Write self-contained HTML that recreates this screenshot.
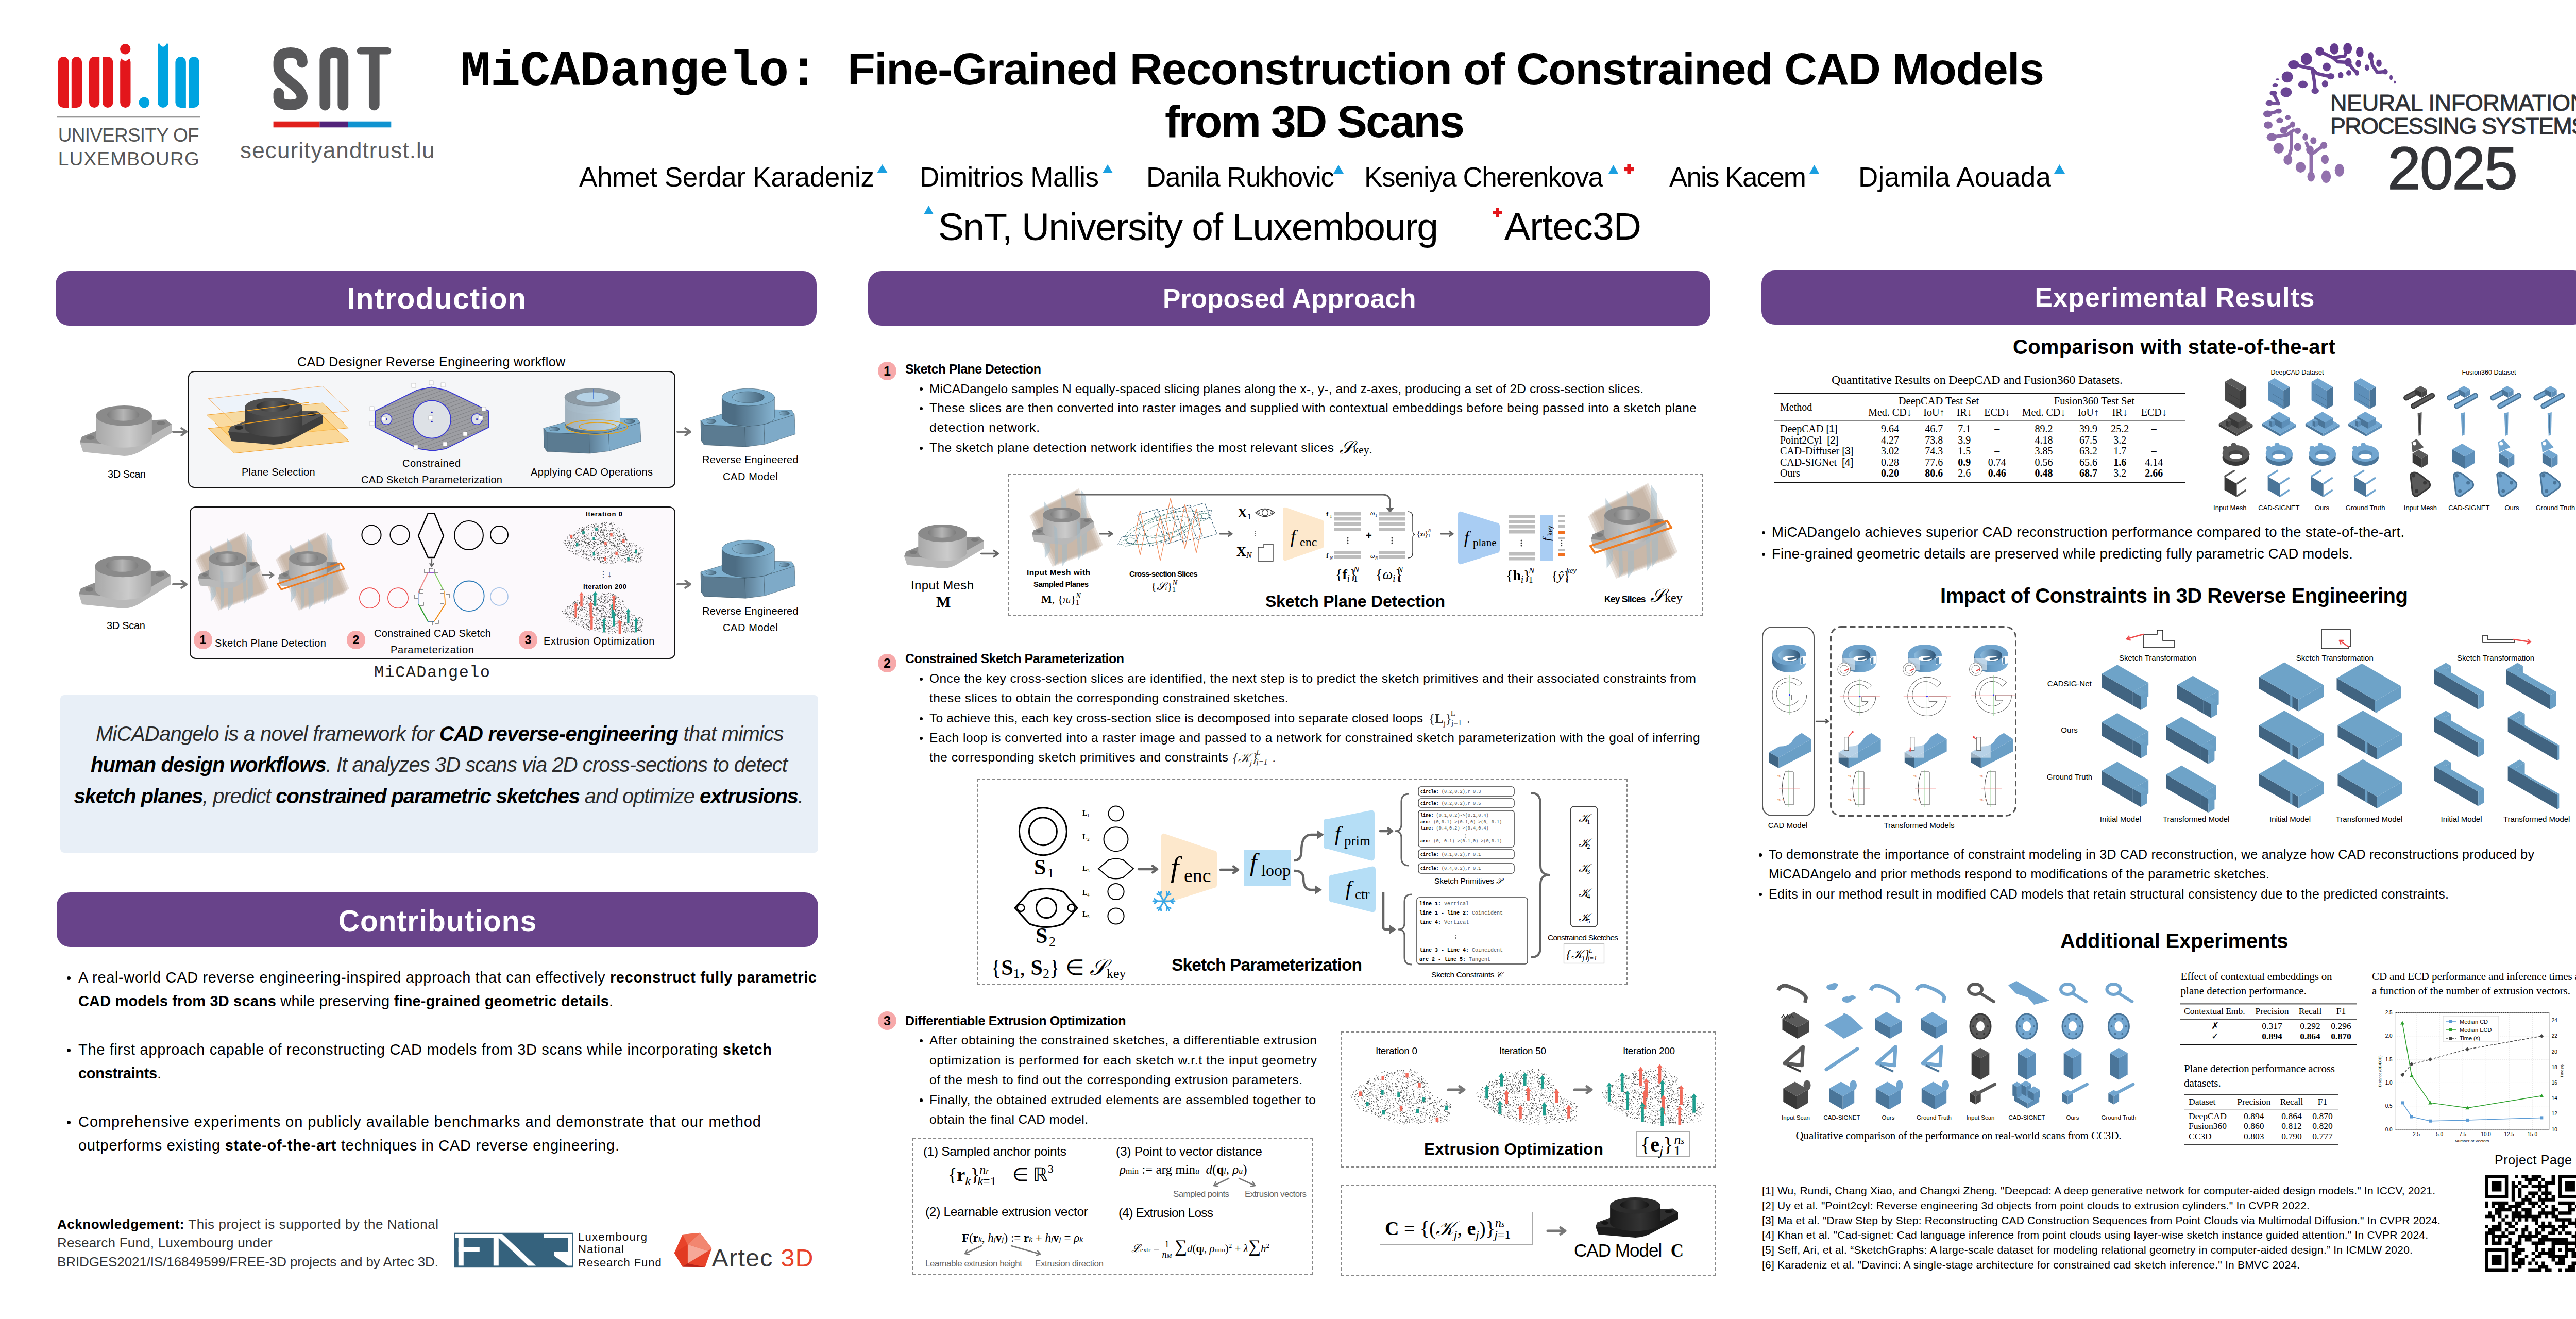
<!DOCTYPE html>
<html><head><meta charset="utf-8"><title>MiCADangelo poster</title><style>
*{margin:0;padding:0;box-sizing:border-box}
html,body{width:5120px;height:2560px;background:#fff;overflow:hidden}
body{position:relative;font-family:"Liberation Sans",Arial,sans-serif;color:#000}
.a{position:absolute}
.t{position:absolute;white-space:nowrap;line-height:1}

</style></head><body>
<svg class="a" style="left:0px;top:0px;" width="420" height="240" viewBox="0 0 420 240"><rect x="112.8" y="110" width="20.7" height="99" rx="10.2" fill="#e3161b"/><rect x="138.8" y="110" width="20.2" height="99" rx="10.2" fill="#e3161b"/><rect x="173" y="110" width="20.2" height="99" rx="10.2" fill="#e3161b"/><rect x="199" y="110" width="20.3" height="99" rx="10.2" fill="#e3161b"/><rect x="233.2" y="110" width="20.3" height="99" rx="10.2" fill="#e3161b"/><rect x="340.4" y="110" width="20.5" height="99" rx="10.2" fill="#00a3e0"/><rect x="366.2" y="110" width="20.5" height="99" rx="10.2" fill="#00a3e0"/><rect x="306.2" y="84.7" width="20.5" height="124.3" rx="10.2" fill="#00a3e0"/><rect x="306.2" y="84.7" width="20.5" height="12" fill="#00a3e0"/><rect x="123" y="199" width="10.5" height="10" fill="#e3161b"/><rect x="138.8" y="199" width="10" height="10" fill="#e3161b"/><rect x="183" y="110" width="10.2" height="10" fill="#e3161b"/><rect x="199" y="110" width="10" height="10" fill="#e3161b"/><rect x="350" y="199" width="10.9" height="10" fill="#00a3e0"/><rect x="366.2" y="199" width="10" height="10" fill="#00a3e0"/><circle cx="243.3" cy="110" r="8" fill="#fff"/><rect x="233.2" y="102" width="20.3" height="8" fill="#fff"/><circle cx="316.5" cy="84.7" r="6" fill="#fff"/><circle cx="243.2" cy="95.2" r="10.2" fill="#e3161b"/><circle cx="279.9" cy="198.9" r="10.3" fill="#00a3e0"/><rect x="110.6" y="226.4" width="278.2" height="1.8" fill="#555"/></svg>
<div class="t" id="f0" style="top:243.5px;font-size:37px;color:#555;letter-spacing:-0.778px;left:112.8px;">UNIVERSITY OF</div>
<div class="t" id="f1" style="top:289.7px;font-size:37px;color:#555;letter-spacing:1.194px;left:112.8px;">LUXEMBOURG</div>
<svg class="a" style="left:0px;top:0px;" width="800" height="260" viewBox="0 0 800 260"><g fill="none" stroke="#58585a" stroke-linecap="round" stroke-linejoin="round"><path d="M586.5,121 L586.5,120 Q586.5,102.3 564,102.3 Q541,102.3 541,120 L541,128 Q541,141 553,151 L575,169 Q586.5,179 586.5,192 L586.5,186 Q586.5,203.7 564,203.7 Q541,203.7 541,190 L541,181" stroke-width="20.8"/><path d="M630.8,204 L630.8,116 Q630.8,102.3 648,102.3 Q665.8,102.3 665.8,116 L665.8,204" stroke-width="20.8"/><path d="M699.5,98.8 L752.5,98.8" stroke-width="13.6"/><path d="M726.3,102 L726.3,204" stroke-width="20.7"/></g><rect x="530.6" y="235.7" width="90" height="11.6" fill="#e1201c"/><rect x="620.5" y="235.7" width="55.5" height="11.6" fill="#52237a"/><rect x="675.8" y="235.7" width="83.5" height="11.6" fill="#1093d0"/></svg>
<div class="t" id="f2" style="top:269.5px;font-size:44px;color:#5d5d5f;letter-spacing:1.135px;left:466px;">securityandtrust.lu</div>
<svg class="a" style="left:4380px;top:75px;" width="290" height="300" viewBox="0 0 290 300"><g transform="translate(-4380,-75)"><defs><linearGradient id="ng" gradientUnits="userSpaceOnUse" x1="0" y1="85" x2="0" y2="355"><stop offset="0" stop-color="#63398d"/><stop offset="0.38" stop-color="#6c4896"/><stop offset="0.55" stop-color="#8968a6"/><stop offset="1" stop-color="#9473ae"/></linearGradient></defs><g fill="url(#ng)" stroke="url(#ng)"><ellipse cx="4502.7" cy="99.8" rx="8.5" ry="8.5" stroke="none"/><ellipse cx="4530.8" cy="94.8" rx="8.5" ry="10.9" stroke="none"/><ellipse cx="4556.7" cy="94.1" rx="8.5" ry="10.9" stroke="none"/><ellipse cx="4580.3" cy="100.9" rx="7.3" ry="10.2" stroke="none"/><ellipse cx="4601.7" cy="108.8" rx="5.3" ry="7.8" stroke="none"/><ellipse cx="4617.5" cy="122.7" rx="5.3" ry="7.3" stroke="none"/><ellipse cx="4629.8" cy="139.1" rx="4.9" ry="5.3" stroke="none"/><ellipse cx="4641.1" cy="150.4" rx="2.9" ry="4.9" stroke="none"/><ellipse cx="4648.3" cy="159.4" rx="1.9" ry="2.9" stroke="none"/><ellipse cx="4557.8" cy="121.1" rx="6.8" ry="8.5" stroke="none"/><ellipse cx="4577.6" cy="123.4" rx="5.3" ry="7.3" stroke="none"/><ellipse cx="4594.3" cy="131.3" rx="4.4" ry="6.1" stroke="none"/><ellipse cx="4574.7" cy="141.4" rx="4.1" ry="5.3" stroke="none"/><ellipse cx="4558.9" cy="141.4" rx="4.9" ry="5.3" stroke="none"/><ellipse cx="4543.2" cy="145.9" rx="5.3" ry="6.1" stroke="none"/><ellipse cx="4516.2" cy="130.1" rx="7.8" ry="8.5" stroke="none"/><ellipse cx="4476.8" cy="114.4" rx="10.9" ry="11.7" stroke="none"/><ellipse cx="4452.0" cy="125.6" rx="10.9" ry="8.5" stroke="none"/><ellipse cx="4439.6" cy="149.3" rx="10.9" ry="10.9" stroke="none"/><ellipse cx="4470.0" cy="163.9" rx="9.2" ry="7.3" stroke="none"/><ellipse cx="4512.8" cy="162.8" rx="6.1" ry="6.8" stroke="none"/><ellipse cx="4493.7" cy="176.3" rx="7.3" ry="6.1" stroke="none"/><ellipse cx="4437.4" cy="179.0" rx="10.9" ry="9.7" stroke="none"/><ellipse cx="4524.0" cy="148.1" rx="7.3" ry="6.1" stroke="none"/><ellipse cx="4420.5" cy="154.2" rx="3.6" ry="1.9" stroke="none"/><ellipse cx="4416.0" cy="165.5" rx="5.3" ry="3.4" stroke="none"/><ellipse cx="4412.6" cy="180.8" rx="7.3" ry="4.9" stroke="none"/><ellipse cx="4404.8" cy="199.9" rx="7.3" ry="5.3" stroke="none"/><ellipse cx="4422.8" cy="215.7" rx="6.1" ry="4.9" stroke="none"/><ellipse cx="4401.4" cy="221.3" rx="8.5" ry="6.8" stroke="none"/><ellipse cx="4440.8" cy="228.0" rx="5.3" ry="4.4" stroke="none"/><ellipse cx="4425.0" cy="233.7" rx="6.8" ry="5.3" stroke="none"/><ellipse cx="4402.5" cy="242.7" rx="8.5" ry="7.3" stroke="none"/><ellipse cx="4449.8" cy="241.6" rx="4.9" ry="6.1" stroke="none"/><ellipse cx="4432.9" cy="252.8" rx="7.3" ry="6.8" stroke="none"/><ellipse cx="4459.9" cy="253.9" rx="6.1" ry="6.1" stroke="none"/><ellipse cx="4409.3" cy="266.3" rx="9.7" ry="7.8" stroke="none"/><ellipse cx="4474.5" cy="265.9" rx="5.3" ry="6.8" stroke="none"/><ellipse cx="4490.3" cy="273.1" rx="6.1" ry="6.8" stroke="none"/><ellipse cx="4422.8" cy="287.7" rx="10.2" ry="10.2" stroke="none"/><ellipse cx="4459.9" cy="285.4" rx="7.3" ry="7.8" stroke="none"/><ellipse cx="4510.5" cy="282.1" rx="6.8" ry="6.8" stroke="none"/><ellipse cx="4440.8" cy="310.2" rx="8.5" ry="9.7" stroke="none"/><ellipse cx="4512.8" cy="309.1" rx="7.3" ry="9.2" stroke="none"/><ellipse cx="4465.5" cy="324.8" rx="9.7" ry="10.2" stroke="none"/><ellipse cx="4485.8" cy="342.8" rx="7.3" ry="9.7" stroke="none"/><ellipse cx="4515.0" cy="342.8" rx="9.2" ry="12.2" stroke="none"/><ellipse cx="4540.9" cy="330.5" rx="9.2" ry="12.2" stroke="none"/><ellipse cx="4483.5" cy="291.1" rx="7.3" ry="8.5" stroke="none"/><path d="M4502.7,99.8 L4528.5,112.1 L4551.1,108.8 L4556.7,94.1" fill="none" stroke-width="6.5" stroke-linecap="round" stroke-linejoin="round"/><path d="M4528.5,112.1 L4537.6,120.0 L4557.8,121.1" fill="none" stroke-width="6.5" stroke-linecap="round" stroke-linejoin="round"/><path d="M4452.0,125.6 L4488.0,133.5 L4497.0,142.5 L4515.0,147.0 L4524.0,148.1" fill="none" stroke-width="6.5" stroke-linecap="round" stroke-linejoin="round"/><path d="M4488.0,133.5 L4492.5,160.5 L4493.7,176.3" fill="none" stroke-width="6.5" stroke-linecap="round" stroke-linejoin="round"/><path d="M4601.7,108.8 L4605.1,126.8 L4614.1,140.3 L4629.8,139.1" fill="none" stroke-width="6.5" stroke-linecap="round" stroke-linejoin="round"/><path d="M4557.8,121.1 L4566.8,133.5 L4574.7,141.4" fill="none" stroke-width="6.5" stroke-linecap="round" stroke-linejoin="round"/><path d="M4409.3,266.3 L4438.5,261.8 L4452.0,252.8" fill="none" stroke-width="6.5" stroke-linecap="round" stroke-linejoin="round"/><path d="M4447.5,261.8 L4447.5,288.8 L4440.8,310.2" fill="none" stroke-width="6.5" stroke-linecap="round" stroke-linejoin="round"/><path d="M4476.8,277.6 L4485.8,300.1 L4485.8,342.8" fill="none" stroke-width="6.5" stroke-linecap="round" stroke-linejoin="round"/><path d="M4485.8,300.1 L4510.5,282.1" fill="none" stroke-width="6.5" stroke-linecap="round" stroke-linejoin="round"/><path d="M4404.8,199.9 L4422.8,201.0 L4412.6,180.8" fill="none" stroke-width="6.5" stroke-linecap="round" stroke-linejoin="round"/><path d="M4401.4,221.3 L4422.8,215.7" fill="none" stroke-width="6.5" stroke-linecap="round" stroke-linejoin="round"/><path d="M4432.9,252.8 L4449.8,241.6" fill="none" stroke-width="6.5" stroke-linecap="round" stroke-linejoin="round"/></g></g></svg>
<div class="t" id="f3" style="top:176.9px;font-size:45px;color:#2f3136;letter-spacing:-0.414px;left:4523px;-webkit-text-stroke:0.9px #2f3136;">NEURAL INFORMATION</div>
<div class="t" id="f4" style="top:221.9px;font-size:45px;color:#2f3136;letter-spacing:-1.742px;left:4523px;-webkit-text-stroke:0.9px #2f3136;">PROCESSING SYSTEMS</div>
<div class="t" id="f5" style="top:267.9px;font-size:117px;color:#333438;letter-spacing:-2.427px;left:4634px;-webkit-text-stroke:1.5px #333438;">2025</div>
<div class="t" id="f6" style="top:90.7px;font-size:97px;font-family:'Liberation Mono', 'Courier New', monospace;font-weight:700;letter-spacing:-0.320px;left:894px;">MiCADangelo:</div>
<div class="t" id="f7" style="top:89.5px;font-size:88px;font-weight:700;letter-spacing:-1.493px;left:1645px;">Fine-Grained Reconstruction of Constrained CAD Models</div>
<div class="t" id="f8" style="top:191.5px;font-size:88px;font-weight:700;letter-spacing:-2.852px;left:2261px;">from 3D Scans</div>
<div class="t" id="f9" style="top:317.1px;font-size:53px;letter-spacing:-0.351px;left:1124px;">Ahmet Serdar Karadeniz</div>
<div class="t" id="f10" style="top:317.1px;font-size:53px;letter-spacing:-0.552px;left:1785px;">Dimitrios Mallis</div>
<div class="t" id="f11" style="top:317.1px;font-size:53px;letter-spacing:-1.283px;left:2225px;">Danila Rukhovic</div>
<div class="t" id="f12" style="top:317.1px;font-size:53px;letter-spacing:-1.474px;left:2648px;">Kseniya Cherenkova</div>
<div class="t" id="f13" style="top:317.1px;font-size:53px;letter-spacing:-1.865px;left:3240px;">Anis Kacem</div>
<div class="t" id="f14" style="top:317.1px;font-size:53px;letter-spacing:0.213px;left:3607px;">Djamila Aouada</div>
<svg class="a" style="left:1702px;top:319px;" width="21" height="17" viewBox="0 0 21 17"><polygon points="10.5,0 21,17 0,17" fill="#1a9fe0"/></svg>
<svg class="a" style="left:2140px;top:319px;" width="20" height="17" viewBox="0 0 20 17"><polygon points="10.0,0 20,17 0,17" fill="#1a9fe0"/></svg>
<svg class="a" style="left:2588px;top:320px;" width="20" height="17" viewBox="0 0 20 17"><polygon points="10.0,0 20,17 0,17" fill="#1a9fe0"/></svg>
<svg class="a" style="left:3122px;top:320px;" width="19" height="17" viewBox="0 0 19 17"><polygon points="9.5,0 19,17 0,17" fill="#1a9fe0"/></svg>
<svg class="a" style="left:3152px;top:319px;" width="20" height="19" viewBox="0 0 20 19"><rect x="6.4" y="0" width="7.199999999999999" height="19" fill="#e3161b"/><rect x="0" y="5.9" width="20" height="7.199999999999999" fill="#e3161b"/></svg>
<svg class="a" style="left:3512px;top:320px;" width="19" height="17" viewBox="0 0 19 17"><polygon points="9.5,0 19,17 0,17" fill="#1a9fe0"/></svg>
<svg class="a" style="left:3987px;top:319px;" width="21" height="18" viewBox="0 0 21 18"><polygon points="10.5,0 21,18 0,18" fill="#1a9fe0"/></svg>
<div class="t" id="f15" style="top:402.5px;font-size:75px;letter-spacing:-1.796px;left:1821px;">SnT, University of Luxembourg</div>
<svg class="a" style="left:1793px;top:399px;" width="19" height="17" viewBox="0 0 19 17"><polygon points="9.5,0 19,17 0,17" fill="#1a9fe0"/></svg>
<div class="t" id="f16" style="top:401.5px;font-size:75px;letter-spacing:-0.823px;left:2920px;">Artec3D</div>
<svg class="a" style="left:2897px;top:403px;" width="19" height="19" viewBox="0 0 19 19"><rect x="6.08" y="0" width="6.84" height="19" fill="#e3161b"/><rect x="0" y="6.08" width="19" height="6.84" fill="#e3161b"/></svg>
<div class="a" style="left:108px;top:526px;width:1477px;height:106px;background:#68438a;border-radius:26px;"></div>
<div class="t" id="f17" style="top:551.2px;font-size:57px;font-weight:700;color:#fff;letter-spacing:1.369px;left:847.75px;transform:translateX(-50%);">Introduction</div>
<div class="a" style="left:1685px;top:526px;width:1635px;height:106px;background:#68438a;border-radius:26px;"></div>
<div class="t" id="f18" style="top:554.2px;font-size:51.5px;font-weight:700;color:#fff;letter-spacing:0.083px;left:2502.8px;transform:translateX(-50%);">Proposed Approach</div>
<div class="a" style="left:3419px;top:525px;width:1602px;height:105px;background:#68438a;border-radius:26px;"></div>
<div class="t" id="f19" style="top:552.4px;font-size:51.5px;font-weight:700;color:#fff;letter-spacing:1.012px;left:4221.5px;transform:translateX(-50%);">Experimental Results</div>
<div class="a" style="left:110px;top:1732px;width:1478px;height:106px;background:#68438a;border-radius:26px;"></div>
<div class="t" id="f20" style="top:1759.0px;font-size:57px;font-weight:700;color:#fff;letter-spacing:0.892px;left:849.4499999999999px;transform:translateX(-50%);">Contributions</div>
<div class="t" id="f21" style="top:689.6px;font-size:25px;letter-spacing:0.390px;left:577px;">CAD Designer Reverse Engineering workflow</div>
<div class="a" style="left:365px;top:720px;width:946px;height:227px;background:#f5f6f8;border:2.5px solid #111;border-radius:12px;"></div>
<div class="a" style="left:368px;top:983px;width:943px;height:296px;background:#fcf9fc;border:2.5px solid #111;border-radius:12px;"></div>
<svg class="a" style="left:155px;top:787px;overflow:visible;" width="178" height="98" viewBox="15.5 46.5 177 100.2" preserveAspectRatio="none"><defs><linearGradient id="scsgray1" x1="0" x2="1"><stop offset="0" stop-color="#a8a8a8"/><stop offset="0.6" stop-color="#cbcbcb"/><stop offset="1" stop-color="#a8a8a8"/></linearGradient><linearGradient id="shsgray1" x1="0" x2="1"><stop offset="0" stop-color="#7c7c7c"/><stop offset="0.5" stop-color="#b5b5b5"/><stop offset="1" stop-color="#7c7c7c"/></linearGradient></defs><path d="M15.5,119.5 L19.4,108.7 L51.2,95.5 L155.2,75.3 L181.6,74.5 L192.5,83.8 L192.5,100.9 L140,133 Q120,146.7 100.9,146.7 L21.7,138.9 Z" fill="#b9b9b9"/><path d="M15.5,119.5 L19.4,108.7 L51.2,95.5 L155.2,75.3 L181.6,74.5 L192.5,83.8 L142,113 L84,124 Z" fill="#8e8e8e"/><ellipse cx="35.7" cy="110.2" rx="8" ry="4.5" fill="#7a7a7a"/><ellipse cx="172.3" cy="81.5" rx="8.5" ry="4" fill="#7a7a7a"/><path d="M46.6,66.7 L46.6,110 A54,20.2 0 0 0 154.6,110 L154.6,66.7 Z" fill="url(#scsgray1)"/><ellipse cx="100.6" cy="66.7" rx="54" ry="20.2" fill="#8a8a8a"/><ellipse cx="99.3" cy="64.8" rx="31" ry="12" fill="url(#shsgray1)"/></svg>
<svg class="a" style="left:153px;top:1079px;overflow:visible;" width="178" height="102" viewBox="15.5 46.5 177 100.2" preserveAspectRatio="none"><defs><linearGradient id="scsgray2" x1="0" x2="1"><stop offset="0" stop-color="#a8a8a8"/><stop offset="0.6" stop-color="#cbcbcb"/><stop offset="1" stop-color="#a8a8a8"/></linearGradient><linearGradient id="shsgray2" x1="0" x2="1"><stop offset="0" stop-color="#7c7c7c"/><stop offset="0.5" stop-color="#b5b5b5"/><stop offset="1" stop-color="#7c7c7c"/></linearGradient></defs><path d="M15.5,119.5 L19.4,108.7 L51.2,95.5 L155.2,75.3 L181.6,74.5 L192.5,83.8 L192.5,100.9 L140,133 Q120,146.7 100.9,146.7 L21.7,138.9 Z" fill="#b9b9b9"/><path d="M15.5,119.5 L19.4,108.7 L51.2,95.5 L155.2,75.3 L181.6,74.5 L192.5,83.8 L142,113 L84,124 Z" fill="#8e8e8e"/><ellipse cx="35.7" cy="110.2" rx="8" ry="4.5" fill="#7a7a7a"/><ellipse cx="172.3" cy="81.5" rx="8.5" ry="4" fill="#7a7a7a"/><path d="M46.6,66.7 L46.6,110 A54,20.2 0 0 0 154.6,110 L154.6,66.7 Z" fill="url(#scsgray2)"/><ellipse cx="100.6" cy="66.7" rx="54" ry="20.2" fill="#8a8a8a"/><ellipse cx="99.3" cy="64.8" rx="31" ry="12" fill="url(#shsgray2)"/></svg>
<svg class="a" style="left:1359.8px;top:754px;overflow:visible;" width="183.7" height="113.2" viewBox="9.8 14 183.7 113.2" preserveAspectRatio="none"><defs><linearGradient id="fmblue3" x1="0" x2="1"><stop offset="0" stop-color="#5e7f96"/><stop offset="1" stop-color="#80abc8"/></linearGradient><linearGradient id="fcblue3" x1="0" x2="1"><stop offset="0" stop-color="#4d6d84"/><stop offset="0.25" stop-color="#4d6d84"/><stop offset="1" stop-color="#85b3d0"/></linearGradient><linearGradient id="fhblue3" x1="0" x2="1"><stop offset="0" stop-color="#8ab8d4"/><stop offset="1" stop-color="#46657b"/></linearGradient></defs><polygon points="9.8,76.1 16.3,84.8 16.3,123.4 10.9,115.2" fill="#5b7b91" stroke="#2f4656" stroke-width="0.5" stroke-linejoin="round"/><polygon points="16.3,84.8 95.7,88 96.7,127.2 16.3,123.4" fill="#5b7b91" stroke="#2f4656" stroke-width="0.5" stroke-linejoin="round"/><polygon points="95.7,88 132.6,83.7 134.2,122.3 96.7,127.2" fill="url(#fmblue3)" stroke="#2f4656" stroke-width="0.5" stroke-linejoin="round"/><polygon points="132.6,83.7 191.8,64.7 193.5,102.7 134.2,122.3" fill="#7eaac8" stroke="#2f4656" stroke-width="0.5" stroke-linejoin="round"/><polygon points="9.8,76.1 51,63.6 141,55 186.4,56 191.8,64.7 132.6,83.7 95.7,88 16.3,84.8" fill="#7fb0cf" stroke="#2f4656" stroke-width="0.5" stroke-linejoin="round"/><ellipse cx="29.9" cy="77.7" rx="10" ry="4" fill="url(#fhblue3)" stroke="#2f4656" stroke-width="0.5" stroke-linejoin="round"/><ellipse cx="172.3" cy="62" rx="10" ry="4" fill="url(#fhblue3)" stroke="#2f4656" stroke-width="0.5" stroke-linejoin="round"/><path d="M51.2,31 L51.2,70 A51,16.8 0 0 0 153.2,70 L153.2,31 Z" fill="url(#fcblue3)" stroke="#2f4656" stroke-width="0.5" stroke-linejoin="round"/><ellipse cx="102.2" cy="31" rx="51" ry="16.8" fill="#7fb0cf" stroke="#2f4656" stroke-width="0.5" stroke-linejoin="round"/><ellipse cx="102.2" cy="31" rx="31" ry="10.9" fill="url(#fhblue3)" stroke="#2f4656" stroke-width="0.5" stroke-linejoin="round"/></svg>
<svg class="a" style="left:1359.8px;top:1048px;overflow:visible;" width="183.7" height="113.2" viewBox="9.8 14 183.7 113.2" preserveAspectRatio="none"><defs><linearGradient id="fmblue4" x1="0" x2="1"><stop offset="0" stop-color="#5e7f96"/><stop offset="1" stop-color="#80abc8"/></linearGradient><linearGradient id="fcblue4" x1="0" x2="1"><stop offset="0" stop-color="#4d6d84"/><stop offset="0.25" stop-color="#4d6d84"/><stop offset="1" stop-color="#85b3d0"/></linearGradient><linearGradient id="fhblue4" x1="0" x2="1"><stop offset="0" stop-color="#8ab8d4"/><stop offset="1" stop-color="#46657b"/></linearGradient></defs><polygon points="9.8,76.1 16.3,84.8 16.3,123.4 10.9,115.2" fill="#5b7b91" stroke="#2f4656" stroke-width="0.5" stroke-linejoin="round"/><polygon points="16.3,84.8 95.7,88 96.7,127.2 16.3,123.4" fill="#5b7b91" stroke="#2f4656" stroke-width="0.5" stroke-linejoin="round"/><polygon points="95.7,88 132.6,83.7 134.2,122.3 96.7,127.2" fill="url(#fmblue4)" stroke="#2f4656" stroke-width="0.5" stroke-linejoin="round"/><polygon points="132.6,83.7 191.8,64.7 193.5,102.7 134.2,122.3" fill="#7eaac8" stroke="#2f4656" stroke-width="0.5" stroke-linejoin="round"/><polygon points="9.8,76.1 51,63.6 141,55 186.4,56 191.8,64.7 132.6,83.7 95.7,88 16.3,84.8" fill="#7fb0cf" stroke="#2f4656" stroke-width="0.5" stroke-linejoin="round"/><ellipse cx="29.9" cy="77.7" rx="10" ry="4" fill="url(#fhblue4)" stroke="#2f4656" stroke-width="0.5" stroke-linejoin="round"/><ellipse cx="172.3" cy="62" rx="10" ry="4" fill="url(#fhblue4)" stroke="#2f4656" stroke-width="0.5" stroke-linejoin="round"/><path d="M51.2,31 L51.2,70 A51,16.8 0 0 0 153.2,70 L153.2,31 Z" fill="url(#fcblue4)" stroke="#2f4656" stroke-width="0.5" stroke-linejoin="round"/><ellipse cx="102.2" cy="31" rx="51" ry="16.8" fill="#7fb0cf" stroke="#2f4656" stroke-width="0.5" stroke-linejoin="round"/><ellipse cx="102.2" cy="31" rx="31" ry="10.9" fill="url(#fhblue4)" stroke="#2f4656" stroke-width="0.5" stroke-linejoin="round"/></svg>
<svg class="a" style="left:322px;top:824px;" width="54" height="28" viewBox="0 0 54 28"><g stroke="#777" stroke-width="4" stroke-linecap="round" stroke-linejoin="round" fill="none"><path d="M14.0,14.0 L37.6,14.0"/><path d="M30.2,20.9 L40.0,14.0 L30.2,7.1"/></g></svg>
<svg class="a" style="left:1301px;top:824px;" width="53" height="28" viewBox="0 0 53 28"><g stroke="#777" stroke-width="4" stroke-linecap="round" stroke-linejoin="round" fill="none"><path d="M14.0,14.0 L36.6,14.0"/><path d="M29.2,20.9 L39.0,14.0 L29.2,7.1"/></g></svg>
<svg class="a" style="left:322px;top:1120px;" width="54" height="28" viewBox="0 0 54 28"><g stroke="#777" stroke-width="4" stroke-linecap="round" stroke-linejoin="round" fill="none"><path d="M14.0,14.0 L37.6,14.0"/><path d="M30.2,20.9 L40.0,14.0 L30.2,7.1"/></g></svg>
<svg class="a" style="left:1301px;top:1120px;" width="53" height="28" viewBox="0 0 53 28"><g stroke="#777" stroke-width="4" stroke-linecap="round" stroke-linejoin="round" fill="none"><path d="M14.0,14.0 L36.6,14.0"/><path d="M29.2,20.9 L39.0,14.0 L29.2,7.1"/></g></svg>
<div class="t" id="f22" style="top:910.1px;font-size:20px;letter-spacing:-0.453px;left:209px;">3D Scan</div>
<div class="t" id="f23" style="top:1204.1px;font-size:20px;letter-spacing:-0.286px;left:207px;">3D Scan</div>
<div class="t" id="f24" style="top:905.7px;font-size:20px;letter-spacing:0.258px;left:469px;">Plane Selection</div>
<div class="t" id="f25" style="top:888.8px;font-size:20px;letter-spacing:0.516px;left:781px;">Constrained</div>
<div class="t" id="f26" style="top:921.1px;font-size:20px;letter-spacing:0.320px;left:701px;">CAD Sketch Parameterization</div>
<div class="t" id="f27" style="top:905.7px;font-size:20px;letter-spacing:0.414px;left:1030px;">Applying CAD Operations</div>
<div class="t" id="f28" style="top:882.1px;font-size:20px;letter-spacing:0.250px;left:1363px;">Reverse Engineered</div>
<div class="t" id="f29" style="top:915.1px;font-size:20px;letter-spacing:0.592px;left:1403px;">CAD Model</div>
<div class="t" id="f30" style="top:1175.8px;font-size:20px;letter-spacing:0.250px;left:1363px;">Reverse Engineered</div>
<div class="t" id="f31" style="top:1208.1px;font-size:20px;letter-spacing:0.592px;left:1403px;">CAD Model</div>
<svg class="a" style="left:395px;top:740px;" width="295" height="150" viewBox="0 0 295 150"><polygon points="9.2,33.8 231.8,9.4 282.7,57.5 59.0,80.0" fill="rgba(235,242,250,0.8)" stroke="#f6b26b" stroke-width="1"/><polygon points="6.8,65.3 231.8,42.0 281.5,90.6 56.6,113.0" fill="rgba(253,196,90,0.55)" stroke="#f0a030" stroke-width="1"/><polygon points="9.0,91.8 231.8,68.0 282.7,116.7 59.0,139.7" fill="rgba(253,196,90,0.6)" stroke="#f0a030" stroke-width="1"/><svg x="48" y="32" width="183" height="91" viewBox="15.5 46.5 177 100.2" preserveAspectRatio="none" overflow="visible"><defs><linearGradient id="scsdark5" x1="0" x2="1"><stop offset="0" stop-color="#3c3c3c"/><stop offset="0.6" stop-color="#5a5a5a"/><stop offset="1" stop-color="#3c3c3c"/></linearGradient><linearGradient id="shsdark5" x1="0" x2="1"><stop offset="0" stop-color="#2e2e2e"/><stop offset="0.5" stop-color="#5c5c5c"/><stop offset="1" stop-color="#2e2e2e"/></linearGradient></defs><path d="M15.5,119.5 L19.4,108.7 L51.2,95.5 L155.2,75.3 L181.6,74.5 L192.5,83.8 L192.5,100.9 L140,133 Q120,146.7 100.9,146.7 L21.7,138.9 Z" fill="#3e3e3e"/><path d="M15.5,119.5 L19.4,108.7 L51.2,95.5 L155.2,75.3 L181.6,74.5 L192.5,83.8 L142,113 L84,124 Z" fill="#555"/><ellipse cx="35.7" cy="110.2" rx="8" ry="4.5" fill="#2a2a2a"/><ellipse cx="172.3" cy="81.5" rx="8.5" ry="4" fill="#2a2a2a"/><path d="M46.6,66.7 L46.6,110 A54,20.2 0 0 0 154.6,110 L154.6,66.7 Z" fill="url(#scsdark5)"/><ellipse cx="100.6" cy="66.7" rx="54" ry="20.2" fill="#505050"/><ellipse cx="99.3" cy="64.8" rx="31" ry="12" fill="url(#shsdark5)"/></svg><line x1="85" y1="57" x2="205" y2="41" stroke="#f0a020" stroke-width="1.5"/><line x1="75" y1="83" x2="225" y2="62" stroke="#f0a020" stroke-width="1.5"/></svg>
<svg class="a" style="left:715px;top:735px;" width="245" height="160" viewBox="0 0 245 160"><defs><pattern id="hatch" width="7" height="7" patternUnits="userSpaceOnUse" patternTransform="rotate(70)"><rect width="7" height="7" fill="#9d9ea3"/><line x1="0" y1="0" x2="0" y2="7" stroke="#6d6e73" stroke-width="1.2"/></pattern></defs><polygon points="13.6,62.5 95.0,22.0 122.5,16.3 150.0,22.0 233.4,62.5 233.4,94.5 150.0,136.0 125.0,140.0 97.0,136.0 13.6,94.5" fill="url(#hatch)" stroke="#3636d6" stroke-width="1.8"/><circle cx="123.29999999999995" cy="79" r="36.7" fill="#dde1e6" stroke="#3636d6" stroke-width="1.8"/><circle cx="35" cy="78.60000000000002" r="10.7" fill="#dde1e6" stroke="#3636d6" stroke-width="1.5"/><circle cx="210.60000000000002" cy="78.60000000000002" r="10.7" fill="#dde1e6" stroke="#3636d6" stroke-width="1.5"/><circle cx="35" cy="78.60000000000002" r="1.6" fill="#1818c0"/><circle cx="210.60000000000002" cy="78.60000000000002" r="1.6" fill="#1818c0"/><circle cx="123.29999999999995" cy="65" r="1.6" fill="#1818c0"/><circle cx="123.29999999999995" cy="83" r="1.6" fill="#1818c0"/><rect x="84" y="9" width="8" height="8" fill="#fff" stroke="#999" stroke-width="0.5"/><rect x="118" y="4" width="8" height="8" fill="#fff" stroke="#999" stroke-width="0.5"/><rect x="141" y="8" width="8" height="8" fill="#fff" stroke="#999" stroke-width="0.5"/><rect x="3" y="54" width="8" height="8" fill="#fff" stroke="#999" stroke-width="0.5"/><rect x="3" y="83" width="8" height="8" fill="#fff" stroke="#999" stroke-width="0.5"/><rect x="220" y="55" width="8" height="8" fill="#fff" stroke="#999" stroke-width="0.5"/><rect x="88" y="129" width="8" height="8" fill="#fff" stroke="#999" stroke-width="0.5"/><rect x="145" y="123" width="8" height="8" fill="#fff" stroke="#999" stroke-width="0.5"/><rect x="184" y="103" width="8" height="8" fill="#fff" stroke="#999" stroke-width="0.5"/><rect x="117" y="72" width="8" height="8" fill="#fff" stroke="#999" stroke-width="0.5"/><rect x="26" y="74" width="8" height="8" fill="#fff" stroke="#999" stroke-width="0.5"/><rect x="214" y="72" width="8" height="8" fill="#fff" stroke="#999" stroke-width="0.5"/></svg>
<svg class="a" style="left:1050px;top:740px;" width="200" height="145" viewBox="0 0 200 145"><svg x="5" y="32" width="189" height="108" viewBox="9.8 14 183.7 113.2" preserveAspectRatio="none" overflow="visible"><defs><linearGradient id="fmblue6" x1="0" x2="1"><stop offset="0" stop-color="#5e7f96"/><stop offset="1" stop-color="#80abc8"/></linearGradient><linearGradient id="fcblue6" x1="0" x2="1"><stop offset="0" stop-color="#4d6d84"/><stop offset="0.25" stop-color="#4d6d84"/><stop offset="1" stop-color="#85b3d0"/></linearGradient><linearGradient id="fhblue6" x1="0" x2="1"><stop offset="0" stop-color="#8ab8d4"/><stop offset="1" stop-color="#46657b"/></linearGradient></defs><polygon points="9.8,76.1 16.3,84.8 16.3,123.4 10.9,115.2" fill="#5b7b91" stroke="#2f4656" stroke-width="0.5" stroke-linejoin="round"/><polygon points="16.3,84.8 95.7,88 96.7,127.2 16.3,123.4" fill="#5b7b91" stroke="#2f4656" stroke-width="0.5" stroke-linejoin="round"/><polygon points="95.7,88 132.6,83.7 134.2,122.3 96.7,127.2" fill="url(#fmblue6)" stroke="#2f4656" stroke-width="0.5" stroke-linejoin="round"/><polygon points="132.6,83.7 191.8,64.7 193.5,102.7 134.2,122.3" fill="#7eaac8" stroke="#2f4656" stroke-width="0.5" stroke-linejoin="round"/><polygon points="9.8,76.1 51,63.6 141,55 186.4,56 191.8,64.7 132.6,83.7 95.7,88 16.3,84.8" fill="#7fb0cf" stroke="#2f4656" stroke-width="0.5" stroke-linejoin="round"/><ellipse cx="29.9" cy="77.7" rx="10" ry="4" fill="url(#fhblue6)" stroke="#2f4656" stroke-width="0.5" stroke-linejoin="round"/><ellipse cx="172.3" cy="62" rx="10" ry="4" fill="url(#fhblue6)" stroke="#2f4656" stroke-width="0.5" stroke-linejoin="round"/><path d="M51.2,31 L51.2,70 A51,16.8 0 0 0 153.2,70 L153.2,31 Z" fill="url(#fcblue6)" stroke="#2f4656" stroke-width="0.5" stroke-linejoin="round"/><ellipse cx="102.2" cy="31" rx="51" ry="16.8" fill="#7fb0cf" stroke="#2f4656" stroke-width="0.5" stroke-linejoin="round"/><ellipse cx="102.2" cy="31" rx="31" ry="10.9" fill="url(#fhblue6)" stroke="#2f4656" stroke-width="0.5" stroke-linejoin="round"/></svg><defs><linearGradient id="opc" x1="0" x2="1"><stop offset="0" stop-color="#a3b3bf"/><stop offset="0.6" stop-color="#b4c8d6"/><stop offset="1" stop-color="#c5dbea"/></linearGradient></defs><path d="M46,31 L46,79 A54,17 0 0 0 154,79 L154,31 Z" fill="url(#opc)" opacity="0.95"/><ellipse cx="100" cy="31" rx="54" ry="17" fill="#8d9aa4" stroke="#6f7d88" stroke-width="0.6"/><ellipse cx="100" cy="31" rx="32" ry="10" fill="#b5d2e6" stroke="#6f7d88" stroke-width="0.5"/><ellipse cx="108" cy="89" rx="60" ry="14" fill="none" stroke="#e3a21a" stroke-width="1.6"/><ellipse cx="110" cy="88" rx="36" ry="8" fill="none" stroke="#e3a21a" stroke-width="1.6"/><line x1="102" y1="15" x2="102" y2="35" stroke="#3f6fd0" stroke-width="1.5"/></svg>
<svg class="a" style="left:379px;top:1035px;overflow:visible;" width="150.0" height="155.0" viewBox="0 0 150 155"><polygon points="0,51 87,7 134,117 45,150" fill="rgba(188,168,150,0.33)"/><polygon points="3,48 90,4 137,114 48,147" fill="rgba(188,168,150,0.33)"/><polygon points="6,45 93,1 140,111 51,144" fill="rgba(188,168,150,0.33)"/><polygon points="9,42 96,-2 143,108 54,141" fill="rgba(188,168,150,0.33)"/><polygon points="28,22 38,36 40,120 30,134" fill="rgba(160,185,200,0.55)"/><polygon points="62,10 72,24 74,135 64,149" fill="rgba(160,185,200,0.55)"/><polygon points="100,0 110,14 112,118 102,132" fill="rgba(160,185,200,0.55)"/><svg x="5" y="35" width="120" height="72" viewBox="15.5 46.5 177 100.2" preserveAspectRatio="none" overflow="visible"><defs><linearGradient id="scsgray7" x1="0" x2="1"><stop offset="0" stop-color="#a8a8a8"/><stop offset="0.6" stop-color="#cbcbcb"/><stop offset="1" stop-color="#a8a8a8"/></linearGradient><linearGradient id="shsgray7" x1="0" x2="1"><stop offset="0" stop-color="#7c7c7c"/><stop offset="0.5" stop-color="#b5b5b5"/><stop offset="1" stop-color="#7c7c7c"/></linearGradient></defs><path d="M15.5,119.5 L19.4,108.7 L51.2,95.5 L155.2,75.3 L181.6,74.5 L192.5,83.8 L192.5,100.9 L140,133 Q120,146.7 100.9,146.7 L21.7,138.9 Z" fill="#b9b9b9"/><path d="M15.5,119.5 L19.4,108.7 L51.2,95.5 L155.2,75.3 L181.6,74.5 L192.5,83.8 L142,113 L84,124 Z" fill="#8e8e8e"/><ellipse cx="35.7" cy="110.2" rx="8" ry="4.5" fill="#7a7a7a"/><ellipse cx="172.3" cy="81.5" rx="8.5" ry="4" fill="#7a7a7a"/><path d="M46.6,66.7 L46.6,110 A54,20.2 0 0 0 154.6,110 L154.6,66.7 Z" fill="url(#scsgray7)"/><ellipse cx="100.6" cy="66.7" rx="54" ry="20.2" fill="#8a8a8a"/><ellipse cx="99.3" cy="64.8" rx="31" ry="12" fill="url(#shsgray7)"/></svg><polygon points="48,70 54,76 56,140 50,148" fill="rgba(160,185,200,0.5)"/><polygon points="92,60 98,66 100,130 94,138" fill="rgba(160,185,200,0.5)"/></svg>
<svg class="a" style="left:535px;top:1035px;overflow:visible;" width="150.0" height="155.0" viewBox="0 0 150 155"><polygon points="0,51 87,7 134,117 45,150" fill="rgba(188,168,150,0.33)"/><polygon points="3,48 90,4 137,114 48,147" fill="rgba(188,168,150,0.33)"/><polygon points="6,45 93,1 140,111 51,144" fill="rgba(188,168,150,0.33)"/><polygon points="9,42 96,-2 143,108 54,141" fill="rgba(188,168,150,0.33)"/><polygon points="28,22 38,36 40,120 30,134" fill="rgba(160,185,200,0.55)"/><polygon points="62,10 72,24 74,135 64,149" fill="rgba(160,185,200,0.55)"/><polygon points="100,0 110,14 112,118 102,132" fill="rgba(160,185,200,0.55)"/><svg x="5" y="35" width="120" height="72" viewBox="15.5 46.5 177 100.2" preserveAspectRatio="none" overflow="visible"><defs><linearGradient id="scsgray8" x1="0" x2="1"><stop offset="0" stop-color="#a8a8a8"/><stop offset="0.6" stop-color="#cbcbcb"/><stop offset="1" stop-color="#a8a8a8"/></linearGradient><linearGradient id="shsgray8" x1="0" x2="1"><stop offset="0" stop-color="#7c7c7c"/><stop offset="0.5" stop-color="#b5b5b5"/><stop offset="1" stop-color="#7c7c7c"/></linearGradient></defs><path d="M15.5,119.5 L19.4,108.7 L51.2,95.5 L155.2,75.3 L181.6,74.5 L192.5,83.8 L192.5,100.9 L140,133 Q120,146.7 100.9,146.7 L21.7,138.9 Z" fill="#b9b9b9"/><path d="M15.5,119.5 L19.4,108.7 L51.2,95.5 L155.2,75.3 L181.6,74.5 L192.5,83.8 L142,113 L84,124 Z" fill="#8e8e8e"/><ellipse cx="35.7" cy="110.2" rx="8" ry="4.5" fill="#7a7a7a"/><ellipse cx="172.3" cy="81.5" rx="8.5" ry="4" fill="#7a7a7a"/><path d="M46.6,66.7 L46.6,110 A54,20.2 0 0 0 154.6,110 L154.6,66.7 Z" fill="url(#scsgray8)"/><ellipse cx="100.6" cy="66.7" rx="54" ry="20.2" fill="#8a8a8a"/><ellipse cx="99.3" cy="64.8" rx="31" ry="12" fill="url(#shsgray8)"/></svg><polygon points="48,70 54,76 56,140 50,148" fill="rgba(160,185,200,0.5)"/><polygon points="92,60 98,66 100,130 94,138" fill="rgba(160,185,200,0.5)"/><polygon points="4,98 126,58 133,69 11,109" fill="none" stroke="#f07a1e" stroke-width="3.2" stroke-linejoin="round"/></svg>
<svg class="a" style="left:499px;top:1105px;" width="43" height="22" viewBox="0 0 43 22"><g stroke="#777" stroke-width="3" stroke-linecap="round" stroke-linejoin="round" fill="none"><path d="M11.0,11.0 L30.2,11.0"/><path d="M24.6,16.2 L32.0,11.0 L24.6,5.8"/></g></svg>
<svg class="a" style="left:690px;top:990px;" width="300" height="230" viewBox="0 0 300 230"><g fill="none" stroke="#000" stroke-width="2"><circle cx="31" cy="48" r="18.6"/><circle cx="86" cy="48" r="18.6"/><circle cx="220" cy="49" r="27.9"/><circle cx="279" cy="48" r="17"/><polygon points="140.70000000000005,6.399999999999977 153.20000000000005,6.399999999999977 171,50 153.20000000000005,92 140.70000000000005,92 122,50" stroke-width="2.4" stroke-linejoin="round"/></g><g stroke="#666" stroke-width="2.5" stroke-linecap="round" stroke-linejoin="round" fill="none"><path d="M147.9,95.0 L147.9,109.0"/><path d="M144.5,104.1 L147.9,109.0 L151.3,104.1"/></g><circle cx="27.5" cy="170.70000000000005" r="19.6" fill="none" stroke="#ee4b4b" stroke-width="1.6"/><circle cx="82.5" cy="170.70000000000005" r="19.6" fill="none" stroke="#ee4b4b" stroke-width="1.6"/><circle cx="220.39999999999998" cy="166.79999999999995" r="29.3" fill="none" stroke="#2a7ab8" stroke-width="1.8"/><circle cx="279" cy="167.9000000000001" r="17" fill="none" stroke="#a8c4e8" stroke-width="1.6"/><line x1="140.70000000000005" y1="121.40000000000009" x2="153.29999999999995" y2="121.40000000000009" stroke="#9b59d0" stroke-width="2"/><line x1="153.29999999999995" y1="121.40000000000009" x2="172" y2="158" stroke="#88d068" stroke-width="2"/><line x1="172" y1="158" x2="174.60000000000002" y2="182" stroke="#f3a84a" stroke-width="2"/><line x1="174.60000000000002" y1="182" x2="153" y2="216" stroke="#f08a10" stroke-width="2"/><line x1="153" y1="216" x2="140.70000000000005" y2="216" stroke="#2a7ab8" stroke-width="2"/><line x1="140.70000000000005" y1="216" x2="122" y2="182" stroke="#2e9e2e" stroke-width="2"/><line x1="122" y1="182" x2="122" y2="160" stroke="#a6bde6" stroke-width="2"/><line x1="122" y1="160" x2="140.70000000000005" y2="121.40000000000009" stroke="#f08a8a" stroke-width="2"/><rect x="133.5" y="114.5" width="7" height="7" fill="#fff" stroke="#666" stroke-width="0.7"/><rect x="143.5" y="113.5" width="7" height="7" fill="#fff" stroke="#666" stroke-width="0.7"/><rect x="153.5" y="114.5" width="7" height="7" fill="#fff" stroke="#666" stroke-width="0.7"/><rect x="114.5" y="164.5" width="7" height="7" fill="#fff" stroke="#666" stroke-width="0.7"/><rect x="124.5" y="154.5" width="7" height="7" fill="#fff" stroke="#666" stroke-width="0.7"/><rect x="125.5" y="178.5" width="7" height="7" fill="#fff" stroke="#666" stroke-width="0.7"/><rect x="164.5" y="154.5" width="7" height="7" fill="#fff" stroke="#666" stroke-width="0.7"/><rect x="175.5" y="163.5" width="7" height="7" fill="#fff" stroke="#666" stroke-width="0.7"/><rect x="164.5" y="174.5" width="7" height="7" fill="#fff" stroke="#666" stroke-width="0.7"/><rect x="142.5" y="216.5" width="7" height="7" fill="#fff" stroke="#666" stroke-width="0.7"/><rect x="154.5" y="213.5" width="7" height="7" fill="#fff" stroke="#666" stroke-width="0.7"/></svg>
<svg class="a" style="left:1090px;top:1012px;overflow:visible;" width="158" height="82" viewBox="0 0 158 82"><path d="M47 41h1.4v1.4h-1.4zM74 47h1.4v1.4h-1.4zM152 53h1.4v1.4h-1.4zM70 7h1.4v1.4h-1.4zM16 52h1.4v1.4h-1.4zM37 18h1.4v1.4h-1.4zM77 11h1.4v1.4h-1.4zM83 2h1.4v1.4h-1.4zM28 57h1.4v1.4h-1.4zM50 63h1.4v1.4h-1.4zM111 69h1.4v1.4h-1.4zM108 74h1.4v1.4h-1.4zM24 27h1.4v1.4h-1.4zM30 39h1.4v1.4h-1.4zM118 43h1.4v1.4h-1.4zM130 74h1.4v1.4h-1.4zM75 11h1.4v1.4h-1.4zM79 77h1.4v1.4h-1.4zM40 15h1.4v1.4h-1.4zM32 39h1.4v1.4h-1.4zM95 74h1.4v1.4h-1.4zM90 37h1.4v1.4h-1.4zM64 23h1.4v1.4h-1.4zM100 20h1.4v1.4h-1.4zM63 7h1.4v1.4h-1.4zM48 58h1.4v1.4h-1.4zM63 72h1.4v1.4h-1.4zM89 78h1.4v1.4h-1.4zM80 20h1.4v1.4h-1.4zM47 72h1.4v1.4h-1.4zM51 34h1.4v1.4h-1.4zM113 65h1.4v1.4h-1.4zM125 39h1.4v1.4h-1.4zM38 16h1.4v1.4h-1.4zM116 55h1.4v1.4h-1.4zM86 35h1.4v1.4h-1.4zM6 43h1.4v1.4h-1.4zM43 53h1.4v1.4h-1.4zM117 15h1.4v1.4h-1.4zM39 57h1.4v1.4h-1.4zM68 57h1.4v1.4h-1.4zM137 64h1.4v1.4h-1.4zM58 27h1.4v1.4h-1.4zM119 62h1.4v1.4h-1.4zM70 33h1.4v1.4h-1.4zM29 63h1.4v1.4h-1.4zM126 59h1.4v1.4h-1.4zM42 63h1.4v1.4h-1.4zM81 70h1.4v1.4h-1.4zM72 12h1.4v1.4h-1.4zM53 57h1.4v1.4h-1.4zM39 36h1.4v1.4h-1.4zM102 61h1.4v1.4h-1.4zM105 62h1.4v1.4h-1.4zM47 31h1.4v1.4h-1.4zM104 31h1.4v1.4h-1.4zM107 19h1.4v1.4h-1.4zM86 29h1.4v1.4h-1.4zM70 39h1.4v1.4h-1.4zM84 61h1.4v1.4h-1.4zM100 46h1.4v1.4h-1.4zM11 42h1.4v1.4h-1.4zM110 29h1.4v1.4h-1.4zM83 14h1.4v1.4h-1.4zM116 38h1.4v1.4h-1.4zM95 60h1.4v1.4h-1.4zM79 24h1.4v1.4h-1.4zM123 50h1.4v1.4h-1.4zM51 43h1.4v1.4h-1.4zM151 71h1.4v1.4h-1.4zM104 47h1.4v1.4h-1.4zM53 57h1.4v1.4h-1.4zM82 48h1.4v1.4h-1.4zM49 56h1.4v1.4h-1.4zM103 33h1.4v1.4h-1.4zM70 11h1.4v1.4h-1.4zM41 18h1.4v1.4h-1.4zM47 9h1.4v1.4h-1.4zM83 33h1.4v1.4h-1.4zM149 69h1.4v1.4h-1.4zM68 44h1.4v1.4h-1.4zM90 36h1.4v1.4h-1.4zM64 17h1.4v1.4h-1.4zM70 39h1.4v1.4h-1.4zM136 46h1.4v1.4h-1.4zM111 28h1.4v1.4h-1.4zM128 58h1.4v1.4h-1.4zM70 60h1.4v1.4h-1.4zM107 65h1.4v1.4h-1.4zM98 67h1.4v1.4h-1.4zM52 44h1.4v1.4h-1.4zM77 17h1.4v1.4h-1.4zM78 27h1.4v1.4h-1.4zM85 79h1.4v1.4h-1.4zM84 56h1.4v1.4h-1.4zM74 69h1.4v1.4h-1.4zM31 16h1.4v1.4h-1.4zM85 68h1.4v1.4h-1.4zM27 57h1.4v1.4h-1.4zM88 72h1.4v1.4h-1.4zM107 71h1.4v1.4h-1.4zM62 10h1.4v1.4h-1.4zM98 66h1.4v1.4h-1.4zM32 43h1.4v1.4h-1.4zM83 5h1.4v1.4h-1.4zM58 20h1.4v1.4h-1.4zM80 25h1.4v1.4h-1.4zM133 47h1.4v1.4h-1.4zM116 42h1.4v1.4h-1.4zM46 63h1.4v1.4h-1.4zM101 60h1.4v1.4h-1.4zM143 53h1.4v1.4h-1.4zM52 15h1.4v1.4h-1.4zM88 78h1.4v1.4h-1.4zM147 68h1.4v1.4h-1.4zM156 56h1.4v1.4h-1.4zM79 21h1.4v1.4h-1.4zM87 29h1.4v1.4h-1.4zM112 19h1.4v1.4h-1.4zM152 72h1.4v1.4h-1.4zM40 23h1.4v1.4h-1.4zM120 58h1.4v1.4h-1.4zM105 47h1.4v1.4h-1.4zM46 35h1.4v1.4h-1.4zM140 46h1.4v1.4h-1.4zM37 49h1.4v1.4h-1.4zM69 62h1.4v1.4h-1.4zM101 21h1.4v1.4h-1.4zM87 28h1.4v1.4h-1.4zM79 6h1.4v1.4h-1.4zM82 65h1.4v1.4h-1.4zM95 43h1.4v1.4h-1.4zM93 35h1.4v1.4h-1.4zM23 46h1.4v1.4h-1.4zM54 74h1.4v1.4h-1.4zM82 57h1.4v1.4h-1.4zM110 48h1.4v1.4h-1.4zM66 61h1.4v1.4h-1.4zM22 25h1.4v1.4h-1.4zM69 52h1.4v1.4h-1.4zM116 74h1.4v1.4h-1.4zM131 67h1.4v1.4h-1.4zM72 33h1.4v1.4h-1.4zM93 74h1.4v1.4h-1.4zM43 33h1.4v1.4h-1.4zM14 51h1.4v1.4h-1.4zM111 70h1.4v1.4h-1.4zM136 75h1.4v1.4h-1.4zM87 44h1.4v1.4h-1.4zM56 49h1.4v1.4h-1.4zM108 44h1.4v1.4h-1.4zM88 71h1.4v1.4h-1.4zM41 38h1.4v1.4h-1.4zM92 40h1.4v1.4h-1.4zM113 47h1.4v1.4h-1.4zM66 4h1.4v1.4h-1.4zM15 42h1.4v1.4h-1.4zM102 48h1.4v1.4h-1.4zM97 80h1.4v1.4h-1.4zM71 73h1.4v1.4h-1.4zM115 39h1.4v1.4h-1.4zM20 32h1.4v1.4h-1.4zM92 28h1.4v1.4h-1.4zM41 29h1.4v1.4h-1.4zM55 67h1.4v1.4h-1.4zM25 30h1.4v1.4h-1.4zM126 64h1.4v1.4h-1.4zM81 41h1.4v1.4h-1.4zM52 40h1.4v1.4h-1.4zM141 71h1.4v1.4h-1.4zM32 28h1.4v1.4h-1.4zM42 61h1.4v1.4h-1.4zM72 36h1.4v1.4h-1.4zM30 23h1.4v1.4h-1.4zM118 39h1.4v1.4h-1.4zM43 37h1.4v1.4h-1.4zM80 15h1.4v1.4h-1.4zM60 10h1.4v1.4h-1.4zM94 23h1.4v1.4h-1.4zM85 59h1.4v1.4h-1.4zM27 46h1.4v1.4h-1.4zM107 57h1.4v1.4h-1.4zM52 11h1.4v1.4h-1.4zM97 80h1.4v1.4h-1.4zM120 30h1.4v1.4h-1.4zM124 76h1.4v1.4h-1.4zM72 75h1.4v1.4h-1.4zM32 45h1.4v1.4h-1.4zM124 57h1.4v1.4h-1.4zM42 58h1.4v1.4h-1.4zM30 45h1.4v1.4h-1.4zM38 19h1.4v1.4h-1.4zM109 37h1.4v1.4h-1.4zM142 65h1.4v1.4h-1.4zM64 11h1.4v1.4h-1.4zM78 2h1.4v1.4h-1.4zM23 32h1.4v1.4h-1.4zM88 23h1.4v1.4h-1.4zM87 51h1.4v1.4h-1.4zM48 39h1.4v1.4h-1.4zM24 44h1.4v1.4h-1.4zM23 26h1.4v1.4h-1.4zM147 71h1.4v1.4h-1.4zM48 64h1.4v1.4h-1.4zM75 16h1.4v1.4h-1.4zM97 77h1.4v1.4h-1.4zM109 20h1.4v1.4h-1.4zM118 66h1.4v1.4h-1.4zM21 52h1.4v1.4h-1.4zM28 20h1.4v1.4h-1.4zM59 51h1.4v1.4h-1.4zM135 55h1.4v1.4h-1.4zM156 60h1.4v1.4h-1.4zM28 56h1.4v1.4h-1.4zM108 26h1.4v1.4h-1.4zM120 46h1.4v1.4h-1.4zM31 38h1.4v1.4h-1.4zM45 62h1.4v1.4h-1.4zM122 65h1.4v1.4h-1.4zM43 10h1.4v1.4h-1.4zM112 29h1.4v1.4h-1.4zM124 35h1.4v1.4h-1.4zM33 14h1.4v1.4h-1.4zM36 32h1.4v1.4h-1.4zM88 54h1.4v1.4h-1.4zM80 69h1.4v1.4h-1.4zM15 40h1.4v1.4h-1.4zM41 46h1.4v1.4h-1.4zM99 12h1.4v1.4h-1.4zM101 49h1.4v1.4h-1.4zM85 33h1.4v1.4h-1.4zM108 42h1.4v1.4h-1.4zM154 60h1.4v1.4h-1.4zM92 33h1.4v1.4h-1.4zM103 67h1.4v1.4h-1.4zM62 6h1.4v1.4h-1.4zM66 29h1.4v1.4h-1.4zM98 78h1.4v1.4h-1.4zM5 41h1.4v1.4h-1.4zM72 65h1.4v1.4h-1.4zM58 5h1.4v1.4h-1.4zM85 52h1.4v1.4h-1.4zM76 26h1.4v1.4h-1.4zM66 41h1.4v1.4h-1.4zM100 26h1.4v1.4h-1.4zM142 54h1.4v1.4h-1.4zM116 66h1.4v1.4h-1.4zM81 71h1.4v1.4h-1.4zM41 14h1.4v1.4h-1.4zM101 72h1.4v1.4h-1.4zM44 21h1.4v1.4h-1.4zM48 58h1.4v1.4h-1.4zM102 46h1.4v1.4h-1.4zM77 70h1.4v1.4h-1.4zM51 72h1.4v1.4h-1.4zM103 33h1.4v1.4h-1.4zM52 7h1.4v1.4h-1.4zM65 15h1.4v1.4h-1.4zM127 76h1.4v1.4h-1.4zM109 63h1.4v1.4h-1.4zM79 40h1.4v1.4h-1.4zM41 47h1.4v1.4h-1.4zM108 35h1.4v1.4h-1.4zM38 44h1.4v1.4h-1.4zM74 77h1.4v1.4h-1.4zM52 71h1.4v1.4h-1.4zM88 40h1.4v1.4h-1.4zM23 47h1.4v1.4h-1.4zM82 54h1.4v1.4h-1.4zM84 14h1.4v1.4h-1.4zM112 42h1.4v1.4h-1.4zM74 61h1.4v1.4h-1.4zM73 27h1.4v1.4h-1.4zM134 54h1.4v1.4h-1.4zM55 66h1.4v1.4h-1.4zM101 24h1.4v1.4h-1.4zM126 41h1.4v1.4h-1.4zM56 59h1.4v1.4h-1.4zM104 30h1.4v1.4h-1.4zM76 42h1.4v1.4h-1.4zM48 39h1.4v1.4h-1.4zM138 75h1.4v1.4h-1.4zM121 79h1.4v1.4h-1.4zM60 39h1.4v1.4h-1.4zM76 77h1.4v1.4h-1.4zM103 27h1.4v1.4h-1.4zM32 20h1.4v1.4h-1.4zM88 47h1.4v1.4h-1.4zM62 75h1.4v1.4h-1.4zM31 16h1.4v1.4h-1.4zM77 53h1.4v1.4h-1.4zM16 32h1.4v1.4h-1.4zM43 15h1.4v1.4h-1.4zM99 23h1.4v1.4h-1.4zM92 38h1.4v1.4h-1.4zM99 74h1.4v1.4h-1.4zM64 4h1.4v1.4h-1.4zM85 47h1.4v1.4h-1.4zM107 46h1.4v1.4h-1.4zM80 38h1.4v1.4h-1.4zM127 64h1.4v1.4h-1.4zM29 62h1.4v1.4h-1.4zM152 59h1.4v1.4h-1.4zM50 49h1.4v1.4h-1.4zM77 31h1.4v1.4h-1.4zM141 60h1.4v1.4h-1.4zM59 66h1.4v1.4h-1.4zM107 13h1.4v1.4h-1.4zM152 50h1.4v1.4h-1.4zM122 71h1.4v1.4h-1.4zM40 31h1.4v1.4h-1.4zM83 45h1.4v1.4h-1.4zM63 38h1.4v1.4h-1.4zM105 63h1.4v1.4h-1.4zM126 54h1.4v1.4h-1.4zM44 40h1.4v1.4h-1.4zM97 80h1.4v1.4h-1.4zM77 62h1.4v1.4h-1.4zM50 42h1.4v1.4h-1.4zM34 20h1.4v1.4h-1.4zM63 44h1.4v1.4h-1.4zM75 55h1.4v1.4h-1.4zM122 55h1.4v1.4h-1.4zM15 56h1.4v1.4h-1.4zM11 32h1.4v1.4h-1.4zM47 45h1.4v1.4h-1.4zM54 34h1.4v1.4h-1.4zM61 5h1.4v1.4h-1.4zM98 76h1.4v1.4h-1.4zM94 4h1.4v1.4h-1.4zM126 48h1.4v1.4h-1.4zM47 71h1.4v1.4h-1.4zM14 44h1.4v1.4h-1.4zM152 77h1.4v1.4h-1.4zM82 61h1.4v1.4h-1.4zM148 66h1.4v1.4h-1.4zM132 41h1.4v1.4h-1.4zM23 62h1.4v1.4h-1.4zM114 55h1.4v1.4h-1.4zM56 63h1.4v1.4h-1.4zM108 41h1.4v1.4h-1.4zM29 55h1.4v1.4h-1.4zM42 59h1.4v1.4h-1.4zM85 11h1.4v1.4h-1.4zM29 32h1.4v1.4h-1.4zM63 42h1.4v1.4h-1.4zM127 49h1.4v1.4h-1.4zM86 76h1.4v1.4h-1.4zM62 7h1.4v1.4h-1.4zM64 27h1.4v1.4h-1.4zM83 28h1.4v1.4h-1.4zM141 69h1.4v1.4h-1.4zM38 67h1.4v1.4h-1.4zM110 68h1.4v1.4h-1.4zM77 20h1.4v1.4h-1.4zM101 62h1.4v1.4h-1.4zM47 8h1.4v1.4h-1.4zM93 22h1.4v1.4h-1.4zM103 51h1.4v1.4h-1.4zM41 47h1.4v1.4h-1.4zM99 36h1.4v1.4h-1.4zM92 31h1.4v1.4h-1.4zM67 17h1.4v1.4h-1.4zM81 16h1.4v1.4h-1.4zM143 67h1.4v1.4h-1.4zM23 27h1.4v1.4h-1.4zM81 25h1.4v1.4h-1.4zM43 62h1.4v1.4h-1.4zM111 12h1.4v1.4h-1.4zM44 27h1.4v1.4h-1.4zM129 45h1.4v1.4h-1.4zM47 33h1.4v1.4h-1.4zM121 62h1.4v1.4h-1.4zM19 39h1.4v1.4h-1.4zM87 46h1.4v1.4h-1.4zM96 53h1.4v1.4h-1.4zM30 31h1.4v1.4h-1.4zM139 75h1.4v1.4h-1.4zM124 63h1.4v1.4h-1.4zM75 38h1.4v1.4h-1.4zM145 54h1.4v1.4h-1.4zM121 61h1.4v1.4h-1.4zM73 72h1.4v1.4h-1.4zM81 77h1.4v1.4h-1.4zM17 26h1.4v1.4h-1.4zM108 56h1.4v1.4h-1.4zM122 45h1.4v1.4h-1.4zM94 38h1.4v1.4h-1.4zM68 45h1.4v1.4h-1.4zM118 30h1.4v1.4h-1.4zM99 28h1.4v1.4h-1.4zM122 65h1.4v1.4h-1.4zM32 35h1.4v1.4h-1.4zM103 78h1.4v1.4h-1.4zM71 60h1.4v1.4h-1.4zM60 11h1.4v1.4h-1.4zM31 41h1.4v1.4h-1.4zM100 46h1.4v1.4h-1.4zM82 6h1.4v1.4h-1.4zM31 27h1.4v1.4h-1.4zM134 63h1.4v1.4h-1.4zM136 45h1.4v1.4h-1.4zM11 30h1.4v1.4h-1.4zM54 55h1.4v1.4h-1.4zM93 5h1.4v1.4h-1.4zM99 1h1.4v1.4h-1.4zM37 37h1.4v1.4h-1.4zM114 59h1.4v1.4h-1.4zM107 61h1.4v1.4h-1.4zM71 14h1.4v1.4h-1.4zM116 74h1.4v1.4h-1.4zM128 69h1.4v1.4h-1.4zM144 63h1.4v1.4h-1.4zM95 61h1.4v1.4h-1.4zM68 70h1.4v1.4h-1.4zM153 55h1.4v1.4h-1.4zM32 35h1.4v1.4h-1.4zM103 36h1.4v1.4h-1.4zM40 11h1.4v1.4h-1.4zM87 17h1.4v1.4h-1.4zM90 8h1.4v1.4h-1.4zM103 27h1.4v1.4h-1.4zM12 37h1.4v1.4h-1.4zM26 49h1.4v1.4h-1.4zM13 39h1.4v1.4h-1.4zM84 16h1.4v1.4h-1.4zM60 59h1.4v1.4h-1.4zM115 51h1.4v1.4h-1.4zM34 44h1.4v1.4h-1.4zM122 29h1.4v1.4h-1.4zM125 52h1.4v1.4h-1.4zM96 12h1.4v1.4h-1.4zM84 75h1.4v1.4h-1.4zM84 6h1.4v1.4h-1.4zM48 65h1.4v1.4h-1.4zM66 55h1.4v1.4h-1.4zM108 47h1.4v1.4h-1.4zM77 4h1.4v1.4h-1.4zM18 57h1.4v1.4h-1.4zM97 46h1.4v1.4h-1.4zM52 32h1.4v1.4h-1.4zM104 14h1.4v1.4h-1.4zM77 15h1.4v1.4h-1.4zM61 42h1.4v1.4h-1.4zM75 19h1.4v1.4h-1.4zM149 62h1.4v1.4h-1.4zM43 22h1.4v1.4h-1.4zM115 76h1.4v1.4h-1.4zM34 45h1.4v1.4h-1.4zM78 47h1.4v1.4h-1.4zM86 81h1.4v1.4h-1.4zM29 35h1.4v1.4h-1.4zM38 36h1.4v1.4h-1.4zM149 64h1.4v1.4h-1.4zM78 75h1.4v1.4h-1.4zM88 29h1.4v1.4h-1.4zM15 26h1.4v1.4h-1.4zM80 41h1.4v1.4h-1.4zM10 41h1.4v1.4h-1.4zM76 61h1.4v1.4h-1.4zM42 56h1.4v1.4h-1.4zM99 81h1.4v1.4h-1.4zM124 73h1.4v1.4h-1.4zM149 78h1.4v1.4h-1.4zM113 72h1.4v1.4h-1.4zM114 24h1.4v1.4h-1.4zM111 44h1.4v1.4h-1.4zM60 52h1.4v1.4h-1.4zM110 57h1.4v1.4h-1.4zM118 72h1.4v1.4h-1.4zM150 64h1.4v1.4h-1.4zM102 5h1.4v1.4h-1.4zM119 53h1.4v1.4h-1.4zM20 49h1.4v1.4h-1.4zM135 66h1.4v1.4h-1.4zM135 41h1.4v1.4h-1.4zM120 25h1.4v1.4h-1.4zM89 23h1.4v1.4h-1.4zM99 59h1.4v1.4h-1.4zM135 72h1.4v1.4h-1.4zM46 28h1.4v1.4h-1.4zM76 44h1.4v1.4h-1.4zM106 23h1.4v1.4h-1.4zM38 55h1.4v1.4h-1.4zM32 16h1.4v1.4h-1.4zM133 62h1.4v1.4h-1.4zM54 40h1.4v1.4h-1.4zM45 63h1.4v1.4h-1.4zM150 49h1.4v1.4h-1.4zM75 79h1.4v1.4h-1.4zM84 33h1.4v1.4h-1.4zM102 5h1.4v1.4h-1.4zM68 45h1.4v1.4h-1.4zM37 29h1.4v1.4h-1.4zM109 43h1.4v1.4h-1.4zM71 16h1.4v1.4h-1.4zM13 55h1.4v1.4h-1.4zM39 35h1.4v1.4h-1.4zM149 64h1.4v1.4h-1.4zM143 47h1.4v1.4h-1.4zM120 66h1.4v1.4h-1.4zM96 46h1.4v1.4h-1.4zM61 63h1.4v1.4h-1.4zM145 65h1.4v1.4h-1.4zM38 53h1.4v1.4h-1.4zM95 77h1.4v1.4h-1.4zM134 74h1.4v1.4h-1.4zM41 25h1.4v1.4h-1.4zM78 75h1.4v1.4h-1.4zM94 80h1.4v1.4h-1.4zM137 69h1.4v1.4h-1.4zM107 14h1.4v1.4h-1.4zM86 2h1.4v1.4h-1.4zM68 17h1.4v1.4h-1.4zM55 8h1.4v1.4h-1.4zM48 14h1.4v1.4h-1.4zM40 38h1.4v1.4h-1.4zM74 29h1.4v1.4h-1.4zM33 26h1.4v1.4h-1.4zM128 77h1.4v1.4h-1.4zM136 66h1.4v1.4h-1.4zM56 55h1.4v1.4h-1.4zM102 32h1.4v1.4h-1.4zM52 42h1.4v1.4h-1.4zM124 55h1.4v1.4h-1.4zM94 39h1.4v1.4h-1.4zM61 73h1.4v1.4h-1.4zM80 27h1.4v1.4h-1.4zM96 67h1.4v1.4h-1.4zM145 77h1.4v1.4h-1.4zM110 67h1.4v1.4h-1.4zM104 79h1.4v1.4h-1.4zM74 65h1.4v1.4h-1.4zM57 49h1.4v1.4h-1.4zM85 48h1.4v1.4h-1.4zM39 25h1.4v1.4h-1.4zM124 63h1.4v1.4h-1.4zM24 18h1.4v1.4h-1.4zM86 29h1.4v1.4h-1.4zM126 35h1.4v1.4h-1.4zM109 66h1.4v1.4h-1.4zM13 46h1.4v1.4h-1.4zM101 74h1.4v1.4h-1.4zM152 62h1.4v1.4h-1.4zM11 50h1.4v1.4h-1.4zM38 14h1.4v1.4h-1.4zM90 68h1.4v1.4h-1.4zM69 23h1.4v1.4h-1.4zM42 17h1.4v1.4h-1.4zM41 70h1.4v1.4h-1.4zM117 53h1.4v1.4h-1.4zM34 13h1.4v1.4h-1.4zM119 76h1.4v1.4h-1.4zM80 80h1.4v1.4h-1.4zM157 55h1.4v1.4h-1.4zM99 20h1.4v1.4h-1.4zM79 69h1.4v1.4h-1.4zM71 61h1.4v1.4h-1.4zM16 57h1.4v1.4h-1.4zM123 31h1.4v1.4h-1.4zM76 36h1.4v1.4h-1.4zM150 49h1.4v1.4h-1.4zM45 49h1.4v1.4h-1.4zM143 76h1.4v1.4h-1.4zM144 53h1.4v1.4h-1.4zM145 74h1.4v1.4h-1.4zM131 52h1.4v1.4h-1.4zM101 47h1.4v1.4h-1.4zM70 34h1.4v1.4h-1.4zM120 32h1.4v1.4h-1.4zM93 65h1.4v1.4h-1.4zM63 58h1.4v1.4h-1.4zM111 48h1.4v1.4h-1.4zM104 37h1.4v1.4h-1.4zM75 42h1.4v1.4h-1.4zM91 16h1.4v1.4h-1.4zM129 48h1.4v1.4h-1.4zM136 47h1.4v1.4h-1.4zM40 47h1.4v1.4h-1.4zM92 29h1.4v1.4h-1.4zM119 53h1.4v1.4h-1.4zM35 23h1.4v1.4h-1.4zM24 36h1.4v1.4h-1.4zM132 72h1.4v1.4h-1.4zM65 35h1.4v1.4h-1.4zM46 50h1.4v1.4h-1.4zM78 37h1.4v1.4h-1.4zM54 48h1.4v1.4h-1.4zM102 45h1.4v1.4h-1.4zM43 58h1.4v1.4h-1.4zM111 26h1.4v1.4h-1.4zM84 60h1.4v1.4h-1.4zM27 33h1.4v1.4h-1.4zM66 8h1.4v1.4h-1.4zM86 71h1.4v1.4h-1.4zM55 49h1.4v1.4h-1.4zM68 14h1.4v1.4h-1.4zM16 41h1.4v1.4h-1.4zM71 25h1.4v1.4h-1.4zM96 1h1.4v1.4h-1.4zM79 38h1.4v1.4h-1.4zM67 39h1.4v1.4h-1.4zM122 48h1.4v1.4h-1.4zM112 34h1.4v1.4h-1.4zM48 11h1.4v1.4h-1.4zM83 36h1.4v1.4h-1.4zM95 71h1.4v1.4h-1.4zM64 48h1.4v1.4h-1.4zM63 48h1.4v1.4h-1.4zM51 24h1.4v1.4h-1.4zM131 66h1.4v1.4h-1.4zM51 34h1.4v1.4h-1.4zM51 30h1.4v1.4h-1.4zM127 59h1.4v1.4h-1.4zM27 40h1.4v1.4h-1.4zM69 9h1.4v1.4h-1.4zM27 34h1.4v1.4h-1.4zM66 59h1.4v1.4h-1.4zM151 51h1.4v1.4h-1.4zM81 20h1.4v1.4h-1.4zM135 59h1.4v1.4h-1.4zM51 45h1.4v1.4h-1.4zM138 42h1.4v1.4h-1.4zM89 60h1.4v1.4h-1.4zM31 21h1.4v1.4h-1.4zM99 53h1.4v1.4h-1.4zM121 37h1.4v1.4h-1.4zM148 60h1.4v1.4h-1.4zM64 23h1.4v1.4h-1.4zM82 80h1.4v1.4h-1.4zM128 60h1.4v1.4h-1.4zM103 61h1.4v1.4h-1.4zM108 27h1.4v1.4h-1.4zM93 51h1.4v1.4h-1.4zM133 55h1.4v1.4h-1.4zM73 36h1.4v1.4h-1.4zM7 42h1.4v1.4h-1.4zM20 37h1.4v1.4h-1.4zM79 8h1.4v1.4h-1.4zM31 65h1.4v1.4h-1.4zM93 18h1.4v1.4h-1.4zM117 74h1.4v1.4h-1.4zM86 49h1.4v1.4h-1.4zM81 71h1.4v1.4h-1.4zM85 3h1.4v1.4h-1.4zM145 76h1.4v1.4h-1.4zM152 70h1.4v1.4h-1.4zM118 61h1.4v1.4h-1.4zM94 80h1.4v1.4h-1.4zM53 32h1.4v1.4h-1.4zM112 35h1.4v1.4h-1.4zM112 51h1.4v1.4h-1.4zM90 53h1.4v1.4h-1.4zM69 66h1.4v1.4h-1.4zM112 20h1.4v1.4h-1.4zM107 69h1.4v1.4h-1.4zM87 2h1.4v1.4h-1.4zM75 77h1.4v1.4h-1.4zM145 78h1.4v1.4h-1.4zM113 27h1.4v1.4h-1.4zM85 7h1.4v1.4h-1.4zM151 62h1.4v1.4h-1.4zM19 27h1.4v1.4h-1.4zM128 62h1.4v1.4h-1.4zM46 42h1.4v1.4h-1.4zM32 55h1.4v1.4h-1.4zM82 27h1.4v1.4h-1.4zM42 57h1.4v1.4h-1.4zM152 74h1.4v1.4h-1.4zM51 23h1.4v1.4h-1.4zM48 46h1.4v1.4h-1.4zM87 25h1.4v1.4h-1.4zM134 49h1.4v1.4h-1.4zM10 36h1.4v1.4h-1.4zM131 72h1.4v1.4h-1.4zM111 19h1.4v1.4h-1.4zM49 16h1.4v1.4h-1.4zM95 81h1.4v1.4h-1.4zM135 60h1.4v1.4h-1.4zM92 31h1.4v1.4h-1.4zM120 58h1.4v1.4h-1.4zM113 64h1.4v1.4h-1.4zM25 49h1.4v1.4h-1.4zM16 49h1.4v1.4h-1.4zM80 35h1.4v1.4h-1.4zM83 17h1.4v1.4h-1.4zM97 52h1.4v1.4h-1.4zM65 40h1.4v1.4h-1.4zM73 71h1.4v1.4h-1.4zM71 18h1.4v1.4h-1.4zM92 18h1.4v1.4h-1.4zM43 38h1.4v1.4h-1.4zM124 33h1.4v1.4h-1.4zM102 61h1.4v1.4h-1.4zM107 53h1.4v1.4h-1.4zM135 69h1.4v1.4h-1.4zM28 57h1.4v1.4h-1.4zM146 64h1.4v1.4h-1.4zM154 54h1.4v1.4h-1.4zM98 61h1.4v1.4h-1.4zM47 61h1.4v1.4h-1.4zM126 63h1.4v1.4h-1.4zM152 68h1.4v1.4h-1.4zM100 42h1.4v1.4h-1.4zM49 63h1.4v1.4h-1.4zM133 55h1.4v1.4h-1.4zM27 45h1.4v1.4h-1.4zM71 34h1.4v1.4h-1.4zM95 17h1.4v1.4h-1.4zM106 50h1.4v1.4h-1.4zM64 21h1.4v1.4h-1.4zM136 78h1.4v1.4h-1.4zM71 8h1.4v1.4h-1.4zM138 59h1.4v1.4h-1.4zM66 15h1.4v1.4h-1.4zM98 13h1.4v1.4h-1.4zM121 39h1.4v1.4h-1.4zM92 41h1.4v1.4h-1.4zM66 26h1.4v1.4h-1.4zM131 57h1.4v1.4h-1.4zM51 66h1.4v1.4h-1.4zM97 24h1.4v1.4h-1.4zM98 17h1.4v1.4h-1.4zM25 25h1.4v1.4h-1.4zM131 44h1.4v1.4h-1.4zM123 28h1.4v1.4h-1.4zM42 15h1.4v1.4h-1.4zM82 30h1.4v1.4h-1.4zM77 40h1.4v1.4h-1.4zM124 60h1.4v1.4h-1.4zM154 75h1.4v1.4h-1.4zM62 13h1.4v1.4h-1.4zM27 62h1.4v1.4h-1.4zM146 68h1.4v1.4h-1.4zM80 42h1.4v1.4h-1.4zM65 55h1.4v1.4h-1.4zM27 63h1.4v1.4h-1.4zM114 56h1.4v1.4h-1.4zM112 52h1.4v1.4h-1.4zM102 71h1.4v1.4h-1.4zM19 40h1.4v1.4h-1.4zM82 7h1.4v1.4h-1.4zM69 34h1.4v1.4h-1.4zM73 70h1.4v1.4h-1.4zM143 76h1.4v1.4h-1.4zM92 69h1.4v1.4h-1.4zM76 62h1.4v1.4h-1.4zM5 36h1.4v1.4h-1.4zM71 44h1.4v1.4h-1.4zM134 41h1.4v1.4h-1.4zM106 49h1.4v1.4h-1.4zM78 16h1.4v1.4h-1.4zM54 44h1.4v1.4h-1.4zM93 22h1.4v1.4h-1.4zM99 26h1.4v1.4h-1.4zM133 76h1.4v1.4h-1.4zM122 46h1.4v1.4h-1.4zM48 70h1.4v1.4h-1.4zM65 22h1.4v1.4h-1.4zM122 24h1.4v1.4h-1.4zM63 70h1.4v1.4h-1.4zM34 38h1.4v1.4h-1.4zM108 43h1.4v1.4h-1.4zM94 17h1.4v1.4h-1.4zM10 29h1.4v1.4h-1.4zM79 57h1.4v1.4h-1.4zM81 40h1.4v1.4h-1.4zM2 39h1.4v1.4h-1.4zM128 64h1.4v1.4h-1.4zM133 46h1.4v1.4h-1.4zM69 21h1.4v1.4h-1.4zM41 47h1.4v1.4h-1.4zM130 77h1.4v1.4h-1.4zM41 64h1.4v1.4h-1.4zM52 40h1.4v1.4h-1.4zM59 46h1.4v1.4h-1.4zM36 58h1.4v1.4h-1.4zM74 30h1.4v1.4h-1.4zM154 68h1.4v1.4h-1.4zM116 27h1.4v1.4h-1.4zM118 66h1.4v1.4h-1.4zM111 16h1.4v1.4h-1.4zM81 16h1.4v1.4h-1.4zM22 41h1.4v1.4h-1.4zM75 21h1.4v1.4h-1.4zM88 27h1.4v1.4h-1.4zM41 13h1.4v1.4h-1.4zM96 63h1.4v1.4h-1.4zM110 53h1.4v1.4h-1.4zM50 26h1.4v1.4h-1.4zM131 55h1.4v1.4h-1.4zM105 23h1.4v1.4h-1.4zM69 8h1.4v1.4h-1.4zM124 78h1.4v1.4h-1.4zM74 44h1.4v1.4h-1.4zM14 25h1.4v1.4h-1.4zM112 32h1.4v1.4h-1.4zM71 63h1.4v1.4h-1.4zM86 18h1.4v1.4h-1.4zM79 4h1.4v1.4h-1.4zM127 70h1.4v1.4h-1.4zM133 73h1.4v1.4h-1.4zM76 47h1.4v1.4h-1.4zM113 34h1.4v1.4h-1.4zM103 68h1.4v1.4h-1.4zM142 45h1.4v1.4h-1.4zM93 41h1.4v1.4h-1.4zM106 61h1.4v1.4h-1.4zM109 36h1.4v1.4h-1.4zM21 58h1.4v1.4h-1.4zM120 23h1.4v1.4h-1.4zM40 20h1.4v1.4h-1.4zM58 23h1.4v1.4h-1.4zM88 58h1.4v1.4h-1.4zM153 70h1.4v1.4h-1.4zM66 13h1.4v1.4h-1.4zM113 38h1.4v1.4h-1.4zM40 64h1.4v1.4h-1.4zM66 34h1.4v1.4h-1.4zM65 27h1.4v1.4h-1.4zM87 34h1.4v1.4h-1.4zM79 4h1.4v1.4h-1.4zM72 30h1.4v1.4h-1.4zM28 38h1.4v1.4h-1.4zM19 33h1.4v1.4h-1.4zM61 51h1.4v1.4h-1.4zM96 74h1.4v1.4h-1.4zM33 51h1.4v1.4h-1.4zM123 65h1.4v1.4h-1.4zM123 35h1.4v1.4h-1.4zM113 29h1.4v1.4h-1.4zM101 74h1.4v1.4h-1.4zM7 36h1.4v1.4h-1.4zM80 31h1.4v1.4h-1.4zM29 31h1.4v1.4h-1.4zM56 64h1.4v1.4h-1.4zM61 5h1.4v1.4h-1.4zM76 15h1.4v1.4h-1.4zM22 33h1.4v1.4h-1.4zM121 23h1.4v1.4h-1.4zM122 47h1.4v1.4h-1.4zM82 29h1.4v1.4h-1.4zM98 6h1.4v1.4h-1.4zM17 45h1.4v1.4h-1.4zM100 13h1.4v1.4h-1.4zM97 40h1.4v1.4h-1.4zM145 46h1.4v1.4h-1.4zM143 65h1.4v1.4h-1.4zM83 26h1.4v1.4h-1.4zM49 8h1.4v1.4h-1.4zM81 22h1.4v1.4h-1.4zM44 29h1.4v1.4h-1.4zM95 57h1.4v1.4h-1.4zM95 75h1.4v1.4h-1.4zM115 36h1.4v1.4h-1.4zM70 66h1.4v1.4h-1.4zM47 28h1.4v1.4h-1.4zM68 66h1.4v1.4h-1.4zM129 70h1.4v1.4h-1.4zM57 35h1.4v1.4h-1.4zM50 45h1.4v1.4h-1.4zM98 8h1.4v1.4h-1.4zM52 74h1.4v1.4h-1.4zM95 68h1.4v1.4h-1.4zM58 24h1.4v1.4h-1.4zM65 72h1.4v1.4h-1.4zM94 70h1.4v1.4h-1.4zM47 25h1.4v1.4h-1.4zM86 12h1.4v1.4h-1.4zM111 26h1.4v1.4h-1.4zM121 61h1.4v1.4h-1.4zM61 49h1.4v1.4h-1.4zM109 10h1.4v1.4h-1.4zM14 41h1.4v1.4h-1.4zM45 71h1.4v1.4h-1.4zM91 37h1.4v1.4h-1.4zM96 69h1.4v1.4h-1.4zM26 36h1.4v1.4h-1.4zM37 42h1.4v1.4h-1.4zM28 47h1.4v1.4h-1.4zM54 43h1.4v1.4h-1.4zM144 49h1.4v1.4h-1.4zM137 72h1.4v1.4h-1.4zM63 63h1.4v1.4h-1.4zM80 21h1.4v1.4h-1.4zM43 30h1.4v1.4h-1.4zM82 27h1.4v1.4h-1.4zM78 61h1.4v1.4h-1.4zM121 37h1.4v1.4h-1.4zM39 15h1.4v1.4h-1.4zM65 63h1.4v1.4h-1.4zM63 9h1.4v1.4h-1.4zM81 57h1.4v1.4h-1.4zM119 28h1.4v1.4h-1.4zM81 80h1.4v1.4h-1.4zM76 78h1.4v1.4h-1.4zM99 29h1.4v1.4h-1.4zM97 14h1.4v1.4h-1.4zM49 73h1.4v1.4h-1.4zM131 42h1.4v1.4h-1.4zM44 38h1.4v1.4h-1.4zM91 58h1.4v1.4h-1.4zM34 37h1.4v1.4h-1.4zM110 63h1.4v1.4h-1.4zM58 67h1.4v1.4h-1.4zM44 12h1.4v1.4h-1.4zM108 51h1.4v1.4h-1.4zM14 37h1.4v1.4h-1.4zM74 21h1.4v1.4h-1.4zM26 22h1.4v1.4h-1.4zM80 18h1.4v1.4h-1.4zM56 38h1.4v1.4h-1.4zM26 56h1.4v1.4h-1.4zM64 10h1.4v1.4h-1.4zM66 5h1.4v1.4h-1.4zM19 45h1.4v1.4h-1.4zM33 14h1.4v1.4h-1.4zM51 23h1.4v1.4h-1.4zM113 36h1.4v1.4h-1.4zM111 47h1.4v1.4h-1.4zM93 52h1.4v1.4h-1.4zM7 37h1.4v1.4h-1.4zM102 43h1.4v1.4h-1.4zM22 28h1.4v1.4h-1.4zM88 67h1.4v1.4h-1.4zM67 54h1.4v1.4h-1.4zM50 33h1.4v1.4h-1.4zM9 46h1.4v1.4h-1.4zM33 60h1.4v1.4h-1.4zM25 37h1.4v1.4h-1.4zM29 16h1.4v1.4h-1.4zM93 3h1.4v1.4h-1.4zM97 42h1.4v1.4h-1.4zM112 53h1.4v1.4h-1.4zM42 55h1.4v1.4h-1.4zM93 25h1.4v1.4h-1.4zM104 57h1.4v1.4h-1.4zM40 17h1.4v1.4h-1.4zM89 34h1.4v1.4h-1.4zM78 6h1.4v1.4h-1.4zM148 76h1.4v1.4h-1.4zM58 44h1.4v1.4h-1.4zM82 70h1.4v1.4h-1.4zM62 26h1.4v1.4h-1.4zM57 58h1.4v1.4h-1.4zM126 36h1.4v1.4h-1.4zM65 24h1.4v1.4h-1.4zM26 55h1.4v1.4h-1.4zM92 75h1.4v1.4h-1.4zM145 46h1.4v1.4h-1.4zM46 50h1.4v1.4h-1.4zM57 69h1.4v1.4h-1.4zM41 35h1.4v1.4h-1.4zM35 43h1.4v1.4h-1.4zM113 41h1.4v1.4h-1.4zM60 16h1.4v1.4h-1.4zM145 54h1.4v1.4h-1.4zM78 19h1.4v1.4h-1.4zM107 24h1.4v1.4h-1.4zM99 39h1.4v1.4h-1.4zM65 15h1.4v1.4h-1.4zM75 37h1.4v1.4h-1.4zM46 40h1.4v1.4h-1.4zM106 17h1.4v1.4h-1.4zM52 51h1.4v1.4h-1.4zM73 50h1.4v1.4h-1.4zM74 24h1.4v1.4h-1.4zM29 35h1.4v1.4h-1.4zM81 38h1.4v1.4h-1.4zM53 66h1.4v1.4h-1.4zM67 29h1.4v1.4h-1.4zM43 62h1.4v1.4h-1.4zM127 56h1.4v1.4h-1.4zM32 59h1.4v1.4h-1.4zM74 18h1.4v1.4h-1.4zM104 45h1.4v1.4h-1.4zM96 4h1.4v1.4h-1.4zM56 36h1.4v1.4h-1.4zM63 26h1.4v1.4h-1.4zM112 59h1.4v1.4h-1.4zM92 72h1.4v1.4h-1.4zM57 9h1.4v1.4h-1.4zM158 51h1.4v1.4h-1.4zM6 45h1.4v1.4h-1.4zM152 73h1.4v1.4h-1.4zM96 40h1.4v1.4h-1.4zM17 47h1.4v1.4h-1.4zM69 44h1.4v1.4h-1.4zM61 21h1.4v1.4h-1.4zM69 70h1.4v1.4h-1.4zM100 33h1.4v1.4h-1.4zM39 11h1.4v1.4h-1.4zM126 35h1.4v1.4h-1.4zM130 57h1.4v1.4h-1.4zM114 24h1.4v1.4h-1.4zM61 47h1.4v1.4h-1.4zM99 40h1.4v1.4h-1.4zM24 24h1.4v1.4h-1.4zM26 40h1.4v1.4h-1.4zM24 25h1.4v1.4h-1.4z" fill="#606060"/><rect x="60.3" y="30.0" width="4.4" height="6.9" fill="#1f9e8e"/><rect x="104.4" y="58.8" width="4.4" height="6.9" fill="#f26b5b"/><rect x="28.0" y="41.5" width="4.4" height="6.9" fill="#1f9e8e"/><rect x="94.3" y="22.4" width="4.4" height="6.9" fill="#f26b5b"/><rect x="60.6" y="59.5" width="4.4" height="6.9" fill="#1f9e8e"/><rect x="83.2" y="39.2" width="4.4" height="6.9" fill="#f26b5b"/><rect x="127.4" y="70.2" width="4.4" height="6.9" fill="#1f9e8e"/><rect x="118.1" y="34.6" width="4.4" height="6.9" fill="#f26b5b"/><rect x="40.3" y="18.1" width="4.4" height="6.9" fill="#1f9e8e"/><rect x="82.6" y="69.2" width="4.4" height="6.9" fill="#f26b5b"/><rect x="65.4" y="11.9" width="4.4" height="6.9" fill="#1f9e8e"/><rect x="16.9" y="25.9" width="4.4" height="6.9" fill="#f26b5b"/><rect x="142.5" y="55.4" width="4.4" height="6.9" fill="#1f9e8e"/></svg>
<svg class="a" style="left:1090px;top:1149px;overflow:visible;" width="158" height="80" viewBox="0 0 158 80"><path d="M94 42h1.4v1.4h-1.4zM93 75h1.4v1.4h-1.4zM23 20h1.4v1.4h-1.4zM63 13h1.4v1.4h-1.4zM83 67h1.4v1.4h-1.4zM101 70h1.4v1.4h-1.4zM79 77h1.4v1.4h-1.4zM157 54h1.4v1.4h-1.4zM51 62h1.4v1.4h-1.4zM100 24h1.4v1.4h-1.4zM33 63h1.4v1.4h-1.4zM82 74h1.4v1.4h-1.4zM77 64h1.4v1.4h-1.4zM18 41h1.4v1.4h-1.4zM11 43h1.4v1.4h-1.4zM59 6h1.4v1.4h-1.4zM64 70h1.4v1.4h-1.4zM135 77h1.4v1.4h-1.4zM116 46h1.4v1.4h-1.4zM124 46h1.4v1.4h-1.4zM88 69h1.4v1.4h-1.4zM97 7h1.4v1.4h-1.4zM77 27h1.4v1.4h-1.4zM67 64h1.4v1.4h-1.4zM15 52h1.4v1.4h-1.4zM61 42h1.4v1.4h-1.4zM31 62h1.4v1.4h-1.4zM83 59h1.4v1.4h-1.4zM74 7h1.4v1.4h-1.4zM31 64h1.4v1.4h-1.4zM69 72h1.4v1.4h-1.4zM78 2h1.4v1.4h-1.4zM126 70h1.4v1.4h-1.4zM64 19h1.4v1.4h-1.4zM100 46h1.4v1.4h-1.4zM140 66h1.4v1.4h-1.4zM144 61h1.4v1.4h-1.4zM151 49h1.4v1.4h-1.4zM93 15h1.4v1.4h-1.4zM96 67h1.4v1.4h-1.4zM34 27h1.4v1.4h-1.4zM138 76h1.4v1.4h-1.4zM14 56h1.4v1.4h-1.4zM24 37h1.4v1.4h-1.4zM69 55h1.4v1.4h-1.4zM81 35h1.4v1.4h-1.4zM18 57h1.4v1.4h-1.4zM49 17h1.4v1.4h-1.4zM41 11h1.4v1.4h-1.4zM86 60h1.4v1.4h-1.4zM150 54h1.4v1.4h-1.4zM94 15h1.4v1.4h-1.4zM78 34h1.4v1.4h-1.4zM129 41h1.4v1.4h-1.4zM41 38h1.4v1.4h-1.4zM85 15h1.4v1.4h-1.4zM37 32h1.4v1.4h-1.4zM102 43h1.4v1.4h-1.4zM135 72h1.4v1.4h-1.4zM79 67h1.4v1.4h-1.4zM88 57h1.4v1.4h-1.4zM74 44h1.4v1.4h-1.4zM77 28h1.4v1.4h-1.4zM110 48h1.4v1.4h-1.4zM111 18h1.4v1.4h-1.4zM8 39h1.4v1.4h-1.4zM124 58h1.4v1.4h-1.4zM68 31h1.4v1.4h-1.4zM135 76h1.4v1.4h-1.4zM100 42h1.4v1.4h-1.4zM92 14h1.4v1.4h-1.4zM114 24h1.4v1.4h-1.4zM94 36h1.4v1.4h-1.4zM93 33h1.4v1.4h-1.4zM39 35h1.4v1.4h-1.4zM101 19h1.4v1.4h-1.4zM85 8h1.4v1.4h-1.4zM137 75h1.4v1.4h-1.4zM25 22h1.4v1.4h-1.4zM45 54h1.4v1.4h-1.4zM61 29h1.4v1.4h-1.4zM107 10h1.4v1.4h-1.4zM29 33h1.4v1.4h-1.4zM134 75h1.4v1.4h-1.4zM120 39h1.4v1.4h-1.4zM78 62h1.4v1.4h-1.4zM108 43h1.4v1.4h-1.4zM73 37h1.4v1.4h-1.4zM57 15h1.4v1.4h-1.4zM90 18h1.4v1.4h-1.4zM120 62h1.4v1.4h-1.4zM102 57h1.4v1.4h-1.4zM102 38h1.4v1.4h-1.4zM56 55h1.4v1.4h-1.4zM71 25h1.4v1.4h-1.4zM144 69h1.4v1.4h-1.4zM61 18h1.4v1.4h-1.4zM34 22h1.4v1.4h-1.4zM104 18h1.4v1.4h-1.4zM62 4h1.4v1.4h-1.4zM52 67h1.4v1.4h-1.4zM29 32h1.4v1.4h-1.4zM62 12h1.4v1.4h-1.4zM110 27h1.4v1.4h-1.4zM103 23h1.4v1.4h-1.4zM20 43h1.4v1.4h-1.4zM39 62h1.4v1.4h-1.4zM60 37h1.4v1.4h-1.4zM22 33h1.4v1.4h-1.4zM64 8h1.4v1.4h-1.4zM122 63h1.4v1.4h-1.4zM128 74h1.4v1.4h-1.4zM142 49h1.4v1.4h-1.4zM85 30h1.4v1.4h-1.4zM155 50h1.4v1.4h-1.4zM152 54h1.4v1.4h-1.4zM98 44h1.4v1.4h-1.4zM80 31h1.4v1.4h-1.4zM108 30h1.4v1.4h-1.4zM130 50h1.4v1.4h-1.4zM118 18h1.4v1.4h-1.4zM35 45h1.4v1.4h-1.4zM112 76h1.4v1.4h-1.4zM76 59h1.4v1.4h-1.4zM118 15h1.4v1.4h-1.4zM123 64h1.4v1.4h-1.4zM26 23h1.4v1.4h-1.4zM99 54h1.4v1.4h-1.4zM81 47h1.4v1.4h-1.4zM45 62h1.4v1.4h-1.4zM60 40h1.4v1.4h-1.4zM83 16h1.4v1.4h-1.4zM55 58h1.4v1.4h-1.4zM114 49h1.4v1.4h-1.4zM90 36h1.4v1.4h-1.4zM36 19h1.4v1.4h-1.4zM130 54h1.4v1.4h-1.4zM15 49h1.4v1.4h-1.4zM67 50h1.4v1.4h-1.4zM150 49h1.4v1.4h-1.4zM100 38h1.4v1.4h-1.4zM56 62h1.4v1.4h-1.4zM6 43h1.4v1.4h-1.4zM22 50h1.4v1.4h-1.4zM111 76h1.4v1.4h-1.4zM120 76h1.4v1.4h-1.4zM86 20h1.4v1.4h-1.4zM143 48h1.4v1.4h-1.4zM116 34h1.4v1.4h-1.4zM116 64h1.4v1.4h-1.4zM115 45h1.4v1.4h-1.4zM51 26h1.4v1.4h-1.4zM32 60h1.4v1.4h-1.4zM47 68h1.4v1.4h-1.4zM19 34h1.4v1.4h-1.4zM124 63h1.4v1.4h-1.4zM31 49h1.4v1.4h-1.4zM113 40h1.4v1.4h-1.4zM39 19h1.4v1.4h-1.4zM37 35h1.4v1.4h-1.4zM155 64h1.4v1.4h-1.4zM14 39h1.4v1.4h-1.4zM124 51h1.4v1.4h-1.4zM149 72h1.4v1.4h-1.4zM30 50h1.4v1.4h-1.4zM55 44h1.4v1.4h-1.4zM103 6h1.4v1.4h-1.4zM98 71h1.4v1.4h-1.4zM88 57h1.4v1.4h-1.4zM42 62h1.4v1.4h-1.4zM47 30h1.4v1.4h-1.4zM118 18h1.4v1.4h-1.4zM81 32h1.4v1.4h-1.4zM21 55h1.4v1.4h-1.4zM16 49h1.4v1.4h-1.4zM76 10h1.4v1.4h-1.4zM107 57h1.4v1.4h-1.4zM121 47h1.4v1.4h-1.4zM88 31h1.4v1.4h-1.4zM22 21h1.4v1.4h-1.4zM15 27h1.4v1.4h-1.4zM63 70h1.4v1.4h-1.4zM41 15h1.4v1.4h-1.4zM59 27h1.4v1.4h-1.4zM54 60h1.4v1.4h-1.4zM119 29h1.4v1.4h-1.4zM6 35h1.4v1.4h-1.4zM79 26h1.4v1.4h-1.4zM113 67h1.4v1.4h-1.4zM91 79h1.4v1.4h-1.4zM86 7h1.4v1.4h-1.4zM102 61h1.4v1.4h-1.4zM123 38h1.4v1.4h-1.4zM107 45h1.4v1.4h-1.4zM25 47h1.4v1.4h-1.4zM58 16h1.4v1.4h-1.4zM142 61h1.4v1.4h-1.4zM140 76h1.4v1.4h-1.4zM106 24h1.4v1.4h-1.4zM22 23h1.4v1.4h-1.4zM64 20h1.4v1.4h-1.4zM68 42h1.4v1.4h-1.4zM112 21h1.4v1.4h-1.4zM48 47h1.4v1.4h-1.4zM77 59h1.4v1.4h-1.4zM128 45h1.4v1.4h-1.4zM73 70h1.4v1.4h-1.4zM11 28h1.4v1.4h-1.4zM44 69h1.4v1.4h-1.4zM98 6h1.4v1.4h-1.4zM111 39h1.4v1.4h-1.4zM48 63h1.4v1.4h-1.4zM56 38h1.4v1.4h-1.4zM151 74h1.4v1.4h-1.4zM43 39h1.4v1.4h-1.4zM51 22h1.4v1.4h-1.4zM127 40h1.4v1.4h-1.4zM47 7h1.4v1.4h-1.4zM84 8h1.4v1.4h-1.4zM132 66h1.4v1.4h-1.4zM9 41h1.4v1.4h-1.4zM103 43h1.4v1.4h-1.4zM82 10h1.4v1.4h-1.4zM84 59h1.4v1.4h-1.4zM37 66h1.4v1.4h-1.4zM102 5h1.4v1.4h-1.4zM7 41h1.4v1.4h-1.4zM52 12h1.4v1.4h-1.4zM72 36h1.4v1.4h-1.4zM79 40h1.4v1.4h-1.4zM103 61h1.4v1.4h-1.4zM149 54h1.4v1.4h-1.4zM97 21h1.4v1.4h-1.4zM14 36h1.4v1.4h-1.4zM40 33h1.4v1.4h-1.4zM72 59h1.4v1.4h-1.4zM112 13h1.4v1.4h-1.4zM59 58h1.4v1.4h-1.4zM91 61h1.4v1.4h-1.4zM108 67h1.4v1.4h-1.4zM95 39h1.4v1.4h-1.4zM54 57h1.4v1.4h-1.4zM86 34h1.4v1.4h-1.4zM53 57h1.4v1.4h-1.4zM91 48h1.4v1.4h-1.4zM104 33h1.4v1.4h-1.4zM146 57h1.4v1.4h-1.4zM86 3h1.4v1.4h-1.4zM67 68h1.4v1.4h-1.4zM20 37h1.4v1.4h-1.4zM48 64h1.4v1.4h-1.4zM88 31h1.4v1.4h-1.4zM78 23h1.4v1.4h-1.4zM87 43h1.4v1.4h-1.4zM38 56h1.4v1.4h-1.4zM92 41h1.4v1.4h-1.4zM144 52h1.4v1.4h-1.4zM143 52h1.4v1.4h-1.4zM98 79h1.4v1.4h-1.4zM156 59h1.4v1.4h-1.4zM30 19h1.4v1.4h-1.4zM67 57h1.4v1.4h-1.4zM110 21h1.4v1.4h-1.4zM97 14h1.4v1.4h-1.4zM67 68h1.4v1.4h-1.4zM55 30h1.4v1.4h-1.4zM49 21h1.4v1.4h-1.4zM112 68h1.4v1.4h-1.4zM74 48h1.4v1.4h-1.4zM122 61h1.4v1.4h-1.4zM156 58h1.4v1.4h-1.4zM137 66h1.4v1.4h-1.4zM98 45h1.4v1.4h-1.4zM31 47h1.4v1.4h-1.4zM76 25h1.4v1.4h-1.4zM94 9h1.4v1.4h-1.4zM6 33h1.4v1.4h-1.4zM25 44h1.4v1.4h-1.4zM77 41h1.4v1.4h-1.4zM72 70h1.4v1.4h-1.4zM88 54h1.4v1.4h-1.4zM54 28h1.4v1.4h-1.4zM84 3h1.4v1.4h-1.4zM147 62h1.4v1.4h-1.4zM121 50h1.4v1.4h-1.4zM95 40h1.4v1.4h-1.4zM104 36h1.4v1.4h-1.4zM59 52h1.4v1.4h-1.4zM52 58h1.4v1.4h-1.4zM150 68h1.4v1.4h-1.4zM134 54h1.4v1.4h-1.4zM66 23h1.4v1.4h-1.4zM73 68h1.4v1.4h-1.4zM109 55h1.4v1.4h-1.4zM24 26h1.4v1.4h-1.4zM92 24h1.4v1.4h-1.4zM27 37h1.4v1.4h-1.4zM89 20h1.4v1.4h-1.4zM0 36h1.4v1.4h-1.4zM129 45h1.4v1.4h-1.4zM67 17h1.4v1.4h-1.4zM124 49h1.4v1.4h-1.4zM119 77h1.4v1.4h-1.4zM129 63h1.4v1.4h-1.4zM152 57h1.4v1.4h-1.4zM81 59h1.4v1.4h-1.4zM47 31h1.4v1.4h-1.4zM97 71h1.4v1.4h-1.4zM93 49h1.4v1.4h-1.4zM40 64h1.4v1.4h-1.4zM85 11h1.4v1.4h-1.4zM57 10h1.4v1.4h-1.4zM26 47h1.4v1.4h-1.4zM41 24h1.4v1.4h-1.4zM61 32h1.4v1.4h-1.4zM46 23h1.4v1.4h-1.4zM74 18h1.4v1.4h-1.4zM121 68h1.4v1.4h-1.4zM73 25h1.4v1.4h-1.4zM76 49h1.4v1.4h-1.4zM95 50h1.4v1.4h-1.4zM35 35h1.4v1.4h-1.4zM47 34h1.4v1.4h-1.4zM52 25h1.4v1.4h-1.4zM94 5h1.4v1.4h-1.4zM55 69h1.4v1.4h-1.4zM54 73h1.4v1.4h-1.4zM46 53h1.4v1.4h-1.4zM94 1h1.4v1.4h-1.4zM53 59h1.4v1.4h-1.4zM32 32h1.4v1.4h-1.4zM49 15h1.4v1.4h-1.4zM26 55h1.4v1.4h-1.4zM39 56h1.4v1.4h-1.4zM45 29h1.4v1.4h-1.4zM93 25h1.4v1.4h-1.4zM93 14h1.4v1.4h-1.4zM101 7h1.4v1.4h-1.4zM127 41h1.4v1.4h-1.4zM76 60h1.4v1.4h-1.4zM112 51h1.4v1.4h-1.4zM105 43h1.4v1.4h-1.4zM43 13h1.4v1.4h-1.4zM121 73h1.4v1.4h-1.4zM36 33h1.4v1.4h-1.4zM77 42h1.4v1.4h-1.4zM66 24h1.4v1.4h-1.4zM92 64h1.4v1.4h-1.4zM116 32h1.4v1.4h-1.4zM40 28h1.4v1.4h-1.4zM47 22h1.4v1.4h-1.4zM58 28h1.4v1.4h-1.4zM64 33h1.4v1.4h-1.4zM124 29h1.4v1.4h-1.4zM39 63h1.4v1.4h-1.4zM89 17h1.4v1.4h-1.4zM62 10h1.4v1.4h-1.4zM141 77h1.4v1.4h-1.4zM16 41h1.4v1.4h-1.4zM59 42h1.4v1.4h-1.4zM110 41h1.4v1.4h-1.4zM99 70h1.4v1.4h-1.4zM54 23h1.4v1.4h-1.4zM32 33h1.4v1.4h-1.4zM10 47h1.4v1.4h-1.4zM79 65h1.4v1.4h-1.4zM79 59h1.4v1.4h-1.4zM58 56h1.4v1.4h-1.4zM103 34h1.4v1.4h-1.4zM4 40h1.4v1.4h-1.4zM83 50h1.4v1.4h-1.4zM55 18h1.4v1.4h-1.4zM80 39h1.4v1.4h-1.4zM155 65h1.4v1.4h-1.4zM54 38h1.4v1.4h-1.4zM113 20h1.4v1.4h-1.4zM52 5h1.4v1.4h-1.4zM152 58h1.4v1.4h-1.4zM29 55h1.4v1.4h-1.4zM116 53h1.4v1.4h-1.4zM83 44h1.4v1.4h-1.4zM75 35h1.4v1.4h-1.4zM102 8h1.4v1.4h-1.4zM66 35h1.4v1.4h-1.4zM56 10h1.4v1.4h-1.4zM51 53h1.4v1.4h-1.4zM95 35h1.4v1.4h-1.4zM105 28h1.4v1.4h-1.4zM82 58h1.4v1.4h-1.4zM132 59h1.4v1.4h-1.4zM106 9h1.4v1.4h-1.4zM63 43h1.4v1.4h-1.4zM139 52h1.4v1.4h-1.4zM137 59h1.4v1.4h-1.4zM131 75h1.4v1.4h-1.4zM10 30h1.4v1.4h-1.4zM9 38h1.4v1.4h-1.4zM95 72h1.4v1.4h-1.4zM70 55h1.4v1.4h-1.4zM27 37h1.4v1.4h-1.4zM23 38h1.4v1.4h-1.4zM104 28h1.4v1.4h-1.4zM71 33h1.4v1.4h-1.4zM84 67h1.4v1.4h-1.4zM12 43h1.4v1.4h-1.4zM15 29h1.4v1.4h-1.4zM72 53h1.4v1.4h-1.4zM92 79h1.4v1.4h-1.4zM54 46h1.4v1.4h-1.4zM54 35h1.4v1.4h-1.4zM10 36h1.4v1.4h-1.4zM15 31h1.4v1.4h-1.4zM77 34h1.4v1.4h-1.4zM90 58h1.4v1.4h-1.4zM137 60h1.4v1.4h-1.4zM119 18h1.4v1.4h-1.4zM112 35h1.4v1.4h-1.4zM56 18h1.4v1.4h-1.4zM99 69h1.4v1.4h-1.4zM138 66h1.4v1.4h-1.4zM136 73h1.4v1.4h-1.4zM90 59h1.4v1.4h-1.4zM64 14h1.4v1.4h-1.4zM45 44h1.4v1.4h-1.4zM65 24h1.4v1.4h-1.4zM84 19h1.4v1.4h-1.4zM31 15h1.4v1.4h-1.4zM117 66h1.4v1.4h-1.4zM96 49h1.4v1.4h-1.4zM103 8h1.4v1.4h-1.4zM149 51h1.4v1.4h-1.4zM150 59h1.4v1.4h-1.4zM66 16h1.4v1.4h-1.4zM59 32h1.4v1.4h-1.4zM47 70h1.4v1.4h-1.4zM125 48h1.4v1.4h-1.4zM128 58h1.4v1.4h-1.4zM53 73h1.4v1.4h-1.4zM110 35h1.4v1.4h-1.4zM146 61h1.4v1.4h-1.4zM58 13h1.4v1.4h-1.4zM70 71h1.4v1.4h-1.4zM85 40h1.4v1.4h-1.4zM147 74h1.4v1.4h-1.4zM147 59h1.4v1.4h-1.4zM70 10h1.4v1.4h-1.4zM137 70h1.4v1.4h-1.4zM49 53h1.4v1.4h-1.4zM90 17h1.4v1.4h-1.4zM137 61h1.4v1.4h-1.4zM34 29h1.4v1.4h-1.4zM75 25h1.4v1.4h-1.4zM90 58h1.4v1.4h-1.4zM56 8h1.4v1.4h-1.4zM71 55h1.4v1.4h-1.4zM123 73h1.4v1.4h-1.4zM32 49h1.4v1.4h-1.4zM30 23h1.4v1.4h-1.4zM137 48h1.4v1.4h-1.4zM139 76h1.4v1.4h-1.4zM62 23h1.4v1.4h-1.4zM101 31h1.4v1.4h-1.4zM111 63h1.4v1.4h-1.4zM146 73h1.4v1.4h-1.4zM141 55h1.4v1.4h-1.4zM71 14h1.4v1.4h-1.4zM50 19h1.4v1.4h-1.4zM104 35h1.4v1.4h-1.4zM116 56h1.4v1.4h-1.4zM129 57h1.4v1.4h-1.4zM37 55h1.4v1.4h-1.4zM102 39h1.4v1.4h-1.4zM110 10h1.4v1.4h-1.4zM153 71h1.4v1.4h-1.4zM78 32h1.4v1.4h-1.4zM91 76h1.4v1.4h-1.4zM110 45h1.4v1.4h-1.4zM51 48h1.4v1.4h-1.4zM24 22h1.4v1.4h-1.4zM43 54h1.4v1.4h-1.4zM28 39h1.4v1.4h-1.4zM76 45h1.4v1.4h-1.4zM49 42h1.4v1.4h-1.4zM59 37h1.4v1.4h-1.4zM93 54h1.4v1.4h-1.4zM36 23h1.4v1.4h-1.4zM71 61h1.4v1.4h-1.4zM121 76h1.4v1.4h-1.4zM136 54h1.4v1.4h-1.4zM49 58h1.4v1.4h-1.4zM92 47h1.4v1.4h-1.4zM102 76h1.4v1.4h-1.4zM93 33h1.4v1.4h-1.4zM112 21h1.4v1.4h-1.4zM68 53h1.4v1.4h-1.4zM63 44h1.4v1.4h-1.4zM42 59h1.4v1.4h-1.4zM141 54h1.4v1.4h-1.4zM60 22h1.4v1.4h-1.4zM69 13h1.4v1.4h-1.4zM54 11h1.4v1.4h-1.4zM47 18h1.4v1.4h-1.4zM52 68h1.4v1.4h-1.4zM103 25h1.4v1.4h-1.4zM57 44h1.4v1.4h-1.4zM65 23h1.4v1.4h-1.4zM42 29h1.4v1.4h-1.4zM90 17h1.4v1.4h-1.4zM67 32h1.4v1.4h-1.4zM63 31h1.4v1.4h-1.4zM98 75h1.4v1.4h-1.4zM152 68h1.4v1.4h-1.4zM157 53h1.4v1.4h-1.4zM17 41h1.4v1.4h-1.4zM150 66h1.4v1.4h-1.4zM49 72h1.4v1.4h-1.4zM104 78h1.4v1.4h-1.4zM104 14h1.4v1.4h-1.4zM113 45h1.4v1.4h-1.4zM114 62h1.4v1.4h-1.4zM43 33h1.4v1.4h-1.4zM122 71h1.4v1.4h-1.4zM83 18h1.4v1.4h-1.4zM107 54h1.4v1.4h-1.4zM126 73h1.4v1.4h-1.4zM148 60h1.4v1.4h-1.4zM139 76h1.4v1.4h-1.4zM56 54h1.4v1.4h-1.4zM70 52h1.4v1.4h-1.4zM75 20h1.4v1.4h-1.4zM104 45h1.4v1.4h-1.4zM130 52h1.4v1.4h-1.4zM105 44h1.4v1.4h-1.4zM148 69h1.4v1.4h-1.4zM83 4h1.4v1.4h-1.4zM66 30h1.4v1.4h-1.4zM87 31h1.4v1.4h-1.4zM138 69h1.4v1.4h-1.4zM38 13h1.4v1.4h-1.4zM95 57h1.4v1.4h-1.4zM56 70h1.4v1.4h-1.4zM133 67h1.4v1.4h-1.4zM138 75h1.4v1.4h-1.4zM128 59h1.4v1.4h-1.4zM115 61h1.4v1.4h-1.4zM69 40h1.4v1.4h-1.4zM142 48h1.4v1.4h-1.4zM87 65h1.4v1.4h-1.4zM83 17h1.4v1.4h-1.4zM104 62h1.4v1.4h-1.4zM76 27h1.4v1.4h-1.4zM30 15h1.4v1.4h-1.4zM84 47h1.4v1.4h-1.4zM41 14h1.4v1.4h-1.4zM64 12h1.4v1.4h-1.4zM110 18h1.4v1.4h-1.4zM66 45h1.4v1.4h-1.4zM45 35h1.4v1.4h-1.4zM57 38h1.4v1.4h-1.4zM95 14h1.4v1.4h-1.4zM82 49h1.4v1.4h-1.4zM91 18h1.4v1.4h-1.4zM91 66h1.4v1.4h-1.4zM147 70h1.4v1.4h-1.4zM65 44h1.4v1.4h-1.4zM100 57h1.4v1.4h-1.4zM65 6h1.4v1.4h-1.4zM32 50h1.4v1.4h-1.4zM125 52h1.4v1.4h-1.4zM84 28h1.4v1.4h-1.4zM149 67h1.4v1.4h-1.4zM31 29h1.4v1.4h-1.4zM102 62h1.4v1.4h-1.4zM48 60h1.4v1.4h-1.4zM90 34h1.4v1.4h-1.4zM135 72h1.4v1.4h-1.4zM10 32h1.4v1.4h-1.4zM80 74h1.4v1.4h-1.4zM81 34h1.4v1.4h-1.4zM126 67h1.4v1.4h-1.4zM122 40h1.4v1.4h-1.4zM137 69h1.4v1.4h-1.4zM96 60h1.4v1.4h-1.4zM99 36h1.4v1.4h-1.4zM97 64h1.4v1.4h-1.4zM80 14h1.4v1.4h-1.4zM29 15h1.4v1.4h-1.4zM80 75h1.4v1.4h-1.4zM6 37h1.4v1.4h-1.4zM23 20h1.4v1.4h-1.4zM26 17h1.4v1.4h-1.4zM28 63h1.4v1.4h-1.4zM118 70h1.4v1.4h-1.4zM34 37h1.4v1.4h-1.4zM72 13h1.4v1.4h-1.4zM105 61h1.4v1.4h-1.4zM79 26h1.4v1.4h-1.4zM25 54h1.4v1.4h-1.4zM38 25h1.4v1.4h-1.4zM104 42h1.4v1.4h-1.4zM24 25h1.4v1.4h-1.4zM83 47h1.4v1.4h-1.4zM22 45h1.4v1.4h-1.4zM148 48h1.4v1.4h-1.4zM79 46h1.4v1.4h-1.4zM152 73h1.4v1.4h-1.4zM38 35h1.4v1.4h-1.4zM103 71h1.4v1.4h-1.4zM56 31h1.4v1.4h-1.4zM76 13h1.4v1.4h-1.4zM68 44h1.4v1.4h-1.4zM105 32h1.4v1.4h-1.4zM152 72h1.4v1.4h-1.4zM105 66h1.4v1.4h-1.4zM136 64h1.4v1.4h-1.4zM100 4h1.4v1.4h-1.4zM77 12h1.4v1.4h-1.4zM112 64h1.4v1.4h-1.4zM78 42h1.4v1.4h-1.4zM54 40h1.4v1.4h-1.4zM17 42h1.4v1.4h-1.4zM80 26h1.4v1.4h-1.4zM63 23h1.4v1.4h-1.4zM56 11h1.4v1.4h-1.4zM144 54h1.4v1.4h-1.4zM41 22h1.4v1.4h-1.4zM24 31h1.4v1.4h-1.4zM77 13h1.4v1.4h-1.4zM32 43h1.4v1.4h-1.4zM75 37h1.4v1.4h-1.4zM85 39h1.4v1.4h-1.4zM78 8h1.4v1.4h-1.4zM130 48h1.4v1.4h-1.4zM70 13h1.4v1.4h-1.4zM27 49h1.4v1.4h-1.4zM58 46h1.4v1.4h-1.4zM9 48h1.4v1.4h-1.4zM45 63h1.4v1.4h-1.4zM26 38h1.4v1.4h-1.4zM93 46h1.4v1.4h-1.4zM155 62h1.4v1.4h-1.4zM31 47h1.4v1.4h-1.4zM110 39h1.4v1.4h-1.4zM112 27h1.4v1.4h-1.4zM131 47h1.4v1.4h-1.4zM132 47h1.4v1.4h-1.4zM35 35h1.4v1.4h-1.4zM140 70h1.4v1.4h-1.4zM42 15h1.4v1.4h-1.4zM91 2h1.4v1.4h-1.4zM70 29h1.4v1.4h-1.4zM116 49h1.4v1.4h-1.4zM136 44h1.4v1.4h-1.4zM81 20h1.4v1.4h-1.4zM47 21h1.4v1.4h-1.4zM69 24h1.4v1.4h-1.4zM59 52h1.4v1.4h-1.4zM15 52h1.4v1.4h-1.4zM25 51h1.4v1.4h-1.4zM91 58h1.4v1.4h-1.4zM81 73h1.4v1.4h-1.4zM48 40h1.4v1.4h-1.4zM106 60h1.4v1.4h-1.4zM93 55h1.4v1.4h-1.4zM141 44h1.4v1.4h-1.4zM84 71h1.4v1.4h-1.4zM102 5h1.4v1.4h-1.4zM127 75h1.4v1.4h-1.4zM54 40h1.4v1.4h-1.4zM75 70h1.4v1.4h-1.4zM19 38h1.4v1.4h-1.4zM79 19h1.4v1.4h-1.4zM98 79h1.4v1.4h-1.4zM85 54h1.4v1.4h-1.4zM69 23h1.4v1.4h-1.4zM61 24h1.4v1.4h-1.4zM68 70h1.4v1.4h-1.4zM47 53h1.4v1.4h-1.4zM27 20h1.4v1.4h-1.4zM128 71h1.4v1.4h-1.4zM105 12h1.4v1.4h-1.4zM110 49h1.4v1.4h-1.4zM104 56h1.4v1.4h-1.4zM105 74h1.4v1.4h-1.4zM74 9h1.4v1.4h-1.4zM88 37h1.4v1.4h-1.4zM64 16h1.4v1.4h-1.4zM107 58h1.4v1.4h-1.4zM55 60h1.4v1.4h-1.4zM94 43h1.4v1.4h-1.4zM138 66h1.4v1.4h-1.4zM44 10h1.4v1.4h-1.4zM51 43h1.4v1.4h-1.4zM43 47h1.4v1.4h-1.4zM24 47h1.4v1.4h-1.4zM59 37h1.4v1.4h-1.4zM27 30h1.4v1.4h-1.4zM23 43h1.4v1.4h-1.4zM76 63h1.4v1.4h-1.4zM79 62h1.4v1.4h-1.4zM89 71h1.4v1.4h-1.4zM100 10h1.4v1.4h-1.4zM119 35h1.4v1.4h-1.4zM128 69h1.4v1.4h-1.4zM84 49h1.4v1.4h-1.4zM56 14h1.4v1.4h-1.4zM40 51h1.4v1.4h-1.4zM130 64h1.4v1.4h-1.4zM54 67h1.4v1.4h-1.4zM92 39h1.4v1.4h-1.4zM125 72h1.4v1.4h-1.4zM115 57h1.4v1.4h-1.4zM100 23h1.4v1.4h-1.4zM90 8h1.4v1.4h-1.4zM86 47h1.4v1.4h-1.4zM42 68h1.4v1.4h-1.4zM127 37h1.4v1.4h-1.4zM153 59h1.4v1.4h-1.4zM75 53h1.4v1.4h-1.4zM39 32h1.4v1.4h-1.4zM117 64h1.4v1.4h-1.4zM101 32h1.4v1.4h-1.4zM84 22h1.4v1.4h-1.4zM136 64h1.4v1.4h-1.4zM136 45h1.4v1.4h-1.4zM123 45h1.4v1.4h-1.4zM150 69h1.4v1.4h-1.4zM100 43h1.4v1.4h-1.4zM124 58h1.4v1.4h-1.4zM77 31h1.4v1.4h-1.4zM69 32h1.4v1.4h-1.4zM35 18h1.4v1.4h-1.4zM84 40h1.4v1.4h-1.4zM69 30h1.4v1.4h-1.4zM122 59h1.4v1.4h-1.4zM54 28h1.4v1.4h-1.4zM152 48h1.4v1.4h-1.4zM116 47h1.4v1.4h-1.4zM30 34h1.4v1.4h-1.4zM56 54h1.4v1.4h-1.4zM102 46h1.4v1.4h-1.4zM152 65h1.4v1.4h-1.4zM93 24h1.4v1.4h-1.4zM53 26h1.4v1.4h-1.4zM120 62h1.4v1.4h-1.4zM48 43h1.4v1.4h-1.4zM12 48h1.4v1.4h-1.4zM108 60h1.4v1.4h-1.4zM89 3h1.4v1.4h-1.4zM143 50h1.4v1.4h-1.4zM47 7h1.4v1.4h-1.4zM52 72h1.4v1.4h-1.4zM107 35h1.4v1.4h-1.4zM99 16h1.4v1.4h-1.4zM66 60h1.4v1.4h-1.4zM35 17h1.4v1.4h-1.4zM56 5h1.4v1.4h-1.4zM58 64h1.4v1.4h-1.4zM68 22h1.4v1.4h-1.4zM107 41h1.4v1.4h-1.4zM28 58h1.4v1.4h-1.4zM116 30h1.4v1.4h-1.4zM125 68h1.4v1.4h-1.4zM51 24h1.4v1.4h-1.4zM66 39h1.4v1.4h-1.4zM20 29h1.4v1.4h-1.4zM93 68h1.4v1.4h-1.4zM107 25h1.4v1.4h-1.4zM72 76h1.4v1.4h-1.4zM120 46h1.4v1.4h-1.4zM88 39h1.4v1.4h-1.4zM25 18h1.4v1.4h-1.4zM37 30h1.4v1.4h-1.4zM135 42h1.4v1.4h-1.4zM83 10h1.4v1.4h-1.4zM28 60h1.4v1.4h-1.4zM3 40h1.4v1.4h-1.4zM93 70h1.4v1.4h-1.4zM29 40h1.4v1.4h-1.4zM50 37h1.4v1.4h-1.4zM49 9h1.4v1.4h-1.4zM95 14h1.4v1.4h-1.4zM47 12h1.4v1.4h-1.4zM82 52h1.4v1.4h-1.4zM39 55h1.4v1.4h-1.4zM24 58h1.4v1.4h-1.4zM107 41h1.4v1.4h-1.4zM73 35h1.4v1.4h-1.4zM47 52h1.4v1.4h-1.4zM95 3h1.4v1.4h-1.4zM13 27h1.4v1.4h-1.4zM89 9h1.4v1.4h-1.4zM76 31h1.4v1.4h-1.4zM100 25h1.4v1.4h-1.4zM91 69h1.4v1.4h-1.4zM20 48h1.4v1.4h-1.4zM36 56h1.4v1.4h-1.4zM65 73h1.4v1.4h-1.4zM104 12h1.4v1.4h-1.4zM83 36h1.4v1.4h-1.4zM43 61h1.4v1.4h-1.4zM44 30h1.4v1.4h-1.4zM91 71h1.4v1.4h-1.4zM137 63h1.4v1.4h-1.4zM63 54h1.4v1.4h-1.4zM74 54h1.4v1.4h-1.4zM56 8h1.4v1.4h-1.4zM116 57h1.4v1.4h-1.4zM35 42h1.4v1.4h-1.4zM53 14h1.4v1.4h-1.4zM54 32h1.4v1.4h-1.4zM98 19h1.4v1.4h-1.4zM96 13h1.4v1.4h-1.4zM107 34h1.4v1.4h-1.4zM119 65h1.4v1.4h-1.4zM65 61h1.4v1.4h-1.4zM54 12h1.4v1.4h-1.4zM30 24h1.4v1.4h-1.4zM42 66h1.4v1.4h-1.4zM27 35h1.4v1.4h-1.4zM24 19h1.4v1.4h-1.4zM73 51h1.4v1.4h-1.4zM88 48h1.4v1.4h-1.4zM140 45h1.4v1.4h-1.4zM152 68h1.4v1.4h-1.4zM96 30h1.4v1.4h-1.4zM109 59h1.4v1.4h-1.4zM1 37h1.4v1.4h-1.4zM23 37h1.4v1.4h-1.4zM35 52h1.4v1.4h-1.4zM76 12h1.4v1.4h-1.4zM56 71h1.4v1.4h-1.4zM116 52h1.4v1.4h-1.4zM149 74h1.4v1.4h-1.4zM68 24h1.4v1.4h-1.4zM115 50h1.4v1.4h-1.4zM12 27h1.4v1.4h-1.4zM55 47h1.4v1.4h-1.4zM111 55h1.4v1.4h-1.4zM31 50h1.4v1.4h-1.4zM36 25h1.4v1.4h-1.4zM126 41h1.4v1.4h-1.4zM133 60h1.4v1.4h-1.4zM52 66h1.4v1.4h-1.4zM100 14h1.4v1.4h-1.4zM125 59h1.4v1.4h-1.4zM44 8h1.4v1.4h-1.4zM77 18h1.4v1.4h-1.4zM85 13h1.4v1.4h-1.4zM42 66h1.4v1.4h-1.4zM52 68h1.4v1.4h-1.4zM115 39h1.4v1.4h-1.4zM84 78h1.4v1.4h-1.4zM104 19h1.4v1.4h-1.4zM54 24h1.4v1.4h-1.4zM89 3h1.4v1.4h-1.4zM82 46h1.4v1.4h-1.4zM66 65h1.4v1.4h-1.4zM73 16h1.4v1.4h-1.4zM12 45h1.4v1.4h-1.4zM112 35h1.4v1.4h-1.4zM32 29h1.4v1.4h-1.4zM120 23h1.4v1.4h-1.4zM109 54h1.4v1.4h-1.4zM108 43h1.4v1.4h-1.4zM62 73h1.4v1.4h-1.4zM135 53h1.4v1.4h-1.4zM141 69h1.4v1.4h-1.4zM59 47h1.4v1.4h-1.4zM98 66h1.4v1.4h-1.4zM95 13h1.4v1.4h-1.4zM98 16h1.4v1.4h-1.4zM28 39h1.4v1.4h-1.4zM49 44h1.4v1.4h-1.4zM85 63h1.4v1.4h-1.4zM93 27h1.4v1.4h-1.4zM80 53h1.4v1.4h-1.4zM136 73h1.4v1.4h-1.4zM130 49h1.4v1.4h-1.4zM85 51h1.4v1.4h-1.4zM71 40h1.4v1.4h-1.4zM94 32h1.4v1.4h-1.4zM62 58h1.4v1.4h-1.4zM127 60h1.4v1.4h-1.4zM70 75h1.4v1.4h-1.4zM118 37h1.4v1.4h-1.4zM76 69h1.4v1.4h-1.4zM152 66h1.4v1.4h-1.4zM124 45h1.4v1.4h-1.4zM105 7h1.4v1.4h-1.4zM134 66h1.4v1.4h-1.4zM18 58h1.4v1.4h-1.4zM59 35h1.4v1.4h-1.4zM87 46h1.4v1.4h-1.4zM105 37h1.4v1.4h-1.4zM67 52h1.4v1.4h-1.4zM39 46h1.4v1.4h-1.4zM22 45h1.4v1.4h-1.4zM67 33h1.4v1.4h-1.4zM121 28h1.4v1.4h-1.4zM52 10h1.4v1.4h-1.4zM97 4h1.4v1.4h-1.4zM124 78h1.4v1.4h-1.4zM123 75h1.4v1.4h-1.4zM152 71h1.4v1.4h-1.4zM10 42h1.4v1.4h-1.4zM76 40h1.4v1.4h-1.4zM88 16h1.4v1.4h-1.4zM44 33h1.4v1.4h-1.4zM10 40h1.4v1.4h-1.4zM136 48h1.4v1.4h-1.4zM110 64h1.4v1.4h-1.4zM29 22h1.4v1.4h-1.4zM101 57h1.4v1.4h-1.4zM41 12h1.4v1.4h-1.4zM94 15h1.4v1.4h-1.4zM80 53h1.4v1.4h-1.4zM82 3h1.4v1.4h-1.4zM85 75h1.4v1.4h-1.4zM48 17h1.4v1.4h-1.4zM90 67h1.4v1.4h-1.4zM72 66h1.4v1.4h-1.4zM91 47h1.4v1.4h-1.4zM108 73h1.4v1.4h-1.4zM33 31h1.4v1.4h-1.4zM88 66h1.4v1.4h-1.4zM69 70h1.4v1.4h-1.4zM102 49h1.4v1.4h-1.4zM88 11h1.4v1.4h-1.4zM82 8h1.4v1.4h-1.4zM156 64h1.4v1.4h-1.4zM19 34h1.4v1.4h-1.4zM129 55h1.4v1.4h-1.4zM55 7h1.4v1.4h-1.4zM81 4h1.4v1.4h-1.4zM17 26h1.4v1.4h-1.4zM76 6h1.4v1.4h-1.4zM80 28h1.4v1.4h-1.4zM86 13h1.4v1.4h-1.4zM23 56h1.4v1.4h-1.4zM53 32h1.4v1.4h-1.4zM68 61h1.4v1.4h-1.4zM94 64h1.4v1.4h-1.4zM115 60h1.4v1.4h-1.4zM48 22h1.4v1.4h-1.4zM56 47h1.4v1.4h-1.4zM155 76h1.4v1.4h-1.4zM83 21h1.4v1.4h-1.4zM33 37h1.4v1.4h-1.4zM39 31h1.4v1.4h-1.4zM21 28h1.4v1.4h-1.4zM76 69h1.4v1.4h-1.4zM77 47h1.4v1.4h-1.4zM145 51h1.4v1.4h-1.4zM34 20h1.4v1.4h-1.4zM20 22h1.4v1.4h-1.4zM73 62h1.4v1.4h-1.4zM81 61h1.4v1.4h-1.4zM74 10h1.4v1.4h-1.4zM123 73h1.4v1.4h-1.4zM70 11h1.4v1.4h-1.4zM22 57h1.4v1.4h-1.4zM125 32h1.4v1.4h-1.4zM105 56h1.4v1.4h-1.4zM24 54h1.4v1.4h-1.4zM104 40h1.4v1.4h-1.4zM22 43h1.4v1.4h-1.4zM66 8h1.4v1.4h-1.4zM108 47h1.4v1.4h-1.4zM64 27h1.4v1.4h-1.4zM101 70h1.4v1.4h-1.4zM54 54h1.4v1.4h-1.4zM85 70h1.4v1.4h-1.4zM142 64h1.4v1.4h-1.4zM114 41h1.4v1.4h-1.4zM149 54h1.4v1.4h-1.4zM135 65h1.4v1.4h-1.4zM35 59h1.4v1.4h-1.4zM60 5h1.4v1.4h-1.4zM101 31h1.4v1.4h-1.4zM29 34h1.4v1.4h-1.4zM73 11h1.4v1.4h-1.4zM47 31h1.4v1.4h-1.4zM111 36h1.4v1.4h-1.4zM67 48h1.4v1.4h-1.4zM111 54h1.4v1.4h-1.4zM83 28h1.4v1.4h-1.4zM4 36h1.4v1.4h-1.4zM139 44h1.4v1.4h-1.4zM50 65h1.4v1.4h-1.4zM154 60h1.4v1.4h-1.4zM38 51h1.4v1.4h-1.4zM117 41h1.4v1.4h-1.4zM49 44h1.4v1.4h-1.4zM71 69h1.4v1.4h-1.4zM20 23h1.4v1.4h-1.4zM49 18h1.4v1.4h-1.4zM77 7h1.4v1.4h-1.4zM22 38h1.4v1.4h-1.4zM18 32h1.4v1.4h-1.4z" fill="#606060"/><rect x="99.4" y="44.6" width="4.4" height="22.0" fill="#1f9e8e"/><polygon points="97.2,44.6 106.1,44.6 101.6,38.4" fill="#1f9e8e"/><rect x="25.4" y="27.4" width="4.4" height="22.0" fill="#f26b5b"/><polygon points="23.2,27.4 32.1,27.4 27.7,21.2" fill="#f26b5b"/><rect x="96.8" y="28.6" width="4.4" height="22.0" fill="#1f9e8e"/><polygon points="94.6,28.6 103.5,28.6 99.0,22.4" fill="#1f9e8e"/><rect x="54.5" y="24.7" width="4.4" height="22.0" fill="#f26b5b"/><polygon points="52.3,24.7 61.1,24.7 56.7,18.5" fill="#f26b5b"/><rect x="80.5" y="56.4" width="4.4" height="22.0" fill="#1f9e8e"/><polygon points="78.3,56.4 87.2,56.4 82.7,50.2" fill="#1f9e8e"/><rect x="56.1" y="50.7" width="4.4" height="22.0" fill="#f26b5b"/><polygon points="53.9,50.7 62.7,50.7 58.3,44.5" fill="#f26b5b"/><rect x="127.2" y="38.6" width="4.4" height="22.0" fill="#1f9e8e"/><polygon points="125.0,38.6 133.9,38.6 129.5,32.4" fill="#1f9e8e"/><rect x="99.1" y="11.9" width="4.4" height="22.0" fill="#f26b5b"/><polygon points="96.9,11.9 105.7,11.9 101.3,5.7" fill="#f26b5b"/><rect x="62.9" y="5.0" width="4.4" height="22.0" fill="#1f9e8e"/><polygon points="60.7,5.0 69.6,5.0 65.2,-1.1" fill="#1f9e8e"/><rect x="36.3" y="6.3" width="4.4" height="22.0" fill="#f26b5b"/><polygon points="34.1,6.3 42.9,6.3 38.5,0.1" fill="#f26b5b"/><rect x="142.6" y="56.3" width="4.4" height="22.0" fill="#1f9e8e"/><polygon points="140.4,56.3 149.3,56.3 144.9,50.1" fill="#1f9e8e"/><rect x="110.7" y="59.9" width="4.4" height="22.0" fill="#f26b5b"/><polygon points="108.4,59.9 117.3,59.9 112.9,53.7" fill="#f26b5b"/></svg>
<div class="t" id="f32" style="top:991.0px;font-size:13px;font-weight:700;letter-spacing:0.887px;left:1137px;">Iteration 0</div>
<div class="t" id="f33" style="top:1131.5px;font-size:13px;font-weight:700;letter-spacing:0.617px;left:1132px;">Iteration 200</div>
<div class="t" style="top:1106.5px;font-size:16px;color:#444;left:1163px;">&#8942;&#8595;</div>
<div class="a" style="left:376.4px;top:1224.4px;width:35.2px;height:35.2px;background:#f7a9aa;border-radius:50%;"></div>
<div class="t" style="top:1230.8px;font-size:23px;font-weight:700;left:394px;transform:translateX(-50%);">1</div>
<div class="a" style="left:673.4px;top:1224.4px;width:35.2px;height:35.2px;background:#f7a9aa;border-radius:50%;"></div>
<div class="t" style="top:1230.8px;font-size:23px;font-weight:700;left:691px;transform:translateX(-50%);">2</div>
<div class="a" style="left:1007.4px;top:1224.4px;width:35.2px;height:35.2px;background:#f7a9aa;border-radius:50%;"></div>
<div class="t" style="top:1230.8px;font-size:23px;font-weight:700;left:1025px;transform:translateX(-50%);">3</div>
<div class="t" id="f34" style="top:1237.8px;font-size:20px;letter-spacing:0.385px;left:417px;">Sketch Plane Detection</div>
<div class="t" id="f35" style="top:1218.9px;font-size:20px;letter-spacing:0.213px;left:726px;">Constrained CAD Sketch</div>
<div class="t" id="f36" style="top:1251.1px;font-size:20px;letter-spacing:0.721px;left:758px;">Parameterization</div>
<div class="t" id="f37" style="top:1234.1px;font-size:20px;letter-spacing:0.734px;left:1055px;">Extrusion Optimization</div>
<div class="t" id="f38" style="top:1289.5px;font-size:32px;font-family:'Liberation Mono', 'Courier New', monospace;color:#222;letter-spacing:1.377px;left:726px;">MiCADangelo</div>
<div class="a" style="left:117px;top:1349px;width:1471px;height:306px;background:#e8eff7;border-radius:8px;"></div>
<div class="t" id="f39" style="top:1404.1px;font-size:40px;color:#2b2b2b;font-style:italic;letter-spacing:-0.727px;left:186px;">MiCADangelo is a novel framework for <b style="color:#000">CAD reverse-engineering</b> that mimics</div>
<div class="t" id="f40" style="top:1464.1px;font-size:40px;color:#2b2b2b;font-style:italic;letter-spacing:-0.959px;left:176px;"><b style="color:#000">human design workflows</b>. It analyzes 3D scans via 2D cross-sections to detect</div>
<div class="t" id="f41" style="top:1524.7px;font-size:40px;color:#2b2b2b;font-style:italic;letter-spacing:-1.137px;left:143.5px;"><b style="color:#000">sketch planes</b>, predict <b style="color:#000">constrained parametric sketches</b> and optimize <b style="color:#000">extrusions</b>.</div>
<div class="t" id="f42" style="top:1883.4px;font-size:29px;letter-spacing:0.647px;left:152px;">A real-world CAD reverse engineering-inspired approach that can effectively <b>reconstruct fully parametric</b></div>
<div class="a" style="left:129.9px;top:1894.9px;width:7.2px;height:7.2px;background:#000;border-radius:50%;"></div>
<div class="t" id="f43" style="top:1929.4px;font-size:29px;letter-spacing:0.158px;left:152px;"><b>CAD models from 3D scans</b> while preserving <b>fine-grained geometric details</b>.</div>
<div class="t" id="f44" style="top:2023.4px;font-size:29px;letter-spacing:0.679px;left:152px;">The first approach capable of reconstructing CAD models from 3D scans while incorporating <b>sketch</b></div>
<div class="a" style="left:129.9px;top:2034.9px;width:7.2px;height:7.2px;background:#000;border-radius:50%;"></div>
<div class="t" id="f45" style="top:2069.4px;font-size:29px;letter-spacing:-0.308px;left:152px;"><b>constraints</b>.</div>
<div class="t" id="f46" style="top:2163.0px;font-size:29px;letter-spacing:0.959px;left:152px;">Comprehensive experiments on publicly available benchmarks and demonstrate that our method</div>
<div class="a" style="left:129.9px;top:2174.5px;width:7.2px;height:7.2px;background:#000;border-radius:50%;"></div>
<div class="t" id="f47" style="top:2209.0px;font-size:29px;letter-spacing:0.740px;left:152px;">outperforms existing <b>state-of-the-art</b> techniques in CAD reverse engineering.</div>
<div class="t" id="f48" style="top:2362.8px;font-size:26px;color:#333;letter-spacing:0.543px;left:111px;"><b style="color:#000">Acknowledgement:</b> This project is supported by the National</div>
<div class="t" id="f49" style="top:2399.4px;font-size:26px;color:#333;letter-spacing:0.238px;left:111px;">Research Fund, Luxembourg under</div>
<div class="t" id="f50" style="top:2436.0px;font-size:26px;color:#333;letter-spacing:-0.102px;left:111px;">BRIDGES2021/IS/16849599/FREE-3D projects and by Artec 3D.</div>
<svg class="a" style="left:870px;top:2385px;" width="250" height="80" viewBox="0 0 250 80"><g transform="translate(-870,-2385)"><rect x="881.5" y="2392.7" width="231.5" height="67.5" fill="#35627d"/><g fill="#fff"><rect x="884" y="2395" width="74" height="7"/><rect x="889.8" y="2395" width="10" height="61.4"/><rect x="889.8" y="2421" width="41" height="8"/><rect x="957.8" y="2395" width="10" height="61.4"/><polygon points="960,2395 975,2395 1040,2456.4 1025,2456.4"/><rect x="1056" y="2395" width="55" height="7"/><rect x="1103" y="2395" width="8" height="36"/><polygon points="1075,2430 1111,2430 1111,2456.4 1102,2456.4 1075,2437"/></g></g></svg>
<div class="t" id="f51" style="top:2389.9px;font-size:22px;color:#111;letter-spacing:1.299px;left:1122px;">Luxembourg</div>
<div class="t" id="f52" style="top:2414.4px;font-size:22px;color:#111;letter-spacing:1.183px;left:1122px;">National</div>
<div class="t" id="f53" style="top:2439.8px;font-size:22px;color:#111;letter-spacing:0.940px;left:1122px;">Research Fund</div>
<svg class="a" style="left:1300px;top:2385px;" width="90" height="80" viewBox="0 0 90 80"><g transform="translate(-1300,-2385)"><polygon points="1358.8,2392.7 1324.8,2396 1308.7,2431.8 1324.8,2458.4 1368.7,2459.3 1381.5,2422.4" fill="#e8432a"/><polygon points="1324.8,2396 1358.8,2392.7 1334.7,2415.3" fill="#ef6a4f"/><polygon points="1358.8,2392.7 1381.5,2422.4 1374.4,2428 1334.7,2415.3" fill="#f28670"/><polygon points="1334.7,2415.3 1374.4,2428 1334.7,2452" fill="#f6a898"/><polygon points="1308.7,2431.8 1334.7,2415.3 1334.7,2452 1324.8,2458.4" fill="#e23a22"/><polygon points="1324.8,2458.4 1334.7,2452 1368.7,2459.3" fill="#b8241a"/></g></svg>
<div class="t" id="f54" style="top:2417.8px;font-size:48px;color:#3a3a3c;letter-spacing:1.452px;left:1381.5px;">Artec <span style="color:#e8432a">3D</span></div>
<div class="a" style="left:1704px;top:702px;width:36px;height:36px;background:#f7a9aa;border-radius:50%;"></div>
<div class="t" style="top:707.8px;font-size:25px;font-weight:700;left:1722px;transform:translateX(-50%);">1</div>
<div class="t" id="f55" style="top:703.8px;font-size:25px;font-weight:700;letter-spacing:-0.594px;left:1757px;">Sketch Plane Detection</div>
<div class="t" id="f56" style="top:742.5px;font-size:24.5px;letter-spacing:0.097px;left:1804px;">MiCADangelo samples N equally-spaced slicing planes along the x-, y-, and z-axes, producing a set of 2D cross-section slices.</div>
<div class="a" style="left:1784.8px;top:752.0px;width:6.4px;height:6.4px;background:#000;border-radius:50%;"></div>
<div class="t" id="f57" style="top:780.3px;font-size:24.5px;letter-spacing:0.351px;left:1804px;">These slices are then converted into raster images and supplied with contextual embeddings before being passed into a sketch plane</div>
<div class="a" style="left:1784.8px;top:789.8px;width:6.4px;height:6.4px;background:#000;border-radius:50%;"></div>
<div class="t" id="f58" style="top:818.3px;font-size:24.5px;letter-spacing:0.892px;left:1804px;">detection network.</div>
<div class="t" id="f59" style="top:857.1px;font-size:24.5px;letter-spacing:0.482px;left:1804px;">The sketch plane detection network identifies the most relevant slices</div>
<div class="a" style="left:1784.8px;top:866.5999999999999px;width:6.4px;height:6.4px;background:#000;border-radius:50%;"></div>
<div class="t" style="top:851.5px;font-size:34px;font-family:'Liberation Serif', 'Times New Roman', serif;left:2600px;"><span style="font-family:'Liberation Serif',serif;font-style:italic;font-size:34px">&#119982;</span><span style="font-family:'Liberation Serif',serif;font-size:22px">key</span><span style="font-size:22px">.</span></div>
<div class="a" style="left:1704px;top:1269px;width:36px;height:36px;background:#f7a9aa;border-radius:50%;"></div>
<div class="t" style="top:1274.8px;font-size:25px;font-weight:700;left:1722px;transform:translateX(-50%);">2</div>
<div class="t" id="f60" style="top:1266.4px;font-size:25px;font-weight:700;letter-spacing:-0.535px;left:1757px;">Constrained Sketch Parameterization</div>
<div class="t" id="f61" style="top:1305.3px;font-size:24.5px;letter-spacing:0.408px;left:1804px;">Once the key cross-section slices are identified, the next step is to predict the sketch primitives and their associated constraints from</div>
<div class="a" style="left:1784.8px;top:1314.8px;width:6.4px;height:6.4px;background:#000;border-radius:50%;"></div>
<div class="t" id="f62" style="top:1343.3px;font-size:24.5px;letter-spacing:0.346px;left:1804px;">these slices to obtain the corresponding constrained sketches.</div>
<div class="t" id="f63" style="top:1382.3px;font-size:24.5px;letter-spacing:0.168px;left:1804px;">To achieve this, each key cross-section slice is decomposed into separate closed loops</div>
<div class="a" style="left:1784.8px;top:1391.8px;width:6.4px;height:6.4px;background:#000;border-radius:50%;"></div>
<div class="t" id="f64" style="top:1420.3px;font-size:24.5px;letter-spacing:0.466px;left:1804px;">Each loop is converted into a raster image and passed to a network for constrained sketch parameterization with the goal of inferring</div>
<div class="a" style="left:1784.8px;top:1429.8px;width:6.4px;height:6.4px;background:#000;border-radius:50%;"></div>
<div class="t" id="f65" style="top:1458.3px;font-size:24.5px;letter-spacing:0.461px;left:1804px;">the corresponding sketch primitives and constraints</div>
<div class="t" style="top:1382.1px;font-size:25px;font-family:'Liberation Serif', 'Times New Roman', serif;color:#333;left:2773px;">{<b style="font-style:normal">L</b><sub style="font-size:15px">j</sub>}<span style="position:relative;top:-14px;left:-2px;font-size:15px">L</span><span style="position:relative;top:5px;left:-10px;font-size:15px">j=1</span>.</div>
<div class="t" style="top:1458.1px;font-size:25px;font-family:'Liberation Serif', 'Times New Roman', serif;color:#333;font-style:italic;left:2393px;">{&#119974;<sub style="font-size:15px">j</sub>}<span style="position:relative;top:-14px;left:-2px;font-size:15px">L</span><span style="position:relative;top:5px;left:-10px;font-size:15px">j=1</span>.</div>
<div class="a" style="left:1704px;top:1963px;width:36px;height:36px;background:#f7a9aa;border-radius:50%;"></div>
<div class="t" style="top:1968.8px;font-size:25px;font-weight:700;left:1722px;transform:translateX(-50%);">3</div>
<div class="t" id="f66" style="top:1968.8px;font-size:25px;font-weight:700;letter-spacing:-0.329px;left:1757px;">Differentiable Extrusion Optimization</div>
<div class="t" id="f67" style="top:2007.3px;font-size:24.5px;letter-spacing:0.538px;left:1804px;">After obtaining the constrained sketches, a differentiable extrusion</div>
<div class="a" style="left:1784.8px;top:2016.8px;width:6.4px;height:6.4px;background:#000;border-radius:50%;"></div>
<div class="t" id="f68" style="top:2045.9px;font-size:24.5px;letter-spacing:0.696px;left:1804px;">optimization is performed for each sketch w.r.t the input geometry</div>
<div class="t" id="f69" style="top:2084.3px;font-size:24.5px;letter-spacing:0.562px;left:1804px;">of the mesh to find out the corresponding extrusion parameters.</div>
<div class="t" id="f70" style="top:2122.9px;font-size:24.5px;letter-spacing:0.511px;left:1804px;">Finally, the obtained extruded elements are assembled together to</div>
<div class="a" style="left:1784.8px;top:2132.4px;width:6.4px;height:6.4px;background:#000;border-radius:50%;"></div>
<div class="t" id="f71" style="top:2161.3px;font-size:24.5px;letter-spacing:0.375px;left:1804px;">obtain the final CAD model.</div>
<div class="a" style="left:1956px;top:919px;width:1350px;height:276px;background:transparent;border:2px dashed #888;border-radius:0px;"></div>
<svg class="a" style="left:1755px;top:1018px;overflow:visible;" width="155" height="85" viewBox="15.5 46.5 177 100.2" preserveAspectRatio="none"><defs><linearGradient id="scsgray9" x1="0" x2="1"><stop offset="0" stop-color="#a8a8a8"/><stop offset="0.6" stop-color="#cbcbcb"/><stop offset="1" stop-color="#a8a8a8"/></linearGradient><linearGradient id="shsgray9" x1="0" x2="1"><stop offset="0" stop-color="#7c7c7c"/><stop offset="0.5" stop-color="#b5b5b5"/><stop offset="1" stop-color="#7c7c7c"/></linearGradient></defs><path d="M15.5,119.5 L19.4,108.7 L51.2,95.5 L155.2,75.3 L181.6,74.5 L192.5,83.8 L192.5,100.9 L140,133 Q120,146.7 100.9,146.7 L21.7,138.9 Z" fill="#b9b9b9"/><path d="M15.5,119.5 L19.4,108.7 L51.2,95.5 L155.2,75.3 L181.6,74.5 L192.5,83.8 L142,113 L84,124 Z" fill="#8e8e8e"/><ellipse cx="35.7" cy="110.2" rx="8" ry="4.5" fill="#7a7a7a"/><ellipse cx="172.3" cy="81.5" rx="8.5" ry="4" fill="#7a7a7a"/><path d="M46.6,66.7 L46.6,110 A54,20.2 0 0 0 154.6,110 L154.6,66.7 Z" fill="url(#scsgray9)"/><ellipse cx="100.6" cy="66.7" rx="54" ry="20.2" fill="#8a8a8a"/><ellipse cx="99.3" cy="64.8" rx="31" ry="12" fill="url(#shsgray9)"/></svg>
<svg class="a" style="left:1891.5px;top:1061.5px;" width="58.0" height="25.0" viewBox="0 0 58.0 25.0"><g stroke="#666" stroke-width="3.5" stroke-linecap="round" stroke-linejoin="round" fill="none"><path d="M12.5,12.5 L43.4,12.5"/><path d="M36.9,18.5 L45.5,12.5 L36.9,6.5"/></g></svg>
<div class="t" id="f72" style="top:1123.7px;font-size:24px;letter-spacing:0.363px;left:1768px;">Input Mesh</div>
<div class="t" style="top:1152.9px;font-size:30px;font-family:'Liberation Serif', 'Times New Roman', serif;left:1817px;"><b>M</b></div>
<svg class="a" style="left:1998px;top:950px;overflow:visible;" width="150.0" height="155.0" viewBox="0 0 150 155"><polygon points="0,51 87,7 134,117 45,150" fill="rgba(188,168,150,0.33)"/><polygon points="3,48 90,4 137,114 48,147" fill="rgba(188,168,150,0.33)"/><polygon points="6,45 93,1 140,111 51,144" fill="rgba(188,168,150,0.33)"/><polygon points="9,42 96,-2 143,108 54,141" fill="rgba(188,168,150,0.33)"/><polygon points="28,22 38,36 40,120 30,134" fill="rgba(160,185,200,0.55)"/><polygon points="62,10 72,24 74,135 64,149" fill="rgba(160,185,200,0.55)"/><polygon points="100,0 110,14 112,118 102,132" fill="rgba(160,185,200,0.55)"/><svg x="5" y="35" width="120" height="72" viewBox="15.5 46.5 177 100.2" preserveAspectRatio="none" overflow="visible"><defs><linearGradient id="scsgray10" x1="0" x2="1"><stop offset="0" stop-color="#a8a8a8"/><stop offset="0.6" stop-color="#cbcbcb"/><stop offset="1" stop-color="#a8a8a8"/></linearGradient><linearGradient id="shsgray10" x1="0" x2="1"><stop offset="0" stop-color="#7c7c7c"/><stop offset="0.5" stop-color="#b5b5b5"/><stop offset="1" stop-color="#7c7c7c"/></linearGradient></defs><path d="M15.5,119.5 L19.4,108.7 L51.2,95.5 L155.2,75.3 L181.6,74.5 L192.5,83.8 L192.5,100.9 L140,133 Q120,146.7 100.9,146.7 L21.7,138.9 Z" fill="#b9b9b9"/><path d="M15.5,119.5 L19.4,108.7 L51.2,95.5 L155.2,75.3 L181.6,74.5 L192.5,83.8 L142,113 L84,124 Z" fill="#8e8e8e"/><ellipse cx="35.7" cy="110.2" rx="8" ry="4.5" fill="#7a7a7a"/><ellipse cx="172.3" cy="81.5" rx="8.5" ry="4" fill="#7a7a7a"/><path d="M46.6,66.7 L46.6,110 A54,20.2 0 0 0 154.6,110 L154.6,66.7 Z" fill="url(#scsgray10)"/><ellipse cx="100.6" cy="66.7" rx="54" ry="20.2" fill="#8a8a8a"/><ellipse cx="99.3" cy="64.8" rx="31" ry="12" fill="url(#shsgray10)"/></svg><polygon points="48,70 54,76 56,140 50,148" fill="rgba(160,185,200,0.5)"/><polygon points="92,60 98,66 100,130 94,138" fill="rgba(160,185,200,0.5)"/></svg>
<div class="t" id="f73" style="top:1103.3px;font-size:15.5px;font-weight:700;letter-spacing:0.421px;left:1993px;">Input Mesh with</div>
<div class="t" id="f74" style="top:1126.3px;font-size:15px;font-weight:700;letter-spacing:-0.620px;left:2006px;">Sampled Planes</div>
<div class="t" style="top:1152.2px;font-size:22px;font-family:'Liberation Serif', 'Times New Roman', serif;left:2021px;"><b>M</b>, {<i>&#960;<span style="font-size:13px">i</span></i>}<i style="font-size:14px;position:relative;top:-9px">N</i><span style="font-size:14px;position:relative;top:4px;left:-10px">1</span></div>
<div class="t" id="f75" style="top:1105.7px;font-size:15px;font-weight:700;letter-spacing:-0.793px;left:2192px;">Cross-section Slices</div>
<div class="t" style="top:1127.4px;font-size:22px;font-family:'Liberation Serif', 'Times New Roman', serif;left:2234px;">{<i>&#119982;<span style="font-size:13px">i</span></i>}<i style="font-size:14px;position:relative;top:-9px">N</i><span style="font-size:14px;position:relative;top:4px;left:-10px">1</span></div>
<svg class="a" style="left:1950px;top:930px;" width="1350" height="210" viewBox="0 0 1350 210"><g transform="translate(-1950,-930)"><g stroke="#666" stroke-width="3" stroke-linecap="round" stroke-linejoin="round" fill="none"><path d="M2135.0,1036.0 L2159.0,1036.0"/><path d="M2152.4,1040.6 L2159.0,1036.0 L2152.4,1031.4"/></g><g stroke="#666" stroke-width="3" stroke-linecap="round" stroke-linejoin="round" fill="none"><path d="M2368.0,1036.0 L2391.0,1036.0"/><path d="M2384.4,1040.6 L2391.0,1036.0 L2384.4,1031.4"/></g><g stroke="#666" stroke-width="3" stroke-linecap="round" stroke-linejoin="round" fill="none"><path d="M2797.0,1036.0 L2820.0,1036.0"/><path d="M2813.4,1040.6 L2820.0,1036.0 L2813.4,1031.4"/></g><path d="M2086,960 L2684,960 Q2698,960 2698,974 L2698,990" fill="none" stroke="#666" stroke-width="3"/><polygon points="2690,985 2706,985 2698,996" fill="#666"/><ellipse cx="2258" cy="1024" rx="78" ry="24" transform="rotate(-17 2258 1024)" fill="none" stroke="#5a9088" stroke-width="1.3" stroke-dasharray="4,1.5,1,1.5"/><ellipse cx="2250" cy="1030" rx="66" ry="20" transform="rotate(-17 2250 1030)" fill="none" stroke="#5a9088" stroke-width="1.3" stroke-dasharray="4,1.5,1,1.5"/><ellipse cx="2268" cy="1016" rx="60" ry="18" transform="rotate(-17 2268 1016)" fill="none" stroke="#5a9088" stroke-width="1.3" stroke-dasharray="4,1.5,1,1.5"/><ellipse cx="2262" cy="1026" rx="40" ry="13" transform="rotate(-17 2262 1026)" fill="none" stroke="#5a9088" stroke-width="1.3" stroke-dasharray="4,1.5,1,1.5"/><ellipse cx="2190" cy="1052" rx="14" ry="7" transform="rotate(-17 2190 1052)" fill="none" stroke="#5a9088" stroke-width="1.2" stroke-dasharray="3,1.5"/><polygon points="2170,1056 2178,1042 2210,1038 2204,1054" fill="none" stroke="#2f5870" stroke-width="1.1" stroke-dasharray="3,1.5"/><ellipse cx="2333" cy="1004" rx="14" ry="7" transform="rotate(-17 2333 1004)" fill="none" stroke="#5a9088" stroke-width="1.2" stroke-dasharray="3,1.5"/><polygon points="2313,1008 2321,994 2353,990 2347,1006" fill="none" stroke="#2f5870" stroke-width="1.1" stroke-dasharray="3,1.5"/><polygon points="2208,1000 2246,988 2270,1048 2232,1060" fill="none" stroke="#2f5870" stroke-width="1.2" stroke-dasharray="4,1.5,1,1.5"/><polygon points="2240,996 2278,984 2302,1044 2264,1056" fill="none" stroke="#2f5870" stroke-width="1.2" stroke-dasharray="4,1.5,1,1.5"/><polygon points="2272,992 2310,980 2334,1040 2296,1052" fill="none" stroke="#2f5870" stroke-width="1.2" stroke-dasharray="4,1.5,1,1.5"/><polygon points="2300,988 2338,976 2362,1036 2324,1048" fill="none" stroke="#2f5870" stroke-width="1.2" stroke-dasharray="4,1.5,1,1.5"/><polygon points="2213,991 2222,1034 2213,1077 2204,1034" fill="none" stroke="#f08a5a" stroke-width="1.2"/><polygon points="2252,1002 2261,1045 2252,1088 2243,1045" fill="none" stroke="#f08a5a" stroke-width="1.2"/><polygon points="2272,967 2281,1010 2272,1053 2263,1010" fill="none" stroke="#f08a5a" stroke-width="1.2"/><polygon points="2300,979 2309,1022 2300,1065 2291,1022" fill="none" stroke="#f08a5a" stroke-width="1.2"/><polygon points="2322,987 2331,1030 2322,1073 2313,1030" fill="none" stroke="#f08a5a" stroke-width="1.2"/><text x="2402" y="1004" font-family="'Liberation Serif','Times New Roman',serif" font-size="26" fill="#000" font-weight="700" >X</text><text x="2421" y="1008" font-family="'Liberation Serif','Times New Roman',serif" font-size="16" fill="#000" >1</text><text x="2400" y="1079" font-family="'Liberation Serif','Times New Roman',serif" font-size="26" fill="#000" font-weight="700" >X</text><text x="2419" y="1083" font-family="'Liberation Serif','Times New Roman',serif" font-size="16" fill="#000" font-style="italic" >N</text><path d="M2437,995 Q2455,980 2474,995 Q2455,1010 2437,995 Z" fill="none" stroke="#333" stroke-width="1.3"/><circle cx="2455.5" cy="995" r="6" fill="none" stroke="#333" stroke-width="1.3"/><circle cx="2443" cy="995" r="2.2" fill="none" stroke="#333" stroke-width="1"/><circle cx="2468" cy="995" r="2.2" fill="none" stroke="#333" stroke-width="1"/><path d="M2442,1062 L2453,1062 L2453,1056 L2471,1056 L2471,1089 L2442,1089 Z" fill="none" stroke="#333" stroke-width="1.3"/><circle cx="2436" cy="1032" r="1" fill="#333"/><circle cx="2436" cy="1036" r="1" fill="#333"/><circle cx="2436" cy="1040" r="1" fill="#333"/><path d="M2490,990 Q2490,984 2496,985 L2564,1008.5 Q2570,1009 2570,1015 L2570,1058 Q2570,1064 2564,1064.5 L2496,1088 Q2490,1089 2490,1083 Z" fill="#fde8cc"/><text x="2505" y="1053" font-family="'Liberation Serif','Times New Roman',serif" font-size="36" fill="#000" font-style="italic" >f</text><text x="2523" y="1060" font-family="'Liberation Serif','Times New Roman',serif" font-size="24" fill="#000" >enc</text><rect x="2590" y="994" width="52" height="6.5" fill="#bdbdbd"/><rect x="2590" y="1004" width="52" height="6.5" fill="#bdbdbd"/><rect x="2590" y="1014" width="52" height="6.5" fill="#bdbdbd"/><rect x="2590" y="1024" width="52" height="6.5" fill="#bdbdbd"/><rect x="2590" y="1069" width="52" height="6.5" fill="#bdbdbd"/><rect x="2590" y="1078" width="52" height="6.5" fill="#bdbdbd"/><circle cx="2616" cy="1044" r="1.5" fill="#333"/><circle cx="2616" cy="1049" r="1.5" fill="#333"/><circle cx="2616" cy="1054" r="1.5" fill="#333"/><text x="2574" y="1002" font-family="'Liberation Serif','Times New Roman',serif" font-size="13" fill="#000" font-weight="700" >f</text><text x="2581" y="1005" font-family="'Liberation Serif','Times New Roman',serif" font-size="9" fill="#000" >1</text><text x="2574" y="1083" font-family="'Liberation Serif','Times New Roman',serif" font-size="13" fill="#000" font-weight="700" >f</text><text x="2581" y="1086" font-family="'Liberation Serif','Times New Roman',serif" font-size="9" fill="#000" font-style="italic" >N</text><text x="2651" y="1046" font-family="'Liberation Sans',Arial,sans-serif" font-size="20" fill="#000" font-weight="700" >+</text><rect x="2676" y="994" width="52" height="6.5" fill="#bdbdbd"/><rect x="2676" y="1004" width="52" height="6.5" fill="#bdbdbd"/><rect x="2676" y="1014" width="52" height="6.5" fill="#bdbdbd"/><rect x="2676" y="1024" width="52" height="6.5" fill="#bdbdbd"/><rect x="2676" y="1069" width="52" height="6.5" fill="#bdbdbd"/><rect x="2676" y="1078" width="52" height="6.5" fill="#bdbdbd"/><circle cx="2702" cy="1044" r="1.5" fill="#333"/><circle cx="2702" cy="1049" r="1.5" fill="#333"/><circle cx="2702" cy="1054" r="1.5" fill="#333"/><text x="2660" y="1000" font-family="'Liberation Serif','Times New Roman',serif" font-size="12" fill="#000" font-style="italic" >ω</text><text x="2669" y="1003" font-family="'Liberation Serif','Times New Roman',serif" font-size="8" fill="#000" >1</text><text x="2660" y="1083" font-family="'Liberation Serif','Times New Roman',serif" font-size="12" fill="#000" font-style="italic" >ω</text><text x="2669" y="1086" font-family="'Liberation Serif','Times New Roman',serif" font-size="8" fill="#000" font-style="italic" >N</text><path d="M2733,993 Q2742,993 2742,1003 L2742,1030 Q2742,1037 2747,1037 Q2742,1037 2742,1044 L2742,1073 Q2742,1083 2733,1083" fill="none" stroke="#333" stroke-width="1.4"/><text x="2750" y="1041" font-family="'Liberation Serif','Times New Roman',serif" font-size="14" fill="#000" >{<tspan font-weight="700">z</tspan><tspan font-style="italic" font-size="9">i</tspan>}</text><text x="2772" y="1032" font-family="'Liberation Serif','Times New Roman',serif" font-size="8" fill="#000" font-style="italic" >N</text><text x="2772" y="1043" font-family="'Liberation Serif','Times New Roman',serif" font-size="8" fill="#000" >1</text><text x="2592" y="1124" font-family="'Liberation Serif','Times New Roman',serif" font-size="28" fill="#000" >{<tspan font-weight="700">f</tspan><tspan font-style="italic" font-size="18" dy="5">i</tspan><tspan dy="-5">}</tspan></text><text x="2627" y="1111" font-family="'Liberation Serif','Times New Roman',serif" font-size="17" fill="#000" font-style="italic" >N</text><text x="2627" y="1129" font-family="'Liberation Serif','Times New Roman',serif" font-size="17" fill="#000" >1</text><text x="2670" y="1124" font-family="'Liberation Serif','Times New Roman',serif" font-size="28" fill="#000" >{<tspan font-style="italic">ω</tspan><tspan font-style="italic" font-size="18" dy="5">i</tspan><tspan dy="-5">}</tspan></text><text x="2712" y="1111" font-family="'Liberation Serif','Times New Roman',serif" font-size="17" fill="#000" font-style="italic" >N</text><text x="2712" y="1129" font-family="'Liberation Serif','Times New Roman',serif" font-size="17" fill="#000" >1</text><path d="M2830,998 Q2830,992 2836,993 L2905,1014.5 Q2911,1015 2911,1021 L2911,1067 Q2911,1073 2905,1073.5 L2836,1095 Q2830,1096 2830,1090 Z" fill="#a9cdf3"/><text x="2842" y="1054" font-family="'Liberation Serif','Times New Roman',serif" font-size="34" fill="#000" font-style="italic" >f</text><text x="2859" y="1060" font-family="'Liberation Serif','Times New Roman',serif" font-size="21" fill="#000" >plane</text><rect x="2928" y="999" width="52" height="6.5" fill="#bdbdbd"/><rect x="2928" y="1009" width="52" height="6.5" fill="#bdbdbd"/><rect x="2928" y="1019" width="52" height="6.5" fill="#bdbdbd"/><rect x="2928" y="1029" width="52" height="6.5" fill="#bdbdbd"/><rect x="2928" y="1072" width="52" height="6.5" fill="#bdbdbd"/><rect x="2928" y="1081" width="52" height="6.5" fill="#bdbdbd"/><circle cx="2953" cy="1049" r="1.5" fill="#333"/><circle cx="2953" cy="1054" r="1.5" fill="#333"/><circle cx="2953" cy="1059" r="1.5" fill="#333"/><rect x="2990" y="999" width="24" height="90" fill="#a9cdf3"/><text x="0" y="0" font-family="'Liberation Serif','Times New Roman',serif" font-size="22" fill="#000" font-style="italic" transform="translate(3009,1050) rotate(-90)">f</text><text x="0" y="0" font-family="'Liberation Serif','Times New Roman',serif" font-size="14" fill="#000" transform="translate(3013,1040) rotate(-90)">key</text><rect x="3024" y="999" width="14" height="5" fill="#bdbdbd"/><rect x="3024" y="1009" width="14" height="5" fill="#bdbdbd"/><rect x="3024" y="1019" width="14" height="5" fill="#bdbdbd"/><rect x="3024" y="1042" width="14" height="5" fill="#bdbdbd"/><rect x="3024" y="1065" width="14" height="5" fill="#bdbdbd"/><rect x="3024" y="1031" width="14" height="5" fill="#f07020"/><rect x="3024" y="1074" width="14" height="5" fill="#f07020"/><circle cx="3031" cy="1049" r="1.3" fill="#333"/><circle cx="3031" cy="1054" r="1.3" fill="#333"/><circle cx="3031" cy="1059" r="1.3" fill="#333"/><text x="2923" y="1126" font-family="'Liberation Serif','Times New Roman',serif" font-size="28" fill="#000" >{<tspan font-weight="700">h</tspan><tspan font-style="italic" font-size="18" dy="5">i</tspan><tspan dy="-5">}</tspan></text><text x="2967" y="1113" font-family="'Liberation Serif','Times New Roman',serif" font-size="17" fill="#000" font-style="italic" >N</text><text x="2967" y="1131" font-family="'Liberation Serif','Times New Roman',serif" font-size="17" fill="#000" >1</text><text x="3011" y="1126" font-family="'Liberation Serif','Times New Roman',serif" font-size="26" fill="#000" >{<tspan font-style="italic">ŷ</tspan>}</text><text x="3040" y="1112" font-family="'Liberation Serif','Times New Roman',serif" font-size="15" fill="#000" font-style="italic" >key</text><text x="3040" y="1131" font-family="'Liberation Serif','Times New Roman',serif" font-size="15" fill="#000" font-style="italic" >i</text></g></svg>
<svg class="a" style="left:3082px;top:940px;overflow:visible;" width="183.0" height="189.1" viewBox="0 0 150 155"><polygon points="0,51 87,7 134,117 45,150" fill="rgba(188,168,150,0.33)"/><polygon points="3,48 90,4 137,114 48,147" fill="rgba(188,168,150,0.33)"/><polygon points="6,45 93,1 140,111 51,144" fill="rgba(188,168,150,0.33)"/><polygon points="9,42 96,-2 143,108 54,141" fill="rgba(188,168,150,0.33)"/><polygon points="28,22 38,36 40,120 30,134" fill="rgba(160,185,200,0.55)"/><polygon points="62,10 72,24 74,135 64,149" fill="rgba(160,185,200,0.55)"/><polygon points="100,0 110,14 112,118 102,132" fill="rgba(160,185,200,0.55)"/><svg x="5" y="35" width="120" height="72" viewBox="15.5 46.5 177 100.2" preserveAspectRatio="none" overflow="visible"><defs><linearGradient id="scsgray11" x1="0" x2="1"><stop offset="0" stop-color="#a8a8a8"/><stop offset="0.6" stop-color="#cbcbcb"/><stop offset="1" stop-color="#a8a8a8"/></linearGradient><linearGradient id="shsgray11" x1="0" x2="1"><stop offset="0" stop-color="#7c7c7c"/><stop offset="0.5" stop-color="#b5b5b5"/><stop offset="1" stop-color="#7c7c7c"/></linearGradient></defs><path d="M15.5,119.5 L19.4,108.7 L51.2,95.5 L155.2,75.3 L181.6,74.5 L192.5,83.8 L192.5,100.9 L140,133 Q120,146.7 100.9,146.7 L21.7,138.9 Z" fill="#b9b9b9"/><path d="M15.5,119.5 L19.4,108.7 L51.2,95.5 L155.2,75.3 L181.6,74.5 L192.5,83.8 L142,113 L84,124 Z" fill="#8e8e8e"/><ellipse cx="35.7" cy="110.2" rx="8" ry="4.5" fill="#7a7a7a"/><ellipse cx="172.3" cy="81.5" rx="8.5" ry="4" fill="#7a7a7a"/><path d="M46.6,66.7 L46.6,110 A54,20.2 0 0 0 154.6,110 L154.6,66.7 Z" fill="url(#scsgray11)"/><ellipse cx="100.6" cy="66.7" rx="54" ry="20.2" fill="#8a8a8a"/><ellipse cx="99.3" cy="64.8" rx="31" ry="12" fill="url(#shsgray11)"/></svg><polygon points="48,70 54,76 56,140 50,148" fill="rgba(160,185,200,0.5)"/><polygon points="92,60 98,66 100,130 94,138" fill="rgba(160,185,200,0.5)"/><polygon points="4,98 126,58 133,69 11,109" fill="none" stroke="#f07a1e" stroke-width="3.2" stroke-linejoin="round"/></svg>
<div class="t" id="f76" style="top:1151.3px;font-size:32px;font-weight:700;letter-spacing:-0.233px;left:2456px;">Sketch Plane Detection</div>
<div class="t" id="f77" style="top:1155.2px;font-size:17.5px;font-weight:700;letter-spacing:-0.774px;left:3114px;">Key Slices</div>
<div class="t" style="top:1137.9px;font-size:36px;font-family:'Liberation Serif', 'Times New Roman', serif;font-style:italic;left:3203px;">&#119982;<span style="font-size:24px;font-style:normal">key</span></div>
<div class="a" style="left:1896px;top:1511px;width:1263px;height:401px;background:transparent;border:2px dashed #888;border-radius:0px;"></div>
<svg class="a" style="left:1900px;top:1515px;" width="1255" height="393" viewBox="0 0 1255 393"><g transform="translate(-1900,-1515)"><circle cx="2024.4" cy="1613.7" r="46" fill="none" stroke="#000" stroke-width="3"/><circle cx="2024.4" cy="1613.7" r="27" fill="none" stroke="#000" stroke-width="3"/><path d="M1970,1762 L1998,1731 Q2031,1718 2064,1731 L2091,1762 L2064,1793 Q2031,1806 1998,1793 Z" fill="none" stroke="#000" stroke-width="3.2" stroke-linejoin="round"/><circle cx="2031" cy="1762" r="19.6" fill="none" stroke="#000" stroke-width="3"/><circle cx="1981.5" cy="1762" r="7" fill="none" stroke="#000" stroke-width="2.6"/><circle cx="2079.5" cy="1762" r="7" fill="none" stroke="#000" stroke-width="2.6"/><text x="2007" y="1697" font-family="'Liberation Serif','Times New Roman',serif" font-size="42" fill="#000" font-weight="700" >S</text><text x="2033" y="1703" font-family="'Liberation Serif','Times New Roman',serif" font-size="26" fill="#000" >1</text><text x="2010" y="1830" font-family="'Liberation Serif','Times New Roman',serif" font-size="42" fill="#000" font-weight="700" >S</text><text x="2036" y="1836" font-family="'Liberation Serif','Times New Roman',serif" font-size="26" fill="#000" >2</text><text x="2101" y="1583" font-family="'Liberation Serif','Times New Roman',serif" font-size="14" fill="#000" font-weight="700" >L</text><text x="2110" y="1586" font-family="'Liberation Serif','Times New Roman',serif" font-size="9" fill="#000" >1</text><text x="2101" y="1629" font-family="'Liberation Serif','Times New Roman',serif" font-size="14" fill="#000" font-weight="700" >L</text><text x="2110" y="1632" font-family="'Liberation Serif','Times New Roman',serif" font-size="9" fill="#000" >2</text><text x="2101" y="1689.5" font-family="'Liberation Serif','Times New Roman',serif" font-size="14" fill="#000" font-weight="700" >L</text><text x="2110" y="1692.5" font-family="'Liberation Serif','Times New Roman',serif" font-size="9" fill="#000" >3</text><text x="2101" y="1736.5" font-family="'Liberation Serif','Times New Roman',serif" font-size="14" fill="#000" font-weight="700" >L</text><text x="2110" y="1739.5" font-family="'Liberation Serif','Times New Roman',serif" font-size="9" fill="#000" >4</text><text x="2101" y="1779" font-family="'Liberation Serif','Times New Roman',serif" font-size="14" fill="#000" font-weight="700" >L</text><text x="2110" y="1782" font-family="'Liberation Serif','Times New Roman',serif" font-size="9" fill="#000" >5</text><g fill="none" stroke="#000" stroke-width="2"><circle cx="2166" cy="1579" r="14.4"/><circle cx="2166" cy="1628.8" r="23.5"/><circle cx="2166" cy="1730.5" r="15.6"/><circle cx="2166" cy="1778" r="15.6"/><path d="M2132,1686 L2152,1669 Q2166,1664 2180,1669 L2200,1686 L2180,1703 Q2166,1708 2152,1703 Z"/></g><g stroke="#666" stroke-width="4.5" stroke-linecap="round" stroke-linejoin="round" fill="none"><path d="M2210.0,1687.0 L2246.0,1687.0"/><path d="M2237.0,1693.3 L2246.0,1687.0 L2237.0,1680.7"/></g><path d="M2254,1623 Q2254,1617 2260,1618 L2356,1650.5 Q2362,1651 2362,1657 L2362,1717 Q2362,1723 2356,1723.5 L2260,1754 Q2254,1755 2254,1749 Z" fill="#fde8cc"/><text x="2272" y="1702" font-family="'Liberation Serif','Times New Roman',serif" font-size="58" fill="#000" font-style="italic" >f</text><text x="2298" y="1712" font-family="'Liberation Serif','Times New Roman',serif" font-size="38" fill="#000" >enc</text><g stroke="#3aa8e8" stroke-width="3" stroke-linecap="round"><line x1="2259" y1="1749" x2="2280.0" y2="1749.0"/><line x1="2272.0" y1="1749.0" x2="2277.4" y2="1753.5"/><line x1="2272.0" y1="1749.0" x2="2277.4" y2="1744.5"/><line x1="2259" y1="1749" x2="2269.5" y2="1767.2"/><line x1="2265.5" y1="1760.3" x2="2264.3" y2="1767.2"/><line x1="2265.5" y1="1760.3" x2="2272.1" y2="1762.7"/><line x1="2259" y1="1749" x2="2248.5" y2="1767.2"/><line x1="2252.5" y1="1760.3" x2="2245.9" y2="1762.7"/><line x1="2252.5" y1="1760.3" x2="2253.7" y2="1767.2"/><line x1="2259" y1="1749" x2="2238.0" y2="1749.0"/><line x1="2246.0" y1="1749.0" x2="2240.6" y2="1744.5"/><line x1="2246.0" y1="1749.0" x2="2240.6" y2="1753.5"/><line x1="2259" y1="1749" x2="2248.5" y2="1730.8"/><line x1="2252.5" y1="1737.7" x2="2253.7" y2="1730.8"/><line x1="2252.5" y1="1737.7" x2="2245.9" y2="1735.3"/><line x1="2259" y1="1749" x2="2269.5" y2="1730.8"/><line x1="2265.5" y1="1737.7" x2="2272.1" y2="1735.3"/><line x1="2265.5" y1="1737.7" x2="2264.3" y2="1730.8"/></g><g stroke="#666" stroke-width="4.5" stroke-linecap="round" stroke-linejoin="round" fill="none"><path d="M2369.0,1688.0 L2403.0,1688.0"/><path d="M2394.0,1694.3 L2403.0,1688.0 L2394.0,1681.7"/></g><rect x="2414" y="1649" width="91" height="70" fill="#b5def6"/><text x="2426" y="1690" font-family="'Liberation Serif','Times New Roman',serif" font-size="48" fill="#000" font-style="italic" >f</text><text x="2448" y="1700" font-family="'Liberation Serif','Times New Roman',serif" font-size="32" fill="#000" >loop</text><path d="M2512,1670 Q2526,1670 2526,1652 Q2526,1620 2545,1620 L2560,1620" fill="none" stroke="#666" stroke-width="4.5"/><polygon points="2556,1611 2570,1620 2556,1629" fill="#666"/><path d="M2512,1690 Q2530,1690 2530,1705 Q2530,1727 2545,1727 L2555,1727" fill="none" stroke="#666" stroke-width="4.5"/><polygon points="2552,1718 2566,1727 2552,1736" fill="#666"/><path d="M2569,1595 Q2569,1589 2575,1590 L2662,1572.5 Q2668,1573 2668,1579 L2668,1664 Q2668,1670 2662,1670.5 L2575,1647 Q2569,1648 2569,1642 Z" fill="#b5def6"/><text x="2591" y="1631" font-family="'Liberation Serif','Times New Roman',serif" font-size="40" fill="#000" font-style="italic" >f</text><text x="2609" y="1641" font-family="'Liberation Serif','Times New Roman',serif" font-size="27" fill="#000" >prim</text><path d="M2580,1703 Q2580,1697 2586,1698 L2664,1681.5 Q2670,1682 2670,1688 L2670,1764 Q2670,1770 2664,1770.5 L2586,1751 Q2580,1752 2580,1746 Z" fill="#b5def6"/><text x="2612" y="1737" font-family="'Liberation Serif','Times New Roman',serif" font-size="40" fill="#000" font-style="italic" >f</text><text x="2630" y="1745" font-family="'Liberation Serif','Times New Roman',serif" font-size="27" fill="#000" >ctr</text><g stroke="#666" stroke-width="4.5" stroke-linecap="round" stroke-linejoin="round" fill="none"><path d="M2679.0,1613.0 L2702.0,1613.0"/><path d="M2694.6,1618.2 L2702.0,1613.0 L2694.6,1607.8"/></g><path d="M2735,1541 Q2720,1541 2720,1556 L2720,1600 Q2720,1613 2708,1613 Q2720,1613 2720,1626 L2720,1665 Q2720,1680 2735,1680" fill="none" stroke="#666" stroke-width="3"/><path d="M2685,1731 L2685,1800 Q2685,1804 2690,1804 L2700,1804" fill="none" stroke="#666" stroke-width="4.5"/><polygon points="2697,1795 2710,1804 2697,1813" fill="#666"/><path d="M2740,1736 Q2726,1736 2726,1750 L2726,1792 Q2726,1804 2714,1804 Q2726,1804 2726,1816 L2726,1858 Q2726,1872 2740,1872" fill="none" stroke="#666" stroke-width="3"/><rect x="2753" y="1527" width="186" height="18" rx="5" fill="#fff" stroke="#444" stroke-width="1.5"/><text x="2757" y="1539.0" font-family="'Liberation Mono',monospace" font-size="8.5" fill="#000" ><tspan font-weight="700">circle:</tspan><tspan fill="#555"> (0.2,0.2),r=0.3</tspan></text><rect x="2753" y="1550" width="186" height="17" rx="5" fill="#fff" stroke="#444" stroke-width="1.5"/><text x="2757" y="1562.0" font-family="'Liberation Mono',monospace" font-size="8.5" fill="#000" ><tspan font-weight="700">circle:</tspan><tspan fill="#555"> (0.2,0.2),r=0.5</tspan></text><rect x="2753" y="1573" width="186" height="71" rx="5" fill="#fff" stroke="#444" stroke-width="1.5"/><text x="2757" y="1585.0" font-family="'Liberation Mono',monospace" font-size="8.5" fill="#000" ><tspan font-weight="700">line:</tspan><tspan fill="#555"> (0.1,0.2)->(0.1,0.4)</tspan></text><text x="2757" y="1597.5" font-family="'Liberation Mono',monospace" font-size="8.5" fill="#000" ><tspan font-weight="700">arc:</tspan><tspan fill="#555"> (0,0.1)->(0.1,0)->(0,-0.1)</tspan></text><text x="2757" y="1610.0" font-family="'Liberation Mono',monospace" font-size="8.5" fill="#000" ><tspan font-weight="700">line:</tspan><tspan fill="#555"> (0.4,0.2)->(0.4,0.4)</tspan></text><circle cx="2845" cy="1620.0" r="0.8" fill="#333"/><circle cx="2845" cy="1622.5" r="0.8" fill="#333"/><circle cx="2845" cy="1625.0" r="0.8" fill="#333"/><text x="2757" y="1635.0" font-family="'Liberation Mono',monospace" font-size="8.5" fill="#000" ><tspan font-weight="700">arc:</tspan><tspan fill="#555"> (0,-0.1)->(0.1,0)->(0,0.1)</tspan></text><rect x="2753" y="1649" width="186" height="18" rx="5" fill="#fff" stroke="#444" stroke-width="1.5"/><text x="2757" y="1661.0" font-family="'Liberation Mono',monospace" font-size="8.5" fill="#000" ><tspan font-weight="700">circle:</tspan><tspan fill="#555"> (0.1,0.2),r=0.1</tspan></text><rect x="2753" y="1676" width="186" height="19" rx="5" fill="#fff" stroke="#444" stroke-width="1.5"/><text x="2757" y="1688.0" font-family="'Liberation Mono',monospace" font-size="8.5" fill="#000" ><tspan font-weight="700">circle:</tspan><tspan fill="#555"> (0.4,0.2),r=0.1</tspan></text><rect x="2750" y="1742" width="215" height="129" rx="5" fill="#fff" stroke="#444" stroke-width="1.5"/><text x="2755" y="1757" font-family="'Liberation Mono',monospace" font-size="10" fill="#000" ><tspan font-weight="700">line 1:</tspan><tspan fill="#555"> Vertical</tspan></text><text x="2755" y="1775" font-family="'Liberation Mono',monospace" font-size="10" fill="#000" ><tspan font-weight="700">line 1 - line 2:</tspan><tspan fill="#555"> Coincident</tspan></text><text x="2755" y="1793" font-family="'Liberation Mono',monospace" font-size="10" fill="#000" ><tspan font-weight="700">line 4:</tspan><tspan fill="#555"> Vertical</tspan></text><circle cx="2826" cy="1816" r="0.9" fill="#333"/><circle cx="2826" cy="1819" r="0.9" fill="#333"/><circle cx="2826" cy="1822" r="0.9" fill="#333"/><text x="2755" y="1847" font-family="'Liberation Mono',monospace" font-size="10" fill="#000" ><tspan font-weight="700">line 3 - Line 4:</tspan><tspan fill="#555"> Coincident</tspan></text><text x="2755" y="1865" font-family="'Liberation Mono',monospace" font-size="10" fill="#000" ><tspan font-weight="700">arc 2 - line 5:</tspan><tspan fill="#555"> Tangent</tspan></text><path d="M2972,1539 Q2990,1539 2990,1560 L2990,1680 Q2990,1698 3008,1698 Q2990,1698 2990,1716 L2990,1838 Q2990,1858 2972,1858" fill="none" stroke="#666" stroke-width="4"/><rect x="3048.5" y="1565" width="52" height="234" rx="7" fill="#fff" stroke="#444" stroke-width="1.8"/><text x="3064" y="1595" font-family="'Liberation Serif','Times New Roman',serif" font-size="22" fill="#000" font-style="italic" >&#119974;</text><text x="3080" y="1599" font-family="'Liberation Serif','Times New Roman',serif" font-size="13" fill="#000" >1</text><text x="3064" y="1643" font-family="'Liberation Serif','Times New Roman',serif" font-size="22" fill="#000" font-style="italic" >&#119974;</text><text x="3080" y="1647" font-family="'Liberation Serif','Times New Roman',serif" font-size="13" fill="#000" >2</text><text x="3064" y="1691.5" font-family="'Liberation Serif','Times New Roman',serif" font-size="22" fill="#000" font-style="italic" >&#119974;</text><text x="3080" y="1695.5" font-family="'Liberation Serif','Times New Roman',serif" font-size="13" fill="#000" >3</text><text x="3064" y="1740" font-family="'Liberation Serif','Times New Roman',serif" font-size="22" fill="#000" font-style="italic" >&#119974;</text><text x="3080" y="1744" font-family="'Liberation Serif','Times New Roman',serif" font-size="13" fill="#000" >4</text><text x="3064" y="1788" font-family="'Liberation Serif','Times New Roman',serif" font-size="22" fill="#000" font-style="italic" >&#119974;</text><text x="3080" y="1792" font-family="'Liberation Serif','Times New Roman',serif" font-size="13" fill="#000" >5</text><rect x="3035.5" y="1832" width="78" height="37.5" fill="#fff" stroke="#999" stroke-width="1.2"/><text x="3040" y="1860" font-family="'Liberation Serif','Times New Roman',serif" font-size="24" fill="#000" font-style="italic" >{&#119974;<tspan font-size="13" dy="4">j</tspan><tspan dy="-4">}</tspan></text><text x="3084" y="1849" font-family="'Liberation Serif','Times New Roman',serif" font-size="12" fill="#000" font-style="italic" >L</text><text x="3082" y="1864" font-family="'Liberation Serif','Times New Roman',serif" font-size="12" fill="#000" font-style="italic" >j=1</text><text x="1923" y="1892" font-family="'Liberation Serif','Times New Roman',serif" font-size="42" fill="#000" >{<tspan font-weight="700">S</tspan><tspan font-size="26" dy="6">1</tspan><tspan dy="-6">, </tspan><tspan font-weight="700">S</tspan><tspan font-size="26" dy="6">2</tspan><tspan dy="-6">} ∈ </tspan><tspan font-style="italic">&#119982;</tspan><tspan font-size="26" dy="6">key</tspan></text></g></svg>
<div class="t" id="f78" style="top:1856.1px;font-size:33.5px;font-weight:700;letter-spacing:-0.870px;left:2274px;">Sketch Parameterization</div>
<div class="t" id="f79" style="top:1701.9px;font-size:15.5px;letter-spacing:-0.176px;left:2784px;">Sketch Primitives <i style="font-family:'Liberation Serif',serif">&#119979;</i></div>
<div class="t" id="f80" style="top:1884.4px;font-size:15.5px;letter-spacing:-0.442px;left:2778px;">Sketch Constraints <i style="font-family:'Liberation Serif',serif">&#119966;</i></div>
<div class="t" id="f81" style="top:1811.9px;font-size:15.5px;letter-spacing:-0.771px;left:3004px;">Constrained Sketches</div>
<div class="a" style="left:2602px;top:2002px;width:729px;height:264px;background:transparent;border:2px dashed #888;border-radius:0px;"></div>
<div class="t" id="f82" style="top:2029.6px;font-size:19px;letter-spacing:-0.350px;left:2670px;">Iteration 0</div>
<div class="t" id="f83" style="top:2029.6px;font-size:19px;letter-spacing:-0.371px;left:2910px;">Iteration 50</div>
<div class="t" id="f84" style="top:2029.6px;font-size:19px;letter-spacing:-0.387px;left:3150px;">Iteration 200</div>
<svg class="a" style="left:2618px;top:2074px;overflow:visible;" width="198" height="108" viewBox="0 0 198 108"><path d="M90 60h1.4v1.4h-1.4zM101 63h1.4v1.4h-1.4zM37 55h1.4v1.4h-1.4zM125 86h1.4v1.4h-1.4zM19 33h1.4v1.4h-1.4zM129 66h1.4v1.4h-1.4zM105 6h1.4v1.4h-1.4zM38 26h1.4v1.4h-1.4zM6 50h1.4v1.4h-1.4zM87 91h1.4v1.4h-1.4zM103 69h1.4v1.4h-1.4zM99 72h1.4v1.4h-1.4zM91 30h1.4v1.4h-1.4zM166 76h1.4v1.4h-1.4zM62 25h1.4v1.4h-1.4zM152 43h1.4v1.4h-1.4zM190 92h1.4v1.4h-1.4zM14 68h1.4v1.4h-1.4zM17 36h1.4v1.4h-1.4zM191 82h1.4v1.4h-1.4zM111 48h1.4v1.4h-1.4zM38 79h1.4v1.4h-1.4zM26 70h1.4v1.4h-1.4zM23 45h1.4v1.4h-1.4zM42 29h1.4v1.4h-1.4zM192 87h1.4v1.4h-1.4zM60 96h1.4v1.4h-1.4zM42 43h1.4v1.4h-1.4zM169 69h1.4v1.4h-1.4zM42 28h1.4v1.4h-1.4zM153 36h1.4v1.4h-1.4zM18 63h1.4v1.4h-1.4zM48 65h1.4v1.4h-1.4zM74 49h1.4v1.4h-1.4zM114 94h1.4v1.4h-1.4zM180 88h1.4v1.4h-1.4zM49 20h1.4v1.4h-1.4zM146 102h1.4v1.4h-1.4zM175 65h1.4v1.4h-1.4zM83 11h1.4v1.4h-1.4zM47 76h1.4v1.4h-1.4zM51 89h1.4v1.4h-1.4zM118 32h1.4v1.4h-1.4zM35 78h1.4v1.4h-1.4zM111 92h1.4v1.4h-1.4zM122 30h1.4v1.4h-1.4zM88 7h1.4v1.4h-1.4zM35 40h1.4v1.4h-1.4zM113 14h1.4v1.4h-1.4zM72 96h1.4v1.4h-1.4zM194 71h1.4v1.4h-1.4zM137 63h1.4v1.4h-1.4zM139 104h1.4v1.4h-1.4zM95 79h1.4v1.4h-1.4zM15 59h1.4v1.4h-1.4zM146 97h1.4v1.4h-1.4zM146 76h1.4v1.4h-1.4zM157 99h1.4v1.4h-1.4zM70 74h1.4v1.4h-1.4zM178 94h1.4v1.4h-1.4zM83 85h1.4v1.4h-1.4zM171 62h1.4v1.4h-1.4zM124 41h1.4v1.4h-1.4zM115 66h1.4v1.4h-1.4zM16 69h1.4v1.4h-1.4zM144 42h1.4v1.4h-1.4zM146 63h1.4v1.4h-1.4zM87 91h1.4v1.4h-1.4zM95 25h1.4v1.4h-1.4zM138 54h1.4v1.4h-1.4zM122 99h1.4v1.4h-1.4zM60 73h1.4v1.4h-1.4zM40 18h1.4v1.4h-1.4zM179 71h1.4v1.4h-1.4zM88 96h1.4v1.4h-1.4zM65 72h1.4v1.4h-1.4zM39 47h1.4v1.4h-1.4zM160 99h1.4v1.4h-1.4zM115 34h1.4v1.4h-1.4zM27 54h1.4v1.4h-1.4zM166 92h1.4v1.4h-1.4zM141 103h1.4v1.4h-1.4zM55 18h1.4v1.4h-1.4zM89 30h1.4v1.4h-1.4zM42 45h1.4v1.4h-1.4zM124 53h1.4v1.4h-1.4zM62 91h1.4v1.4h-1.4zM140 62h1.4v1.4h-1.4zM61 85h1.4v1.4h-1.4zM125 48h1.4v1.4h-1.4zM125 71h1.4v1.4h-1.4zM160 104h1.4v1.4h-1.4zM136 22h1.4v1.4h-1.4zM94 19h1.4v1.4h-1.4zM2 51h1.4v1.4h-1.4zM141 19h1.4v1.4h-1.4zM54 37h1.4v1.4h-1.4zM138 56h1.4v1.4h-1.4zM122 82h1.4v1.4h-1.4zM78 86h1.4v1.4h-1.4zM185 78h1.4v1.4h-1.4zM26 49h1.4v1.4h-1.4zM124 98h1.4v1.4h-1.4zM75 61h1.4v1.4h-1.4zM174 86h1.4v1.4h-1.4zM129 22h1.4v1.4h-1.4zM143 88h1.4v1.4h-1.4zM127 78h1.4v1.4h-1.4zM106 85h1.4v1.4h-1.4zM16 48h1.4v1.4h-1.4zM109 83h1.4v1.4h-1.4zM97 3h1.4v1.4h-1.4zM66 85h1.4v1.4h-1.4zM102 78h1.4v1.4h-1.4zM166 74h1.4v1.4h-1.4zM44 57h1.4v1.4h-1.4zM57 79h1.4v1.4h-1.4zM126 56h1.4v1.4h-1.4zM167 60h1.4v1.4h-1.4zM62 41h1.4v1.4h-1.4zM167 97h1.4v1.4h-1.4zM113 22h1.4v1.4h-1.4zM106 54h1.4v1.4h-1.4zM120 3h1.4v1.4h-1.4zM79 87h1.4v1.4h-1.4zM111 53h1.4v1.4h-1.4zM107 45h1.4v1.4h-1.4zM189 100h1.4v1.4h-1.4zM53 51h1.4v1.4h-1.4zM25 47h1.4v1.4h-1.4zM162 97h1.4v1.4h-1.4zM94 34h1.4v1.4h-1.4zM38 67h1.4v1.4h-1.4zM38 25h1.4v1.4h-1.4zM136 35h1.4v1.4h-1.4zM70 67h1.4v1.4h-1.4zM24 55h1.4v1.4h-1.4zM50 21h1.4v1.4h-1.4zM105 47h1.4v1.4h-1.4zM74 45h1.4v1.4h-1.4zM105 17h1.4v1.4h-1.4zM40 68h1.4v1.4h-1.4zM126 57h1.4v1.4h-1.4zM169 66h1.4v1.4h-1.4zM147 88h1.4v1.4h-1.4zM47 78h1.4v1.4h-1.4zM80 74h1.4v1.4h-1.4zM135 98h1.4v1.4h-1.4zM100 82h1.4v1.4h-1.4zM100 74h1.4v1.4h-1.4zM109 56h1.4v1.4h-1.4zM113 16h1.4v1.4h-1.4zM37 22h1.4v1.4h-1.4zM91 83h1.4v1.4h-1.4zM65 50h1.4v1.4h-1.4zM102 46h1.4v1.4h-1.4zM119 1h1.4v1.4h-1.4zM139 91h1.4v1.4h-1.4zM36 49h1.4v1.4h-1.4zM146 44h1.4v1.4h-1.4zM177 87h1.4v1.4h-1.4zM140 93h1.4v1.4h-1.4zM125 44h1.4v1.4h-1.4zM119 54h1.4v1.4h-1.4zM195 87h1.4v1.4h-1.4zM147 84h1.4v1.4h-1.4zM178 95h1.4v1.4h-1.4zM138 83h1.4v1.4h-1.4zM152 44h1.4v1.4h-1.4zM68 51h1.4v1.4h-1.4zM126 67h1.4v1.4h-1.4zM132 36h1.4v1.4h-1.4zM131 62h1.4v1.4h-1.4zM106 42h1.4v1.4h-1.4zM139 82h1.4v1.4h-1.4zM122 80h1.4v1.4h-1.4zM51 43h1.4v1.4h-1.4zM74 11h1.4v1.4h-1.4zM109 55h1.4v1.4h-1.4zM197 69h1.4v1.4h-1.4zM118 82h1.4v1.4h-1.4zM32 51h1.4v1.4h-1.4zM33 54h1.4v1.4h-1.4zM121 6h1.4v1.4h-1.4zM104 65h1.4v1.4h-1.4zM72 31h1.4v1.4h-1.4zM130 61h1.4v1.4h-1.4zM56 77h1.4v1.4h-1.4zM31 82h1.4v1.4h-1.4zM77 97h1.4v1.4h-1.4zM85 52h1.4v1.4h-1.4zM104 101h1.4v1.4h-1.4zM143 51h1.4v1.4h-1.4zM194 88h1.4v1.4h-1.4zM120 12h1.4v1.4h-1.4zM124 49h1.4v1.4h-1.4zM105 13h1.4v1.4h-1.4zM88 72h1.4v1.4h-1.4zM90 28h1.4v1.4h-1.4zM115 45h1.4v1.4h-1.4zM154 57h1.4v1.4h-1.4zM145 26h1.4v1.4h-1.4zM155 67h1.4v1.4h-1.4zM71 29h1.4v1.4h-1.4zM136 61h1.4v1.4h-1.4zM117 68h1.4v1.4h-1.4zM181 95h1.4v1.4h-1.4zM54 46h1.4v1.4h-1.4zM123 11h1.4v1.4h-1.4zM107 8h1.4v1.4h-1.4zM17 73h1.4v1.4h-1.4zM109 68h1.4v1.4h-1.4zM74 52h1.4v1.4h-1.4zM42 37h1.4v1.4h-1.4zM147 91h1.4v1.4h-1.4zM160 67h1.4v1.4h-1.4zM84 28h1.4v1.4h-1.4zM64 59h1.4v1.4h-1.4zM148 99h1.4v1.4h-1.4zM85 40h1.4v1.4h-1.4zM112 52h1.4v1.4h-1.4zM136 32h1.4v1.4h-1.4zM42 72h1.4v1.4h-1.4zM144 75h1.4v1.4h-1.4zM56 15h1.4v1.4h-1.4zM71 78h1.4v1.4h-1.4zM73 13h1.4v1.4h-1.4zM140 61h1.4v1.4h-1.4zM182 102h1.4v1.4h-1.4zM63 43h1.4v1.4h-1.4zM185 97h1.4v1.4h-1.4zM49 39h1.4v1.4h-1.4zM72 39h1.4v1.4h-1.4zM78 42h1.4v1.4h-1.4zM39 61h1.4v1.4h-1.4zM158 58h1.4v1.4h-1.4zM166 61h1.4v1.4h-1.4zM35 82h1.4v1.4h-1.4zM4 56h1.4v1.4h-1.4zM108 61h1.4v1.4h-1.4zM191 70h1.4v1.4h-1.4zM108 85h1.4v1.4h-1.4zM146 97h1.4v1.4h-1.4zM17 68h1.4v1.4h-1.4zM28 81h1.4v1.4h-1.4zM129 27h1.4v1.4h-1.4zM44 83h1.4v1.4h-1.4zM103 83h1.4v1.4h-1.4zM78 36h1.4v1.4h-1.4zM192 73h1.4v1.4h-1.4zM98 58h1.4v1.4h-1.4zM143 76h1.4v1.4h-1.4zM164 72h1.4v1.4h-1.4zM169 87h1.4v1.4h-1.4zM165 96h1.4v1.4h-1.4zM190 69h1.4v1.4h-1.4zM104 77h1.4v1.4h-1.4zM83 16h1.4v1.4h-1.4zM74 18h1.4v1.4h-1.4zM40 46h1.4v1.4h-1.4zM23 70h1.4v1.4h-1.4zM12 50h1.4v1.4h-1.4zM116 98h1.4v1.4h-1.4zM37 23h1.4v1.4h-1.4zM47 77h1.4v1.4h-1.4zM118 24h1.4v1.4h-1.4zM37 30h1.4v1.4h-1.4zM34 82h1.4v1.4h-1.4zM62 59h1.4v1.4h-1.4zM162 52h1.4v1.4h-1.4zM108 103h1.4v1.4h-1.4zM96 24h1.4v1.4h-1.4zM104 56h1.4v1.4h-1.4zM130 26h1.4v1.4h-1.4zM2 51h1.4v1.4h-1.4zM74 86h1.4v1.4h-1.4zM141 65h1.4v1.4h-1.4zM64 28h1.4v1.4h-1.4zM172 56h1.4v1.4h-1.4zM53 58h1.4v1.4h-1.4zM168 89h1.4v1.4h-1.4zM95 51h1.4v1.4h-1.4zM189 63h1.4v1.4h-1.4zM156 45h1.4v1.4h-1.4zM108 57h1.4v1.4h-1.4zM62 34h1.4v1.4h-1.4zM93 77h1.4v1.4h-1.4zM71 74h1.4v1.4h-1.4zM21 43h1.4v1.4h-1.4zM164 71h1.4v1.4h-1.4zM141 26h1.4v1.4h-1.4zM112 49h1.4v1.4h-1.4zM122 31h1.4v1.4h-1.4zM74 58h1.4v1.4h-1.4zM59 36h1.4v1.4h-1.4zM78 72h1.4v1.4h-1.4zM51 22h1.4v1.4h-1.4zM145 36h1.4v1.4h-1.4zM143 36h1.4v1.4h-1.4zM134 76h1.4v1.4h-1.4zM36 43h1.4v1.4h-1.4zM166 64h1.4v1.4h-1.4zM81 8h1.4v1.4h-1.4zM101 70h1.4v1.4h-1.4zM152 89h1.4v1.4h-1.4zM76 36h1.4v1.4h-1.4zM79 76h1.4v1.4h-1.4zM194 85h1.4v1.4h-1.4zM131 66h1.4v1.4h-1.4zM68 70h1.4v1.4h-1.4zM21 41h1.4v1.4h-1.4zM101 85h1.4v1.4h-1.4zM163 66h1.4v1.4h-1.4zM31 83h1.4v1.4h-1.4zM179 59h1.4v1.4h-1.4zM70 54h1.4v1.4h-1.4zM28 77h1.4v1.4h-1.4zM142 90h1.4v1.4h-1.4zM124 21h1.4v1.4h-1.4zM114 75h1.4v1.4h-1.4zM72 50h1.4v1.4h-1.4zM108 61h1.4v1.4h-1.4zM111 29h1.4v1.4h-1.4zM162 65h1.4v1.4h-1.4zM48 62h1.4v1.4h-1.4zM108 8h1.4v1.4h-1.4zM130 33h1.4v1.4h-1.4zM133 80h1.4v1.4h-1.4zM76 64h1.4v1.4h-1.4zM40 51h1.4v1.4h-1.4zM28 42h1.4v1.4h-1.4zM113 19h1.4v1.4h-1.4zM103 28h1.4v1.4h-1.4zM112 36h1.4v1.4h-1.4zM127 4h1.4v1.4h-1.4zM133 16h1.4v1.4h-1.4zM190 65h1.4v1.4h-1.4zM93 44h1.4v1.4h-1.4zM124 74h1.4v1.4h-1.4zM150 81h1.4v1.4h-1.4zM166 92h1.4v1.4h-1.4zM81 47h1.4v1.4h-1.4zM112 98h1.4v1.4h-1.4zM104 57h1.4v1.4h-1.4zM86 98h1.4v1.4h-1.4zM63 6h1.4v1.4h-1.4zM144 97h1.4v1.4h-1.4zM145 65h1.4v1.4h-1.4zM149 33h1.4v1.4h-1.4zM118 8h1.4v1.4h-1.4zM25 48h1.4v1.4h-1.4zM100 43h1.4v1.4h-1.4zM104 26h1.4v1.4h-1.4zM61 43h1.4v1.4h-1.4zM132 94h1.4v1.4h-1.4zM83 87h1.4v1.4h-1.4zM44 81h1.4v1.4h-1.4zM112 98h1.4v1.4h-1.4zM25 58h1.4v1.4h-1.4zM48 32h1.4v1.4h-1.4zM64 7h1.4v1.4h-1.4zM177 88h1.4v1.4h-1.4zM79 39h1.4v1.4h-1.4zM116 5h1.4v1.4h-1.4zM61 54h1.4v1.4h-1.4zM94 22h1.4v1.4h-1.4zM94 19h1.4v1.4h-1.4zM40 68h1.4v1.4h-1.4zM144 34h1.4v1.4h-1.4zM178 94h1.4v1.4h-1.4zM141 15h1.4v1.4h-1.4zM138 101h1.4v1.4h-1.4zM88 9h1.4v1.4h-1.4zM44 33h1.4v1.4h-1.4zM141 21h1.4v1.4h-1.4zM36 25h1.4v1.4h-1.4zM132 85h1.4v1.4h-1.4zM74 71h1.4v1.4h-1.4zM175 64h1.4v1.4h-1.4zM45 33h1.4v1.4h-1.4zM183 72h1.4v1.4h-1.4zM55 69h1.4v1.4h-1.4zM87 57h1.4v1.4h-1.4zM105 5h1.4v1.4h-1.4zM119 31h1.4v1.4h-1.4zM50 87h1.4v1.4h-1.4zM150 27h1.4v1.4h-1.4zM55 59h1.4v1.4h-1.4zM91 81h1.4v1.4h-1.4zM76 100h1.4v1.4h-1.4zM99 19h1.4v1.4h-1.4zM110 70h1.4v1.4h-1.4zM71 71h1.4v1.4h-1.4zM155 56h1.4v1.4h-1.4zM100 91h1.4v1.4h-1.4zM135 56h1.4v1.4h-1.4zM120 25h1.4v1.4h-1.4zM87 83h1.4v1.4h-1.4zM156 85h1.4v1.4h-1.4zM47 53h1.4v1.4h-1.4zM44 63h1.4v1.4h-1.4zM99 4h1.4v1.4h-1.4zM118 77h1.4v1.4h-1.4zM113 94h1.4v1.4h-1.4zM4 54h1.4v1.4h-1.4zM86 48h1.4v1.4h-1.4zM52 86h1.4v1.4h-1.4zM113 59h1.4v1.4h-1.4zM29 34h1.4v1.4h-1.4zM123 57h1.4v1.4h-1.4zM52 64h1.4v1.4h-1.4zM34 28h1.4v1.4h-1.4zM32 75h1.4v1.4h-1.4zM165 85h1.4v1.4h-1.4zM12 44h1.4v1.4h-1.4zM72 23h1.4v1.4h-1.4zM97 82h1.4v1.4h-1.4zM90 80h1.4v1.4h-1.4zM78 32h1.4v1.4h-1.4zM84 8h1.4v1.4h-1.4zM151 79h1.4v1.4h-1.4zM46 27h1.4v1.4h-1.4zM109 26h1.4v1.4h-1.4zM91 101h1.4v1.4h-1.4zM72 36h1.4v1.4h-1.4zM194 66h1.4v1.4h-1.4zM8 44h1.4v1.4h-1.4zM129 6h1.4v1.4h-1.4zM68 75h1.4v1.4h-1.4zM171 64h1.4v1.4h-1.4zM78 91h1.4v1.4h-1.4zM75 84h1.4v1.4h-1.4zM43 38h1.4v1.4h-1.4zM36 59h1.4v1.4h-1.4zM42 51h1.4v1.4h-1.4zM61 48h1.4v1.4h-1.4zM197 73h1.4v1.4h-1.4zM76 8h1.4v1.4h-1.4zM137 39h1.4v1.4h-1.4zM36 28h1.4v1.4h-1.4zM78 100h1.4v1.4h-1.4zM142 29h1.4v1.4h-1.4zM71 17h1.4v1.4h-1.4zM152 78h1.4v1.4h-1.4zM64 42h1.4v1.4h-1.4zM64 83h1.4v1.4h-1.4zM103 6h1.4v1.4h-1.4zM78 26h1.4v1.4h-1.4zM118 3h1.4v1.4h-1.4zM62 46h1.4v1.4h-1.4zM108 15h1.4v1.4h-1.4zM140 28h1.4v1.4h-1.4zM144 72h1.4v1.4h-1.4zM56 77h1.4v1.4h-1.4zM80 42h1.4v1.4h-1.4zM58 37h1.4v1.4h-1.4zM112 87h1.4v1.4h-1.4zM133 99h1.4v1.4h-1.4zM43 74h1.4v1.4h-1.4zM132 103h1.4v1.4h-1.4zM125 10h1.4v1.4h-1.4zM85 42h1.4v1.4h-1.4zM12 41h1.4v1.4h-1.4zM65 54h1.4v1.4h-1.4zM55 17h1.4v1.4h-1.4zM80 51h1.4v1.4h-1.4zM33 72h1.4v1.4h-1.4zM68 46h1.4v1.4h-1.4zM30 63h1.4v1.4h-1.4zM139 60h1.4v1.4h-1.4zM77 39h1.4v1.4h-1.4zM12 44h1.4v1.4h-1.4zM11 54h1.4v1.4h-1.4zM116 51h1.4v1.4h-1.4zM64 27h1.4v1.4h-1.4zM177 61h1.4v1.4h-1.4zM52 72h1.4v1.4h-1.4zM37 51h1.4v1.4h-1.4zM122 103h1.4v1.4h-1.4zM72 62h1.4v1.4h-1.4zM187 83h1.4v1.4h-1.4zM124 67h1.4v1.4h-1.4zM81 45h1.4v1.4h-1.4zM55 90h1.4v1.4h-1.4zM27 55h1.4v1.4h-1.4zM61 39h1.4v1.4h-1.4zM38 25h1.4v1.4h-1.4zM135 25h1.4v1.4h-1.4zM78 26h1.4v1.4h-1.4zM98 70h1.4v1.4h-1.4zM109 67h1.4v1.4h-1.4zM111 90h1.4v1.4h-1.4zM69 96h1.4v1.4h-1.4zM62 77h1.4v1.4h-1.4zM138 74h1.4v1.4h-1.4zM191 89h1.4v1.4h-1.4zM32 67h1.4v1.4h-1.4zM97 61h1.4v1.4h-1.4zM73 31h1.4v1.4h-1.4zM148 58h1.4v1.4h-1.4zM47 27h1.4v1.4h-1.4zM64 19h1.4v1.4h-1.4zM102 14h1.4v1.4h-1.4zM20 76h1.4v1.4h-1.4zM22 49h1.4v1.4h-1.4zM153 52h1.4v1.4h-1.4zM50 55h1.4v1.4h-1.4zM142 27h1.4v1.4h-1.4zM142 35h1.4v1.4h-1.4zM66 82h1.4v1.4h-1.4zM167 89h1.4v1.4h-1.4zM112 45h1.4v1.4h-1.4zM140 67h1.4v1.4h-1.4zM165 87h1.4v1.4h-1.4zM25 41h1.4v1.4h-1.4zM133 25h1.4v1.4h-1.4zM116 102h1.4v1.4h-1.4zM136 45h1.4v1.4h-1.4zM125 43h1.4v1.4h-1.4zM57 79h1.4v1.4h-1.4zM107 52h1.4v1.4h-1.4zM74 33h1.4v1.4h-1.4zM158 91h1.4v1.4h-1.4zM56 42h1.4v1.4h-1.4zM122 83h1.4v1.4h-1.4zM137 59h1.4v1.4h-1.4zM97 13h1.4v1.4h-1.4zM112 16h1.4v1.4h-1.4zM124 30h1.4v1.4h-1.4zM45 52h1.4v1.4h-1.4zM72 28h1.4v1.4h-1.4zM96 45h1.4v1.4h-1.4zM11 59h1.4v1.4h-1.4zM130 67h1.4v1.4h-1.4zM88 90h1.4v1.4h-1.4zM144 19h1.4v1.4h-1.4zM71 81h1.4v1.4h-1.4zM61 56h1.4v1.4h-1.4zM104 87h1.4v1.4h-1.4zM157 79h1.4v1.4h-1.4zM79 87h1.4v1.4h-1.4zM164 83h1.4v1.4h-1.4zM140 27h1.4v1.4h-1.4zM114 25h1.4v1.4h-1.4zM77 40h1.4v1.4h-1.4zM130 88h1.4v1.4h-1.4zM72 69h1.4v1.4h-1.4zM70 30h1.4v1.4h-1.4zM19 36h1.4v1.4h-1.4zM147 23h1.4v1.4h-1.4zM147 59h1.4v1.4h-1.4zM135 19h1.4v1.4h-1.4zM69 47h1.4v1.4h-1.4zM80 35h1.4v1.4h-1.4zM106 103h1.4v1.4h-1.4zM64 81h1.4v1.4h-1.4zM43 44h1.4v1.4h-1.4zM140 19h1.4v1.4h-1.4zM54 73h1.4v1.4h-1.4zM36 39h1.4v1.4h-1.4zM126 41h1.4v1.4h-1.4zM127 23h1.4v1.4h-1.4zM122 96h1.4v1.4h-1.4zM170 68h1.4v1.4h-1.4zM100 61h1.4v1.4h-1.4zM137 49h1.4v1.4h-1.4zM132 45h1.4v1.4h-1.4zM76 25h1.4v1.4h-1.4zM119 62h1.4v1.4h-1.4zM102 3h1.4v1.4h-1.4zM124 48h1.4v1.4h-1.4zM117 64h1.4v1.4h-1.4zM146 34h1.4v1.4h-1.4zM80 94h1.4v1.4h-1.4zM97 25h1.4v1.4h-1.4zM166 70h1.4v1.4h-1.4zM186 90h1.4v1.4h-1.4zM158 55h1.4v1.4h-1.4zM172 77h1.4v1.4h-1.4zM50 87h1.4v1.4h-1.4zM90 58h1.4v1.4h-1.4zM55 70h1.4v1.4h-1.4zM15 60h1.4v1.4h-1.4zM156 53h1.4v1.4h-1.4zM48 86h1.4v1.4h-1.4zM169 83h1.4v1.4h-1.4zM109 98h1.4v1.4h-1.4zM72 11h1.4v1.4h-1.4zM171 90h1.4v1.4h-1.4zM77 92h1.4v1.4h-1.4zM122 97h1.4v1.4h-1.4zM41 68h1.4v1.4h-1.4zM174 79h1.4v1.4h-1.4zM39 72h1.4v1.4h-1.4zM67 34h1.4v1.4h-1.4zM125 30h1.4v1.4h-1.4zM119 75h1.4v1.4h-1.4zM137 50h1.4v1.4h-1.4zM186 66h1.4v1.4h-1.4zM71 21h1.4v1.4h-1.4zM197 75h1.4v1.4h-1.4zM146 39h1.4v1.4h-1.4zM61 44h1.4v1.4h-1.4zM29 68h1.4v1.4h-1.4zM84 89h1.4v1.4h-1.4zM81 49h1.4v1.4h-1.4zM100 102h1.4v1.4h-1.4zM69 76h1.4v1.4h-1.4zM47 63h1.4v1.4h-1.4zM56 94h1.4v1.4h-1.4zM57 92h1.4v1.4h-1.4zM134 49h1.4v1.4h-1.4zM147 65h1.4v1.4h-1.4zM89 7h1.4v1.4h-1.4zM83 30h1.4v1.4h-1.4zM87 103h1.4v1.4h-1.4zM58 75h1.4v1.4h-1.4zM133 26h1.4v1.4h-1.4zM81 14h1.4v1.4h-1.4zM83 37h1.4v1.4h-1.4zM162 92h1.4v1.4h-1.4zM117 59h1.4v1.4h-1.4zM18 39h1.4v1.4h-1.4zM74 78h1.4v1.4h-1.4zM132 37h1.4v1.4h-1.4zM178 103h1.4v1.4h-1.4zM93 39h1.4v1.4h-1.4zM92 34h1.4v1.4h-1.4zM133 65h1.4v1.4h-1.4zM164 70h1.4v1.4h-1.4zM13 50h1.4v1.4h-1.4zM79 71h1.4v1.4h-1.4zM41 40h1.4v1.4h-1.4zM28 43h1.4v1.4h-1.4zM33 70h1.4v1.4h-1.4zM123 80h1.4v1.4h-1.4zM50 88h1.4v1.4h-1.4zM145 84h1.4v1.4h-1.4zM24 51h1.4v1.4h-1.4zM187 97h1.4v1.4h-1.4zM106 58h1.4v1.4h-1.4zM60 55h1.4v1.4h-1.4zM25 61h1.4v1.4h-1.4zM101 32h1.4v1.4h-1.4zM82 6h1.4v1.4h-1.4zM43 49h1.4v1.4h-1.4zM111 50h1.4v1.4h-1.4zM80 66h1.4v1.4h-1.4zM145 77h1.4v1.4h-1.4zM31 57h1.4v1.4h-1.4zM127 92h1.4v1.4h-1.4zM9 45h1.4v1.4h-1.4zM65 53h1.4v1.4h-1.4zM129 96h1.4v1.4h-1.4zM99 98h1.4v1.4h-1.4zM78 32h1.4v1.4h-1.4zM146 28h1.4v1.4h-1.4zM73 46h1.4v1.4h-1.4zM94 39h1.4v1.4h-1.4zM85 49h1.4v1.4h-1.4zM12 57h1.4v1.4h-1.4zM108 43h1.4v1.4h-1.4zM74 34h1.4v1.4h-1.4zM96 25h1.4v1.4h-1.4zM148 53h1.4v1.4h-1.4zM117 104h1.4v1.4h-1.4zM72 65h1.4v1.4h-1.4zM73 33h1.4v1.4h-1.4zM121 64h1.4v1.4h-1.4zM62 54h1.4v1.4h-1.4zM102 81h1.4v1.4h-1.4zM50 29h1.4v1.4h-1.4zM158 46h1.4v1.4h-1.4zM57 73h1.4v1.4h-1.4zM63 88h1.4v1.4h-1.4zM156 69h1.4v1.4h-1.4zM109 100h1.4v1.4h-1.4zM185 81h1.4v1.4h-1.4zM146 45h1.4v1.4h-1.4zM135 106h1.4v1.4h-1.4zM155 48h1.4v1.4h-1.4zM149 41h1.4v1.4h-1.4zM89 47h1.4v1.4h-1.4zM23 35h1.4v1.4h-1.4zM132 59h1.4v1.4h-1.4zM111 100h1.4v1.4h-1.4zM42 45h1.4v1.4h-1.4zM106 91h1.4v1.4h-1.4zM94 3h1.4v1.4h-1.4zM86 41h1.4v1.4h-1.4zM134 100h1.4v1.4h-1.4zM98 74h1.4v1.4h-1.4zM77 84h1.4v1.4h-1.4zM33 63h1.4v1.4h-1.4zM40 37h1.4v1.4h-1.4zM32 38h1.4v1.4h-1.4zM117 56h1.4v1.4h-1.4zM77 62h1.4v1.4h-1.4zM116 52h1.4v1.4h-1.4zM138 25h1.4v1.4h-1.4zM52 79h1.4v1.4h-1.4zM114 28h1.4v1.4h-1.4zM75 77h1.4v1.4h-1.4zM86 67h1.4v1.4h-1.4zM111 105h1.4v1.4h-1.4zM96 25h1.4v1.4h-1.4zM61 92h1.4v1.4h-1.4zM112 60h1.4v1.4h-1.4zM66 16h1.4v1.4h-1.4zM188 83h1.4v1.4h-1.4zM39 58h1.4v1.4h-1.4zM121 13h1.4v1.4h-1.4zM151 63h1.4v1.4h-1.4zM178 100h1.4v1.4h-1.4zM136 39h1.4v1.4h-1.4zM188 78h1.4v1.4h-1.4zM58 93h1.4v1.4h-1.4zM144 29h1.4v1.4h-1.4zM106 27h1.4v1.4h-1.4zM58 27h1.4v1.4h-1.4zM26 52h1.4v1.4h-1.4zM54 31h1.4v1.4h-1.4zM55 55h1.4v1.4h-1.4zM170 92h1.4v1.4h-1.4zM121 59h1.4v1.4h-1.4zM145 58h1.4v1.4h-1.4zM131 99h1.4v1.4h-1.4zM72 85h1.4v1.4h-1.4zM46 49h1.4v1.4h-1.4zM73 79h1.4v1.4h-1.4zM112 38h1.4v1.4h-1.4zM130 8h1.4v1.4h-1.4zM112 13h1.4v1.4h-1.4zM132 7h1.4v1.4h-1.4zM195 74h1.4v1.4h-1.4zM169 85h1.4v1.4h-1.4zM103 8h1.4v1.4h-1.4zM104 20h1.4v1.4h-1.4zM104 38h1.4v1.4h-1.4zM99 21h1.4v1.4h-1.4zM140 45h1.4v1.4h-1.4zM96 8h1.4v1.4h-1.4zM96 60h1.4v1.4h-1.4zM27 32h1.4v1.4h-1.4zM66 76h1.4v1.4h-1.4zM188 100h1.4v1.4h-1.4zM170 101h1.4v1.4h-1.4zM4 53h1.4v1.4h-1.4zM117 74h1.4v1.4h-1.4zM121 66h1.4v1.4h-1.4zM103 104h1.4v1.4h-1.4zM172 103h1.4v1.4h-1.4zM164 74h1.4v1.4h-1.4zM103 63h1.4v1.4h-1.4zM150 87h1.4v1.4h-1.4zM66 37h1.4v1.4h-1.4zM52 63h1.4v1.4h-1.4zM104 36h1.4v1.4h-1.4zM134 49h1.4v1.4h-1.4zM50 52h1.4v1.4h-1.4zM47 71h1.4v1.4h-1.4zM52 56h1.4v1.4h-1.4zM37 25h1.4v1.4h-1.4zM60 36h1.4v1.4h-1.4zM144 73h1.4v1.4h-1.4zM156 58h1.4v1.4h-1.4zM48 24h1.4v1.4h-1.4zM73 38h1.4v1.4h-1.4zM77 15h1.4v1.4h-1.4zM156 84h1.4v1.4h-1.4zM67 85h1.4v1.4h-1.4zM75 31h1.4v1.4h-1.4zM117 80h1.4v1.4h-1.4zM94 88h1.4v1.4h-1.4zM75 7h1.4v1.4h-1.4zM190 101h1.4v1.4h-1.4zM28 77h1.4v1.4h-1.4zM27 73h1.4v1.4h-1.4zM175 78h1.4v1.4h-1.4zM74 13h1.4v1.4h-1.4zM69 5h1.4v1.4h-1.4zM61 20h1.4v1.4h-1.4zM24 57h1.4v1.4h-1.4zM107 61h1.4v1.4h-1.4zM151 57h1.4v1.4h-1.4zM61 82h1.4v1.4h-1.4zM32 36h1.4v1.4h-1.4zM113 32h1.4v1.4h-1.4zM91 65h1.4v1.4h-1.4zM151 43h1.4v1.4h-1.4zM34 80h1.4v1.4h-1.4zM44 86h1.4v1.4h-1.4zM99 71h1.4v1.4h-1.4zM92 20h1.4v1.4h-1.4zM123 40h1.4v1.4h-1.4zM94 67h1.4v1.4h-1.4zM63 39h1.4v1.4h-1.4zM175 63h1.4v1.4h-1.4zM83 58h1.4v1.4h-1.4zM91 36h1.4v1.4h-1.4zM185 92h1.4v1.4h-1.4zM57 18h1.4v1.4h-1.4zM143 25h1.4v1.4h-1.4zM116 17h1.4v1.4h-1.4zM19 74h1.4v1.4h-1.4zM69 60h1.4v1.4h-1.4zM98 100h1.4v1.4h-1.4zM102 41h1.4v1.4h-1.4zM53 62h1.4v1.4h-1.4zM125 50h1.4v1.4h-1.4zM18 54h1.4v1.4h-1.4zM95 69h1.4v1.4h-1.4zM88 9h1.4v1.4h-1.4zM164 86h1.4v1.4h-1.4zM100 46h1.4v1.4h-1.4zM110 102h1.4v1.4h-1.4zM97 52h1.4v1.4h-1.4zM58 91h1.4v1.4h-1.4zM100 37h1.4v1.4h-1.4zM39 23h1.4v1.4h-1.4zM165 87h1.4v1.4h-1.4zM194 99h1.4v1.4h-1.4zM136 86h1.4v1.4h-1.4zM141 87h1.4v1.4h-1.4zM5 55h1.4v1.4h-1.4zM68 86h1.4v1.4h-1.4zM121 98h1.4v1.4h-1.4zM185 70h1.4v1.4h-1.4zM37 75h1.4v1.4h-1.4zM123 14h1.4v1.4h-1.4zM172 83h1.4v1.4h-1.4zM156 94h1.4v1.4h-1.4zM113 102h1.4v1.4h-1.4zM127 53h1.4v1.4h-1.4zM76 38h1.4v1.4h-1.4zM129 84h1.4v1.4h-1.4zM138 56h1.4v1.4h-1.4zM63 29h1.4v1.4h-1.4zM37 70h1.4v1.4h-1.4zM136 102h1.4v1.4h-1.4zM189 67h1.4v1.4h-1.4zM191 84h1.4v1.4h-1.4zM66 30h1.4v1.4h-1.4zM103 53h1.4v1.4h-1.4zM106 51h1.4v1.4h-1.4zM147 27h1.4v1.4h-1.4zM39 63h1.4v1.4h-1.4zM48 35h1.4v1.4h-1.4zM70 57h1.4v1.4h-1.4zM188 69h1.4v1.4h-1.4zM82 44h1.4v1.4h-1.4zM47 51h1.4v1.4h-1.4zM86 74h1.4v1.4h-1.4zM151 60h1.4v1.4h-1.4zM127 101h1.4v1.4h-1.4zM104 20h1.4v1.4h-1.4zM30 60h1.4v1.4h-1.4zM54 78h1.4v1.4h-1.4zM144 34h1.4v1.4h-1.4zM152 70h1.4v1.4h-1.4zM140 49h1.4v1.4h-1.4zM86 12h1.4v1.4h-1.4zM94 103h1.4v1.4h-1.4zM138 47h1.4v1.4h-1.4zM25 46h1.4v1.4h-1.4zM113 80h1.4v1.4h-1.4zM80 70h1.4v1.4h-1.4zM135 66h1.4v1.4h-1.4zM14 42h1.4v1.4h-1.4zM93 11h1.4v1.4h-1.4zM189 92h1.4v1.4h-1.4zM96 63h1.4v1.4h-1.4zM24 33h1.4v1.4h-1.4zM101 44h1.4v1.4h-1.4zM79 96h1.4v1.4h-1.4zM51 85h1.4v1.4h-1.4zM140 48h1.4v1.4h-1.4zM72 47h1.4v1.4h-1.4zM90 34h1.4v1.4h-1.4zM124 44h1.4v1.4h-1.4zM60 83h1.4v1.4h-1.4zM90 51h1.4v1.4h-1.4zM74 97h1.4v1.4h-1.4zM193 85h1.4v1.4h-1.4zM79 72h1.4v1.4h-1.4zM147 32h1.4v1.4h-1.4zM143 103h1.4v1.4h-1.4zM130 72h1.4v1.4h-1.4zM86 71h1.4v1.4h-1.4zM45 83h1.4v1.4h-1.4zM107 106h1.4v1.4h-1.4zM68 77h1.4v1.4h-1.4zM152 28h1.4v1.4h-1.4zM121 24h1.4v1.4h-1.4zM12 63h1.4v1.4h-1.4zM163 90h1.4v1.4h-1.4zM77 64h1.4v1.4h-1.4zM141 82h1.4v1.4h-1.4zM148 63h1.4v1.4h-1.4zM50 76h1.4v1.4h-1.4zM111 59h1.4v1.4h-1.4zM144 103h1.4v1.4h-1.4zM54 61h1.4v1.4h-1.4zM105 53h1.4v1.4h-1.4zM33 68h1.4v1.4h-1.4zM177 72h1.4v1.4h-1.4zM57 87h1.4v1.4h-1.4zM83 16h1.4v1.4h-1.4zM120 50h1.4v1.4h-1.4zM105 107h1.4v1.4h-1.4zM113 103h1.4v1.4h-1.4zM70 82h1.4v1.4h-1.4zM137 75h1.4v1.4h-1.4zM54 39h1.4v1.4h-1.4zM106 3h1.4v1.4h-1.4zM74 71h1.4v1.4h-1.4zM29 34h1.4v1.4h-1.4zM173 101h1.4v1.4h-1.4zM49 19h1.4v1.4h-1.4zM157 80h1.4v1.4h-1.4zM52 53h1.4v1.4h-1.4zM162 93h1.4v1.4h-1.4zM42 76h1.4v1.4h-1.4zM138 36h1.4v1.4h-1.4zM94 34h1.4v1.4h-1.4zM87 88h1.4v1.4h-1.4zM113 66h1.4v1.4h-1.4zM44 67h1.4v1.4h-1.4zM68 48h1.4v1.4h-1.4zM85 89h1.4v1.4h-1.4zM181 73h1.4v1.4h-1.4zM34 38h1.4v1.4h-1.4zM140 23h1.4v1.4h-1.4zM175 94h1.4v1.4h-1.4zM45 39h1.4v1.4h-1.4zM45 78h1.4v1.4h-1.4zM108 63h1.4v1.4h-1.4zM119 93h1.4v1.4h-1.4zM35 29h1.4v1.4h-1.4zM132 75h1.4v1.4h-1.4zM64 50h1.4v1.4h-1.4zM57 61h1.4v1.4h-1.4zM70 39h1.4v1.4h-1.4zM49 32h1.4v1.4h-1.4zM61 64h1.4v1.4h-1.4zM53 12h1.4v1.4h-1.4zM101 34h1.4v1.4h-1.4zM176 81h1.4v1.4h-1.4zM123 71h1.4v1.4h-1.4zM137 54h1.4v1.4h-1.4zM82 42h1.4v1.4h-1.4zM100 51h1.4v1.4h-1.4zM105 58h1.4v1.4h-1.4zM156 96h1.4v1.4h-1.4zM158 67h1.4v1.4h-1.4zM57 21h1.4v1.4h-1.4zM172 90h1.4v1.4h-1.4zM135 75h1.4v1.4h-1.4zM147 49h1.4v1.4h-1.4zM79 60h1.4v1.4h-1.4zM182 90h1.4v1.4h-1.4zM102 33h1.4v1.4h-1.4zM171 56h1.4v1.4h-1.4zM29 42h1.4v1.4h-1.4zM127 12h1.4v1.4h-1.4zM111 101h1.4v1.4h-1.4zM86 82h1.4v1.4h-1.4zM117 63h1.4v1.4h-1.4zM34 50h1.4v1.4h-1.4zM178 73h1.4v1.4h-1.4zM43 48h1.4v1.4h-1.4zM108 36h1.4v1.4h-1.4zM114 68h1.4v1.4h-1.4zM130 23h1.4v1.4h-1.4zM111 11h1.4v1.4h-1.4zM126 28h1.4v1.4h-1.4zM161 78h1.4v1.4h-1.4zM94 103h1.4v1.4h-1.4zM64 28h1.4v1.4h-1.4zM126 66h1.4v1.4h-1.4zM112 41h1.4v1.4h-1.4zM142 20h1.4v1.4h-1.4zM98 105h1.4v1.4h-1.4zM48 30h1.4v1.4h-1.4zM182 73h1.4v1.4h-1.4zM47 31h1.4v1.4h-1.4zM167 76h1.4v1.4h-1.4zM194 72h1.4v1.4h-1.4zM124 41h1.4v1.4h-1.4zM142 53h1.4v1.4h-1.4zM12 53h1.4v1.4h-1.4zM76 57h1.4v1.4h-1.4zM65 16h1.4v1.4h-1.4zM117 99h1.4v1.4h-1.4zM36 54h1.4v1.4h-1.4zM99 83h1.4v1.4h-1.4zM112 26h1.4v1.4h-1.4zM38 78h1.4v1.4h-1.4zM93 91h1.4v1.4h-1.4zM123 81h1.4v1.4h-1.4zM151 78h1.4v1.4h-1.4zM168 65h1.4v1.4h-1.4zM22 31h1.4v1.4h-1.4zM40 69h1.4v1.4h-1.4zM106 41h1.4v1.4h-1.4zM30 61h1.4v1.4h-1.4zM101 42h1.4v1.4h-1.4zM94 4h1.4v1.4h-1.4zM122 21h1.4v1.4h-1.4zM176 63h1.4v1.4h-1.4zM78 59h1.4v1.4h-1.4zM76 76h1.4v1.4h-1.4zM74 76h1.4v1.4h-1.4zM56 32h1.4v1.4h-1.4zM149 85h1.4v1.4h-1.4zM138 100h1.4v1.4h-1.4zM37 42h1.4v1.4h-1.4zM169 83h1.4v1.4h-1.4zM147 94h1.4v1.4h-1.4zM72 65h1.4v1.4h-1.4zM190 97h1.4v1.4h-1.4zM114 96h1.4v1.4h-1.4zM130 104h1.4v1.4h-1.4zM28 44h1.4v1.4h-1.4zM112 14h1.4v1.4h-1.4zM124 30h1.4v1.4h-1.4zM64 66h1.4v1.4h-1.4zM38 48h1.4v1.4h-1.4zM52 39h1.4v1.4h-1.4zM137 20h1.4v1.4h-1.4zM110 37h1.4v1.4h-1.4zM126 7h1.4v1.4h-1.4zM142 25h1.4v1.4h-1.4zM95 78h1.4v1.4h-1.4zM170 101h1.4v1.4h-1.4zM83 34h1.4v1.4h-1.4zM79 34h1.4v1.4h-1.4zM147 50h1.4v1.4h-1.4zM136 16h1.4v1.4h-1.4zM155 104h1.4v1.4h-1.4zM40 67h1.4v1.4h-1.4zM82 20h1.4v1.4h-1.4zM145 62h1.4v1.4h-1.4zM134 105h1.4v1.4h-1.4zM7 50h1.4v1.4h-1.4zM163 74h1.4v1.4h-1.4zM108 92h1.4v1.4h-1.4zM74 12h1.4v1.4h-1.4zM105 14h1.4v1.4h-1.4zM119 89h1.4v1.4h-1.4zM68 13h1.4v1.4h-1.4zM133 79h1.4v1.4h-1.4zM175 60h1.4v1.4h-1.4zM115 93h1.4v1.4h-1.4zM134 105h1.4v1.4h-1.4zM57 84h1.4v1.4h-1.4zM125 51h1.4v1.4h-1.4zM2 51h1.4v1.4h-1.4zM52 65h1.4v1.4h-1.4zM101 55h1.4v1.4h-1.4zM120 74h1.4v1.4h-1.4zM57 49h1.4v1.4h-1.4zM100 87h1.4v1.4h-1.4zM78 99h1.4v1.4h-1.4zM96 43h1.4v1.4h-1.4zM95 39h1.4v1.4h-1.4zM79 9h1.4v1.4h-1.4zM134 16h1.4v1.4h-1.4zM30 46h1.4v1.4h-1.4z" fill="#606060"/><rect x="33.1" y="64.3" width="5.5" height="8.8" fill="#1f9e8e"/><rect x="63.5" y="14.2" width="5.5" height="8.8" fill="#f26b5b"/><rect x="94.2" y="46.2" width="5.5" height="8.8" fill="#1f9e8e"/><rect x="134.2" y="27.9" width="5.5" height="8.8" fill="#f26b5b"/><rect x="130.8" y="77.9" width="5.5" height="8.8" fill="#1f9e8e"/><rect x="168.7" y="94.8" width="5.5" height="8.8" fill="#f26b5b"/><rect x="142.7" y="55.0" width="5.5" height="8.8" fill="#1f9e8e"/><rect x="20.0" y="44.4" width="5.5" height="8.8" fill="#f26b5b"/><rect x="64.5" y="80.5" width="5.5" height="8.8" fill="#1f9e8e"/><rect x="110.3" y="8.6" width="5.5" height="8.8" fill="#f26b5b"/><rect x="186.8" y="71.7" width="5.5" height="8.8" fill="#1f9e8e"/><rect x="98.8" y="72.9" width="5.5" height="8.8" fill="#f26b5b"/><rect x="62.2" y="41.9" width="5.5" height="8.8" fill="#1f9e8e"/></svg>
<svg class="a" style="left:2862px;top:2074px;overflow:visible;" width="200" height="108" viewBox="0 0 200 108"><path d="M95 71h1.4v1.4h-1.4zM133 15h1.4v1.4h-1.4zM55 88h1.4v1.4h-1.4zM138 65h1.4v1.4h-1.4zM112 71h1.4v1.4h-1.4zM29 48h1.4v1.4h-1.4zM67 44h1.4v1.4h-1.4zM102 10h1.4v1.4h-1.4zM23 46h1.4v1.4h-1.4zM27 34h1.4v1.4h-1.4zM124 18h1.4v1.4h-1.4zM80 45h1.4v1.4h-1.4zM119 51h1.4v1.4h-1.4zM145 104h1.4v1.4h-1.4zM195 72h1.4v1.4h-1.4zM71 39h1.4v1.4h-1.4zM138 73h1.4v1.4h-1.4zM73 55h1.4v1.4h-1.4zM162 54h1.4v1.4h-1.4zM86 56h1.4v1.4h-1.4zM44 46h1.4v1.4h-1.4zM78 83h1.4v1.4h-1.4zM21 59h1.4v1.4h-1.4zM36 75h1.4v1.4h-1.4zM69 69h1.4v1.4h-1.4zM10 50h1.4v1.4h-1.4zM42 30h1.4v1.4h-1.4zM95 104h1.4v1.4h-1.4zM96 103h1.4v1.4h-1.4zM73 20h1.4v1.4h-1.4zM150 99h1.4v1.4h-1.4zM154 37h1.4v1.4h-1.4zM101 3h1.4v1.4h-1.4zM64 85h1.4v1.4h-1.4zM166 69h1.4v1.4h-1.4zM46 57h1.4v1.4h-1.4zM95 68h1.4v1.4h-1.4zM58 94h1.4v1.4h-1.4zM103 75h1.4v1.4h-1.4zM141 23h1.4v1.4h-1.4zM57 28h1.4v1.4h-1.4zM137 75h1.4v1.4h-1.4zM84 26h1.4v1.4h-1.4zM112 67h1.4v1.4h-1.4zM152 45h1.4v1.4h-1.4zM118 97h1.4v1.4h-1.4zM158 63h1.4v1.4h-1.4zM69 40h1.4v1.4h-1.4zM147 61h1.4v1.4h-1.4zM181 86h1.4v1.4h-1.4zM179 98h1.4v1.4h-1.4zM107 85h1.4v1.4h-1.4zM76 11h1.4v1.4h-1.4zM71 34h1.4v1.4h-1.4zM187 74h1.4v1.4h-1.4zM108 67h1.4v1.4h-1.4zM25 58h1.4v1.4h-1.4zM140 43h1.4v1.4h-1.4zM49 44h1.4v1.4h-1.4zM65 74h1.4v1.4h-1.4zM62 75h1.4v1.4h-1.4zM152 71h1.4v1.4h-1.4zM6 53h1.4v1.4h-1.4zM89 19h1.4v1.4h-1.4zM133 37h1.4v1.4h-1.4zM48 35h1.4v1.4h-1.4zM72 30h1.4v1.4h-1.4zM40 47h1.4v1.4h-1.4zM100 75h1.4v1.4h-1.4zM32 50h1.4v1.4h-1.4zM121 91h1.4v1.4h-1.4zM50 50h1.4v1.4h-1.4zM171 90h1.4v1.4h-1.4zM46 58h1.4v1.4h-1.4zM152 43h1.4v1.4h-1.4zM135 72h1.4v1.4h-1.4zM136 38h1.4v1.4h-1.4zM146 35h1.4v1.4h-1.4zM100 39h1.4v1.4h-1.4zM61 15h1.4v1.4h-1.4zM45 59h1.4v1.4h-1.4zM187 65h1.4v1.4h-1.4zM78 94h1.4v1.4h-1.4zM25 69h1.4v1.4h-1.4zM169 66h1.4v1.4h-1.4zM157 45h1.4v1.4h-1.4zM124 28h1.4v1.4h-1.4zM81 41h1.4v1.4h-1.4zM77 43h1.4v1.4h-1.4zM41 28h1.4v1.4h-1.4zM175 89h1.4v1.4h-1.4zM72 79h1.4v1.4h-1.4zM61 15h1.4v1.4h-1.4zM173 90h1.4v1.4h-1.4zM33 77h1.4v1.4h-1.4zM59 21h1.4v1.4h-1.4zM37 34h1.4v1.4h-1.4zM172 66h1.4v1.4h-1.4zM20 74h1.4v1.4h-1.4zM107 48h1.4v1.4h-1.4zM106 70h1.4v1.4h-1.4zM160 55h1.4v1.4h-1.4zM127 50h1.4v1.4h-1.4zM127 42h1.4v1.4h-1.4zM83 56h1.4v1.4h-1.4zM143 30h1.4v1.4h-1.4zM171 75h1.4v1.4h-1.4zM191 74h1.4v1.4h-1.4zM85 44h1.4v1.4h-1.4zM122 81h1.4v1.4h-1.4zM23 74h1.4v1.4h-1.4zM123 104h1.4v1.4h-1.4zM192 81h1.4v1.4h-1.4zM95 22h1.4v1.4h-1.4zM151 46h1.4v1.4h-1.4zM109 34h1.4v1.4h-1.4zM121 103h1.4v1.4h-1.4zM197 83h1.4v1.4h-1.4zM120 72h1.4v1.4h-1.4zM96 79h1.4v1.4h-1.4zM165 82h1.4v1.4h-1.4zM68 41h1.4v1.4h-1.4zM97 21h1.4v1.4h-1.4zM125 58h1.4v1.4h-1.4zM72 25h1.4v1.4h-1.4zM77 66h1.4v1.4h-1.4zM25 58h1.4v1.4h-1.4zM190 80h1.4v1.4h-1.4zM50 45h1.4v1.4h-1.4zM126 19h1.4v1.4h-1.4zM110 64h1.4v1.4h-1.4zM115 41h1.4v1.4h-1.4zM62 38h1.4v1.4h-1.4zM100 50h1.4v1.4h-1.4zM35 43h1.4v1.4h-1.4zM41 35h1.4v1.4h-1.4zM73 38h1.4v1.4h-1.4zM66 71h1.4v1.4h-1.4zM79 56h1.4v1.4h-1.4zM130 8h1.4v1.4h-1.4zM134 11h1.4v1.4h-1.4zM50 87h1.4v1.4h-1.4zM198 73h1.4v1.4h-1.4zM34 47h1.4v1.4h-1.4zM57 91h1.4v1.4h-1.4zM47 21h1.4v1.4h-1.4zM128 69h1.4v1.4h-1.4zM118 52h1.4v1.4h-1.4zM93 39h1.4v1.4h-1.4zM143 81h1.4v1.4h-1.4zM48 57h1.4v1.4h-1.4zM145 54h1.4v1.4h-1.4zM132 67h1.4v1.4h-1.4zM143 38h1.4v1.4h-1.4zM178 85h1.4v1.4h-1.4zM63 28h1.4v1.4h-1.4zM83 6h1.4v1.4h-1.4zM61 17h1.4v1.4h-1.4zM76 53h1.4v1.4h-1.4zM120 101h1.4v1.4h-1.4zM29 25h1.4v1.4h-1.4zM172 98h1.4v1.4h-1.4zM73 20h1.4v1.4h-1.4zM182 83h1.4v1.4h-1.4zM110 85h1.4v1.4h-1.4zM52 58h1.4v1.4h-1.4zM123 20h1.4v1.4h-1.4zM168 91h1.4v1.4h-1.4zM129 47h1.4v1.4h-1.4zM4 53h1.4v1.4h-1.4zM72 43h1.4v1.4h-1.4zM104 61h1.4v1.4h-1.4zM168 97h1.4v1.4h-1.4zM110 59h1.4v1.4h-1.4zM159 57h1.4v1.4h-1.4zM124 107h1.4v1.4h-1.4zM44 44h1.4v1.4h-1.4zM160 81h1.4v1.4h-1.4zM105 84h1.4v1.4h-1.4zM135 94h1.4v1.4h-1.4zM130 39h1.4v1.4h-1.4zM121 14h1.4v1.4h-1.4zM45 43h1.4v1.4h-1.4zM132 31h1.4v1.4h-1.4zM114 76h1.4v1.4h-1.4zM150 89h1.4v1.4h-1.4zM150 31h1.4v1.4h-1.4zM151 47h1.4v1.4h-1.4zM124 39h1.4v1.4h-1.4zM19 53h1.4v1.4h-1.4zM83 35h1.4v1.4h-1.4zM113 58h1.4v1.4h-1.4zM106 107h1.4v1.4h-1.4zM132 76h1.4v1.4h-1.4zM35 47h1.4v1.4h-1.4zM164 73h1.4v1.4h-1.4zM87 98h1.4v1.4h-1.4zM192 95h1.4v1.4h-1.4zM132 52h1.4v1.4h-1.4zM41 24h1.4v1.4h-1.4zM96 97h1.4v1.4h-1.4zM135 51h1.4v1.4h-1.4zM155 76h1.4v1.4h-1.4zM197 91h1.4v1.4h-1.4zM136 64h1.4v1.4h-1.4zM34 51h1.4v1.4h-1.4zM90 17h1.4v1.4h-1.4zM40 44h1.4v1.4h-1.4zM35 67h1.4v1.4h-1.4zM137 56h1.4v1.4h-1.4zM87 42h1.4v1.4h-1.4zM183 70h1.4v1.4h-1.4zM130 16h1.4v1.4h-1.4zM108 18h1.4v1.4h-1.4zM65 63h1.4v1.4h-1.4zM34 25h1.4v1.4h-1.4zM146 52h1.4v1.4h-1.4zM122 75h1.4v1.4h-1.4zM111 16h1.4v1.4h-1.4zM55 59h1.4v1.4h-1.4zM33 29h1.4v1.4h-1.4zM190 95h1.4v1.4h-1.4zM134 46h1.4v1.4h-1.4zM87 93h1.4v1.4h-1.4zM60 22h1.4v1.4h-1.4zM88 100h1.4v1.4h-1.4zM168 58h1.4v1.4h-1.4zM59 86h1.4v1.4h-1.4zM53 78h1.4v1.4h-1.4zM24 71h1.4v1.4h-1.4zM34 64h1.4v1.4h-1.4zM148 95h1.4v1.4h-1.4zM139 96h1.4v1.4h-1.4zM51 83h1.4v1.4h-1.4zM136 93h1.4v1.4h-1.4zM139 71h1.4v1.4h-1.4zM89 74h1.4v1.4h-1.4zM149 89h1.4v1.4h-1.4zM62 32h1.4v1.4h-1.4zM78 34h1.4v1.4h-1.4zM143 19h1.4v1.4h-1.4zM26 67h1.4v1.4h-1.4zM92 38h1.4v1.4h-1.4zM62 37h1.4v1.4h-1.4zM22 46h1.4v1.4h-1.4zM163 80h1.4v1.4h-1.4zM197 74h1.4v1.4h-1.4zM158 58h1.4v1.4h-1.4zM194 67h1.4v1.4h-1.4zM150 38h1.4v1.4h-1.4zM96 15h1.4v1.4h-1.4zM36 54h1.4v1.4h-1.4zM85 20h1.4v1.4h-1.4zM30 48h1.4v1.4h-1.4zM95 6h1.4v1.4h-1.4zM147 83h1.4v1.4h-1.4zM141 103h1.4v1.4h-1.4zM33 46h1.4v1.4h-1.4zM83 8h1.4v1.4h-1.4zM197 73h1.4v1.4h-1.4zM156 63h1.4v1.4h-1.4zM130 52h1.4v1.4h-1.4zM171 62h1.4v1.4h-1.4zM109 44h1.4v1.4h-1.4zM126 63h1.4v1.4h-1.4zM188 83h1.4v1.4h-1.4zM66 78h1.4v1.4h-1.4zM47 52h1.4v1.4h-1.4zM105 79h1.4v1.4h-1.4zM37 67h1.4v1.4h-1.4zM34 60h1.4v1.4h-1.4zM45 64h1.4v1.4h-1.4zM82 47h1.4v1.4h-1.4zM36 74h1.4v1.4h-1.4zM99 74h1.4v1.4h-1.4zM143 61h1.4v1.4h-1.4zM90 68h1.4v1.4h-1.4zM91 71h1.4v1.4h-1.4zM128 76h1.4v1.4h-1.4zM173 58h1.4v1.4h-1.4zM108 16h1.4v1.4h-1.4zM25 41h1.4v1.4h-1.4zM124 3h1.4v1.4h-1.4zM89 86h1.4v1.4h-1.4zM77 19h1.4v1.4h-1.4zM21 72h1.4v1.4h-1.4zM128 30h1.4v1.4h-1.4zM112 74h1.4v1.4h-1.4zM42 26h1.4v1.4h-1.4zM98 49h1.4v1.4h-1.4zM156 93h1.4v1.4h-1.4zM153 68h1.4v1.4h-1.4zM108 10h1.4v1.4h-1.4zM115 47h1.4v1.4h-1.4zM151 41h1.4v1.4h-1.4zM24 41h1.4v1.4h-1.4zM166 54h1.4v1.4h-1.4zM44 29h1.4v1.4h-1.4zM97 13h1.4v1.4h-1.4zM100 67h1.4v1.4h-1.4zM194 92h1.4v1.4h-1.4zM103 70h1.4v1.4h-1.4zM61 16h1.4v1.4h-1.4zM120 51h1.4v1.4h-1.4zM138 11h1.4v1.4h-1.4zM118 67h1.4v1.4h-1.4zM170 66h1.4v1.4h-1.4zM75 61h1.4v1.4h-1.4zM21 49h1.4v1.4h-1.4zM63 91h1.4v1.4h-1.4zM80 98h1.4v1.4h-1.4zM159 45h1.4v1.4h-1.4zM153 73h1.4v1.4h-1.4zM23 32h1.4v1.4h-1.4zM79 32h1.4v1.4h-1.4zM28 75h1.4v1.4h-1.4zM46 85h1.4v1.4h-1.4zM149 83h1.4v1.4h-1.4zM117 13h1.4v1.4h-1.4zM116 104h1.4v1.4h-1.4zM54 52h1.4v1.4h-1.4zM135 70h1.4v1.4h-1.4zM65 45h1.4v1.4h-1.4zM179 77h1.4v1.4h-1.4zM35 73h1.4v1.4h-1.4zM170 65h1.4v1.4h-1.4zM58 94h1.4v1.4h-1.4zM51 14h1.4v1.4h-1.4zM148 21h1.4v1.4h-1.4zM124 1h1.4v1.4h-1.4zM115 81h1.4v1.4h-1.4zM101 68h1.4v1.4h-1.4zM24 49h1.4v1.4h-1.4zM157 40h1.4v1.4h-1.4zM149 65h1.4v1.4h-1.4zM162 80h1.4v1.4h-1.4zM61 88h1.4v1.4h-1.4zM144 45h1.4v1.4h-1.4zM115 35h1.4v1.4h-1.4zM92 33h1.4v1.4h-1.4zM179 66h1.4v1.4h-1.4zM123 56h1.4v1.4h-1.4zM93 19h1.4v1.4h-1.4zM129 48h1.4v1.4h-1.4zM69 55h1.4v1.4h-1.4zM26 70h1.4v1.4h-1.4zM157 40h1.4v1.4h-1.4zM124 34h1.4v1.4h-1.4zM18 62h1.4v1.4h-1.4zM143 30h1.4v1.4h-1.4zM81 9h1.4v1.4h-1.4zM45 60h1.4v1.4h-1.4zM76 30h1.4v1.4h-1.4zM89 66h1.4v1.4h-1.4zM119 71h1.4v1.4h-1.4zM112 17h1.4v1.4h-1.4zM108 96h1.4v1.4h-1.4zM27 54h1.4v1.4h-1.4zM85 69h1.4v1.4h-1.4zM45 26h1.4v1.4h-1.4zM45 60h1.4v1.4h-1.4zM174 79h1.4v1.4h-1.4zM81 89h1.4v1.4h-1.4zM115 85h1.4v1.4h-1.4zM152 98h1.4v1.4h-1.4zM81 37h1.4v1.4h-1.4zM18 56h1.4v1.4h-1.4zM137 98h1.4v1.4h-1.4zM133 11h1.4v1.4h-1.4zM186 94h1.4v1.4h-1.4zM161 97h1.4v1.4h-1.4zM167 74h1.4v1.4h-1.4zM85 62h1.4v1.4h-1.4zM102 37h1.4v1.4h-1.4zM102 34h1.4v1.4h-1.4zM69 70h1.4v1.4h-1.4zM92 100h1.4v1.4h-1.4zM104 79h1.4v1.4h-1.4zM105 88h1.4v1.4h-1.4zM125 88h1.4v1.4h-1.4zM78 100h1.4v1.4h-1.4zM68 96h1.4v1.4h-1.4zM165 64h1.4v1.4h-1.4zM112 1h1.4v1.4h-1.4zM112 6h1.4v1.4h-1.4zM105 24h1.4v1.4h-1.4zM122 17h1.4v1.4h-1.4zM66 83h1.4v1.4h-1.4zM116 14h1.4v1.4h-1.4zM83 77h1.4v1.4h-1.4zM116 70h1.4v1.4h-1.4zM102 27h1.4v1.4h-1.4zM120 50h1.4v1.4h-1.4zM126 86h1.4v1.4h-1.4zM100 46h1.4v1.4h-1.4zM111 18h1.4v1.4h-1.4zM100 91h1.4v1.4h-1.4zM142 57h1.4v1.4h-1.4zM86 84h1.4v1.4h-1.4zM124 1h1.4v1.4h-1.4zM113 72h1.4v1.4h-1.4zM72 90h1.4v1.4h-1.4zM148 96h1.4v1.4h-1.4zM58 71h1.4v1.4h-1.4zM112 37h1.4v1.4h-1.4zM60 10h1.4v1.4h-1.4zM69 27h1.4v1.4h-1.4zM111 53h1.4v1.4h-1.4zM69 90h1.4v1.4h-1.4zM149 36h1.4v1.4h-1.4zM90 92h1.4v1.4h-1.4zM95 97h1.4v1.4h-1.4zM121 12h1.4v1.4h-1.4zM15 41h1.4v1.4h-1.4zM126 25h1.4v1.4h-1.4zM73 44h1.4v1.4h-1.4zM150 56h1.4v1.4h-1.4zM134 74h1.4v1.4h-1.4zM143 85h1.4v1.4h-1.4zM23 54h1.4v1.4h-1.4zM103 27h1.4v1.4h-1.4zM65 53h1.4v1.4h-1.4zM186 100h1.4v1.4h-1.4zM43 57h1.4v1.4h-1.4zM26 66h1.4v1.4h-1.4zM99 93h1.4v1.4h-1.4zM89 29h1.4v1.4h-1.4zM79 15h1.4v1.4h-1.4zM96 75h1.4v1.4h-1.4zM37 63h1.4v1.4h-1.4zM64 70h1.4v1.4h-1.4zM162 76h1.4v1.4h-1.4zM125 61h1.4v1.4h-1.4zM70 90h1.4v1.4h-1.4zM103 89h1.4v1.4h-1.4zM147 36h1.4v1.4h-1.4zM123 91h1.4v1.4h-1.4zM191 67h1.4v1.4h-1.4zM29 62h1.4v1.4h-1.4zM84 80h1.4v1.4h-1.4zM36 55h1.4v1.4h-1.4zM78 43h1.4v1.4h-1.4zM63 59h1.4v1.4h-1.4zM27 69h1.4v1.4h-1.4zM75 32h1.4v1.4h-1.4zM170 80h1.4v1.4h-1.4zM89 28h1.4v1.4h-1.4zM102 70h1.4v1.4h-1.4zM152 72h1.4v1.4h-1.4zM103 12h1.4v1.4h-1.4zM157 89h1.4v1.4h-1.4zM62 29h1.4v1.4h-1.4zM103 48h1.4v1.4h-1.4zM47 90h1.4v1.4h-1.4zM193 93h1.4v1.4h-1.4zM99 39h1.4v1.4h-1.4zM179 82h1.4v1.4h-1.4zM129 76h1.4v1.4h-1.4zM51 79h1.4v1.4h-1.4zM77 82h1.4v1.4h-1.4zM92 49h1.4v1.4h-1.4zM37 77h1.4v1.4h-1.4zM107 38h1.4v1.4h-1.4zM156 44h1.4v1.4h-1.4zM51 17h1.4v1.4h-1.4zM136 24h1.4v1.4h-1.4zM89 82h1.4v1.4h-1.4zM129 30h1.4v1.4h-1.4zM70 88h1.4v1.4h-1.4zM141 56h1.4v1.4h-1.4zM111 100h1.4v1.4h-1.4zM65 81h1.4v1.4h-1.4zM145 80h1.4v1.4h-1.4zM75 14h1.4v1.4h-1.4zM93 33h1.4v1.4h-1.4zM22 31h1.4v1.4h-1.4zM123 69h1.4v1.4h-1.4zM55 90h1.4v1.4h-1.4zM105 80h1.4v1.4h-1.4zM92 45h1.4v1.4h-1.4zM181 77h1.4v1.4h-1.4zM43 68h1.4v1.4h-1.4zM136 30h1.4v1.4h-1.4zM75 96h1.4v1.4h-1.4zM53 66h1.4v1.4h-1.4zM186 62h1.4v1.4h-1.4zM97 16h1.4v1.4h-1.4zM111 14h1.4v1.4h-1.4zM51 85h1.4v1.4h-1.4zM113 69h1.4v1.4h-1.4zM56 42h1.4v1.4h-1.4zM23 31h1.4v1.4h-1.4zM199 72h1.4v1.4h-1.4zM67 68h1.4v1.4h-1.4zM182 88h1.4v1.4h-1.4zM105 17h1.4v1.4h-1.4zM164 84h1.4v1.4h-1.4zM140 78h1.4v1.4h-1.4zM28 63h1.4v1.4h-1.4zM124 1h1.4v1.4h-1.4zM83 38h1.4v1.4h-1.4zM41 73h1.4v1.4h-1.4zM124 20h1.4v1.4h-1.4zM40 77h1.4v1.4h-1.4zM88 76h1.4v1.4h-1.4zM42 61h1.4v1.4h-1.4zM39 57h1.4v1.4h-1.4zM162 88h1.4v1.4h-1.4zM133 78h1.4v1.4h-1.4zM54 30h1.4v1.4h-1.4zM87 37h1.4v1.4h-1.4zM146 94h1.4v1.4h-1.4zM160 83h1.4v1.4h-1.4zM111 22h1.4v1.4h-1.4zM50 46h1.4v1.4h-1.4zM113 28h1.4v1.4h-1.4zM111 46h1.4v1.4h-1.4zM44 70h1.4v1.4h-1.4zM48 45h1.4v1.4h-1.4zM123 7h1.4v1.4h-1.4zM62 36h1.4v1.4h-1.4zM135 10h1.4v1.4h-1.4zM20 37h1.4v1.4h-1.4zM72 73h1.4v1.4h-1.4zM188 69h1.4v1.4h-1.4zM66 24h1.4v1.4h-1.4zM173 93h1.4v1.4h-1.4zM74 24h1.4v1.4h-1.4zM81 96h1.4v1.4h-1.4zM40 48h1.4v1.4h-1.4zM151 92h1.4v1.4h-1.4zM75 80h1.4v1.4h-1.4zM146 98h1.4v1.4h-1.4zM73 92h1.4v1.4h-1.4zM38 63h1.4v1.4h-1.4zM190 80h1.4v1.4h-1.4zM74 61h1.4v1.4h-1.4zM108 80h1.4v1.4h-1.4zM138 28h1.4v1.4h-1.4zM20 39h1.4v1.4h-1.4zM39 61h1.4v1.4h-1.4zM105 5h1.4v1.4h-1.4zM187 99h1.4v1.4h-1.4zM39 29h1.4v1.4h-1.4zM32 39h1.4v1.4h-1.4zM106 82h1.4v1.4h-1.4zM125 48h1.4v1.4h-1.4zM130 77h1.4v1.4h-1.4zM97 29h1.4v1.4h-1.4zM126 87h1.4v1.4h-1.4zM19 69h1.4v1.4h-1.4zM84 17h1.4v1.4h-1.4zM66 7h1.4v1.4h-1.4zM165 60h1.4v1.4h-1.4zM87 94h1.4v1.4h-1.4zM47 65h1.4v1.4h-1.4zM29 61h1.4v1.4h-1.4zM48 42h1.4v1.4h-1.4zM74 82h1.4v1.4h-1.4zM155 96h1.4v1.4h-1.4zM48 28h1.4v1.4h-1.4zM23 54h1.4v1.4h-1.4zM48 68h1.4v1.4h-1.4zM81 17h1.4v1.4h-1.4zM150 96h1.4v1.4h-1.4zM100 18h1.4v1.4h-1.4zM44 27h1.4v1.4h-1.4zM122 95h1.4v1.4h-1.4zM79 59h1.4v1.4h-1.4zM76 94h1.4v1.4h-1.4zM136 45h1.4v1.4h-1.4zM66 92h1.4v1.4h-1.4zM100 103h1.4v1.4h-1.4zM67 15h1.4v1.4h-1.4zM36 81h1.4v1.4h-1.4zM101 91h1.4v1.4h-1.4zM176 62h1.4v1.4h-1.4zM106 84h1.4v1.4h-1.4zM68 95h1.4v1.4h-1.4zM103 55h1.4v1.4h-1.4zM141 22h1.4v1.4h-1.4zM65 84h1.4v1.4h-1.4zM144 100h1.4v1.4h-1.4zM169 64h1.4v1.4h-1.4zM80 10h1.4v1.4h-1.4zM182 84h1.4v1.4h-1.4zM64 31h1.4v1.4h-1.4zM34 25h1.4v1.4h-1.4zM142 88h1.4v1.4h-1.4zM54 73h1.4v1.4h-1.4zM120 72h1.4v1.4h-1.4zM120 97h1.4v1.4h-1.4zM138 92h1.4v1.4h-1.4zM171 72h1.4v1.4h-1.4zM58 49h1.4v1.4h-1.4zM109 50h1.4v1.4h-1.4zM178 69h1.4v1.4h-1.4zM76 19h1.4v1.4h-1.4zM133 49h1.4v1.4h-1.4zM84 47h1.4v1.4h-1.4zM176 82h1.4v1.4h-1.4zM80 101h1.4v1.4h-1.4zM11 53h1.4v1.4h-1.4zM52 72h1.4v1.4h-1.4zM144 23h1.4v1.4h-1.4zM171 59h1.4v1.4h-1.4zM72 42h1.4v1.4h-1.4zM46 78h1.4v1.4h-1.4zM97 15h1.4v1.4h-1.4zM56 41h1.4v1.4h-1.4zM56 17h1.4v1.4h-1.4zM110 77h1.4v1.4h-1.4zM40 54h1.4v1.4h-1.4zM31 75h1.4v1.4h-1.4zM185 83h1.4v1.4h-1.4zM44 65h1.4v1.4h-1.4zM127 30h1.4v1.4h-1.4zM48 71h1.4v1.4h-1.4zM144 70h1.4v1.4h-1.4zM73 22h1.4v1.4h-1.4zM85 28h1.4v1.4h-1.4zM95 82h1.4v1.4h-1.4zM101 92h1.4v1.4h-1.4zM90 40h1.4v1.4h-1.4zM113 8h1.4v1.4h-1.4zM35 29h1.4v1.4h-1.4zM13 64h1.4v1.4h-1.4zM177 59h1.4v1.4h-1.4zM78 84h1.4v1.4h-1.4zM120 77h1.4v1.4h-1.4zM145 28h1.4v1.4h-1.4zM42 80h1.4v1.4h-1.4zM116 58h1.4v1.4h-1.4zM89 26h1.4v1.4h-1.4zM154 89h1.4v1.4h-1.4zM185 96h1.4v1.4h-1.4zM156 72h1.4v1.4h-1.4zM67 84h1.4v1.4h-1.4zM84 11h1.4v1.4h-1.4zM75 29h1.4v1.4h-1.4zM134 28h1.4v1.4h-1.4zM49 88h1.4v1.4h-1.4zM79 83h1.4v1.4h-1.4zM27 41h1.4v1.4h-1.4zM35 27h1.4v1.4h-1.4zM101 94h1.4v1.4h-1.4zM101 94h1.4v1.4h-1.4zM67 7h1.4v1.4h-1.4zM59 73h1.4v1.4h-1.4zM103 25h1.4v1.4h-1.4zM13 39h1.4v1.4h-1.4zM42 58h1.4v1.4h-1.4zM26 28h1.4v1.4h-1.4zM141 79h1.4v1.4h-1.4zM144 56h1.4v1.4h-1.4zM39 66h1.4v1.4h-1.4zM67 29h1.4v1.4h-1.4zM166 95h1.4v1.4h-1.4zM170 98h1.4v1.4h-1.4zM122 90h1.4v1.4h-1.4zM125 97h1.4v1.4h-1.4zM39 20h1.4v1.4h-1.4zM19 43h1.4v1.4h-1.4zM57 69h1.4v1.4h-1.4zM64 65h1.4v1.4h-1.4zM146 77h1.4v1.4h-1.4zM117 44h1.4v1.4h-1.4zM20 38h1.4v1.4h-1.4zM169 94h1.4v1.4h-1.4zM39 79h1.4v1.4h-1.4zM74 40h1.4v1.4h-1.4zM180 63h1.4v1.4h-1.4zM111 99h1.4v1.4h-1.4zM58 32h1.4v1.4h-1.4zM23 31h1.4v1.4h-1.4zM100 17h1.4v1.4h-1.4zM102 6h1.4v1.4h-1.4zM132 51h1.4v1.4h-1.4zM30 63h1.4v1.4h-1.4zM129 93h1.4v1.4h-1.4zM121 75h1.4v1.4h-1.4zM50 56h1.4v1.4h-1.4zM42 72h1.4v1.4h-1.4zM89 99h1.4v1.4h-1.4zM119 79h1.4v1.4h-1.4zM137 75h1.4v1.4h-1.4zM68 31h1.4v1.4h-1.4zM69 30h1.4v1.4h-1.4zM41 42h1.4v1.4h-1.4zM22 45h1.4v1.4h-1.4zM171 64h1.4v1.4h-1.4zM125 57h1.4v1.4h-1.4zM120 17h1.4v1.4h-1.4zM8 61h1.4v1.4h-1.4zM171 66h1.4v1.4h-1.4zM152 31h1.4v1.4h-1.4zM38 83h1.4v1.4h-1.4zM37 31h1.4v1.4h-1.4zM190 72h1.4v1.4h-1.4zM157 89h1.4v1.4h-1.4zM106 6h1.4v1.4h-1.4zM94 89h1.4v1.4h-1.4zM90 28h1.4v1.4h-1.4zM38 84h1.4v1.4h-1.4zM103 3h1.4v1.4h-1.4zM91 16h1.4v1.4h-1.4zM80 16h1.4v1.4h-1.4zM114 82h1.4v1.4h-1.4zM90 79h1.4v1.4h-1.4zM75 71h1.4v1.4h-1.4zM54 15h1.4v1.4h-1.4zM138 101h1.4v1.4h-1.4zM123 24h1.4v1.4h-1.4zM42 23h1.4v1.4h-1.4zM90 41h1.4v1.4h-1.4zM62 65h1.4v1.4h-1.4zM89 22h1.4v1.4h-1.4zM17 68h1.4v1.4h-1.4zM30 68h1.4v1.4h-1.4zM22 42h1.4v1.4h-1.4zM64 92h1.4v1.4h-1.4zM64 23h1.4v1.4h-1.4zM98 96h1.4v1.4h-1.4zM115 19h1.4v1.4h-1.4zM161 81h1.4v1.4h-1.4zM129 73h1.4v1.4h-1.4zM164 96h1.4v1.4h-1.4zM64 88h1.4v1.4h-1.4zM114 67h1.4v1.4h-1.4zM74 65h1.4v1.4h-1.4zM87 25h1.4v1.4h-1.4zM122 25h1.4v1.4h-1.4zM90 92h1.4v1.4h-1.4zM15 36h1.4v1.4h-1.4zM128 35h1.4v1.4h-1.4zM128 83h1.4v1.4h-1.4zM185 101h1.4v1.4h-1.4zM107 27h1.4v1.4h-1.4zM67 96h1.4v1.4h-1.4zM126 61h1.4v1.4h-1.4zM80 62h1.4v1.4h-1.4zM153 32h1.4v1.4h-1.4zM134 38h1.4v1.4h-1.4zM64 37h1.4v1.4h-1.4zM166 62h1.4v1.4h-1.4zM187 79h1.4v1.4h-1.4zM56 47h1.4v1.4h-1.4zM139 105h1.4v1.4h-1.4zM175 94h1.4v1.4h-1.4zM70 36h1.4v1.4h-1.4zM66 87h1.4v1.4h-1.4zM49 80h1.4v1.4h-1.4zM138 89h1.4v1.4h-1.4zM47 68h1.4v1.4h-1.4zM60 7h1.4v1.4h-1.4zM16 59h1.4v1.4h-1.4zM22 46h1.4v1.4h-1.4zM129 41h1.4v1.4h-1.4zM154 75h1.4v1.4h-1.4zM41 48h1.4v1.4h-1.4zM82 44h1.4v1.4h-1.4zM139 93h1.4v1.4h-1.4zM172 81h1.4v1.4h-1.4zM196 99h1.4v1.4h-1.4zM90 14h1.4v1.4h-1.4zM133 57h1.4v1.4h-1.4zM98 17h1.4v1.4h-1.4zM80 29h1.4v1.4h-1.4zM12 52h1.4v1.4h-1.4zM41 36h1.4v1.4h-1.4zM87 44h1.4v1.4h-1.4zM43 81h1.4v1.4h-1.4zM191 66h1.4v1.4h-1.4zM185 96h1.4v1.4h-1.4zM146 61h1.4v1.4h-1.4zM11 56h1.4v1.4h-1.4zM78 7h1.4v1.4h-1.4zM61 21h1.4v1.4h-1.4zM180 96h1.4v1.4h-1.4zM108 98h1.4v1.4h-1.4zM80 71h1.4v1.4h-1.4zM136 105h1.4v1.4h-1.4zM140 30h1.4v1.4h-1.4zM106 86h1.4v1.4h-1.4zM163 103h1.4v1.4h-1.4zM90 11h1.4v1.4h-1.4zM144 104h1.4v1.4h-1.4zM144 92h1.4v1.4h-1.4zM127 53h1.4v1.4h-1.4zM89 3h1.4v1.4h-1.4zM94 68h1.4v1.4h-1.4zM90 47h1.4v1.4h-1.4zM32 72h1.4v1.4h-1.4zM148 32h1.4v1.4h-1.4zM22 59h1.4v1.4h-1.4zM77 47h1.4v1.4h-1.4zM131 10h1.4v1.4h-1.4zM117 91h1.4v1.4h-1.4zM160 77h1.4v1.4h-1.4zM35 34h1.4v1.4h-1.4zM171 60h1.4v1.4h-1.4zM46 76h1.4v1.4h-1.4zM196 76h1.4v1.4h-1.4zM187 97h1.4v1.4h-1.4zM136 74h1.4v1.4h-1.4zM113 37h1.4v1.4h-1.4zM162 78h1.4v1.4h-1.4zM140 63h1.4v1.4h-1.4zM154 76h1.4v1.4h-1.4zM104 55h1.4v1.4h-1.4zM190 72h1.4v1.4h-1.4zM64 18h1.4v1.4h-1.4zM98 41h1.4v1.4h-1.4zM67 41h1.4v1.4h-1.4zM124 74h1.4v1.4h-1.4zM147 49h1.4v1.4h-1.4zM174 78h1.4v1.4h-1.4zM125 101h1.4v1.4h-1.4zM33 63h1.4v1.4h-1.4zM50 80h1.4v1.4h-1.4zM51 80h1.4v1.4h-1.4zM123 32h1.4v1.4h-1.4zM150 72h1.4v1.4h-1.4zM112 5h1.4v1.4h-1.4zM82 12h1.4v1.4h-1.4zM87 33h1.4v1.4h-1.4zM42 30h1.4v1.4h-1.4zM129 45h1.4v1.4h-1.4zM81 18h1.4v1.4h-1.4zM138 31h1.4v1.4h-1.4zM80 36h1.4v1.4h-1.4zM103 23h1.4v1.4h-1.4zM126 84h1.4v1.4h-1.4zM146 31h1.4v1.4h-1.4zM137 41h1.4v1.4h-1.4zM36 53h1.4v1.4h-1.4zM147 88h1.4v1.4h-1.4zM24 77h1.4v1.4h-1.4zM80 68h1.4v1.4h-1.4zM112 52h1.4v1.4h-1.4zM126 76h1.4v1.4h-1.4zM75 64h1.4v1.4h-1.4zM164 104h1.4v1.4h-1.4zM91 15h1.4v1.4h-1.4zM54 53h1.4v1.4h-1.4zM151 66h1.4v1.4h-1.4zM64 39h1.4v1.4h-1.4zM188 86h1.4v1.4h-1.4zM153 80h1.4v1.4h-1.4zM138 60h1.4v1.4h-1.4zM51 45h1.4v1.4h-1.4zM65 67h1.4v1.4h-1.4zM75 12h1.4v1.4h-1.4zM127 37h1.4v1.4h-1.4zM119 67h1.4v1.4h-1.4zM5 45h1.4v1.4h-1.4zM51 85h1.4v1.4h-1.4zM79 26h1.4v1.4h-1.4zM19 73h1.4v1.4h-1.4zM61 19h1.4v1.4h-1.4zM92 70h1.4v1.4h-1.4zM62 69h1.4v1.4h-1.4zM60 75h1.4v1.4h-1.4zM58 23h1.4v1.4h-1.4zM186 67h1.4v1.4h-1.4zM94 4h1.4v1.4h-1.4zM146 73h1.4v1.4h-1.4zM109 28h1.4v1.4h-1.4zM152 67h1.4v1.4h-1.4zM157 94h1.4v1.4h-1.4zM138 86h1.4v1.4h-1.4zM128 51h1.4v1.4h-1.4zM108 9h1.4v1.4h-1.4zM137 87h1.4v1.4h-1.4zM165 88h1.4v1.4h-1.4zM85 70h1.4v1.4h-1.4zM112 94h1.4v1.4h-1.4zM35 77h1.4v1.4h-1.4zM185 102h1.4v1.4h-1.4zM124 99h1.4v1.4h-1.4zM107 55h1.4v1.4h-1.4zM84 44h1.4v1.4h-1.4zM79 83h1.4v1.4h-1.4zM169 61h1.4v1.4h-1.4zM106 5h1.4v1.4h-1.4zM167 55h1.4v1.4h-1.4zM144 24h1.4v1.4h-1.4zM160 83h1.4v1.4h-1.4zM32 78h1.4v1.4h-1.4zM171 79h1.4v1.4h-1.4zM142 86h1.4v1.4h-1.4zM124 13h1.4v1.4h-1.4zM2 47h1.4v1.4h-1.4zM109 39h1.4v1.4h-1.4zM119 39h1.4v1.4h-1.4zM61 58h1.4v1.4h-1.4zM44 82h1.4v1.4h-1.4zM84 88h1.4v1.4h-1.4zM125 94h1.4v1.4h-1.4zM170 86h1.4v1.4h-1.4zM47 66h1.4v1.4h-1.4zM134 9h1.4v1.4h-1.4zM111 6h1.4v1.4h-1.4zM74 41h1.4v1.4h-1.4zM53 53h1.4v1.4h-1.4zM116 7h1.4v1.4h-1.4zM87 36h1.4v1.4h-1.4zM126 61h1.4v1.4h-1.4zM121 22h1.4v1.4h-1.4zM67 22h1.4v1.4h-1.4zM169 86h1.4v1.4h-1.4zM79 53h1.4v1.4h-1.4zM46 87h1.4v1.4h-1.4zM135 16h1.4v1.4h-1.4zM173 71h1.4v1.4h-1.4zM43 28h1.4v1.4h-1.4zM94 80h1.4v1.4h-1.4zM162 98h1.4v1.4h-1.4zM83 40h1.4v1.4h-1.4zM131 50h1.4v1.4h-1.4zM36 36h1.4v1.4h-1.4zM126 29h1.4v1.4h-1.4zM103 29h1.4v1.4h-1.4zM73 47h1.4v1.4h-1.4zM40 51h1.4v1.4h-1.4zM139 72h1.4v1.4h-1.4zM52 89h1.4v1.4h-1.4zM40 22h1.4v1.4h-1.4zM105 102h1.4v1.4h-1.4zM145 81h1.4v1.4h-1.4zM88 76h1.4v1.4h-1.4zM135 76h1.4v1.4h-1.4zM109 29h1.4v1.4h-1.4zM141 36h1.4v1.4h-1.4zM110 22h1.4v1.4h-1.4zM190 97h1.4v1.4h-1.4zM80 11h1.4v1.4h-1.4zM44 59h1.4v1.4h-1.4zM9 63h1.4v1.4h-1.4zM29 31h1.4v1.4h-1.4zM181 60h1.4v1.4h-1.4zM48 80h1.4v1.4h-1.4zM162 85h1.4v1.4h-1.4zM121 44h1.4v1.4h-1.4zM193 97h1.4v1.4h-1.4zM54 53h1.4v1.4h-1.4zM112 55h1.4v1.4h-1.4zM88 13h1.4v1.4h-1.4zM185 69h1.4v1.4h-1.4zM185 84h1.4v1.4h-1.4zM44 23h1.4v1.4h-1.4zM34 31h1.4v1.4h-1.4zM48 62h1.4v1.4h-1.4zM36 50h1.4v1.4h-1.4zM142 87h1.4v1.4h-1.4zM87 101h1.4v1.4h-1.4zM70 84h1.4v1.4h-1.4zM159 99h1.4v1.4h-1.4zM108 88h1.4v1.4h-1.4zM148 82h1.4v1.4h-1.4zM76 46h1.4v1.4h-1.4zM93 53h1.4v1.4h-1.4zM109 106h1.4v1.4h-1.4zM148 86h1.4v1.4h-1.4zM115 104h1.4v1.4h-1.4zM48 20h1.4v1.4h-1.4zM176 81h1.4v1.4h-1.4zM139 51h1.4v1.4h-1.4zM65 30h1.4v1.4h-1.4zM137 78h1.4v1.4h-1.4zM95 67h1.4v1.4h-1.4zM36 59h1.4v1.4h-1.4zM82 68h1.4v1.4h-1.4zM38 26h1.4v1.4h-1.4zM55 48h1.4v1.4h-1.4zM135 87h1.4v1.4h-1.4zM165 96h1.4v1.4h-1.4zM72 36h1.4v1.4h-1.4zM118 35h1.4v1.4h-1.4zM119 72h1.4v1.4h-1.4zM122 11h1.4v1.4h-1.4zM72 9h1.4v1.4h-1.4zM48 69h1.4v1.4h-1.4zM144 17h1.4v1.4h-1.4zM125 2h1.4v1.4h-1.4zM141 82h1.4v1.4h-1.4zM65 93h1.4v1.4h-1.4zM62 62h1.4v1.4h-1.4zM42 68h1.4v1.4h-1.4zM134 26h1.4v1.4h-1.4zM130 32h1.4v1.4h-1.4zM59 84h1.4v1.4h-1.4zM38 68h1.4v1.4h-1.4zM7 54h1.4v1.4h-1.4zM110 87h1.4v1.4h-1.4zM159 47h1.4v1.4h-1.4zM46 58h1.4v1.4h-1.4zM76 36h1.4v1.4h-1.4zM115 20h1.4v1.4h-1.4zM135 97h1.4v1.4h-1.4zM182 85h1.4v1.4h-1.4zM110 2h1.4v1.4h-1.4zM32 32h1.4v1.4h-1.4zM16 65h1.4v1.4h-1.4zM161 71h1.4v1.4h-1.4zM146 42h1.4v1.4h-1.4zM94 20h1.4v1.4h-1.4zM160 59h1.4v1.4h-1.4zM109 89h1.4v1.4h-1.4zM72 20h1.4v1.4h-1.4zM57 42h1.4v1.4h-1.4zM92 61h1.4v1.4h-1.4zM84 5h1.4v1.4h-1.4zM37 80h1.4v1.4h-1.4zM126 27h1.4v1.4h-1.4zM124 107h1.4v1.4h-1.4zM135 89h1.4v1.4h-1.4zM71 40h1.4v1.4h-1.4zM132 69h1.4v1.4h-1.4zM93 89h1.4v1.4h-1.4zM151 54h1.4v1.4h-1.4zM13 40h1.4v1.4h-1.4zM44 29h1.4v1.4h-1.4zM147 92h1.4v1.4h-1.4zM87 22h1.4v1.4h-1.4zM180 90h1.4v1.4h-1.4zM46 80h1.4v1.4h-1.4zM36 58h1.4v1.4h-1.4zM58 61h1.4v1.4h-1.4zM97 41h1.4v1.4h-1.4zM155 98h1.4v1.4h-1.4zM69 15h1.4v1.4h-1.4zM129 80h1.4v1.4h-1.4zM76 17h1.4v1.4h-1.4zM139 99h1.4v1.4h-1.4zM97 62h1.4v1.4h-1.4zM101 93h1.4v1.4h-1.4zM101 8h1.4v1.4h-1.4zM187 79h1.4v1.4h-1.4zM85 32h1.4v1.4h-1.4zM181 72h1.4v1.4h-1.4zM46 75h1.4v1.4h-1.4zM29 26h1.4v1.4h-1.4zM98 12h1.4v1.4h-1.4zM152 79h1.4v1.4h-1.4zM26 30h1.4v1.4h-1.4zM100 98h1.4v1.4h-1.4zM55 23h1.4v1.4h-1.4zM81 69h1.4v1.4h-1.4zM117 46h1.4v1.4h-1.4zM150 59h1.4v1.4h-1.4zM125 76h1.4v1.4h-1.4zM159 76h1.4v1.4h-1.4zM137 24h1.4v1.4h-1.4zM98 90h1.4v1.4h-1.4zM69 82h1.4v1.4h-1.4zM116 61h1.4v1.4h-1.4zM130 75h1.4v1.4h-1.4zM15 45h1.4v1.4h-1.4zM78 75h1.4v1.4h-1.4zM120 79h1.4v1.4h-1.4zM118 78h1.4v1.4h-1.4zM129 45h1.4v1.4h-1.4zM147 62h1.4v1.4h-1.4zM106 42h1.4v1.4h-1.4zM51 76h1.4v1.4h-1.4zM143 37h1.4v1.4h-1.4zM78 13h1.4v1.4h-1.4zM110 75h1.4v1.4h-1.4zM80 101h1.4v1.4h-1.4zM178 102h1.4v1.4h-1.4zM108 28h1.4v1.4h-1.4zM105 34h1.4v1.4h-1.4zM143 25h1.4v1.4h-1.4zM112 77h1.4v1.4h-1.4zM71 46h1.4v1.4h-1.4zM154 90h1.4v1.4h-1.4zM130 60h1.4v1.4h-1.4zM181 71h1.4v1.4h-1.4zM88 97h1.4v1.4h-1.4z" fill="#606060"/><rect x="132.6" y="72.7" width="5.6" height="18.6" fill="#1f9e8e"/><polygon points="129.8,72.7 141.0,72.7 135.4,64.9" fill="#1f9e8e"/><rect x="101.3" y="43.2" width="5.6" height="18.6" fill="#f26b5b"/><polygon points="98.5,43.2 109.7,43.2 104.1,35.3" fill="#f26b5b"/><rect x="49.4" y="16.0" width="5.6" height="18.6" fill="#1f9e8e"/><polygon points="46.6,16.0 57.8,16.0 52.2,8.2" fill="#1f9e8e"/><rect x="59.4" y="49.4" width="5.6" height="18.6" fill="#f26b5b"/><polygon points="56.6,49.4 67.8,49.4 62.2,41.6" fill="#f26b5b"/><rect x="128.9" y="20.2" width="5.6" height="18.6" fill="#1f9e8e"/><polygon points="126.1,20.2 137.3,20.2 131.7,12.4" fill="#1f9e8e"/><rect x="180.2" y="78.0" width="5.6" height="18.6" fill="#f26b5b"/><polygon points="177.4,78.0 188.6,78.0 183.0,70.1" fill="#f26b5b"/><rect x="21.2" y="39.8" width="5.6" height="18.6" fill="#1f9e8e"/><polygon points="18.4,39.8 29.6,39.8 24.0,31.9" fill="#1f9e8e"/><rect x="86.2" y="78.8" width="5.6" height="18.6" fill="#f26b5b"/><polygon points="83.4,78.8 94.6,78.8 89.0,71.0" fill="#f26b5b"/><rect x="95.0" y="15.1" width="5.6" height="18.6" fill="#1f9e8e"/><polygon points="92.2,15.1 103.4,15.1 97.8,7.3" fill="#1f9e8e"/><rect x="156.4" y="47.4" width="5.6" height="18.6" fill="#f26b5b"/><polygon points="153.6,47.4 164.8,47.4 159.2,39.6" fill="#f26b5b"/><rect x="46.6" y="69.8" width="5.6" height="18.6" fill="#1f9e8e"/><polygon points="43.8,69.8 55.0,69.8 49.4,61.9" fill="#1f9e8e"/></svg>
<svg class="a" style="left:3107px;top:2072px;overflow:visible;" width="200" height="110" viewBox="0 0 200 110"><path d="M52 75h1.4v1.4h-1.4zM137 93h1.4v1.4h-1.4zM37 25h1.4v1.4h-1.4zM29 25h1.4v1.4h-1.4zM106 24h1.4v1.4h-1.4zM59 47h1.4v1.4h-1.4zM168 67h1.4v1.4h-1.4zM162 89h1.4v1.4h-1.4zM165 82h1.4v1.4h-1.4zM190 87h1.4v1.4h-1.4zM51 93h1.4v1.4h-1.4zM97 83h1.4v1.4h-1.4zM113 47h1.4v1.4h-1.4zM73 47h1.4v1.4h-1.4zM63 13h1.4v1.4h-1.4zM164 88h1.4v1.4h-1.4zM197 76h1.4v1.4h-1.4zM111 82h1.4v1.4h-1.4zM27 74h1.4v1.4h-1.4zM89 19h1.4v1.4h-1.4zM41 57h1.4v1.4h-1.4zM51 51h1.4v1.4h-1.4zM121 44h1.4v1.4h-1.4zM26 54h1.4v1.4h-1.4zM47 26h1.4v1.4h-1.4zM39 40h1.4v1.4h-1.4zM15 72h1.4v1.4h-1.4zM144 103h1.4v1.4h-1.4zM161 92h1.4v1.4h-1.4zM128 18h1.4v1.4h-1.4zM83 96h1.4v1.4h-1.4zM177 88h1.4v1.4h-1.4zM75 79h1.4v1.4h-1.4zM121 79h1.4v1.4h-1.4zM42 68h1.4v1.4h-1.4zM116 65h1.4v1.4h-1.4zM72 80h1.4v1.4h-1.4zM68 32h1.4v1.4h-1.4zM33 75h1.4v1.4h-1.4zM14 71h1.4v1.4h-1.4zM111 60h1.4v1.4h-1.4zM8 48h1.4v1.4h-1.4zM69 10h1.4v1.4h-1.4zM24 33h1.4v1.4h-1.4zM54 66h1.4v1.4h-1.4zM15 52h1.4v1.4h-1.4zM73 92h1.4v1.4h-1.4zM99 107h1.4v1.4h-1.4zM103 52h1.4v1.4h-1.4zM134 33h1.4v1.4h-1.4zM6 55h1.4v1.4h-1.4zM182 81h1.4v1.4h-1.4zM52 75h1.4v1.4h-1.4zM118 39h1.4v1.4h-1.4zM49 32h1.4v1.4h-1.4zM41 39h1.4v1.4h-1.4zM8 44h1.4v1.4h-1.4zM120 0h1.4v1.4h-1.4zM96 61h1.4v1.4h-1.4zM67 32h1.4v1.4h-1.4zM87 15h1.4v1.4h-1.4zM61 43h1.4v1.4h-1.4zM72 49h1.4v1.4h-1.4zM9 59h1.4v1.4h-1.4zM65 98h1.4v1.4h-1.4zM109 14h1.4v1.4h-1.4zM96 41h1.4v1.4h-1.4zM69 88h1.4v1.4h-1.4zM43 79h1.4v1.4h-1.4zM133 103h1.4v1.4h-1.4zM104 101h1.4v1.4h-1.4zM88 63h1.4v1.4h-1.4zM124 92h1.4v1.4h-1.4zM27 59h1.4v1.4h-1.4zM162 59h1.4v1.4h-1.4zM60 10h1.4v1.4h-1.4zM143 95h1.4v1.4h-1.4zM85 68h1.4v1.4h-1.4zM167 79h1.4v1.4h-1.4zM58 84h1.4v1.4h-1.4zM22 34h1.4v1.4h-1.4zM54 86h1.4v1.4h-1.4zM49 94h1.4v1.4h-1.4zM97 29h1.4v1.4h-1.4zM92 99h1.4v1.4h-1.4zM107 21h1.4v1.4h-1.4zM75 52h1.4v1.4h-1.4zM38 63h1.4v1.4h-1.4zM118 34h1.4v1.4h-1.4zM104 92h1.4v1.4h-1.4zM43 82h1.4v1.4h-1.4zM130 47h1.4v1.4h-1.4zM11 55h1.4v1.4h-1.4zM97 67h1.4v1.4h-1.4zM49 58h1.4v1.4h-1.4zM2 49h1.4v1.4h-1.4zM152 37h1.4v1.4h-1.4zM140 47h1.4v1.4h-1.4zM183 81h1.4v1.4h-1.4zM186 90h1.4v1.4h-1.4zM166 75h1.4v1.4h-1.4zM144 73h1.4v1.4h-1.4zM118 28h1.4v1.4h-1.4zM27 80h1.4v1.4h-1.4zM119 6h1.4v1.4h-1.4zM128 67h1.4v1.4h-1.4zM102 85h1.4v1.4h-1.4zM163 55h1.4v1.4h-1.4zM114 46h1.4v1.4h-1.4zM134 100h1.4v1.4h-1.4zM137 41h1.4v1.4h-1.4zM16 53h1.4v1.4h-1.4zM83 90h1.4v1.4h-1.4zM90 45h1.4v1.4h-1.4zM113 82h1.4v1.4h-1.4zM29 36h1.4v1.4h-1.4zM59 22h1.4v1.4h-1.4zM13 43h1.4v1.4h-1.4zM42 18h1.4v1.4h-1.4zM113 97h1.4v1.4h-1.4zM132 78h1.4v1.4h-1.4zM140 88h1.4v1.4h-1.4zM104 57h1.4v1.4h-1.4zM141 47h1.4v1.4h-1.4zM84 27h1.4v1.4h-1.4zM56 64h1.4v1.4h-1.4zM111 100h1.4v1.4h-1.4zM56 79h1.4v1.4h-1.4zM19 72h1.4v1.4h-1.4zM61 11h1.4v1.4h-1.4zM88 11h1.4v1.4h-1.4zM141 63h1.4v1.4h-1.4zM84 78h1.4v1.4h-1.4zM47 36h1.4v1.4h-1.4zM84 15h1.4v1.4h-1.4zM49 17h1.4v1.4h-1.4zM72 83h1.4v1.4h-1.4zM148 62h1.4v1.4h-1.4zM126 104h1.4v1.4h-1.4zM160 66h1.4v1.4h-1.4zM154 54h1.4v1.4h-1.4zM110 90h1.4v1.4h-1.4zM124 41h1.4v1.4h-1.4zM68 47h1.4v1.4h-1.4zM58 61h1.4v1.4h-1.4zM80 92h1.4v1.4h-1.4zM119 61h1.4v1.4h-1.4zM157 48h1.4v1.4h-1.4zM107 83h1.4v1.4h-1.4zM145 82h1.4v1.4h-1.4zM178 61h1.4v1.4h-1.4zM111 21h1.4v1.4h-1.4zM48 48h1.4v1.4h-1.4zM100 99h1.4v1.4h-1.4zM148 50h1.4v1.4h-1.4zM154 47h1.4v1.4h-1.4zM114 6h1.4v1.4h-1.4zM81 88h1.4v1.4h-1.4zM147 62h1.4v1.4h-1.4zM85 4h1.4v1.4h-1.4zM140 49h1.4v1.4h-1.4zM145 67h1.4v1.4h-1.4zM80 96h1.4v1.4h-1.4zM117 49h1.4v1.4h-1.4zM102 7h1.4v1.4h-1.4zM160 70h1.4v1.4h-1.4zM84 103h1.4v1.4h-1.4zM40 80h1.4v1.4h-1.4zM100 106h1.4v1.4h-1.4zM113 32h1.4v1.4h-1.4zM139 106h1.4v1.4h-1.4zM133 54h1.4v1.4h-1.4zM121 27h1.4v1.4h-1.4zM94 13h1.4v1.4h-1.4zM105 20h1.4v1.4h-1.4zM113 6h1.4v1.4h-1.4zM144 98h1.4v1.4h-1.4zM29 69h1.4v1.4h-1.4zM127 19h1.4v1.4h-1.4zM28 26h1.4v1.4h-1.4zM105 87h1.4v1.4h-1.4zM142 63h1.4v1.4h-1.4zM102 19h1.4v1.4h-1.4zM124 27h1.4v1.4h-1.4zM62 50h1.4v1.4h-1.4zM88 26h1.4v1.4h-1.4zM134 90h1.4v1.4h-1.4zM53 79h1.4v1.4h-1.4zM93 24h1.4v1.4h-1.4zM55 59h1.4v1.4h-1.4zM161 66h1.4v1.4h-1.4zM116 46h1.4v1.4h-1.4zM48 48h1.4v1.4h-1.4zM138 30h1.4v1.4h-1.4zM88 8h1.4v1.4h-1.4zM73 68h1.4v1.4h-1.4zM133 99h1.4v1.4h-1.4zM35 63h1.4v1.4h-1.4zM143 51h1.4v1.4h-1.4zM143 105h1.4v1.4h-1.4zM68 81h1.4v1.4h-1.4zM69 98h1.4v1.4h-1.4zM153 94h1.4v1.4h-1.4zM175 65h1.4v1.4h-1.4zM115 8h1.4v1.4h-1.4zM117 76h1.4v1.4h-1.4zM57 89h1.4v1.4h-1.4zM83 22h1.4v1.4h-1.4zM39 64h1.4v1.4h-1.4zM77 5h1.4v1.4h-1.4zM94 75h1.4v1.4h-1.4zM85 8h1.4v1.4h-1.4zM122 23h1.4v1.4h-1.4zM24 68h1.4v1.4h-1.4zM33 36h1.4v1.4h-1.4zM159 82h1.4v1.4h-1.4zM149 47h1.4v1.4h-1.4zM31 83h1.4v1.4h-1.4zM154 74h1.4v1.4h-1.4zM103 23h1.4v1.4h-1.4zM71 98h1.4v1.4h-1.4zM166 93h1.4v1.4h-1.4zM148 21h1.4v1.4h-1.4zM59 62h1.4v1.4h-1.4zM13 47h1.4v1.4h-1.4zM130 95h1.4v1.4h-1.4zM67 19h1.4v1.4h-1.4zM18 72h1.4v1.4h-1.4zM80 21h1.4v1.4h-1.4zM103 14h1.4v1.4h-1.4zM136 106h1.4v1.4h-1.4zM93 46h1.4v1.4h-1.4zM80 40h1.4v1.4h-1.4zM83 20h1.4v1.4h-1.4zM59 76h1.4v1.4h-1.4zM96 7h1.4v1.4h-1.4zM71 91h1.4v1.4h-1.4zM123 69h1.4v1.4h-1.4zM71 64h1.4v1.4h-1.4zM83 57h1.4v1.4h-1.4zM185 89h1.4v1.4h-1.4zM98 57h1.4v1.4h-1.4zM41 62h1.4v1.4h-1.4zM88 40h1.4v1.4h-1.4zM38 31h1.4v1.4h-1.4zM168 106h1.4v1.4h-1.4zM75 32h1.4v1.4h-1.4zM67 95h1.4v1.4h-1.4zM52 20h1.4v1.4h-1.4zM63 10h1.4v1.4h-1.4zM29 26h1.4v1.4h-1.4zM130 102h1.4v1.4h-1.4zM52 32h1.4v1.4h-1.4zM117 3h1.4v1.4h-1.4zM18 63h1.4v1.4h-1.4zM93 39h1.4v1.4h-1.4zM52 19h1.4v1.4h-1.4zM83 19h1.4v1.4h-1.4zM41 84h1.4v1.4h-1.4zM66 60h1.4v1.4h-1.4zM86 9h1.4v1.4h-1.4zM85 67h1.4v1.4h-1.4zM80 86h1.4v1.4h-1.4zM89 32h1.4v1.4h-1.4zM179 63h1.4v1.4h-1.4zM96 66h1.4v1.4h-1.4zM94 94h1.4v1.4h-1.4zM146 49h1.4v1.4h-1.4zM73 85h1.4v1.4h-1.4zM167 66h1.4v1.4h-1.4zM175 58h1.4v1.4h-1.4zM83 35h1.4v1.4h-1.4zM54 17h1.4v1.4h-1.4zM85 89h1.4v1.4h-1.4zM171 84h1.4v1.4h-1.4zM59 47h1.4v1.4h-1.4zM130 6h1.4v1.4h-1.4zM96 56h1.4v1.4h-1.4zM150 37h1.4v1.4h-1.4zM174 101h1.4v1.4h-1.4zM15 47h1.4v1.4h-1.4zM110 34h1.4v1.4h-1.4zM48 86h1.4v1.4h-1.4zM42 61h1.4v1.4h-1.4zM4 51h1.4v1.4h-1.4zM59 33h1.4v1.4h-1.4zM147 64h1.4v1.4h-1.4zM89 76h1.4v1.4h-1.4zM20 43h1.4v1.4h-1.4zM176 100h1.4v1.4h-1.4zM97 86h1.4v1.4h-1.4zM134 38h1.4v1.4h-1.4zM105 5h1.4v1.4h-1.4zM127 68h1.4v1.4h-1.4zM71 23h1.4v1.4h-1.4zM112 36h1.4v1.4h-1.4zM124 105h1.4v1.4h-1.4zM94 28h1.4v1.4h-1.4zM17 68h1.4v1.4h-1.4zM139 75h1.4v1.4h-1.4zM129 77h1.4v1.4h-1.4zM118 36h1.4v1.4h-1.4zM104 19h1.4v1.4h-1.4zM77 38h1.4v1.4h-1.4zM93 45h1.4v1.4h-1.4zM44 19h1.4v1.4h-1.4zM127 16h1.4v1.4h-1.4zM68 11h1.4v1.4h-1.4zM112 65h1.4v1.4h-1.4zM102 104h1.4v1.4h-1.4zM103 40h1.4v1.4h-1.4zM42 64h1.4v1.4h-1.4zM149 55h1.4v1.4h-1.4zM78 28h1.4v1.4h-1.4zM117 78h1.4v1.4h-1.4zM65 17h1.4v1.4h-1.4zM11 68h1.4v1.4h-1.4zM183 76h1.4v1.4h-1.4zM135 95h1.4v1.4h-1.4zM82 47h1.4v1.4h-1.4zM52 91h1.4v1.4h-1.4zM138 58h1.4v1.4h-1.4zM156 100h1.4v1.4h-1.4zM94 79h1.4v1.4h-1.4zM48 49h1.4v1.4h-1.4zM133 32h1.4v1.4h-1.4zM82 70h1.4v1.4h-1.4zM173 56h1.4v1.4h-1.4zM133 73h1.4v1.4h-1.4zM130 50h1.4v1.4h-1.4zM63 14h1.4v1.4h-1.4zM177 85h1.4v1.4h-1.4zM130 83h1.4v1.4h-1.4zM63 19h1.4v1.4h-1.4zM106 51h1.4v1.4h-1.4zM130 96h1.4v1.4h-1.4zM78 41h1.4v1.4h-1.4zM141 97h1.4v1.4h-1.4zM113 65h1.4v1.4h-1.4zM178 101h1.4v1.4h-1.4zM19 61h1.4v1.4h-1.4zM100 108h1.4v1.4h-1.4zM92 47h1.4v1.4h-1.4zM111 24h1.4v1.4h-1.4zM67 13h1.4v1.4h-1.4zM121 20h1.4v1.4h-1.4zM112 98h1.4v1.4h-1.4zM43 19h1.4v1.4h-1.4zM116 76h1.4v1.4h-1.4zM36 55h1.4v1.4h-1.4zM112 55h1.4v1.4h-1.4zM63 49h1.4v1.4h-1.4zM50 74h1.4v1.4h-1.4zM106 100h1.4v1.4h-1.4zM29 74h1.4v1.4h-1.4zM189 77h1.4v1.4h-1.4zM199 71h1.4v1.4h-1.4zM43 61h1.4v1.4h-1.4zM83 60h1.4v1.4h-1.4zM198 77h1.4v1.4h-1.4zM99 105h1.4v1.4h-1.4zM74 53h1.4v1.4h-1.4zM129 55h1.4v1.4h-1.4zM135 102h1.4v1.4h-1.4zM128 40h1.4v1.4h-1.4zM10 51h1.4v1.4h-1.4zM116 30h1.4v1.4h-1.4zM115 2h1.4v1.4h-1.4zM51 53h1.4v1.4h-1.4zM96 78h1.4v1.4h-1.4zM46 31h1.4v1.4h-1.4zM147 31h1.4v1.4h-1.4zM30 68h1.4v1.4h-1.4zM70 65h1.4v1.4h-1.4zM42 56h1.4v1.4h-1.4zM25 66h1.4v1.4h-1.4zM109 23h1.4v1.4h-1.4zM98 30h1.4v1.4h-1.4zM76 78h1.4v1.4h-1.4zM61 91h1.4v1.4h-1.4zM96 59h1.4v1.4h-1.4zM94 97h1.4v1.4h-1.4zM50 92h1.4v1.4h-1.4zM106 5h1.4v1.4h-1.4zM102 19h1.4v1.4h-1.4zM137 17h1.4v1.4h-1.4zM113 36h1.4v1.4h-1.4zM96 105h1.4v1.4h-1.4zM105 107h1.4v1.4h-1.4zM144 25h1.4v1.4h-1.4zM51 90h1.4v1.4h-1.4zM113 98h1.4v1.4h-1.4zM29 29h1.4v1.4h-1.4zM121 106h1.4v1.4h-1.4zM131 84h1.4v1.4h-1.4zM164 52h1.4v1.4h-1.4zM75 88h1.4v1.4h-1.4zM124 97h1.4v1.4h-1.4zM69 14h1.4v1.4h-1.4zM117 35h1.4v1.4h-1.4zM63 56h1.4v1.4h-1.4zM146 75h1.4v1.4h-1.4zM92 72h1.4v1.4h-1.4zM126 101h1.4v1.4h-1.4zM137 93h1.4v1.4h-1.4zM55 18h1.4v1.4h-1.4zM42 44h1.4v1.4h-1.4zM114 72h1.4v1.4h-1.4zM72 95h1.4v1.4h-1.4zM79 67h1.4v1.4h-1.4zM131 98h1.4v1.4h-1.4zM70 71h1.4v1.4h-1.4zM138 18h1.4v1.4h-1.4zM74 49h1.4v1.4h-1.4zM120 58h1.4v1.4h-1.4zM66 10h1.4v1.4h-1.4zM154 99h1.4v1.4h-1.4zM147 24h1.4v1.4h-1.4zM118 4h1.4v1.4h-1.4zM42 28h1.4v1.4h-1.4zM120 64h1.4v1.4h-1.4zM108 18h1.4v1.4h-1.4zM100 82h1.4v1.4h-1.4zM90 96h1.4v1.4h-1.4zM61 64h1.4v1.4h-1.4zM116 42h1.4v1.4h-1.4zM67 47h1.4v1.4h-1.4zM160 103h1.4v1.4h-1.4zM57 37h1.4v1.4h-1.4zM155 50h1.4v1.4h-1.4zM180 64h1.4v1.4h-1.4zM195 90h1.4v1.4h-1.4zM136 20h1.4v1.4h-1.4zM67 24h1.4v1.4h-1.4zM31 77h1.4v1.4h-1.4zM81 56h1.4v1.4h-1.4zM164 77h1.4v1.4h-1.4zM42 82h1.4v1.4h-1.4zM137 65h1.4v1.4h-1.4zM100 101h1.4v1.4h-1.4zM120 7h1.4v1.4h-1.4zM168 73h1.4v1.4h-1.4zM53 85h1.4v1.4h-1.4zM186 81h1.4v1.4h-1.4zM95 91h1.4v1.4h-1.4zM81 57h1.4v1.4h-1.4zM129 72h1.4v1.4h-1.4zM104 41h1.4v1.4h-1.4zM147 61h1.4v1.4h-1.4zM42 63h1.4v1.4h-1.4zM92 87h1.4v1.4h-1.4zM153 56h1.4v1.4h-1.4zM134 32h1.4v1.4h-1.4zM111 109h1.4v1.4h-1.4zM24 47h1.4v1.4h-1.4zM86 79h1.4v1.4h-1.4zM38 75h1.4v1.4h-1.4zM16 71h1.4v1.4h-1.4zM150 61h1.4v1.4h-1.4zM54 40h1.4v1.4h-1.4zM112 105h1.4v1.4h-1.4zM97 90h1.4v1.4h-1.4zM120 91h1.4v1.4h-1.4zM125 15h1.4v1.4h-1.4zM45 30h1.4v1.4h-1.4zM44 65h1.4v1.4h-1.4zM84 40h1.4v1.4h-1.4zM97 23h1.4v1.4h-1.4zM133 10h1.4v1.4h-1.4zM133 39h1.4v1.4h-1.4zM27 80h1.4v1.4h-1.4zM48 36h1.4v1.4h-1.4zM56 69h1.4v1.4h-1.4zM170 58h1.4v1.4h-1.4zM110 99h1.4v1.4h-1.4zM41 77h1.4v1.4h-1.4zM23 62h1.4v1.4h-1.4zM96 41h1.4v1.4h-1.4zM135 43h1.4v1.4h-1.4zM132 99h1.4v1.4h-1.4zM186 89h1.4v1.4h-1.4zM141 106h1.4v1.4h-1.4zM80 15h1.4v1.4h-1.4zM35 79h1.4v1.4h-1.4zM79 69h1.4v1.4h-1.4zM149 75h1.4v1.4h-1.4zM11 48h1.4v1.4h-1.4zM94 48h1.4v1.4h-1.4zM131 77h1.4v1.4h-1.4zM68 80h1.4v1.4h-1.4zM151 37h1.4v1.4h-1.4zM79 45h1.4v1.4h-1.4zM20 62h1.4v1.4h-1.4zM145 106h1.4v1.4h-1.4zM89 60h1.4v1.4h-1.4zM128 84h1.4v1.4h-1.4zM133 105h1.4v1.4h-1.4zM168 106h1.4v1.4h-1.4zM88 60h1.4v1.4h-1.4zM34 56h1.4v1.4h-1.4zM102 39h1.4v1.4h-1.4zM187 97h1.4v1.4h-1.4zM116 94h1.4v1.4h-1.4zM78 64h1.4v1.4h-1.4zM115 49h1.4v1.4h-1.4zM106 45h1.4v1.4h-1.4zM189 90h1.4v1.4h-1.4zM22 65h1.4v1.4h-1.4zM98 17h1.4v1.4h-1.4zM175 90h1.4v1.4h-1.4zM29 72h1.4v1.4h-1.4zM152 53h1.4v1.4h-1.4zM140 107h1.4v1.4h-1.4zM155 91h1.4v1.4h-1.4zM42 82h1.4v1.4h-1.4zM138 44h1.4v1.4h-1.4zM116 106h1.4v1.4h-1.4zM137 33h1.4v1.4h-1.4zM193 86h1.4v1.4h-1.4zM60 46h1.4v1.4h-1.4zM69 49h1.4v1.4h-1.4zM71 32h1.4v1.4h-1.4zM85 7h1.4v1.4h-1.4zM169 96h1.4v1.4h-1.4zM59 61h1.4v1.4h-1.4zM110 88h1.4v1.4h-1.4zM71 86h1.4v1.4h-1.4zM160 72h1.4v1.4h-1.4zM10 50h1.4v1.4h-1.4zM84 97h1.4v1.4h-1.4zM84 29h1.4v1.4h-1.4zM38 79h1.4v1.4h-1.4zM20 52h1.4v1.4h-1.4zM106 105h1.4v1.4h-1.4zM72 47h1.4v1.4h-1.4zM139 32h1.4v1.4h-1.4zM121 40h1.4v1.4h-1.4zM74 23h1.4v1.4h-1.4zM70 46h1.4v1.4h-1.4zM89 28h1.4v1.4h-1.4zM52 18h1.4v1.4h-1.4zM95 46h1.4v1.4h-1.4zM43 19h1.4v1.4h-1.4zM142 18h1.4v1.4h-1.4zM109 36h1.4v1.4h-1.4zM149 40h1.4v1.4h-1.4zM76 85h1.4v1.4h-1.4zM174 89h1.4v1.4h-1.4zM136 54h1.4v1.4h-1.4zM85 102h1.4v1.4h-1.4zM67 45h1.4v1.4h-1.4zM137 60h1.4v1.4h-1.4zM165 82h1.4v1.4h-1.4zM140 102h1.4v1.4h-1.4zM105 97h1.4v1.4h-1.4zM107 99h1.4v1.4h-1.4zM102 38h1.4v1.4h-1.4zM88 31h1.4v1.4h-1.4zM61 81h1.4v1.4h-1.4zM80 57h1.4v1.4h-1.4zM138 45h1.4v1.4h-1.4zM113 100h1.4v1.4h-1.4zM169 76h1.4v1.4h-1.4zM86 94h1.4v1.4h-1.4zM194 78h1.4v1.4h-1.4zM133 103h1.4v1.4h-1.4zM33 67h1.4v1.4h-1.4zM63 58h1.4v1.4h-1.4zM24 56h1.4v1.4h-1.4zM117 30h1.4v1.4h-1.4zM95 61h1.4v1.4h-1.4zM125 31h1.4v1.4h-1.4zM183 84h1.4v1.4h-1.4zM119 55h1.4v1.4h-1.4zM138 25h1.4v1.4h-1.4zM11 66h1.4v1.4h-1.4zM106 93h1.4v1.4h-1.4zM128 81h1.4v1.4h-1.4zM134 44h1.4v1.4h-1.4zM146 19h1.4v1.4h-1.4zM194 68h1.4v1.4h-1.4zM88 74h1.4v1.4h-1.4zM88 33h1.4v1.4h-1.4zM126 106h1.4v1.4h-1.4zM118 98h1.4v1.4h-1.4zM186 83h1.4v1.4h-1.4zM113 51h1.4v1.4h-1.4zM163 64h1.4v1.4h-1.4zM166 62h1.4v1.4h-1.4zM44 57h1.4v1.4h-1.4zM99 45h1.4v1.4h-1.4zM112 66h1.4v1.4h-1.4zM31 38h1.4v1.4h-1.4zM148 67h1.4v1.4h-1.4zM79 37h1.4v1.4h-1.4zM42 74h1.4v1.4h-1.4zM128 78h1.4v1.4h-1.4zM54 50h1.4v1.4h-1.4zM96 71h1.4v1.4h-1.4zM100 99h1.4v1.4h-1.4zM60 76h1.4v1.4h-1.4zM164 80h1.4v1.4h-1.4zM119 32h1.4v1.4h-1.4zM67 17h1.4v1.4h-1.4zM25 77h1.4v1.4h-1.4zM127 39h1.4v1.4h-1.4zM125 18h1.4v1.4h-1.4zM166 93h1.4v1.4h-1.4zM65 18h1.4v1.4h-1.4zM154 104h1.4v1.4h-1.4zM87 82h1.4v1.4h-1.4zM88 25h1.4v1.4h-1.4zM122 43h1.4v1.4h-1.4zM169 90h1.4v1.4h-1.4zM42 23h1.4v1.4h-1.4zM115 98h1.4v1.4h-1.4zM119 28h1.4v1.4h-1.4zM103 73h1.4v1.4h-1.4zM22 36h1.4v1.4h-1.4zM152 71h1.4v1.4h-1.4zM176 81h1.4v1.4h-1.4zM58 30h1.4v1.4h-1.4zM77 14h1.4v1.4h-1.4zM99 92h1.4v1.4h-1.4zM149 89h1.4v1.4h-1.4zM17 39h1.4v1.4h-1.4zM78 61h1.4v1.4h-1.4zM112 50h1.4v1.4h-1.4zM95 98h1.4v1.4h-1.4zM117 76h1.4v1.4h-1.4zM59 72h1.4v1.4h-1.4zM91 25h1.4v1.4h-1.4zM87 73h1.4v1.4h-1.4zM139 52h1.4v1.4h-1.4zM139 26h1.4v1.4h-1.4zM73 90h1.4v1.4h-1.4zM65 6h1.4v1.4h-1.4zM103 41h1.4v1.4h-1.4zM150 80h1.4v1.4h-1.4zM131 60h1.4v1.4h-1.4zM54 61h1.4v1.4h-1.4zM89 56h1.4v1.4h-1.4zM163 52h1.4v1.4h-1.4zM86 96h1.4v1.4h-1.4zM49 85h1.4v1.4h-1.4zM145 26h1.4v1.4h-1.4zM37 23h1.4v1.4h-1.4zM113 26h1.4v1.4h-1.4zM93 33h1.4v1.4h-1.4zM97 24h1.4v1.4h-1.4zM103 78h1.4v1.4h-1.4zM73 23h1.4v1.4h-1.4zM142 78h1.4v1.4h-1.4zM71 65h1.4v1.4h-1.4zM117 45h1.4v1.4h-1.4zM90 48h1.4v1.4h-1.4zM79 48h1.4v1.4h-1.4zM158 69h1.4v1.4h-1.4zM179 99h1.4v1.4h-1.4zM63 27h1.4v1.4h-1.4zM105 100h1.4v1.4h-1.4zM27 41h1.4v1.4h-1.4zM99 11h1.4v1.4h-1.4zM174 94h1.4v1.4h-1.4zM64 87h1.4v1.4h-1.4zM128 37h1.4v1.4h-1.4zM75 90h1.4v1.4h-1.4zM151 70h1.4v1.4h-1.4zM170 90h1.4v1.4h-1.4zM114 28h1.4v1.4h-1.4zM91 86h1.4v1.4h-1.4zM130 100h1.4v1.4h-1.4zM96 20h1.4v1.4h-1.4zM155 85h1.4v1.4h-1.4zM44 51h1.4v1.4h-1.4zM108 56h1.4v1.4h-1.4zM113 62h1.4v1.4h-1.4zM75 60h1.4v1.4h-1.4zM180 72h1.4v1.4h-1.4zM84 43h1.4v1.4h-1.4zM44 49h1.4v1.4h-1.4zM72 42h1.4v1.4h-1.4zM4 56h1.4v1.4h-1.4zM75 27h1.4v1.4h-1.4zM171 75h1.4v1.4h-1.4zM183 79h1.4v1.4h-1.4zM110 70h1.4v1.4h-1.4zM49 67h1.4v1.4h-1.4zM55 70h1.4v1.4h-1.4zM21 66h1.4v1.4h-1.4zM28 67h1.4v1.4h-1.4zM59 87h1.4v1.4h-1.4zM64 30h1.4v1.4h-1.4zM147 93h1.4v1.4h-1.4zM168 67h1.4v1.4h-1.4zM20 45h1.4v1.4h-1.4zM37 78h1.4v1.4h-1.4zM138 68h1.4v1.4h-1.4zM170 84h1.4v1.4h-1.4zM173 58h1.4v1.4h-1.4zM82 95h1.4v1.4h-1.4zM76 32h1.4v1.4h-1.4zM35 84h1.4v1.4h-1.4zM50 21h1.4v1.4h-1.4zM141 78h1.4v1.4h-1.4zM58 86h1.4v1.4h-1.4zM133 50h1.4v1.4h-1.4zM186 73h1.4v1.4h-1.4zM142 67h1.4v1.4h-1.4zM57 69h1.4v1.4h-1.4zM138 102h1.4v1.4h-1.4zM83 56h1.4v1.4h-1.4zM76 23h1.4v1.4h-1.4zM21 38h1.4v1.4h-1.4zM175 101h1.4v1.4h-1.4zM139 43h1.4v1.4h-1.4zM99 75h1.4v1.4h-1.4zM122 104h1.4v1.4h-1.4zM85 52h1.4v1.4h-1.4zM171 95h1.4v1.4h-1.4zM163 65h1.4v1.4h-1.4zM11 57h1.4v1.4h-1.4zM153 52h1.4v1.4h-1.4zM120 90h1.4v1.4h-1.4zM52 58h1.4v1.4h-1.4zM124 76h1.4v1.4h-1.4zM166 97h1.4v1.4h-1.4zM96 46h1.4v1.4h-1.4zM150 95h1.4v1.4h-1.4zM72 29h1.4v1.4h-1.4zM67 74h1.4v1.4h-1.4zM87 38h1.4v1.4h-1.4zM113 55h1.4v1.4h-1.4zM132 56h1.4v1.4h-1.4zM97 100h1.4v1.4h-1.4zM125 13h1.4v1.4h-1.4zM98 40h1.4v1.4h-1.4zM80 13h1.4v1.4h-1.4zM90 33h1.4v1.4h-1.4zM50 89h1.4v1.4h-1.4zM63 49h1.4v1.4h-1.4zM122 18h1.4v1.4h-1.4zM110 85h1.4v1.4h-1.4zM118 77h1.4v1.4h-1.4zM104 104h1.4v1.4h-1.4zM89 30h1.4v1.4h-1.4zM144 82h1.4v1.4h-1.4zM133 73h1.4v1.4h-1.4zM170 71h1.4v1.4h-1.4zM194 84h1.4v1.4h-1.4zM137 97h1.4v1.4h-1.4zM95 3h1.4v1.4h-1.4zM63 69h1.4v1.4h-1.4zM131 25h1.4v1.4h-1.4zM41 88h1.4v1.4h-1.4zM48 61h1.4v1.4h-1.4zM90 36h1.4v1.4h-1.4zM121 37h1.4v1.4h-1.4zM29 35h1.4v1.4h-1.4zM155 84h1.4v1.4h-1.4zM40 68h1.4v1.4h-1.4zM111 34h1.4v1.4h-1.4zM185 83h1.4v1.4h-1.4zM120 36h1.4v1.4h-1.4zM117 84h1.4v1.4h-1.4zM101 72h1.4v1.4h-1.4zM186 82h1.4v1.4h-1.4zM88 78h1.4v1.4h-1.4zM158 58h1.4v1.4h-1.4zM168 73h1.4v1.4h-1.4zM157 102h1.4v1.4h-1.4zM56 43h1.4v1.4h-1.4zM105 74h1.4v1.4h-1.4zM144 108h1.4v1.4h-1.4zM135 98h1.4v1.4h-1.4zM17 56h1.4v1.4h-1.4zM133 107h1.4v1.4h-1.4zM57 96h1.4v1.4h-1.4zM113 100h1.4v1.4h-1.4zM74 35h1.4v1.4h-1.4zM171 67h1.4v1.4h-1.4zM130 67h1.4v1.4h-1.4zM125 7h1.4v1.4h-1.4zM192 102h1.4v1.4h-1.4zM110 35h1.4v1.4h-1.4zM149 88h1.4v1.4h-1.4zM170 63h1.4v1.4h-1.4zM158 106h1.4v1.4h-1.4zM141 46h1.4v1.4h-1.4zM29 29h1.4v1.4h-1.4zM109 105h1.4v1.4h-1.4zM22 67h1.4v1.4h-1.4zM87 84h1.4v1.4h-1.4zM66 6h1.4v1.4h-1.4zM72 76h1.4v1.4h-1.4zM25 46h1.4v1.4h-1.4zM89 8h1.4v1.4h-1.4zM137 37h1.4v1.4h-1.4zM93 95h1.4v1.4h-1.4zM73 56h1.4v1.4h-1.4zM100 47h1.4v1.4h-1.4zM178 86h1.4v1.4h-1.4zM157 81h1.4v1.4h-1.4zM75 55h1.4v1.4h-1.4zM87 43h1.4v1.4h-1.4zM153 35h1.4v1.4h-1.4zM82 14h1.4v1.4h-1.4zM43 45h1.4v1.4h-1.4zM129 56h1.4v1.4h-1.4zM66 75h1.4v1.4h-1.4zM46 48h1.4v1.4h-1.4zM87 94h1.4v1.4h-1.4zM160 106h1.4v1.4h-1.4zM92 51h1.4v1.4h-1.4zM62 89h1.4v1.4h-1.4zM133 101h1.4v1.4h-1.4zM124 57h1.4v1.4h-1.4zM91 37h1.4v1.4h-1.4zM168 71h1.4v1.4h-1.4zM71 16h1.4v1.4h-1.4zM46 18h1.4v1.4h-1.4zM131 36h1.4v1.4h-1.4zM161 71h1.4v1.4h-1.4zM31 40h1.4v1.4h-1.4zM166 82h1.4v1.4h-1.4zM86 104h1.4v1.4h-1.4zM121 77h1.4v1.4h-1.4zM64 18h1.4v1.4h-1.4zM149 44h1.4v1.4h-1.4zM91 68h1.4v1.4h-1.4zM155 100h1.4v1.4h-1.4zM179 105h1.4v1.4h-1.4zM125 88h1.4v1.4h-1.4zM8 54h1.4v1.4h-1.4zM83 15h1.4v1.4h-1.4zM102 37h1.4v1.4h-1.4zM66 11h1.4v1.4h-1.4zM123 17h1.4v1.4h-1.4zM124 42h1.4v1.4h-1.4zM44 46h1.4v1.4h-1.4zM16 48h1.4v1.4h-1.4zM8 45h1.4v1.4h-1.4zM175 100h1.4v1.4h-1.4zM92 7h1.4v1.4h-1.4zM118 4h1.4v1.4h-1.4zM97 55h1.4v1.4h-1.4zM110 63h1.4v1.4h-1.4zM123 45h1.4v1.4h-1.4zM70 87h1.4v1.4h-1.4zM30 62h1.4v1.4h-1.4zM191 74h1.4v1.4h-1.4zM3 48h1.4v1.4h-1.4zM136 56h1.4v1.4h-1.4zM73 22h1.4v1.4h-1.4zM38 56h1.4v1.4h-1.4zM143 17h1.4v1.4h-1.4zM127 63h1.4v1.4h-1.4zM85 4h1.4v1.4h-1.4zM80 95h1.4v1.4h-1.4zM36 79h1.4v1.4h-1.4zM137 61h1.4v1.4h-1.4zM120 16h1.4v1.4h-1.4zM71 78h1.4v1.4h-1.4zM131 40h1.4v1.4h-1.4zM37 55h1.4v1.4h-1.4zM62 22h1.4v1.4h-1.4zM44 36h1.4v1.4h-1.4zM126 49h1.4v1.4h-1.4zM41 55h1.4v1.4h-1.4zM65 32h1.4v1.4h-1.4zM29 79h1.4v1.4h-1.4zM66 74h1.4v1.4h-1.4zM65 58h1.4v1.4h-1.4zM151 78h1.4v1.4h-1.4zM91 76h1.4v1.4h-1.4zM39 83h1.4v1.4h-1.4zM40 42h1.4v1.4h-1.4zM134 34h1.4v1.4h-1.4zM60 56h1.4v1.4h-1.4zM127 43h1.4v1.4h-1.4zM151 62h1.4v1.4h-1.4zM94 43h1.4v1.4h-1.4zM78 93h1.4v1.4h-1.4zM133 28h1.4v1.4h-1.4zM114 23h1.4v1.4h-1.4zM34 26h1.4v1.4h-1.4zM7 57h1.4v1.4h-1.4zM104 15h1.4v1.4h-1.4zM79 100h1.4v1.4h-1.4zM174 74h1.4v1.4h-1.4zM106 16h1.4v1.4h-1.4zM61 30h1.4v1.4h-1.4zM147 80h1.4v1.4h-1.4zM152 38h1.4v1.4h-1.4zM66 61h1.4v1.4h-1.4zM126 8h1.4v1.4h-1.4zM165 103h1.4v1.4h-1.4zM32 39h1.4v1.4h-1.4zM87 82h1.4v1.4h-1.4zM169 67h1.4v1.4h-1.4zM129 35h1.4v1.4h-1.4zM90 105h1.4v1.4h-1.4zM150 53h1.4v1.4h-1.4zM171 105h1.4v1.4h-1.4zM29 76h1.4v1.4h-1.4zM181 66h1.4v1.4h-1.4zM136 52h1.4v1.4h-1.4zM95 88h1.4v1.4h-1.4zM125 90h1.4v1.4h-1.4zM36 51h1.4v1.4h-1.4zM55 66h1.4v1.4h-1.4zM34 51h1.4v1.4h-1.4zM45 39h1.4v1.4h-1.4zM91 11h1.4v1.4h-1.4zM156 78h1.4v1.4h-1.4zM109 92h1.4v1.4h-1.4zM106 29h1.4v1.4h-1.4zM129 75h1.4v1.4h-1.4zM155 101h1.4v1.4h-1.4zM93 79h1.4v1.4h-1.4zM62 30h1.4v1.4h-1.4zM22 57h1.4v1.4h-1.4zM141 27h1.4v1.4h-1.4zM144 28h1.4v1.4h-1.4zM77 77h1.4v1.4h-1.4zM116 50h1.4v1.4h-1.4zM160 71h1.4v1.4h-1.4zM89 58h1.4v1.4h-1.4zM110 59h1.4v1.4h-1.4zM36 40h1.4v1.4h-1.4zM129 95h1.4v1.4h-1.4zM123 84h1.4v1.4h-1.4zM113 21h1.4v1.4h-1.4zM122 5h1.4v1.4h-1.4zM116 67h1.4v1.4h-1.4zM38 79h1.4v1.4h-1.4zM182 74h1.4v1.4h-1.4zM101 21h1.4v1.4h-1.4zM133 106h1.4v1.4h-1.4zM43 80h1.4v1.4h-1.4zM135 67h1.4v1.4h-1.4zM191 80h1.4v1.4h-1.4zM67 95h1.4v1.4h-1.4zM80 35h1.4v1.4h-1.4zM156 102h1.4v1.4h-1.4zM190 93h1.4v1.4h-1.4zM65 21h1.4v1.4h-1.4zM26 80h1.4v1.4h-1.4zM106 49h1.4v1.4h-1.4zM108 35h1.4v1.4h-1.4zM132 63h1.4v1.4h-1.4zM182 76h1.4v1.4h-1.4zM122 58h1.4v1.4h-1.4zM50 39h1.4v1.4h-1.4zM60 98h1.4v1.4h-1.4zM61 35h1.4v1.4h-1.4zM122 11h1.4v1.4h-1.4zM111 59h1.4v1.4h-1.4zM64 31h1.4v1.4h-1.4zM128 37h1.4v1.4h-1.4zM48 15h1.4v1.4h-1.4zM157 93h1.4v1.4h-1.4zM50 59h1.4v1.4h-1.4zM162 98h1.4v1.4h-1.4zM71 65h1.4v1.4h-1.4zM169 63h1.4v1.4h-1.4zM108 37h1.4v1.4h-1.4zM128 70h1.4v1.4h-1.4zM114 12h1.4v1.4h-1.4zM156 91h1.4v1.4h-1.4zM47 16h1.4v1.4h-1.4zM47 22h1.4v1.4h-1.4zM48 38h1.4v1.4h-1.4zM38 72h1.4v1.4h-1.4zM91 65h1.4v1.4h-1.4zM37 49h1.4v1.4h-1.4zM134 39h1.4v1.4h-1.4zM119 41h1.4v1.4h-1.4zM97 6h1.4v1.4h-1.4zM106 59h1.4v1.4h-1.4zM50 66h1.4v1.4h-1.4zM191 77h1.4v1.4h-1.4zM95 41h1.4v1.4h-1.4zM106 58h1.4v1.4h-1.4zM133 62h1.4v1.4h-1.4zM144 26h1.4v1.4h-1.4zM54 21h1.4v1.4h-1.4zM100 75h1.4v1.4h-1.4zM135 14h1.4v1.4h-1.4zM109 78h1.4v1.4h-1.4zM78 59h1.4v1.4h-1.4zM194 67h1.4v1.4h-1.4zM118 74h1.4v1.4h-1.4zM89 105h1.4v1.4h-1.4zM107 35h1.4v1.4h-1.4zM65 44h1.4v1.4h-1.4zM137 87h1.4v1.4h-1.4zM40 75h1.4v1.4h-1.4zM47 20h1.4v1.4h-1.4zM131 88h1.4v1.4h-1.4zM31 49h1.4v1.4h-1.4zM131 73h1.4v1.4h-1.4zM49 91h1.4v1.4h-1.4zM84 90h1.4v1.4h-1.4zM111 70h1.4v1.4h-1.4zM48 80h1.4v1.4h-1.4zM110 48h1.4v1.4h-1.4zM111 91h1.4v1.4h-1.4zM139 100h1.4v1.4h-1.4zM107 12h1.4v1.4h-1.4zM140 105h1.4v1.4h-1.4zM173 82h1.4v1.4h-1.4zM88 46h1.4v1.4h-1.4zM129 46h1.4v1.4h-1.4zM117 51h1.4v1.4h-1.4zM84 55h1.4v1.4h-1.4zM95 45h1.4v1.4h-1.4zM34 23h1.4v1.4h-1.4zM73 84h1.4v1.4h-1.4zM71 61h1.4v1.4h-1.4zM192 88h1.4v1.4h-1.4zM147 22h1.4v1.4h-1.4zM50 14h1.4v1.4h-1.4zM82 40h1.4v1.4h-1.4zM118 14h1.4v1.4h-1.4zM134 95h1.4v1.4h-1.4zM159 53h1.4v1.4h-1.4zM176 58h1.4v1.4h-1.4zM145 61h1.4v1.4h-1.4zM64 42h1.4v1.4h-1.4zM27 69h1.4v1.4h-1.4zM17 42h1.4v1.4h-1.4zM46 80h1.4v1.4h-1.4zM150 51h1.4v1.4h-1.4zM141 59h1.4v1.4h-1.4zM98 40h1.4v1.4h-1.4zM66 53h1.4v1.4h-1.4zM104 107h1.4v1.4h-1.4zM193 79h1.4v1.4h-1.4zM43 51h1.4v1.4h-1.4zM160 102h1.4v1.4h-1.4zM171 98h1.4v1.4h-1.4zM93 25h1.4v1.4h-1.4zM186 79h1.4v1.4h-1.4zM136 60h1.4v1.4h-1.4zM100 60h1.4v1.4h-1.4zM92 86h1.4v1.4h-1.4zM92 69h1.4v1.4h-1.4zM181 87h1.4v1.4h-1.4zM47 88h1.4v1.4h-1.4zM78 76h1.4v1.4h-1.4zM65 48h1.4v1.4h-1.4zM133 24h1.4v1.4h-1.4zM121 23h1.4v1.4h-1.4zM47 66h1.4v1.4h-1.4zM58 47h1.4v1.4h-1.4zM27 33h1.4v1.4h-1.4zM49 37h1.4v1.4h-1.4zM23 65h1.4v1.4h-1.4zM105 82h1.4v1.4h-1.4zM154 59h1.4v1.4h-1.4zM169 77h1.4v1.4h-1.4zM109 82h1.4v1.4h-1.4zM83 10h1.4v1.4h-1.4zM188 84h1.4v1.4h-1.4zM119 41h1.4v1.4h-1.4zM46 29h1.4v1.4h-1.4zM135 106h1.4v1.4h-1.4zM170 91h1.4v1.4h-1.4zM77 59h1.4v1.4h-1.4zM54 73h1.4v1.4h-1.4zM106 35h1.4v1.4h-1.4zM144 49h1.4v1.4h-1.4zM187 68h1.4v1.4h-1.4zM85 51h1.4v1.4h-1.4zM92 17h1.4v1.4h-1.4zM165 57h1.4v1.4h-1.4zM128 88h1.4v1.4h-1.4zM101 78h1.4v1.4h-1.4zM53 21h1.4v1.4h-1.4zM189 84h1.4v1.4h-1.4zM19 74h1.4v1.4h-1.4zM77 52h1.4v1.4h-1.4zM182 93h1.4v1.4h-1.4zM39 64h1.4v1.4h-1.4zM117 64h1.4v1.4h-1.4zM133 106h1.4v1.4h-1.4zM109 27h1.4v1.4h-1.4zM124 1h1.4v1.4h-1.4zM74 98h1.4v1.4h-1.4zM67 43h1.4v1.4h-1.4zM175 77h1.4v1.4h-1.4zM74 22h1.4v1.4h-1.4zM110 13h1.4v1.4h-1.4zM24 52h1.4v1.4h-1.4zM188 104h1.4v1.4h-1.4zM115 64h1.4v1.4h-1.4zM83 77h1.4v1.4h-1.4zM47 26h1.4v1.4h-1.4zM135 82h1.4v1.4h-1.4z" fill="#606060"/><rect x="178.3" y="57.8" width="5.6" height="29.8" fill="#1f9e8e"/><polygon points="175.5,57.8 186.7,57.8 181.1,49.9" fill="#1f9e8e"/><rect x="150.5" y="81.8" width="5.6" height="29.8" fill="#f26b5b"/><polygon points="147.7,81.8 158.9,81.8 153.3,74.0" fill="#f26b5b"/><rect x="49.2" y="52.2" width="5.6" height="29.8" fill="#1f9e8e"/><polygon points="46.4,52.2 57.6,52.2 52.0,44.4" fill="#1f9e8e"/><rect x="111.8" y="0.9" width="5.6" height="29.8" fill="#f26b5b"/><polygon points="109.0,0.9 120.2,0.9 114.6,-6.9" fill="#f26b5b"/><rect x="38.9" y="17.2" width="5.6" height="29.8" fill="#1f9e8e"/><polygon points="36.1,17.2 47.3,17.2 41.7,9.3" fill="#1f9e8e"/><rect x="82.7" y="51.3" width="5.6" height="29.8" fill="#f26b5b"/><polygon points="79.9,51.3 91.1,51.3 85.5,43.5" fill="#f26b5b"/><rect x="117.1" y="31.5" width="5.6" height="29.8" fill="#1f9e8e"/><polygon points="114.3,31.5 125.5,31.5 119.9,23.7" fill="#1f9e8e"/><rect x="74.8" y="6.3" width="5.6" height="29.8" fill="#f26b5b"/><polygon points="72.0,6.3 83.2,6.3 77.6,-1.6" fill="#f26b5b"/><rect x="78.2" y="75.5" width="5.6" height="29.8" fill="#1f9e8e"/><polygon points="75.4,75.5 86.6,75.5 81.0,67.6" fill="#1f9e8e"/><rect x="119.0" y="60.9" width="5.6" height="29.8" fill="#f26b5b"/><polygon points="116.2,60.9 127.4,60.9 121.8,53.1" fill="#f26b5b"/><rect x="13.8" y="36.6" width="5.6" height="29.8" fill="#1f9e8e"/><polygon points="11.0,36.6 22.2,36.6 16.6,28.7" fill="#1f9e8e"/><rect x="153.3" y="42.1" width="5.6" height="29.8" fill="#f26b5b"/><polygon points="150.5,42.1 161.7,42.1 156.1,34.2" fill="#f26b5b"/><rect x="116.4" y="83.4" width="5.6" height="29.8" fill="#1f9e8e"/><polygon points="113.6,83.4 124.8,83.4 119.2,75.6" fill="#1f9e8e"/><rect x="85.4" y="28.6" width="5.6" height="29.8" fill="#f26b5b"/><polygon points="82.6,28.6 93.8,28.6 88.2,20.8" fill="#f26b5b"/></svg>
<svg class="a" style="left:2798px;top:2102px;" width="57" height="26" viewBox="0 0 57 26"><g stroke="#777" stroke-width="5" stroke-linecap="round" stroke-linejoin="round" fill="none"><path d="M13.0,13.0 L41.0,13.0"/><path d="M35.0,19.3 L44.0,13.0 L35.0,6.7"/></g></svg>
<svg class="a" style="left:3043px;top:2102px;" width="59" height="26" viewBox="0 0 59 26"><g stroke="#777" stroke-width="5" stroke-linecap="round" stroke-linejoin="round" fill="none"><path d="M13.0,13.0 L43.0,13.0"/><path d="M37.0,19.3 L46.0,13.0 L37.0,6.7"/></g></svg>
<div class="t" id="f85" style="top:2214.7px;font-size:31.5px;font-weight:700;letter-spacing:0.154px;left:2764px;">Extrusion Optimization</div>
<div class="a" style="left:3176px;top:2196px;width:104px;height:49px;background:#fff;border:1.5px solid #aaa;"></div>
<div class="t" style="top:2201.5px;font-size:40px;font-family:'Liberation Serif', 'Times New Roman', serif;left:3184px;">{<b>e</b><i style="font-size:26px;position:relative;top:7px">j</i>}<i style="font-size:26px;position:relative;top:-15px;left:2px">n<span style="font-size:17px">s</span></i><span style="font-size:26px;position:relative;top:7px;left:-18px">1</span></div>
<div class="a" style="left:2602px;top:2300px;width:729px;height:176px;background:transparent;border:2px dashed #888;border-radius:0px;"></div>
<div class="a" style="left:2678px;top:2352px;width:297px;height:64px;background:#fff;border:1.5px solid #aaa;"></div>
<div class="t" style="top:2365.2px;font-size:38px;font-family:'Liberation Serif', 'Times New Roman', serif;left:2688px;"><b>C</b> = {(<i>&#119974;</i><i style="font-size:24px;position:relative;top:7px">j</i>, <b>e</b><i style="font-size:24px;position:relative;top:7px">j</i>)}<i style="font-size:24px;position:relative;top:-16px">n<span style="font-size:16px">s</span></i><span style="font-size:24px;position:relative;top:7px;left:-20px"><i>j</i>=1</span></div>
<svg class="a" style="left:2991px;top:2376px;" width="60" height="26" viewBox="0 0 60 26"><g stroke="#777" stroke-width="5" stroke-linecap="round" stroke-linejoin="round" fill="none"><path d="M13.0,13.0 L44.0,13.0"/><path d="M38.0,19.3 L47.0,13.0 L38.0,6.7"/></g></svg>
<svg class="a" style="left:3097px;top:2324px;overflow:visible;" width="160" height="78" viewBox="15.5 46.5 177 100.2" preserveAspectRatio="none"><defs><linearGradient id="scsblack12" x1="0" x2="1"><stop offset="0" stop-color="#1a1a1a"/><stop offset="0.6" stop-color="#333"/><stop offset="1" stop-color="#1a1a1a"/></linearGradient><linearGradient id="shsblack12" x1="0" x2="1"><stop offset="0" stop-color="#141414"/><stop offset="0.5" stop-color="#3a3a3a"/><stop offset="1" stop-color="#141414"/></linearGradient></defs><path d="M15.5,119.5 L19.4,108.7 L51.2,95.5 L155.2,75.3 L181.6,74.5 L192.5,83.8 L192.5,100.9 L140,133 Q120,146.7 100.9,146.7 L21.7,138.9 Z" fill="#1c1c1c"/><path d="M15.5,119.5 L19.4,108.7 L51.2,95.5 L155.2,75.3 L181.6,74.5 L192.5,83.8 L142,113 L84,124 Z" fill="#2e2e2e"/><ellipse cx="35.7" cy="110.2" rx="8" ry="4.5" fill="#141414"/><ellipse cx="172.3" cy="81.5" rx="8.5" ry="4" fill="#141414"/><path d="M46.6,66.7 L46.6,110 A54,20.2 0 0 0 154.6,110 L154.6,66.7 Z" fill="url(#scsblack12)"/><ellipse cx="100.6" cy="66.7" rx="54" ry="20.2" fill="#2c2c2c"/><ellipse cx="99.3" cy="64.8" rx="31" ry="12" fill="url(#shsblack12)"/></svg>
<div class="t" id="f86" style="top:2409.4px;font-size:35px;letter-spacing:-0.972px;left:3055px;">CAD Model&nbsp; <b style="font-family:'Liberation Serif',serif">C</b></div>
<div class="a" style="left:1771px;top:2208px;width:777px;height:266px;background:transparent;border:2px dashed #888;border-radius:0px;"></div>
<div class="t" id="f87" style="top:2222.6px;font-size:24.5px;letter-spacing:-0.390px;left:1792px;">(1) Sampled anchor points</div>
<div class="t" id="f88" style="top:2222.6px;font-size:24.5px;letter-spacing:-0.275px;left:2166px;">(3) Point to vector distance</div>
<div class="t" id="f89" style="top:2340.0px;font-size:24.5px;letter-spacing:-0.327px;left:1796px;">(2) Learnable extrusion vector</div>
<div class="t" id="f90" style="top:2342.0px;font-size:24.5px;letter-spacing:-0.790px;left:2171px;">(4) Extrusion Loss</div>
<div class="t" style="top:2261.9px;font-size:36px;font-family:'Liberation Serif', 'Times New Roman', serif;left:1840px;">{<b>r</b><i style="font-size:24px;position:relative;top:8px">k</i>}<i style="font-size:24px;position:relative;top:-14px">n<span style="font-size:16px">r</span></i><i style="font-size:24px;position:relative;top:8px;left:-22px">k</i><span style="font-size:24px;position:relative;top:8px;left:-22px">=1</span> &#8712; &#8477;<span style="font-size:22px;position:relative;top:-16px">3</span></div>
<div class="t" style="top:2257.1px;font-size:25px;font-family:'Liberation Serif', 'Times New Roman', serif;left:2173px;"><i>&#961;</i><span style="font-size:16px">min</span> := arg min<i style="font-size:16px">u</i> &nbsp;<i>d</i>(<b>q</b><i style="font-size:16px">l</i>, <i>&#961;<span style="font-size:16px">u</span></i>)</div>
<div class="t" id="f91" style="top:2309.2px;font-size:17px;color:#666;letter-spacing:-0.630px;left:2277px;">Sampled points</div>
<div class="t" id="f92" style="top:2309.2px;font-size:17px;color:#666;letter-spacing:-0.649px;left:2416px;">Extrusion vectors</div>
<div class="t" id="f93" style="top:2444.2px;font-size:17px;color:#666;letter-spacing:-0.495px;left:1796px;">Learnable extrusion height</div>
<div class="t" id="f94" style="top:2444.2px;font-size:17px;color:#666;letter-spacing:-0.380px;left:2009px;">Extrusion direction</div>
<div class="t" style="top:2390.7px;font-size:23px;font-family:'Liberation Serif', 'Times New Roman', serif;left:1867px;"><b>F</b>(<b>r</b><i style="font-size:15px">k</i>, <i>h<span style="font-size:15px">j</span></i><b>v</b><i style="font-size:15px">j</i>) := <b>r</b><i style="font-size:15px">k</i> + <i>h<span style="font-size:15px">j</span></i><b>v</b><i style="font-size:15px">j</i> = <i>&#961;<span style="font-size:15px">k</span></i></div>
<div class="t" style="top:2402.4px;font-size:21px;font-family:'Liberation Serif', 'Times New Roman', serif;left:2196px;"><i>&#8466;</i><span style="font-size:13px">extr</span> = <span style="display:inline-block;text-align:center;vertical-align:middle;font-size:18px;line-height:1.1">1<br><span style="border-top:1px solid #000"><i>n<span style="font-size:12px">M</span></i></span></span> <span style="font-size:34px">&#8721;</span><i>d</i>(<b>q</b><i style="font-size:13px">l</i>, <i>&#961;</i><span style="font-size:13px">min</span>)<sup style="font-size:13px">2</sup> + <i>&#955;</i><span style="font-size:34px">&#8721;</span><i>h</i><sup style="font-size:13px">2</sup></div>
<svg class="a" style="left:1860px;top:2280px;" width="590" height="160" viewBox="0 0 590 160"><g transform="translate(-1860,-2280)"><g stroke="#777" stroke-width="2.5" stroke-linecap="round" stroke-linejoin="round" fill="none"><path d="M2385.0,2287.0 L2356.0,2301.0"/><path d="M2359.9,2294.0 L2356.0,2301.0 L2363.9,2302.3"/></g><g stroke="#777" stroke-width="2.5" stroke-linecap="round" stroke-linejoin="round" fill="none"><path d="M2405.0,2287.0 L2436.0,2301.0"/><path d="M2428.1,2302.5 L2436.0,2301.0 L2431.9,2294.1"/></g><g stroke="#777" stroke-width="2.5" stroke-linecap="round" stroke-linejoin="round" fill="none"><path d="M1905.0,2418.0 L1873.0,2433.0"/><path d="M1877.0,2426.1 L1873.0,2433.0 L1880.9,2434.4"/></g><g stroke="#777" stroke-width="2.5" stroke-linecap="round" stroke-linejoin="round" fill="none"><path d="M1963.0,2418.0 L2019.0,2434.0"/><path d="M2011.4,2436.6 L2019.0,2434.0 L2014.0,2427.8"/></g></g></svg>
<div class="t" id="f95" style="top:653.1px;font-size:40px;font-weight:700;letter-spacing:0.265px;left:3907px;">Comparison with state-of-the-art</div>
<div class="t" id="f96" style="top:1136.1px;font-size:40px;font-weight:700;letter-spacing:-0.459px;left:3766px;">Impact of Constraints in 3D Reverse Engineering</div>
<div class="t" id="f97" style="top:1806.1px;font-size:40px;font-weight:700;letter-spacing:-0.198px;left:3999px;">Additional Experiments</div>
<div class="t" id="f98" style="top:1018.7px;font-size:27.5px;letter-spacing:0.270px;left:3439px;">MiCADangelo achieves superior CAD reconstruction performance compared to the state-of-the-art.</div>
<div class="a" style="left:3419.8px;top:1030.8px;width:6.4px;height:6.4px;background:#000;border-radius:50%;"></div>
<div class="t" id="f99" style="top:1060.7px;font-size:27.5px;letter-spacing:0.223px;left:3439px;">Fine-grained geometric details are preserved while predicting fully parametric CAD models.</div>
<div class="a" style="left:3419.8px;top:1072.8px;width:6.4px;height:6.4px;background:#000;border-radius:50%;"></div>
<div class="t" id="f100" style="top:1646.3px;font-size:25px;letter-spacing:0.228px;left:3433px;">To demonstrate the importance of constraint modeling in 3D CAD reconstruction, we analyze how CAD reconstructions produced by</div>
<div class="a" style="left:3413.8px;top:1656.3px;width:6.4px;height:6.4px;background:#000;border-radius:50%;"></div>
<div class="t" id="f101" style="top:1684.4px;font-size:25px;letter-spacing:0.266px;left:3433px;">MiCADAngelo and prior methods respond to modifications of the parametric sketches.</div>
<div class="t" id="f102" style="top:1722.8px;font-size:25px;letter-spacing:0.284px;left:3433px;">Edits in our method result in modified CAD models that retain structural consistency due to the predicted constraints.</div>
<div class="a" style="left:3413.8px;top:1732.8px;width:6.4px;height:6.4px;background:#000;border-radius:50%;"></div>
<div class="t" id="f103" style="top:2299.7px;font-size:21px;letter-spacing:0.178px;left:3420px;">[1] Wu, Rundi, Chang Xiao, and Changxi Zheng. "Deepcad: A deep generative network for computer-aided design models." In ICCV, 2021.</div>
<div class="t" id="f104" style="top:2328.6px;font-size:21px;letter-spacing:0.207px;left:3420px;">[2] Uy et al. "Point2cyl: Reverse engineering 3d objects from point clouds to extrusion cylinders." In CVPR 2022.</div>
<div class="t" id="f105" style="top:2357.5px;font-size:21px;letter-spacing:0.174px;left:3420px;">[3] Ma et al. "Draw Step by Step: Reconstructing CAD Construction Sequences from Point Clouds via Multimodal Diffusion." In CVPR 2024.</div>
<div class="t" id="f106" style="top:2386.4px;font-size:21px;letter-spacing:0.199px;left:3420px;">[4] Khan et al. "Cad-signet: Cad language inference from point clouds using layer-wise sketch instance guided attention." In CVPR 2024.</div>
<div class="t" id="f107" style="top:2415.3px;font-size:21px;letter-spacing:0.262px;left:3420px;">[5] Seff, Ari, et al. “SketchGraphs: A large-scale dataset for modeling relational geometry in computer-aided design.” In ICMLW 2020.</div>
<div class="t" id="f108" style="top:2444.2px;font-size:21px;letter-spacing:0.219px;left:3420px;">[6] Karadeniz et al. "Davinci: A single-stage architecture for constrained cad sketch inference." In BMVC 2024.</div>
<div class="t" id="f109" style="top:2239.3px;font-size:25px;letter-spacing:0.624px;left:4842px;">Project Page</div>
<svg class="a" style="left:4823.2px;top:2280.2px;" width="188.92000000000002" height="188.92000000000002" viewBox="0 0 188.92000000000002 188.92000000000002"><path d="M0.00 0.00h45.36v6.48h-45.36zM58.32 0.00h6.48v6.48h-6.48zM71.28 0.00h12.96v6.48h-12.96zM90.72 0.00h19.44v6.48h-19.44zM129.60 0.00h6.48v6.48h-6.48zM142.56 0.00h45.36v6.48h-45.36zM0.00 6.48h6.48v6.48h-6.48zM38.88 6.48h6.48v6.48h-6.48zM77.76 6.48h25.92v6.48h-25.92zM110.16 6.48h6.48v6.48h-6.48zM129.60 6.48h6.48v6.48h-6.48zM142.56 6.48h6.48v6.48h-6.48zM181.44 6.48h6.48v6.48h-6.48zM0.00 12.96h6.48v6.48h-6.48zM12.96 12.96h19.44v6.48h-19.44zM38.88 12.96h6.48v6.48h-6.48zM51.84 12.96h6.48v6.48h-6.48zM64.80 12.96h6.48v6.48h-6.48zM84.24 12.96h6.48v6.48h-6.48zM103.68 12.96h6.48v6.48h-6.48zM116.64 12.96h19.44v6.48h-19.44zM142.56 12.96h6.48v6.48h-6.48zM155.52 12.96h19.44v6.48h-19.44zM181.44 12.96h6.48v6.48h-6.48zM0.00 19.44h6.48v6.48h-6.48zM12.96 19.44h19.44v6.48h-19.44zM38.88 19.44h6.48v6.48h-6.48zM51.84 19.44h12.96v6.48h-12.96zM71.28 19.44h12.96v6.48h-12.96zM90.72 19.44h32.40v6.48h-32.40zM142.56 19.44h6.48v6.48h-6.48zM155.52 19.44h19.44v6.48h-19.44zM181.44 19.44h6.48v6.48h-6.48zM0.00 25.92h6.48v6.48h-6.48zM12.96 25.92h19.44v6.48h-19.44zM38.88 25.92h6.48v6.48h-6.48zM51.84 25.92h6.48v6.48h-6.48zM64.80 25.92h6.48v6.48h-6.48zM103.68 25.92h6.48v6.48h-6.48zM116.64 25.92h6.48v6.48h-6.48zM142.56 25.92h6.48v6.48h-6.48zM155.52 25.92h19.44v6.48h-19.44zM181.44 25.92h6.48v6.48h-6.48zM0.00 32.40h6.48v6.48h-6.48zM38.88 32.40h6.48v6.48h-6.48zM51.84 32.40h6.48v6.48h-6.48zM64.80 32.40h6.48v6.48h-6.48zM84.24 32.40h19.44v6.48h-19.44zM110.16 32.40h19.44v6.48h-19.44zM142.56 32.40h6.48v6.48h-6.48zM181.44 32.40h6.48v6.48h-6.48zM0.00 38.88h45.36v6.48h-45.36zM51.84 38.88h6.48v6.48h-6.48zM64.80 38.88h6.48v6.48h-6.48zM77.76 38.88h6.48v6.48h-6.48zM90.72 38.88h6.48v6.48h-6.48zM103.68 38.88h6.48v6.48h-6.48zM116.64 38.88h6.48v6.48h-6.48zM129.60 38.88h6.48v6.48h-6.48zM142.56 38.88h45.36v6.48h-45.36zM51.84 45.36h6.48v6.48h-6.48zM71.28 45.36h19.44v6.48h-19.44zM103.68 45.36h32.40v6.48h-32.40zM0.00 51.84h6.48v6.48h-6.48zM12.96 51.84h32.40v6.48h-32.40zM58.32 51.84h19.44v6.48h-19.44zM84.24 51.84h19.44v6.48h-19.44zM110.16 51.84h6.48v6.48h-6.48zM142.56 51.84h32.40v6.48h-32.40zM0.00 58.32h6.48v6.48h-6.48zM12.96 58.32h6.48v6.48h-6.48zM25.92 58.32h12.96v6.48h-12.96zM45.36 58.32h25.92v6.48h-25.92zM90.72 58.32h6.48v6.48h-6.48zM103.68 58.32h6.48v6.48h-6.48zM116.64 58.32h6.48v6.48h-6.48zM129.60 58.32h6.48v6.48h-6.48zM162.00 58.32h6.48v6.48h-6.48zM174.96 58.32h6.48v6.48h-6.48zM19.44 64.80h32.40v6.48h-32.40zM58.32 64.80h6.48v6.48h-6.48zM71.28 64.80h19.44v6.48h-19.44zM110.16 64.80h6.48v6.48h-6.48zM129.60 64.80h12.96v6.48h-12.96zM162.00 64.80h12.96v6.48h-12.96zM6.48 71.28h6.48v6.48h-6.48zM19.44 71.28h12.96v6.48h-12.96zM51.84 71.28h19.44v6.48h-19.44zM77.76 71.28h12.96v6.48h-12.96zM103.68 71.28h32.40v6.48h-32.40zM142.56 71.28h25.92v6.48h-25.92zM181.44 71.28h6.48v6.48h-6.48zM0.00 77.76h19.44v6.48h-19.44zM25.92 77.76h6.48v6.48h-6.48zM38.88 77.76h6.48v6.48h-6.48zM51.84 77.76h58.32v6.48h-58.32zM116.64 77.76h6.48v6.48h-6.48zM129.60 77.76h12.96v6.48h-12.96zM12.96 84.24h6.48v6.48h-6.48zM32.40 84.24h6.48v6.48h-6.48zM51.84 84.24h6.48v6.48h-6.48zM64.80 84.24h6.48v6.48h-6.48zM77.76 84.24h6.48v6.48h-6.48zM90.72 84.24h12.96v6.48h-12.96zM136.08 84.24h32.40v6.48h-32.40zM174.96 84.24h6.48v6.48h-6.48zM25.92 90.72h6.48v6.48h-6.48zM38.88 90.72h12.96v6.48h-12.96zM58.32 90.72h6.48v6.48h-6.48zM97.20 90.72h6.48v6.48h-6.48zM110.16 90.72h6.48v6.48h-6.48zM123.12 90.72h6.48v6.48h-6.48zM149.04 90.72h6.48v6.48h-6.48zM162.00 90.72h25.92v6.48h-25.92zM0.00 97.20h6.48v6.48h-6.48zM12.96 97.20h19.44v6.48h-19.44zM45.36 97.20h12.96v6.48h-12.96zM77.76 97.20h6.48v6.48h-6.48zM103.68 97.20h32.40v6.48h-32.40zM142.56 97.20h19.44v6.48h-19.44zM174.96 97.20h12.96v6.48h-12.96zM6.48 103.68h25.92v6.48h-25.92zM38.88 103.68h6.48v6.48h-6.48zM58.32 103.68h6.48v6.48h-6.48zM71.28 103.68h12.96v6.48h-12.96zM97.20 103.68h6.48v6.48h-6.48zM110.16 103.68h6.48v6.48h-6.48zM129.60 103.68h12.96v6.48h-12.96zM149.04 103.68h6.48v6.48h-6.48zM0.00 110.16h19.44v6.48h-19.44zM32.40 110.16h6.48v6.48h-6.48zM45.36 110.16h12.96v6.48h-12.96zM71.28 110.16h6.48v6.48h-6.48zM84.24 110.16h6.48v6.48h-6.48zM97.20 110.16h12.96v6.48h-12.96zM123.12 110.16h12.96v6.48h-12.96zM142.56 110.16h6.48v6.48h-6.48zM155.52 110.16h12.96v6.48h-12.96zM174.96 110.16h12.96v6.48h-12.96zM0.00 116.64h6.48v6.48h-6.48zM12.96 116.64h32.40v6.48h-32.40zM64.80 116.64h38.88v6.48h-38.88zM110.16 116.64h12.96v6.48h-12.96zM168.48 116.64h12.96v6.48h-12.96zM0.00 123.12h6.48v6.48h-6.48zM12.96 123.12h6.48v6.48h-6.48zM25.92 123.12h6.48v6.48h-6.48zM45.36 123.12h6.48v6.48h-6.48zM64.80 123.12h6.48v6.48h-6.48zM77.76 123.12h12.96v6.48h-12.96zM103.68 123.12h58.32v6.48h-58.32zM174.96 123.12h12.96v6.48h-12.96zM0.00 129.60h6.48v6.48h-6.48zM12.96 129.60h19.44v6.48h-19.44zM38.88 129.60h12.96v6.48h-12.96zM58.32 129.60h12.96v6.48h-12.96zM90.72 129.60h25.92v6.48h-25.92zM129.60 129.60h51.84v6.48h-51.84zM51.84 136.08h12.96v6.48h-12.96zM97.20 136.08h6.48v6.48h-6.48zM129.60 136.08h6.48v6.48h-6.48zM155.52 136.08h6.48v6.48h-6.48zM174.96 136.08h6.48v6.48h-6.48zM0.00 142.56h45.36v6.48h-45.36zM58.32 142.56h19.44v6.48h-19.44zM97.20 142.56h6.48v6.48h-6.48zM110.16 142.56h6.48v6.48h-6.48zM123.12 142.56h12.96v6.48h-12.96zM142.56 142.56h6.48v6.48h-6.48zM155.52 142.56h19.44v6.48h-19.44zM0.00 149.04h6.48v6.48h-6.48zM38.88 149.04h6.48v6.48h-6.48zM51.84 149.04h19.44v6.48h-19.44zM90.72 149.04h6.48v6.48h-6.48zM103.68 149.04h32.40v6.48h-32.40zM155.52 149.04h6.48v6.48h-6.48zM168.48 149.04h19.44v6.48h-19.44zM0.00 155.52h6.48v6.48h-6.48zM12.96 155.52h19.44v6.48h-19.44zM38.88 155.52h6.48v6.48h-6.48zM51.84 155.52h12.96v6.48h-12.96zM77.76 155.52h6.48v6.48h-6.48zM97.20 155.52h12.96v6.48h-12.96zM123.12 155.52h38.88v6.48h-38.88zM168.48 155.52h19.44v6.48h-19.44zM0.00 162.00h6.48v6.48h-6.48zM12.96 162.00h19.44v6.48h-19.44zM38.88 162.00h6.48v6.48h-6.48zM51.84 162.00h6.48v6.48h-6.48zM64.80 162.00h12.96v6.48h-12.96zM90.72 162.00h6.48v6.48h-6.48zM129.60 162.00h6.48v6.48h-6.48zM142.56 162.00h12.96v6.48h-12.96zM0.00 168.48h6.48v6.48h-6.48zM12.96 168.48h19.44v6.48h-19.44zM38.88 168.48h6.48v6.48h-6.48zM51.84 168.48h25.92v6.48h-25.92zM84.24 168.48h6.48v6.48h-6.48zM97.20 168.48h6.48v6.48h-6.48zM110.16 168.48h6.48v6.48h-6.48zM136.08 168.48h19.44v6.48h-19.44zM168.48 168.48h12.96v6.48h-12.96zM0.00 174.96h6.48v6.48h-6.48zM38.88 174.96h6.48v6.48h-6.48zM64.80 174.96h6.48v6.48h-6.48zM103.68 174.96h19.44v6.48h-19.44zM162.00 174.96h12.96v6.48h-12.96zM181.44 174.96h6.48v6.48h-6.48zM0.00 181.44h45.36v6.48h-45.36zM51.84 181.44h12.96v6.48h-12.96zM84.24 181.44h25.92v6.48h-25.92zM116.64 181.44h12.96v6.48h-12.96zM142.56 181.44h6.48v6.48h-6.48zM155.52 181.44h19.44v6.48h-19.44z" fill="#000"/></svg>
<svg class="a" style="left:3430px;top:720px;" width="830" height="225" viewBox="0 0 830 225"><g transform="translate(-3430,-720)"><text x="3555" y="745" font-family="'Liberation Serif','Times New Roman',serif" font-size="24" fill="#000" textLength="565">Quantitative Results on DeepCAD and Fusion360 Datasets.</text><rect x="3443.5" y="762.5" width="798" height="2" fill="#111"/><rect x="3443.5" y="816.5" width="798" height="1.4" fill="#111"/><rect x="3443.5" y="935" width="798" height="2" fill="#111"/><text x="3455" y="797" font-family="'Liberation Serif','Times New Roman',serif" font-size="20" fill="#000" >Method</text><text x="3763" y="785.4" font-family="'Liberation Serif','Times New Roman',serif" font-size="20.5" fill="#000" text-anchor="middle" >DeepCAD Test Set</text><text x="4065" y="785.4" font-family="'Liberation Serif','Times New Roman',serif" font-size="20.5" fill="#000" text-anchor="middle" >Fusion360 Test Set</text><text x="3668.4" y="807" font-family="'Liberation Serif','Times New Roman',serif" font-size="20" fill="#000" text-anchor="middle" >Med. CD↓</text><text x="3753.8" y="807" font-family="'Liberation Serif','Times New Roman',serif" font-size="20" fill="#000" text-anchor="middle" >IoU↑</text><text x="3812.8" y="807" font-family="'Liberation Serif','Times New Roman',serif" font-size="20" fill="#000" text-anchor="middle" >IR↓</text><text x="3876.3" y="807" font-family="'Liberation Serif','Times New Roman',serif" font-size="20" fill="#000" text-anchor="middle" >ECD↓</text><text x="3967" y="807" font-family="'Liberation Serif','Times New Roman',serif" font-size="20" fill="#000" text-anchor="middle" >Med. CD↓</text><text x="4053.5" y="807" font-family="'Liberation Serif','Times New Roman',serif" font-size="20" fill="#000" text-anchor="middle" >IoU↑</text><text x="4114.7" y="807" font-family="'Liberation Serif','Times New Roman',serif" font-size="20" fill="#000" text-anchor="middle" >IR↓</text><text x="4180.7" y="807" font-family="'Liberation Serif','Times New Roman',serif" font-size="20" fill="#000" text-anchor="middle" >ECD↓</text><text x="3455" y="839.2" font-family="'Liberation Serif','Times New Roman',serif" font-size="20" fill="#000" >DeepCAD <tspan font-family="Liberation Sans">[1]</tspan></text><text x="3668.4" y="839.2" font-family="'Liberation Serif','Times New Roman',serif" font-size="20" fill="#000" text-anchor="middle" >9.64</text><text x="3753.8" y="839.2" font-family="'Liberation Serif','Times New Roman',serif" font-size="20" fill="#000" text-anchor="middle" >46.7</text><text x="3812.8" y="839.2" font-family="'Liberation Serif','Times New Roman',serif" font-size="20" fill="#000" text-anchor="middle" >7.1</text><text x="3876.3" y="839.2" font-family="'Liberation Serif','Times New Roman',serif" font-size="20" fill="#000" text-anchor="middle" >–</text><text x="3967" y="839.2" font-family="'Liberation Serif','Times New Roman',serif" font-size="20" fill="#000" text-anchor="middle" >89.2</text><text x="4053.5" y="839.2" font-family="'Liberation Serif','Times New Roman',serif" font-size="20" fill="#000" text-anchor="middle" >39.9</text><text x="4114.7" y="839.2" font-family="'Liberation Serif','Times New Roman',serif" font-size="20" fill="#000" text-anchor="middle" >25.2</text><text x="4180.7" y="839.2" font-family="'Liberation Serif','Times New Roman',serif" font-size="20" fill="#000" text-anchor="middle" >–</text><text x="3455" y="860.8" font-family="'Liberation Serif','Times New Roman',serif" font-size="20" fill="#000" >Point2Cyl &#160;<tspan font-family="Liberation Sans">[2]</tspan></text><text x="3668.4" y="860.8" font-family="'Liberation Serif','Times New Roman',serif" font-size="20" fill="#000" text-anchor="middle" >4.27</text><text x="3753.8" y="860.8" font-family="'Liberation Serif','Times New Roman',serif" font-size="20" fill="#000" text-anchor="middle" >73.8</text><text x="3812.8" y="860.8" font-family="'Liberation Serif','Times New Roman',serif" font-size="20" fill="#000" text-anchor="middle" >3.9</text><text x="3876.3" y="860.8" font-family="'Liberation Serif','Times New Roman',serif" font-size="20" fill="#000" text-anchor="middle" >–</text><text x="3967" y="860.8" font-family="'Liberation Serif','Times New Roman',serif" font-size="20" fill="#000" text-anchor="middle" >4.18</text><text x="4053.5" y="860.8" font-family="'Liberation Serif','Times New Roman',serif" font-size="20" fill="#000" text-anchor="middle" >67.5</text><text x="4114.7" y="860.8" font-family="'Liberation Serif','Times New Roman',serif" font-size="20" fill="#000" text-anchor="middle" >3.2</text><text x="4180.7" y="860.8" font-family="'Liberation Serif','Times New Roman',serif" font-size="20" fill="#000" text-anchor="middle" >–</text><text x="3455" y="882" font-family="'Liberation Serif','Times New Roman',serif" font-size="20" fill="#000" >CAD-Diffuser <tspan font-family="Liberation Sans">[3]</tspan></text><text x="3668.4" y="882" font-family="'Liberation Serif','Times New Roman',serif" font-size="20" fill="#000" text-anchor="middle" >3.02</text><text x="3753.8" y="882" font-family="'Liberation Serif','Times New Roman',serif" font-size="20" fill="#000" text-anchor="middle" >74.3</text><text x="3812.8" y="882" font-family="'Liberation Serif','Times New Roman',serif" font-size="20" fill="#000" text-anchor="middle" >1.5</text><text x="3876.3" y="882" font-family="'Liberation Serif','Times New Roman',serif" font-size="20" fill="#000" text-anchor="middle" >–</text><text x="3967" y="882" font-family="'Liberation Serif','Times New Roman',serif" font-size="20" fill="#000" text-anchor="middle" >3.85</text><text x="4053.5" y="882" font-family="'Liberation Serif','Times New Roman',serif" font-size="20" fill="#000" text-anchor="middle" >63.2</text><text x="4114.7" y="882" font-family="'Liberation Serif','Times New Roman',serif" font-size="20" fill="#000" text-anchor="middle" >1.7</text><text x="4180.7" y="882" font-family="'Liberation Serif','Times New Roman',serif" font-size="20" fill="#000" text-anchor="middle" >–</text><text x="3455" y="903.7" font-family="'Liberation Serif','Times New Roman',serif" font-size="20" fill="#000" >CAD-SIGNet &#160;<tspan font-family="Liberation Sans">[4]</tspan></text><text x="3668.4" y="903.7" font-family="'Liberation Serif','Times New Roman',serif" font-size="20" fill="#000" text-anchor="middle" >0.28</text><text x="3753.8" y="903.7" font-family="'Liberation Serif','Times New Roman',serif" font-size="20" fill="#000" text-anchor="middle" >77.6</text><text x="3812.8" y="903.7" font-family="'Liberation Serif','Times New Roman',serif" font-size="20" fill="#000" font-weight="700" text-anchor="middle" >0.9</text><text x="3876.3" y="903.7" font-family="'Liberation Serif','Times New Roman',serif" font-size="20" fill="#000" text-anchor="middle" >0.74</text><text x="3967" y="903.7" font-family="'Liberation Serif','Times New Roman',serif" font-size="20" fill="#000" text-anchor="middle" >0.56</text><text x="4053.5" y="903.7" font-family="'Liberation Serif','Times New Roman',serif" font-size="20" fill="#000" text-anchor="middle" >65.6</text><text x="4114.7" y="903.7" font-family="'Liberation Serif','Times New Roman',serif" font-size="20" fill="#000" font-weight="700" text-anchor="middle" >1.6</text><text x="4180.7" y="903.7" font-family="'Liberation Serif','Times New Roman',serif" font-size="20" fill="#000" text-anchor="middle" >4.14</text><text x="3455" y="925.2" font-family="'Liberation Serif','Times New Roman',serif" font-size="20" fill="#000" >Ours</text><text x="3668.4" y="925.2" font-family="'Liberation Serif','Times New Roman',serif" font-size="20" fill="#000" font-weight="700" text-anchor="middle" >0.20</text><text x="3753.8" y="925.2" font-family="'Liberation Serif','Times New Roman',serif" font-size="20" fill="#000" font-weight="700" text-anchor="middle" >80.6</text><text x="3812.8" y="925.2" font-family="'Liberation Serif','Times New Roman',serif" font-size="20" fill="#000" text-anchor="middle" >2.6</text><text x="3876.3" y="925.2" font-family="'Liberation Serif','Times New Roman',serif" font-size="20" fill="#000" font-weight="700" text-anchor="middle" >0.46</text><text x="3967" y="925.2" font-family="'Liberation Serif','Times New Roman',serif" font-size="20" fill="#000" font-weight="700" text-anchor="middle" >0.48</text><text x="4053.5" y="925.2" font-family="'Liberation Serif','Times New Roman',serif" font-size="20" fill="#000" font-weight="700" text-anchor="middle" >68.7</text><text x="4114.7" y="925.2" font-family="'Liberation Serif','Times New Roman',serif" font-size="20" fill="#000" text-anchor="middle" >3.2</text><text x="4180.7" y="925.2" font-family="'Liberation Serif','Times New Roman',serif" font-size="20" fill="#000" font-weight="700" text-anchor="middle" >2.66</text></g></svg>
<svg class="a" style="left:4280px;top:700px;" width="730" height="300" viewBox="0 0 730 300"><g transform="translate(-4280,-700)"><text x="4459" y="727" font-family="'Liberation Sans',Arial,sans-serif" font-size="12.5" fill="#000" text-anchor="middle" >DeepCAD Dataset</text><text x="4831" y="727" font-family="'Liberation Sans',Arial,sans-serif" font-size="12.5" fill="#000" text-anchor="middle" >Fusion360 Dataset</text><text x="4328.25" y="990" font-family="'Liberation Sans',Arial,sans-serif" font-size="13" fill="#000" text-anchor="middle" >Input Mesh</text><text x="4423.35" y="990" font-family="'Liberation Sans',Arial,sans-serif" font-size="13" fill="#000" text-anchor="middle" >CAD-SIGNET</text><text x="4507.0" y="990" font-family="'Liberation Sans',Arial,sans-serif" font-size="13" fill="#000" text-anchor="middle" >Ours</text><text x="4591.15" y="990" font-family="'Liberation Sans',Arial,sans-serif" font-size="13" fill="#000" text-anchor="middle" >Ground Truth</text><text x="4697.95" y="990" font-family="'Liberation Sans',Arial,sans-serif" font-size="13" fill="#000" text-anchor="middle" >Input Mesh</text><text x="4792.25" y="990" font-family="'Liberation Sans',Arial,sans-serif" font-size="13" fill="#000" text-anchor="middle" >CAD-SIGNET</text><text x="4875.5" y="990" font-family="'Liberation Sans',Arial,sans-serif" font-size="13" fill="#000" text-anchor="middle" >Ours</text><text x="4960.0" y="990" font-family="'Liberation Sans',Arial,sans-serif" font-size="13" fill="#000" text-anchor="middle" >Ground Truth</text><polygon points="4318.5,777.0 4348.0,794.0 4348.0,758.0 4318.5,741.0" fill="#474747"/><polygon points="4360.1,787.0 4348.0,794.0 4348.0,758.0 4360.1,751.0" fill="#383838"/><polygon points="4330.7,734.0 4360.1,751.0 4348.0,758.0 4318.5,741.0" fill="#5a5a5a"/><path d="M4325.6,764 L4349.6,778 M4325.6,776 L4349.6,790" stroke="#383838" stroke-width="1"/><polygon points="4306.7,827.0 4341.3,847.0 4341.3,842.0 4306.7,822.0" fill="#383838"/><polygon points="4372.5,829.0 4341.3,847.0 4341.3,842.0 4372.5,824.0" fill="#474747"/><polygon points="4337.9,804.0 4372.5,824.0 4341.3,842.0 4306.7,822.0" fill="#5a5a5a"/><polygon points="4324.0,820.0 4344.8,832.0 4344.8,820.0 4324.0,808.0" fill="#383838"/><polygon points="4360.4,823.0 4344.8,832.0 4344.8,820.0 4360.4,811.0" fill="#474747"/><polygon points="4339.6,799.0 4360.4,811.0 4344.8,820.0 4324.0,808.0" fill="#5a5a5a"/><polygon points="4320.5,826.0 4325.7,829.0 4325.7,819.0 4320.5,816.0" fill="#383838"/><polygon points="4330.9,826.0 4325.7,829.0 4325.7,819.0 4330.9,816.0" fill="#474747"/><polygon points="4325.7,813.0 4330.9,816.0 4325.7,819.0 4320.5,816.0" fill="#5a5a5a"/><ellipse cx="4339.6" cy="888" rx="26" ry="16" fill="#383838"/><ellipse cx="4339.6" cy="880" rx="26" ry="16" fill="#5a5a5a"/><ellipse cx="4339.6" cy="882" rx="14" ry="8" fill="#474747"/><ellipse cx="4339.6" cy="886" rx="12" ry="5" fill="#fff"/><circle cx="4319.6" cy="870" r="5" fill="#5a5a5a"/><circle cx="4361.6" cy="882" r="5" fill="#5a5a5a"/><circle cx="4335.6" cy="864" r="5" fill="#5a5a5a"/><polygon points="4317.6,925.0 4341.6,939.0 4341.6,965.0 4317.6,951.0" fill="#383838"/><path d="M4317.6,925 L4337.6,913 M4341.6,939 L4359.6,927 M4341.6,963 L4359.6,951" stroke="#5a5a5a" stroke-width="3.5"/><polygon points="4402.6,777.0 4432.1,794.0 4432.1,758.0 4402.6,741.0" fill="#5d8fb9"/><polygon points="4444.2,787.0 4432.1,794.0 4432.1,758.0 4444.2,751.0" fill="#4a7599"/><polygon points="4414.8,734.0 4444.2,751.0 4432.1,758.0 4402.6,741.0" fill="#72a6d0"/><path d="M4409.7,764 L4433.7,778 M4409.7,776 L4433.7,790" stroke="#4a7599" stroke-width="1"/><polygon points="4390.8,827.0 4425.4,847.0 4425.4,842.0 4390.8,822.0" fill="#4a7599"/><polygon points="4456.6,829.0 4425.4,847.0 4425.4,842.0 4456.6,824.0" fill="#5d8fb9"/><polygon points="4422.0,804.0 4456.6,824.0 4425.4,842.0 4390.8,822.0" fill="#72a6d0"/><polygon points="4408.1,820.0 4428.9,832.0 4428.9,820.0 4408.1,808.0" fill="#4a7599"/><polygon points="4444.5,823.0 4428.9,832.0 4428.9,820.0 4444.5,811.0" fill="#5d8fb9"/><polygon points="4423.7,799.0 4444.5,811.0 4428.9,820.0 4408.1,808.0" fill="#72a6d0"/><polygon points="4404.6,826.0 4409.8,829.0 4409.8,819.0 4404.6,816.0" fill="#4a7599"/><polygon points="4415.0,826.0 4409.8,829.0 4409.8,819.0 4415.0,816.0" fill="#5d8fb9"/><polygon points="4409.8,813.0 4415.0,816.0 4409.8,819.0 4404.6,816.0" fill="#72a6d0"/><ellipse cx="4423.7" cy="888" rx="26" ry="16" fill="#4a7599"/><ellipse cx="4423.7" cy="880" rx="26" ry="16" fill="#72a6d0"/><ellipse cx="4423.7" cy="882" rx="14" ry="8" fill="#5d8fb9"/><ellipse cx="4423.7" cy="886" rx="12" ry="5" fill="#fff"/><circle cx="4403.7" cy="870" r="5" fill="#72a6d0"/><circle cx="4445.7" cy="882" r="5" fill="#72a6d0"/><circle cx="4419.7" cy="864" r="5" fill="#72a6d0"/><polygon points="4401.7,925.0 4425.7,939.0 4425.7,965.0 4401.7,951.0" fill="#4a7599"/><path d="M4401.7,925 L4421.7,913 M4425.7,939 L4443.7,927 M4425.7,963 L4443.7,951" stroke="#72a6d0" stroke-width="3.5"/><polygon points="4486.6,777.0 4516.1,794.0 4516.1,758.0 4486.6,741.0" fill="#5d8fb9"/><polygon points="4528.2,787.0 4516.1,794.0 4516.1,758.0 4528.2,751.0" fill="#4a7599"/><polygon points="4498.8,734.0 4528.2,751.0 4516.1,758.0 4486.6,741.0" fill="#72a6d0"/><path d="M4493.7,764 L4517.7,778 M4493.7,776 L4517.7,790" stroke="#4a7599" stroke-width="1"/><polygon points="4474.8,827.0 4509.4,847.0 4509.4,842.0 4474.8,822.0" fill="#4a7599"/><polygon points="4540.6,829.0 4509.4,847.0 4509.4,842.0 4540.6,824.0" fill="#5d8fb9"/><polygon points="4506.0,804.0 4540.6,824.0 4509.4,842.0 4474.8,822.0" fill="#72a6d0"/><polygon points="4492.1,820.0 4512.9,832.0 4512.9,820.0 4492.1,808.0" fill="#4a7599"/><polygon points="4528.5,823.0 4512.9,832.0 4512.9,820.0 4528.5,811.0" fill="#5d8fb9"/><polygon points="4507.7,799.0 4528.5,811.0 4512.9,820.0 4492.1,808.0" fill="#72a6d0"/><polygon points="4488.6,826.0 4493.8,829.0 4493.8,819.0 4488.6,816.0" fill="#4a7599"/><polygon points="4499.0,826.0 4493.8,829.0 4493.8,819.0 4499.0,816.0" fill="#5d8fb9"/><polygon points="4493.8,813.0 4499.0,816.0 4493.8,819.0 4488.6,816.0" fill="#72a6d0"/><ellipse cx="4507.7" cy="888" rx="26" ry="16" fill="#4a7599"/><ellipse cx="4507.7" cy="880" rx="26" ry="16" fill="#72a6d0"/><ellipse cx="4507.7" cy="882" rx="14" ry="8" fill="#5d8fb9"/><ellipse cx="4507.7" cy="886" rx="12" ry="5" fill="#fff"/><circle cx="4487.7" cy="870" r="5" fill="#72a6d0"/><circle cx="4529.7" cy="882" r="5" fill="#72a6d0"/><circle cx="4503.7" cy="864" r="5" fill="#72a6d0"/><polygon points="4485.7,925.0 4509.7,939.0 4509.7,965.0 4485.7,951.0" fill="#4a7599"/><path d="M4485.7,925 L4505.7,913 M4509.7,939 L4527.7,927 M4509.7,963 L4527.7,951" stroke="#72a6d0" stroke-width="3.5"/><polygon points="4569.9,777.0 4599.4,794.0 4599.4,758.0 4569.9,741.0" fill="#5d8fb9"/><polygon points="4611.5,787.0 4599.4,794.0 4599.4,758.0 4611.5,751.0" fill="#4a7599"/><polygon points="4582.1,734.0 4611.5,751.0 4599.4,758.0 4569.9,741.0" fill="#72a6d0"/><path d="M4577,764 L4601,778 M4577,776 L4601,790" stroke="#4a7599" stroke-width="1"/><polygon points="4558.1,827.0 4592.7,847.0 4592.7,842.0 4558.1,822.0" fill="#4a7599"/><polygon points="4623.9,829.0 4592.7,847.0 4592.7,842.0 4623.9,824.0" fill="#5d8fb9"/><polygon points="4589.3,804.0 4623.9,824.0 4592.7,842.0 4558.1,822.0" fill="#72a6d0"/><polygon points="4575.4,820.0 4596.2,832.0 4596.2,820.0 4575.4,808.0" fill="#4a7599"/><polygon points="4611.8,823.0 4596.2,832.0 4596.2,820.0 4611.8,811.0" fill="#5d8fb9"/><polygon points="4591.0,799.0 4611.8,811.0 4596.2,820.0 4575.4,808.0" fill="#72a6d0"/><polygon points="4571.9,826.0 4577.1,829.0 4577.1,819.0 4571.9,816.0" fill="#4a7599"/><polygon points="4582.3,826.0 4577.1,829.0 4577.1,819.0 4582.3,816.0" fill="#5d8fb9"/><polygon points="4577.1,813.0 4582.3,816.0 4577.1,819.0 4571.9,816.0" fill="#72a6d0"/><ellipse cx="4591" cy="888" rx="26" ry="16" fill="#4a7599"/><ellipse cx="4591" cy="880" rx="26" ry="16" fill="#72a6d0"/><ellipse cx="4591" cy="882" rx="14" ry="8" fill="#5d8fb9"/><ellipse cx="4591" cy="886" rx="12" ry="5" fill="#fff"/><circle cx="4571" cy="870" r="5" fill="#72a6d0"/><circle cx="4613" cy="882" r="5" fill="#72a6d0"/><circle cx="4587" cy="864" r="5" fill="#72a6d0"/><polygon points="4569.0,925.0 4593.0,939.0 4593.0,965.0 4569.0,951.0" fill="#4a7599"/><path d="M4569,925 L4589,913 M4593,939 L4611,927 M4593,963 L4611,951" stroke="#72a6d0" stroke-width="3.5"/><g stroke-linecap="round"><path d="M4670.6,772 L4696.6,758" stroke="#383838" stroke-width="11"/><path d="M4684.6,788 L4720.6,768" stroke="#383838" stroke-width="11"/></g><path d="M4670.6,772 L4696.6,758" stroke="#5a5a5a" stroke-width="6" stroke-linecap="round"/><path d="M4684.6,788 L4720.6,768" stroke="#5a5a5a" stroke-width="6" stroke-linecap="round"/><polygon points="4687.9,765.0 4700.1,772.0 4700.1,762.0 4687.9,755.0" fill="#383838"/><polygon points="4710.5,766.0 4700.1,772.0 4700.1,762.0 4710.5,756.0" fill="#474747"/><polygon points="4698.3,749.0 4710.5,756.0 4700.1,762.0 4687.9,755.0" fill="#5a5a5a"/><polygon points="4692.6,802.0 4700.6,800.0 4699.6,844.0 4694.6,846.0" fill="#5a5a5a"/><path d="M4696.6,806 L4696.6,840" stroke="#383838" stroke-width="1.5"/><polygon points="4682.7,898.0 4700.1,908.0 4700.1,890.0 4682.7,880.0" fill="#383838"/><polygon points="4712.2,901.0 4700.1,908.0 4700.1,890.0 4712.2,883.0" fill="#474747"/><polygon points="4694.9,873.0 4712.2,883.0 4700.1,890.0 4682.7,880.0" fill="#5a5a5a"/><polygon points="4682.6,878.0 4680.6,858.0 4690.6,852.0 4704.6,868.0" fill="#5a5a5a"/><circle cx="4686.6" cy="861" r="3.5" fill="#fff"/><path d="M4678.6,921 Q4684.6,913 4696.6,921 L4714.6,935 Q4720.6,945 4708.6,951 L4694.6,961 Q4686.6,967 4682.6,957 Z" fill="#5a5a5a" stroke="#383838" stroke-width="3"/><circle cx="4684.6" cy="923" r="3.5" fill="#383838"/><circle cx="4706.6" cy="937" r="3.5" fill="#383838"/><circle cx="4690.6" cy="953" r="3.5" fill="#383838"/><g stroke-linecap="round"><path d="M4754.6,772 L4780.6,758" stroke="#4a7599" stroke-width="11"/><path d="M4768.6,788 L4804.6,768" stroke="#4a7599" stroke-width="11"/></g><path d="M4754.6,772 L4780.6,758" stroke="#72a6d0" stroke-width="6" stroke-linecap="round"/><path d="M4768.6,788 L4804.6,768" stroke="#72a6d0" stroke-width="6" stroke-linecap="round"/><polygon points="4771.9,765.0 4784.1,772.0 4784.1,762.0 4771.9,755.0" fill="#4a7599"/><polygon points="4794.5,766.0 4784.1,772.0 4784.1,762.0 4794.5,756.0" fill="#5d8fb9"/><polygon points="4782.3,749.0 4794.5,756.0 4784.1,762.0 4771.9,755.0" fill="#72a6d0"/><polygon points="4776.6,802.0 4784.6,800.0 4783.6,844.0 4778.6,846.0" fill="#72a6d0"/><path d="M4780.6,806 L4780.6,840" stroke="#4a7599" stroke-width="1.5"/><polygon points="4759.8,896.0 4784.1,910.0 4784.1,886.0 4759.8,872.0" fill="#4a7599"/><polygon points="4803.1,899.0 4784.1,910.0 4784.1,886.0 4803.1,875.0" fill="#5d8fb9"/><polygon points="4778.9,861.0 4803.1,875.0 4784.1,886.0 4759.8,872.0" fill="#72a6d0"/><path d="M4762.6,921 Q4768.6,913 4780.6,921 L4798.6,935 Q4804.6,945 4792.6,951 L4778.6,961 Q4770.6,967 4766.6,957 Z" fill="#72a6d0" stroke="#4a7599" stroke-width="3"/><circle cx="4768.6" cy="923" r="3.5" fill="#4a7599"/><circle cx="4790.6" cy="937" r="3.5" fill="#4a7599"/><circle cx="4774.6" cy="953" r="3.5" fill="#4a7599"/><g stroke-linecap="round"><path d="M4838.7,772 L4864.7,758" stroke="#4a7599" stroke-width="11"/><path d="M4852.7,788 L4888.7,768" stroke="#4a7599" stroke-width="11"/></g><path d="M4838.7,772 L4864.7,758" stroke="#72a6d0" stroke-width="6" stroke-linecap="round"/><path d="M4852.7,788 L4888.7,768" stroke="#72a6d0" stroke-width="6" stroke-linecap="round"/><polygon points="4856.0,765.0 4868.2,772.0 4868.2,762.0 4856.0,755.0" fill="#4a7599"/><polygon points="4878.6,766.0 4868.2,772.0 4868.2,762.0 4878.6,756.0" fill="#5d8fb9"/><polygon points="4866.4,749.0 4878.6,756.0 4868.2,762.0 4856.0,755.0" fill="#72a6d0"/><polygon points="4860.7,802.0 4868.7,800.0 4867.7,844.0 4862.7,846.0" fill="#72a6d0"/><path d="M4864.7,806 L4864.7,840" stroke="#4a7599" stroke-width="1.5"/><polygon points="4850.8,898.0 4868.2,908.0 4868.2,890.0 4850.8,880.0" fill="#4a7599"/><polygon points="4880.3,901.0 4868.2,908.0 4868.2,890.0 4880.3,883.0" fill="#5d8fb9"/><polygon points="4863.0,873.0 4880.3,883.0 4868.2,890.0 4850.8,880.0" fill="#72a6d0"/><polygon points="4850.7,878.0 4848.7,858.0 4858.7,852.0 4872.7,868.0" fill="#72a6d0"/><circle cx="4854.7" cy="861" r="3.5" fill="#fff"/><path d="M4846.7,921 Q4852.7,913 4864.7,921 L4882.7,935 Q4888.7,945 4876.7,951 L4862.7,961 Q4854.7,967 4850.7,957 Z" fill="#72a6d0" stroke="#4a7599" stroke-width="3"/><circle cx="4852.7" cy="923" r="3.5" fill="#4a7599"/><circle cx="4874.7" cy="937" r="3.5" fill="#4a7599"/><circle cx="4858.7" cy="953" r="3.5" fill="#4a7599"/><g stroke-linecap="round"><path d="M4922.8,772 L4948.8,758" stroke="#4a7599" stroke-width="11"/><path d="M4936.8,788 L4972.8,768" stroke="#4a7599" stroke-width="11"/></g><path d="M4922.8,772 L4948.8,758" stroke="#72a6d0" stroke-width="6" stroke-linecap="round"/><path d="M4936.8,788 L4972.8,768" stroke="#72a6d0" stroke-width="6" stroke-linecap="round"/><polygon points="4940.1,765.0 4952.3,772.0 4952.3,762.0 4940.1,755.0" fill="#4a7599"/><polygon points="4962.7,766.0 4952.3,772.0 4952.3,762.0 4962.7,756.0" fill="#5d8fb9"/><polygon points="4950.5,749.0 4962.7,756.0 4952.3,762.0 4940.1,755.0" fill="#72a6d0"/><polygon points="4944.8,802.0 4952.8,800.0 4951.8,844.0 4946.8,846.0" fill="#72a6d0"/><path d="M4948.8,806 L4948.8,840" stroke="#4a7599" stroke-width="1.5"/><polygon points="4934.9,898.0 4952.3,908.0 4952.3,890.0 4934.9,880.0" fill="#4a7599"/><polygon points="4964.4,901.0 4952.3,908.0 4952.3,890.0 4964.4,883.0" fill="#5d8fb9"/><polygon points="4947.1,873.0 4964.4,883.0 4952.3,890.0 4934.9,880.0" fill="#72a6d0"/><polygon points="4934.8,878.0 4932.8,858.0 4942.8,852.0 4956.8,868.0" fill="#72a6d0"/><circle cx="4938.8" cy="861" r="3.5" fill="#fff"/><path d="M4930.8,921 Q4936.8,913 4948.8,921 L4966.8,935 Q4972.8,945 4960.8,951 L4946.8,961 Q4938.8,967 4934.8,957 Z" fill="#72a6d0" stroke="#4a7599" stroke-width="3"/><circle cx="4936.8" cy="923" r="3.5" fill="#4a7599"/><circle cx="4958.8" cy="937" r="3.5" fill="#4a7599"/><circle cx="4942.8" cy="953" r="3.5" fill="#4a7599"/></g></svg>
<div class="a" style="left:3420px;top:1215.5px;width:102px;height:368.5px;background:transparent;border:2.5px solid #555;border-radius:20px;"></div>
<svg class="a" style="left:3550px;top:1213px;" width="366" height="374" viewBox="0 0 366 374"><rect x="3.5" y="3.5" width="359" height="367" rx="20" fill="none" stroke="#555" stroke-width="3" stroke-dasharray="11,6"/></svg>
<svg class="a" style="left:3517px;top:1392px;" width="40" height="16" viewBox="0 0 40 16"><g stroke="#555" stroke-width="2.5" stroke-linecap="round" stroke-linejoin="round" fill="none"><path d="M8.0,8.0 L30.5,8.0"/><path d="M27.1,11.4 L32.0,8.0 L27.1,4.6"/></g></svg>
<svg class="a" style="left:3410px;top:1200px;" width="1600" height="420" viewBox="0 0 1600 420"><g transform="translate(-3410,-1200)"><text x="3470" y="1607.4" font-family="'Liberation Sans',Arial,sans-serif" font-size="15" fill="#000" text-anchor="middle" >CAD Model</text><text x="3725" y="1607.4" font-family="'Liberation Sans',Arial,sans-serif" font-size="15" fill="#000" text-anchor="middle" >Transformed Models</text><defs><linearGradient id="gr0" x1="0" x2="1"><stop offset="0" stop-color="#3f6a90"/><stop offset="0.5" stop-color="#6a9fc8"/><stop offset="1" stop-color="#7fb2da"/></linearGradient><linearGradient id="gi0" x1="0" x2="1"><stop offset="0" stop-color="#8dbde0"/><stop offset="1" stop-color="#2f5577"/></linearGradient></defs><path d="M3439.8,1271 L3439.8,1285 A33,20 0 0 0 3505.8,1285 L3505.8,1271 Z" fill="url(#gr0)"/><ellipse cx="3472.8" cy="1271" rx="33" ry="20" fill="#6fa3cc"/><ellipse cx="3472.8" cy="1272" rx="21" ry="12" fill="url(#gi0)"/><ellipse cx="3473.8" cy="1278" rx="13" ry="5" fill="#fff"/><polygon points="3492.8,1275 3505.8,1273 3505.8,1287 3494.8,1290" fill="#fff"/><polygon points="3494.8,1277 3499.8,1276 3499.8,1288 3494.8,1289" fill="#5a8cb3"/><polygon points="3468.8,1277 3492.8,1275 3494.8,1277 3470.8,1281" fill="#3f6584"/><path d="M3497.3,1325.5 A33.4,33.4 0 1 0 3506.7,1348.5" fill="none" stroke="#333" stroke-width="0.8"/><path d="M3497.3,1325.5 L3489.4,1332.4 M3506.7,1348.5 L3477.3,1348.5 L3477.3,1358.5 L3490.6,1358.5" fill="none" stroke="#333" stroke-width="0.8"/><path d="M3489.4,1332.4 A23.0,23.0 0 1 0 3490.6,1358.5" fill="none" stroke="#333" stroke-width="0.8"/><line x1="3431.9" y1="1348.5" x2="3514.7000000000003" y2="1348.5" stroke="#f4a0a0" stroke-width="0.8"/><line x1="3473.3" y1="1311.1" x2="3473.3" y2="1387.9" stroke="#9ad89a" stroke-width="0.8"/><circle cx="3473.3" cy="1348.5" r="1.5" fill="#22f"/><polygon points="3433.5,1460.0 3452.6,1470.5 3452.6,1490.9 3433.5,1480.0" fill="#3f6584"/><polygon points="3452.6,1470.5 3515.3,1434.5 3515.3,1458.4 3452.6,1490.9" fill="#6a9fc6"/><path d="M3433.5,1460.0 L3452.6,1470.5 L3515.3,1434.5 L3497.2,1422.7 Q3483.5,1428.7 3478.5,1438.7 Q3471.5,1448.7 3453.5,1448.7 Z" fill="#6fa3cc"/><path d="M3465,1498 L3481,1498 L3481,1562 L3465,1562 Q3453,1530 3465,1498 Z" fill="none" stroke="#333" stroke-width="0.9"/><line x1="3453" y1="1530" x2="3493" y2="1530" stroke="#f08080" stroke-width="0.7"/><line x1="3471" y1="1494" x2="3471" y2="1566" stroke="#70c070" stroke-width="0.7"/><text x="3449" y="1508" font-size="6" fill="#e06020" font-family="Liberation Sans">&lt;6</text><text x="3449" y="1554" font-size="6" fill="#e06020" font-family="Liberation Sans">&lt;6, 4</text><defs><linearGradient id="gr1" x1="0" x2="1"><stop offset="0" stop-color="#3f6a90"/><stop offset="0.5" stop-color="#6a9fc8"/><stop offset="1" stop-color="#7fb2da"/></linearGradient><linearGradient id="gi1" x1="0" x2="1"><stop offset="0" stop-color="#8dbde0"/><stop offset="1" stop-color="#2f5577"/></linearGradient></defs><path d="M3576.3,1271 L3576.3,1285 A33,20 0 0 0 3642.3,1285 L3642.3,1271 Z" fill="url(#gr1)"/><ellipse cx="3609.3" cy="1271" rx="33" ry="20" fill="#6fa3cc"/><ellipse cx="3609.3" cy="1272" rx="21" ry="12" fill="url(#gi1)"/><ellipse cx="3610.3" cy="1278" rx="13" ry="5" fill="#fff"/><polygon points="3629.3,1275 3642.3,1273 3642.3,1287 3631.3,1290" fill="#fff"/><polygon points="3631.3,1277 3636.3,1276 3636.3,1288 3631.3,1289" fill="#5a8cb3"/><polygon points="3605.3,1277 3629.3,1275 3631.3,1277 3607.3,1281" fill="#3f6584"/><rect x="3576.3" y="1277" width="24" height="24" fill="rgba(255,255,255,0.55)"/><circle cx="3579.3" cy="1299" r="12.5" fill="#fff" stroke="#777" stroke-width="1"/><circle cx="3579.3" cy="1299" r="8" fill="none" stroke="#777" stroke-width="1"/><path d="M3580.3,1302 L3588.3,1298" stroke="#f04848" stroke-width="2"/><path d="M3632.2,1330.3 A31,31 0 1 0 3640.9,1351.7" fill="none" stroke="#333" stroke-width="0.8"/><path d="M3632.2,1330.3 L3624.9,1336.7 M3640.9,1351.7 L3613.9,1351.7 L3613.9,1361.7 L3625.9,1361.7" fill="none" stroke="#333" stroke-width="0.8"/><path d="M3624.9,1336.7 A21.4,21.4 0 1 0 3625.9,1361.7" fill="none" stroke="#333" stroke-width="0.8"/><line x1="3570.9" y1="1351.7" x2="3648.9" y2="1351.7" stroke="#f4a0a0" stroke-width="0.8"/><line x1="3609.9" y1="1316.7" x2="3609.9" y2="1388.7" stroke="#9ad89a" stroke-width="0.8"/><circle cx="3609.9" cy="1351.7" r="1.5" fill="#22f"/><polygon points="3568.8,1460.0 3587.9,1470.5 3587.9,1490.9 3568.8,1480.0" fill="#3f6584"/><polygon points="3587.9,1470.5 3650.6,1434.5 3650.6,1458.4 3587.9,1490.9" fill="#6a9fc6"/><path d="M3568.8,1460.0 L3587.9,1470.5 L3650.6000000000004,1434.5 L3632.5,1422.7 Q3618.8,1428.7 3613.8,1438.7 Q3606.8,1448.7 3588.8,1448.7 Z" fill="#6fa3cc"/><rect x="3568.8" y="1440.7" width="38" height="30" fill="rgba(255,255,255,0.5)"/><rect x="3579.8" y="1430.7" width="8" height="26" fill="#fff" stroke="#444" stroke-width="0.9"/><line x1="3587.8" y1="1429.7" x2="3595.8" y2="1420.7" stroke="#f04848" stroke-width="2"/><circle cx="3595.8" cy="1420.7" r="2" fill="#f04848"/><path d="M3602,1498 L3618,1498 L3618,1562 L3602,1562 Q3590,1530 3602,1498 Z" fill="none" stroke="#333" stroke-width="0.9"/><line x1="3590" y1="1530" x2="3630" y2="1530" stroke="#f08080" stroke-width="0.7"/><line x1="3608" y1="1494" x2="3608" y2="1566" stroke="#70c070" stroke-width="0.7"/><text x="3586" y="1508" font-size="6" fill="#e06020" font-family="Liberation Sans">&lt;6</text><text x="3586" y="1554" font-size="6" fill="#e06020" font-family="Liberation Sans">&lt;6, 4</text><defs><linearGradient id="gr2" x1="0" x2="1"><stop offset="0" stop-color="#3f6a90"/><stop offset="0.5" stop-color="#6a9fc8"/><stop offset="1" stop-color="#7fb2da"/></linearGradient><linearGradient id="gi2" x1="0" x2="1"><stop offset="0" stop-color="#8dbde0"/><stop offset="1" stop-color="#2f5577"/></linearGradient></defs><path d="M3703,1271 L3703,1285 A33,20 0 0 0 3769,1285 L3769,1271 Z" fill="url(#gr2)"/><ellipse cx="3736" cy="1271" rx="33" ry="20" fill="#6fa3cc"/><ellipse cx="3736" cy="1272" rx="21" ry="12" fill="url(#gi2)"/><ellipse cx="3737" cy="1278" rx="13" ry="5" fill="#fff"/><polygon points="3756,1275 3769,1273 3769,1287 3758,1290" fill="#fff"/><polygon points="3758,1277 3763,1276 3763,1288 3758,1289" fill="#5a8cb3"/><polygon points="3732,1277 3756,1275 3758,1277 3734,1281" fill="#3f6584"/><rect x="3703" y="1277" width="24" height="24" fill="rgba(255,255,255,0.55)"/><circle cx="3706" cy="1299" r="12.5" fill="#fff" stroke="#777" stroke-width="1"/><circle cx="3706" cy="1299" r="8" fill="none" stroke="#777" stroke-width="1"/><path d="M3707,1302 L3715,1298" stroke="#f04848" stroke-width="2"/><path d="M3767.5,1325.8 A37.6,37.6 0 1 0 3778.0,1351.7" fill="none" stroke="#333" stroke-width="0.8"/><path d="M3767.5,1325.8 L3758.6,1333.5 M3778.0,1351.7 L3744.4,1351.7 L3744.4,1361.7 L3759.9,1361.7" fill="none" stroke="#333" stroke-width="0.8"/><path d="M3758.6,1333.5 A25.9,25.9 0 1 0 3759.9,1361.7" fill="none" stroke="#333" stroke-width="0.8"/><line x1="3694.8" y1="1351.7" x2="3786.0" y2="1351.7" stroke="#f4a0a0" stroke-width="0.8"/><line x1="3740.4" y1="1310.1000000000001" x2="3740.4" y2="1395.3" stroke="#9ad89a" stroke-width="0.8"/><circle cx="3740.4" cy="1351.7" r="1.5" fill="#22f"/><polygon points="3696.8,1460.0 3715.9,1470.5 3715.9,1490.9 3696.8,1480.0" fill="#3f6584"/><polygon points="3715.9,1470.5 3778.6,1434.5 3778.6,1458.4 3715.9,1490.9" fill="#6a9fc6"/><path d="M3696.8,1460.0 L3715.9,1470.5 L3778.6000000000004,1434.5 L3760.5,1422.7 Q3746.8,1428.7 3741.8,1438.7 Q3734.8,1448.7 3716.8,1448.7 Z" fill="#6fa3cc"/><rect x="3696.8" y="1440.7" width="38" height="30" fill="rgba(255,255,255,0.5)"/><rect x="3707.8" y="1430.7" width="8" height="26" fill="#fff" stroke="#444" stroke-width="0.9"/><line x1="3707.8" y1="1450.7" x2="3707.8" y2="1456.7" stroke="#f04848" stroke-width="2"/><circle cx="3707.8" cy="1456.7" r="2" fill="#f04848"/><path d="M3729,1498 L3745,1498 L3745,1562 L3729,1562 Q3717,1530 3729,1498 Z" fill="none" stroke="#333" stroke-width="0.9"/><line x1="3717" y1="1530" x2="3757" y2="1530" stroke="#f08080" stroke-width="0.7"/><line x1="3735" y1="1494" x2="3735" y2="1566" stroke="#70c070" stroke-width="0.7"/><text x="3713" y="1508" font-size="6" fill="#e06020" font-family="Liberation Sans">&lt;6</text><text x="3713" y="1554" font-size="6" fill="#e06020" font-family="Liberation Sans">&lt;6, 4</text><defs><linearGradient id="gr3" x1="0" x2="1"><stop offset="0" stop-color="#3f6a90"/><stop offset="0.5" stop-color="#6a9fc8"/><stop offset="1" stop-color="#7fb2da"/></linearGradient><linearGradient id="gi3" x1="0" x2="1"><stop offset="0" stop-color="#8dbde0"/><stop offset="1" stop-color="#2f5577"/></linearGradient></defs><path d="M3832,1271 L3832,1285 A33,20 0 0 0 3898,1285 L3898,1271 Z" fill="url(#gr3)"/><ellipse cx="3865" cy="1271" rx="33" ry="20" fill="#6fa3cc"/><ellipse cx="3865" cy="1272" rx="21" ry="12" fill="url(#gi3)"/><ellipse cx="3866" cy="1278" rx="13" ry="5" fill="#fff"/><polygon points="3885,1275 3898,1273 3898,1287 3887,1290" fill="#fff"/><polygon points="3887,1277 3892,1276 3892,1288 3887,1289" fill="#5a8cb3"/><polygon points="3861,1277 3885,1275 3887,1277 3863,1281" fill="#3f6584"/><rect x="3832" y="1277" width="24" height="24" fill="rgba(255,255,255,0.55)"/><circle cx="3835" cy="1299" r="12.5" fill="#fff" stroke="#777" stroke-width="1"/><circle cx="3835" cy="1299" r="8" fill="none" stroke="#777" stroke-width="1"/><path d="M3836,1302 L3844,1298" stroke="#f04848" stroke-width="2"/><path d="M3894.6,1324.8 A35,35 0 1 0 3904.4,1349" fill="none" stroke="#333" stroke-width="0.8"/><path d="M3894.6,1324.8 L3886.3,1332.1 M3904.4,1349 L3873.4,1349 L3873.4,1359 L3887.5,1359" fill="none" stroke="#333" stroke-width="0.8"/><path d="M3886.3,1332.1 A24.1,24.1 0 1 0 3887.5,1359" fill="none" stroke="#333" stroke-width="0.8"/><line x1="3826.4" y1="1349" x2="3912.4" y2="1349" stroke="#f4a0a0" stroke-width="0.8"/><line x1="3869.4" y1="1310" x2="3869.4" y2="1390" stroke="#9ad89a" stroke-width="0.8"/><circle cx="3869.4" cy="1349" r="1.5" fill="#22f"/><polygon points="3825.8,1460.0 3844.9,1470.5 3844.9,1490.9 3825.8,1480.0" fill="#3f6584"/><polygon points="3844.9,1470.5 3907.6,1434.5 3907.6,1458.4 3844.9,1490.9" fill="#6a9fc6"/><path d="M3825.8,1460.0 L3844.9,1470.5 L3907.6000000000004,1434.5 L3889.5,1422.7 Q3875.8,1428.7 3870.8,1438.7 Q3863.8,1448.7 3845.8,1448.7 Z" fill="#6fa3cc"/><rect x="3825.8" y="1440.7" width="38" height="30" fill="rgba(255,255,255,0.5)"/><rect x="3836.8" y="1430.7" width="8" height="26" fill="#fff" stroke="#444" stroke-width="0.9"/><line x1="3835.8" y1="1434.7" x2="3830.8" y2="1430.7" stroke="#f04848" stroke-width="2"/><circle cx="3830.8" cy="1430.7" r="2" fill="#f04848"/><path d="M3858,1498 L3874,1498 L3874,1562 L3858,1562 Q3846,1530 3858,1498 Z" fill="none" stroke="#333" stroke-width="0.9"/><line x1="3846" y1="1530" x2="3886" y2="1530" stroke="#f08080" stroke-width="0.7"/><line x1="3864" y1="1494" x2="3864" y2="1566" stroke="#70c070" stroke-width="0.7"/><text x="3842" y="1508" font-size="6" fill="#e06020" font-family="Liberation Sans">&lt;6</text><text x="3842" y="1554" font-size="6" fill="#e06020" font-family="Liberation Sans">&lt;6, 4</text><text x="4188" y="1282" font-family="'Liberation Sans',Arial,sans-serif" font-size="15" fill="#000" text-anchor="middle" >Sketch Transformation</text><text x="4531.7" y="1282" font-family="'Liberation Sans',Arial,sans-serif" font-size="15" fill="#000" text-anchor="middle" >Sketch Transformation</text><text x="4844" y="1282" font-family="'Liberation Sans',Arial,sans-serif" font-size="15" fill="#000" text-anchor="middle" >Sketch Transformation</text><text x="4016.75" y="1332" font-family="'Liberation Sans',Arial,sans-serif" font-size="15" fill="#000" text-anchor="middle" >CADSIG-Net</text><text x="4016.5" y="1421.8" font-family="'Liberation Sans',Arial,sans-serif" font-size="15" fill="#000" text-anchor="middle" >Ours</text><text x="4017.0" y="1512.6" font-family="'Liberation Sans',Arial,sans-serif" font-size="15" fill="#000" text-anchor="middle" >Ground Truth</text><text x="4115.8" y="1595.4" font-family="'Liberation Sans',Arial,sans-serif" font-size="15" fill="#000" text-anchor="middle" >Initial Model</text><text x="4262.7" y="1595.4" font-family="'Liberation Sans',Arial,sans-serif" font-size="15" fill="#000" text-anchor="middle" >Transformed Model</text><text x="4445" y="1595.4" font-family="'Liberation Sans',Arial,sans-serif" font-size="15" fill="#000" text-anchor="middle" >Initial Model</text><text x="4598.5" y="1595.4" font-family="'Liberation Sans',Arial,sans-serif" font-size="15" fill="#000" text-anchor="middle" >Transformed Model</text><text x="4777.5" y="1595.4" font-family="'Liberation Sans',Arial,sans-serif" font-size="15" fill="#000" text-anchor="middle" >Initial Model</text><text x="4923.7" y="1595.4" font-family="'Liberation Sans',Arial,sans-serif" font-size="15" fill="#000" text-anchor="middle" >Transformed Model</text><path d="M4160,1257 L4160,1231 L4187,1231 L4187,1223 L4198,1223 L4198,1243 L4220,1243 L4220,1257 Z" fill="none" stroke="#111" stroke-width="1.5"/><g stroke="#ee4b4b" stroke-width="2.5" stroke-linecap="round" stroke-linejoin="round" fill="none"><path d="M4160.0,1231.0 L4128.0,1240.0"/><path d="M4132.4,1234.6 L4128.0,1240.0 L4134.6,1242.3"/></g><path d="M4506,1222 L4562,1222 L4562,1255 L4558,1255 L4558,1259 L4506,1259 Z" fill="none" stroke="#111" stroke-width="1.5"/><g stroke="#ee4b4b" stroke-width="2.5" stroke-linecap="round" stroke-linejoin="round" fill="none"><path d="M4558.0,1255.0 L4541.0,1243.0"/><path d="M4548.0,1243.0 L4541.0,1243.0 L4543.4,1249.6"/></g><path d="M4819,1233 L4819,1247 L4881,1247 L4881,1241 L4828,1241 L4828,1233 Z" fill="none" stroke="#111" stroke-width="1.5"/><g stroke="#ee4b4b" stroke-width="2.5" stroke-linecap="round" stroke-linejoin="round" fill="none"><path d="M4879.0,1241.0 L4912.0,1246.0"/><path d="M4905.7,1249.1 L4912.0,1246.0 L4906.9,1241.2"/></g><polygon points="4079.3,1334.2 4139.9,1369.2 4139.9,1342.7 4079.3,1307.7" fill="#416481"/><polygon points="4170.2,1351.7 4139.9,1369.2 4139.9,1342.7 4170.2,1325.2" fill="#6a9fc5"/><polygon points="4109.6,1290.2 4170.2,1325.2 4139.9,1342.7 4079.3,1307.7" fill="#6ea3c8"/><polygon points="4139.9,1369.2 4155.1,1378.0 4155.1,1351.5 4139.9,1342.7" fill="#416481"/><polygon points="4167.2,1371.0 4155.1,1378.0 4155.1,1351.5 4167.2,1344.5" fill="#6a9fc5"/><polygon points="4152.0,1335.7 4167.2,1344.5 4155.1,1351.5 4139.9,1342.7" fill="#6ea3c8"/><polygon points="4226.0,1355.8 4276.3,1384.8 4276.3,1358.3 4226.0,1329.3" fill="#416481"/><polygon points="4306.6,1367.3 4276.3,1384.8 4276.3,1358.3 4306.6,1340.8" fill="#6a9fc5"/><polygon points="4256.3,1311.8 4306.6,1340.8 4276.3,1358.3 4226.0,1329.3" fill="#6ea3c8"/><polygon points="4276.3,1384.8 4291.5,1393.6 4291.5,1367.1 4276.3,1358.3" fill="#416481"/><polygon points="4303.6,1386.6 4291.5,1393.6 4291.5,1367.1 4303.6,1360.1" fill="#6a9fc5"/><polygon points="4288.4,1351.3 4303.6,1360.1 4291.5,1367.1 4276.3,1358.3" fill="#6ea3c8"/><polygon points="4385.0,1336.7 4461.2,1380.7 4461.2,1357.7 4385.0,1313.7" fill="#416481"/><polygon points="4510.1,1352.5 4461.2,1380.7 4461.2,1357.7 4510.1,1329.5" fill="#6a9fc5"/><polygon points="4433.8,1285.5 4510.1,1329.5 4461.2,1357.7 4385.0,1313.7" fill="#6ea3c8"/><polygon points="4445.2,1371.5 4449.5,1374.0 4449.5,1351.0 4445.2,1348.5" fill="#6a9fc5"/><polygon points="4535.5,1339.0 4611.7,1383.0 4611.7,1360.0 4535.5,1316.0" fill="#416481"/><polygon points="4660.6,1354.8 4611.7,1383.0 4611.7,1360.0 4660.6,1331.8" fill="#6a9fc5"/><polygon points="4584.3,1287.8 4660.6,1331.8 4611.7,1360.0 4535.5,1316.0" fill="#6ea3c8"/><polygon points="4610.0,1382.0 4614.3,1384.5 4614.3,1361.5 4610.0,1359.0" fill="#6a9fc5"/><polygon points="4736.1,1320.9 4746.5,1326.9 4746.5,1298.9 4736.1,1292.9" fill="#416481"/><polygon points="4757.7,1320.4 4746.5,1326.9 4746.5,1298.9 4757.7,1292.4" fill="#6a9fc5"/><polygon points="4747.3,1286.4 4757.7,1292.4 4746.5,1298.9 4736.1,1292.9" fill="#6ea3c8"/><polygon points="4724.8,1327.4 4810.2,1376.7 4810.2,1348.7 4724.8,1299.4" fill="#416481"/><polygon points="4821.4,1370.2 4810.2,1376.7 4810.2,1348.7 4821.4,1342.2" fill="#6a9fc5"/><polygon points="4736.1,1292.9 4821.4,1342.2 4810.2,1348.7 4724.8,1299.4" fill="#6ea3c8"/><polygon points="4875.3,1320.9 4885.7,1326.9 4885.7,1298.9 4875.3,1292.9" fill="#416481"/><polygon points="4896.9,1320.4 4885.7,1326.9 4885.7,1298.9 4896.9,1292.4" fill="#6a9fc5"/><polygon points="4886.5,1286.4 4896.9,1292.4 4885.7,1298.9 4875.3,1292.9" fill="#6ea3c8"/><polygon points="4864.0,1327.4 4950.0,1377.1 4950.0,1349.1 4864.0,1299.4" fill="#416481"/><polygon points="4961.3,1370.6 4950.0,1377.1 4950.0,1349.1 4961.3,1342.6" fill="#6a9fc5"/><polygon points="4875.3,1292.9 4961.3,1342.6 4950.0,1349.1 4864.0,1299.4" fill="#6ea3c8"/><polygon points="4079.3,1428.0 4139.9,1463.0 4139.9,1436.5 4079.3,1401.5" fill="#416481"/><polygon points="4170.2,1445.5 4139.9,1463.0 4139.9,1436.5 4170.2,1419.0" fill="#6a9fc5"/><polygon points="4109.6,1384.0 4170.2,1419.0 4139.9,1436.5 4079.3,1401.5" fill="#6ea3c8"/><polygon points="4139.9,1463.0 4155.1,1471.8 4155.1,1445.2 4139.9,1436.5" fill="#416481"/><polygon points="4167.2,1464.8 4155.1,1471.8 4155.1,1445.2 4167.2,1438.2" fill="#6a9fc5"/><polygon points="4152.0,1429.5 4167.2,1438.2 4155.1,1445.2 4139.9,1436.5" fill="#6ea3c8"/><polygon points="4204.0,1435.3 4271.1,1474.0 4271.1,1447.5 4204.0,1408.8" fill="#416481"/><polygon points="4301.4,1456.5 4271.1,1474.0 4271.1,1447.5 4301.4,1430.0" fill="#6a9fc5"/><polygon points="4234.3,1391.3 4301.4,1430.0 4271.1,1447.5 4204.0,1408.8" fill="#6ea3c8"/><polygon points="4271.1,1474.0 4286.3,1482.8 4286.3,1456.3 4271.1,1447.5" fill="#416481"/><polygon points="4298.4,1475.8 4286.3,1482.8 4286.3,1456.3 4298.4,1449.3" fill="#6a9fc5"/><polygon points="4283.2,1440.5 4298.4,1449.3 4286.3,1456.3 4271.1,1447.5" fill="#6ea3c8"/><polygon points="4385.0,1430.5 4461.2,1474.5 4461.2,1451.5 4385.0,1407.5" fill="#416481"/><polygon points="4510.1,1446.3 4461.2,1474.5 4461.2,1451.5 4510.1,1423.3" fill="#6a9fc5"/><polygon points="4433.8,1379.3 4510.1,1423.3 4461.2,1451.5 4385.0,1407.5" fill="#6ea3c8"/><polygon points="4445.2,1465.2 4449.5,1467.8 4449.5,1444.8 4445.2,1442.2" fill="#6a9fc5"/><polygon points="4537.5,1430.5 4613.7,1474.5 4613.7,1451.5 4537.5,1407.5" fill="#416481"/><polygon points="4662.6,1446.3 4613.7,1474.5 4613.7,1451.5 4662.6,1423.3" fill="#6a9fc5"/><polygon points="4586.3,1379.3 4662.6,1423.3 4613.7,1451.5 4537.5,1407.5" fill="#6ea3c8"/><polygon points="4590.9,1461.3 4595.3,1463.8 4595.3,1440.8 4590.9,1438.3" fill="#6a9fc5"/><polygon points="4736.1,1414.0 4746.5,1420.0 4746.5,1392.0 4736.1,1386.0" fill="#416481"/><polygon points="4757.7,1413.5 4746.5,1420.0 4746.5,1392.0 4757.7,1385.5" fill="#6a9fc5"/><polygon points="4747.3,1379.5 4757.7,1385.5 4746.5,1392.0 4736.1,1386.0" fill="#6ea3c8"/><polygon points="4724.8,1420.5 4810.2,1469.8 4810.2,1441.8 4724.8,1392.5" fill="#416481"/><polygon points="4821.4,1463.3 4810.2,1469.8 4810.2,1441.8 4821.4,1435.3" fill="#6a9fc5"/><polygon points="4736.1,1386.0 4821.4,1435.3 4810.2,1441.8 4724.8,1392.5" fill="#6ea3c8"/><polygon points="4871.2,1418.5 4881.6,1424.5 4881.6,1396.5 4871.2,1390.5" fill="#416481"/><polygon points="4900.6,1413.5 4881.6,1424.5 4881.6,1396.5 4900.6,1385.5" fill="#6a9fc5"/><polygon points="4890.2,1379.5 4900.6,1385.5 4881.6,1396.5 4871.2,1390.5" fill="#6ea3c8"/><polygon points="4867.7,1420.5 4963.8,1476.0 4963.8,1448.0 4867.7,1392.5" fill="#416481"/><polygon points="4967.3,1474.0 4963.8,1476.0 4963.8,1448.0 4967.3,1446.0" fill="#6a9fc5"/><polygon points="4871.2,1390.5 4967.3,1446.0 4963.8,1448.0 4867.7,1392.5" fill="#6ea3c8"/><polygon points="4079.3,1522.4 4139.9,1557.4 4139.9,1530.9 4079.3,1495.9" fill="#416481"/><polygon points="4170.2,1539.9 4139.9,1557.4 4139.9,1530.9 4170.2,1513.4" fill="#6a9fc5"/><polygon points="4109.6,1478.4 4170.2,1513.4 4139.9,1530.9 4079.3,1495.9" fill="#6ea3c8"/><polygon points="4139.9,1557.4 4155.1,1566.2 4155.1,1539.7 4139.9,1530.9" fill="#416481"/><polygon points="4167.2,1559.2 4155.1,1566.2 4155.1,1539.7 4167.2,1532.7" fill="#6a9fc5"/><polygon points="4152.0,1523.9 4167.2,1532.7 4155.1,1539.7 4139.9,1530.9" fill="#6ea3c8"/><polygon points="4204.0,1529.7 4271.1,1568.5 4271.1,1542.0 4204.0,1503.2" fill="#416481"/><polygon points="4301.4,1551.0 4271.1,1568.5 4271.1,1542.0 4301.4,1524.5" fill="#6a9fc5"/><polygon points="4234.3,1485.7 4301.4,1524.5 4271.1,1542.0 4204.0,1503.2" fill="#6ea3c8"/><polygon points="4271.1,1568.5 4286.3,1577.2 4286.3,1550.7 4271.1,1542.0" fill="#416481"/><polygon points="4298.4,1570.2 4286.3,1577.2 4286.3,1550.7 4298.4,1543.7" fill="#6a9fc5"/><polygon points="4283.2,1535.0 4298.4,1543.7 4286.3,1550.7 4271.1,1542.0" fill="#6ea3c8"/><polygon points="4385.0,1524.9 4461.2,1568.9 4461.2,1545.9 4385.0,1501.9" fill="#416481"/><polygon points="4510.1,1540.7 4461.2,1568.9 4461.2,1545.9 4510.1,1517.7" fill="#6a9fc5"/><polygon points="4433.8,1473.7 4510.1,1517.7 4461.2,1545.9 4385.0,1501.9" fill="#6ea3c8"/><polygon points="4445.2,1559.7 4449.5,1562.2 4449.5,1539.2 4445.2,1536.7" fill="#6a9fc5"/><polygon points="4537.5,1524.9 4613.7,1568.9 4613.7,1545.9 4537.5,1501.9" fill="#416481"/><polygon points="4662.6,1540.7 4613.7,1568.9 4613.7,1545.9 4662.6,1517.7" fill="#6a9fc5"/><polygon points="4586.3,1473.7 4662.6,1517.7 4613.7,1545.9 4537.5,1501.9" fill="#6ea3c8"/><polygon points="4590.9,1555.8 4595.3,1558.2 4595.3,1535.2 4590.9,1532.8" fill="#6a9fc5"/><polygon points="4736.1,1508.8 4746.5,1514.8 4746.5,1486.8 4736.1,1480.8" fill="#416481"/><polygon points="4757.7,1508.3 4746.5,1514.8 4746.5,1486.8 4757.7,1480.3" fill="#6a9fc5"/><polygon points="4747.3,1474.3 4757.7,1480.3 4746.5,1486.8 4736.1,1480.8" fill="#6ea3c8"/><polygon points="4724.8,1515.3 4810.2,1564.6 4810.2,1536.6 4724.8,1487.3" fill="#416481"/><polygon points="4821.4,1558.1 4810.2,1564.6 4810.2,1536.6 4821.4,1530.1" fill="#6a9fc5"/><polygon points="4736.1,1480.8 4821.4,1530.1 4810.2,1536.6 4724.8,1487.3" fill="#6ea3c8"/><polygon points="4871.2,1513.3 4881.6,1519.3 4881.6,1491.3 4871.2,1485.3" fill="#416481"/><polygon points="4900.6,1508.3 4881.6,1519.3 4881.6,1491.3 4900.6,1480.3" fill="#6a9fc5"/><polygon points="4890.2,1474.3 4900.6,1480.3 4881.6,1491.3 4871.2,1485.3" fill="#6ea3c8"/><polygon points="4867.7,1515.3 4963.8,1570.8 4963.8,1542.8 4867.7,1487.3" fill="#416481"/><polygon points="4967.3,1568.8 4963.8,1570.8 4963.8,1542.8 4967.3,1540.8" fill="#6a9fc5"/><polygon points="4871.2,1485.3 4967.3,1540.8 4963.8,1542.8 4867.7,1487.3" fill="#6ea3c8"/></g></svg>
<svg class="a" style="left:3440px;top:1870px;" width="1590" height="360" viewBox="0 0 1590 360"><g transform="translate(-3440,-1870)"><path d="M3451.5,1922 Q3457.5,1908 3475.5,1916 Q3501.5,1926 3505.5,1936 L3503.5,1946" fill="none" stroke="#5a5a5a" stroke-width="7" stroke-linejoin="round"/><polygon points="3459.5,1999.0 3489.0,2016.0 3489.0,1994.0 3459.5,1977.0" fill="#383838"/><polygon points="3511.5,2003.0 3489.0,2016.0 3489.0,1994.0 3511.5,1981.0" fill="#474747"/><polygon points="3482.0,1964.0 3511.5,1981.0 3489.0,1994.0 3459.5,1977.0" fill="#5a5a5a"/><path d="M3457.5,1976 l4,-6 l4,6 l4,-6 l4,6 l4,-6 l4,6" stroke="#383838" fill="none" stroke-width="2"/><path d="M3463.5,2063.7 L3499.5,2031.6999999999998 L3497.5,2067.7 Z" fill="none" stroke="#5a5a5a" stroke-width="7" stroke-linejoin="round"/><path d="M3469.5,2067.7 L3495.5,2079.7" stroke="#383838" stroke-width="4"/><polygon points="3461.3,2138.5 3487.2,2153.5 3487.2,2127.5 3461.3,2112.5" fill="#383838"/><polygon points="3509.7,2140.5 3487.2,2153.5 3487.2,2127.5 3509.7,2114.5" fill="#474747"/><polygon points="3483.8,2099.5 3509.7,2114.5 3487.2,2127.5 3461.3,2112.5" fill="#5a5a5a"/><ellipse cx="3507.5" cy="2106.5" rx="7" ry="10" fill="#5a5a5a"/><ellipse cx="3555" cy="1916" rx="10" ry="6" fill="#72a6d0"/><ellipse cx="3585" cy="1940" rx="10" ry="6" fill="#72a6d0"/><ellipse cx="3561" cy="1912" rx="7" ry="4" fill="#72a6d0"/><ellipse cx="3595" cy="1936" rx="7" ry="4" fill="#72a6d0"/><polygon points="3541.0,1990.0 3577.0,1970.0 3579.0,1966.0 3591.0,1972.0 3617.0,1996.0 3579.0,2016.0" fill="#72a6d0"/><path d="M3545,2075.7 L3605,2035.6999999999998" stroke="#72a6d0" stroke-width="7" stroke-linecap="round"/><polygon points="3550.8,2138.5 3576.7,2153.5 3576.7,2127.5 3550.8,2112.5" fill="#4a7599"/><polygon points="3599.2,2140.5 3576.7,2153.5 3576.7,2127.5 3599.2,2114.5" fill="#5d8fb9"/><polygon points="3573.3,2099.5 3599.2,2114.5 3576.7,2127.5 3550.8,2112.5" fill="#72a6d0"/><ellipse cx="3597" cy="2106.5" rx="7" ry="10" fill="#72a6d0"/><path d="M3631,1922 Q3637,1908 3655,1916 Q3681,1926 3685,1936 L3683,1946" fill="none" stroke="#72a6d0" stroke-width="7" stroke-linejoin="round"/><polygon points="3639.0,1999.0 3668.5,2016.0 3668.5,1994.0 3639.0,1977.0" fill="#4a7599"/><polygon points="3691.0,2003.0 3668.5,2016.0 3668.5,1994.0 3691.0,1981.0" fill="#5d8fb9"/><polygon points="3661.5,1964.0 3691.0,1981.0 3668.5,1994.0 3639.0,1977.0" fill="#72a6d0"/><path d="M3643,2063.7 L3679,2031.6999999999998 L3677,2067.7 Z" fill="none" stroke="#72a6d0" stroke-width="7" stroke-linejoin="round"/><path d="M3649,2067.7 L3675,2079.7" stroke="#4a7599" stroke-width="4"/><polygon points="3640.8,2138.5 3666.7,2153.5 3666.7,2127.5 3640.8,2112.5" fill="#4a7599"/><polygon points="3689.2,2140.5 3666.7,2153.5 3666.7,2127.5 3689.2,2114.5" fill="#5d8fb9"/><polygon points="3663.3,2099.5 3689.2,2114.5 3666.7,2127.5 3640.8,2112.5" fill="#72a6d0"/><ellipse cx="3687" cy="2106.5" rx="7" ry="10" fill="#72a6d0"/><path d="M3720,1922 Q3726,1908 3744,1916 Q3770,1926 3774,1936 L3772,1946" fill="none" stroke="#72a6d0" stroke-width="7" stroke-linejoin="round"/><polygon points="3728.0,1999.0 3757.5,2016.0 3757.5,1994.0 3728.0,1977.0" fill="#4a7599"/><polygon points="3780.0,2003.0 3757.5,2016.0 3757.5,1994.0 3780.0,1981.0" fill="#5d8fb9"/><polygon points="3750.5,1964.0 3780.0,1981.0 3757.5,1994.0 3728.0,1977.0" fill="#72a6d0"/><path d="M3732,2063.7 L3768,2031.6999999999998 L3766,2067.7 Z" fill="none" stroke="#72a6d0" stroke-width="7" stroke-linejoin="round"/><path d="M3738,2067.7 L3764,2079.7" stroke="#4a7599" stroke-width="4"/><polygon points="3729.8,2138.5 3755.7,2153.5 3755.7,2127.5 3729.8,2112.5" fill="#4a7599"/><polygon points="3778.2,2140.5 3755.7,2153.5 3755.7,2127.5 3778.2,2114.5" fill="#5d8fb9"/><polygon points="3752.3,2099.5 3778.2,2114.5 3755.7,2127.5 3729.8,2112.5" fill="#72a6d0"/><ellipse cx="3776" cy="2106.5" rx="7" ry="10" fill="#72a6d0"/><ellipse cx="3834" cy="1920" rx="13" ry="10" fill="none" stroke="#5a5a5a" stroke-width="6"/><path d="M3844,1928 L3870,1944" stroke="#5a5a5a" stroke-width="6" stroke-linecap="round"/><ellipse cx="3844" cy="1992" rx="20" ry="24" fill="#5a5a5a" stroke="#383838" stroke-width="3"/><ellipse cx="3844" cy="1992" rx="8" ry="10" fill="#fff"/><circle cx="3858.0" cy="1992.0" r="2" fill="#383838"/><circle cx="3851.0" cy="2006.7" r="2" fill="#383838"/><circle cx="3837.0" cy="2006.7" r="2" fill="#383838"/><circle cx="3830.0" cy="1992.0" r="2" fill="#383838"/><circle cx="3837.0" cy="1977.3" r="2" fill="#383838"/><circle cx="3851.0" cy="1977.3" r="2" fill="#383838"/><polygon points="3826.7,2085.7 3844.0,2095.7 3844.0,2053.7 3826.7,2043.7" fill="#383838"/><polygon points="3861.3,2085.7 3844.0,2095.7 3844.0,2053.7 3861.3,2043.7" fill="#474747"/><polygon points="3844.0,2033.7 3861.3,2043.7 3844.0,2053.7 3826.7,2043.7" fill="#5a5a5a"/><polygon points="3823.9,2137.5 3834.3,2143.5 3834.3,2127.5 3823.9,2121.5" fill="#383838"/><polygon points="3844.7,2137.5 3834.3,2143.5 3834.3,2127.5 3844.7,2121.5" fill="#474747"/><polygon points="3834.3,2115.5 3844.7,2121.5 3834.3,2127.5 3823.9,2121.5" fill="#5a5a5a"/><path d="M3838,2122.5 L3872,2104.5" stroke="#5a5a5a" stroke-width="6" stroke-linecap="round"/><polygon points="3898.0,1912.0 3914.0,1904.0 3938.0,1918.0 3978.0,1942.0 3948.0,1950.0 3936.0,1936.0 3912.0,1928.0" fill="#72a6d0"/><ellipse cx="3934" cy="1992" rx="20" ry="24" fill="#72a6d0" stroke="#4a7599" stroke-width="3"/><ellipse cx="3934" cy="1992" rx="8" ry="10" fill="#fff"/><circle cx="3948.0" cy="1992.0" r="2" fill="#4a7599"/><circle cx="3941.0" cy="2006.7" r="2" fill="#4a7599"/><circle cx="3927.0" cy="2006.7" r="2" fill="#4a7599"/><circle cx="3920.0" cy="1992.0" r="2" fill="#4a7599"/><circle cx="3927.0" cy="1977.3" r="2" fill="#4a7599"/><circle cx="3941.0" cy="1977.3" r="2" fill="#4a7599"/><polygon points="3916.7,2085.7 3934.0,2095.7 3934.0,2053.7 3916.7,2043.7" fill="#4a7599"/><polygon points="3951.3,2085.7 3934.0,2095.7 3934.0,2053.7 3951.3,2043.7" fill="#5d8fb9"/><polygon points="3934.0,2033.7 3951.3,2043.7 3934.0,2053.7 3916.7,2043.7" fill="#72a6d0"/><polygon points="3909.8,2136.5 3935.7,2151.5 3935.7,2141.5 3909.8,2126.5" fill="#4a7599"/><polygon points="3958.2,2138.5 3935.7,2151.5 3935.7,2141.5 3958.2,2128.5" fill="#5d8fb9"/><polygon points="3932.3,2113.5 3958.2,2128.5 3935.7,2141.5 3909.8,2126.5" fill="#72a6d0"/><polygon points="3921.9,2121.5 3932.3,2127.5 3932.3,2109.5 3921.9,2103.5" fill="#4a7599"/><polygon points="3942.7,2121.5 3932.3,2127.5 3932.3,2109.5 3942.7,2103.5" fill="#5d8fb9"/><polygon points="3932.3,2097.5 3942.7,2103.5 3932.3,2109.5 3921.9,2103.5" fill="#72a6d0"/><polygon points="3935.7,2129.5 3947.9,2136.5 3947.9,2122.5 3935.7,2115.5" fill="#4a7599"/><polygon points="3960.0,2129.5 3947.9,2136.5 3947.9,2122.5 3960.0,2115.5" fill="#5d8fb9"/><polygon points="3947.9,2108.5 3960.0,2115.5 3947.9,2122.5 3935.7,2115.5" fill="#72a6d0"/><polygon points="3906.3,2126.5 3914.9,2131.5 3914.9,2109.5 3906.3,2104.5" fill="#4a7599"/><polygon points="3923.6,2126.5 3914.9,2131.5 3914.9,2109.5 3923.6,2104.5" fill="#5d8fb9"/><polygon points="3914.9,2099.5 3923.6,2104.5 3914.9,2109.5 3906.3,2104.5" fill="#72a6d0"/><ellipse cx="4013" cy="1920" rx="13" ry="10" fill="none" stroke="#72a6d0" stroke-width="6"/><path d="M4023,1928 L4049,1944" stroke="#72a6d0" stroke-width="6" stroke-linecap="round"/><ellipse cx="4023" cy="1992" rx="20" ry="24" fill="#72a6d0" stroke="#4a7599" stroke-width="3"/><ellipse cx="4023" cy="1992" rx="8" ry="10" fill="#fff"/><circle cx="4037.0" cy="1992.0" r="2" fill="#4a7599"/><circle cx="4030.0" cy="2006.7" r="2" fill="#4a7599"/><circle cx="4016.0" cy="2006.7" r="2" fill="#4a7599"/><circle cx="4009.0" cy="1992.0" r="2" fill="#4a7599"/><circle cx="4016.0" cy="1977.3" r="2" fill="#4a7599"/><circle cx="4030.0" cy="1977.3" r="2" fill="#4a7599"/><polygon points="4005.7,2085.7 4023.0,2095.7 4023.0,2053.7 4005.7,2043.7" fill="#4a7599"/><polygon points="4040.3,2085.7 4023.0,2095.7 4023.0,2053.7 4040.3,2043.7" fill="#5d8fb9"/><polygon points="4023.0,2033.7 4040.3,2043.7 4023.0,2053.7 4005.7,2043.7" fill="#72a6d0"/><polygon points="4002.9,2137.5 4013.3,2143.5 4013.3,2127.5 4002.9,2121.5" fill="#4a7599"/><polygon points="4023.7,2137.5 4013.3,2143.5 4013.3,2127.5 4023.7,2121.5" fill="#5d8fb9"/><polygon points="4013.3,2115.5 4023.7,2121.5 4013.3,2127.5 4002.9,2121.5" fill="#72a6d0"/><path d="M4017,2122.5 L4051,2104.5" stroke="#72a6d0" stroke-width="6" stroke-linecap="round"/><ellipse cx="4102.4" cy="1920" rx="13" ry="10" fill="none" stroke="#72a6d0" stroke-width="6"/><path d="M4112.4,1928 L4138.4,1944" stroke="#72a6d0" stroke-width="6" stroke-linecap="round"/><ellipse cx="4112.4" cy="1992" rx="20" ry="24" fill="#72a6d0" stroke="#4a7599" stroke-width="3"/><ellipse cx="4112.4" cy="1992" rx="8" ry="10" fill="#fff"/><circle cx="4126.4" cy="1992.0" r="2" fill="#4a7599"/><circle cx="4119.4" cy="2006.7" r="2" fill="#4a7599"/><circle cx="4105.4" cy="2006.7" r="2" fill="#4a7599"/><circle cx="4098.4" cy="1992.0" r="2" fill="#4a7599"/><circle cx="4105.4" cy="1977.3" r="2" fill="#4a7599"/><circle cx="4119.4" cy="1977.3" r="2" fill="#4a7599"/><polygon points="4095.1,2085.7 4112.4,2095.7 4112.4,2053.7 4095.1,2043.7" fill="#4a7599"/><polygon points="4129.7,2085.7 4112.4,2095.7 4112.4,2053.7 4129.7,2043.7" fill="#5d8fb9"/><polygon points="4112.4,2033.7 4129.7,2043.7 4112.4,2053.7 4095.1,2043.7" fill="#72a6d0"/><polygon points="4092.3,2137.5 4102.7,2143.5 4102.7,2127.5 4092.3,2121.5" fill="#4a7599"/><polygon points="4113.1,2137.5 4102.7,2143.5 4102.7,2127.5 4113.1,2121.5" fill="#5d8fb9"/><polygon points="4102.7,2115.5 4113.1,2121.5 4102.7,2127.5 4092.3,2121.5" fill="#72a6d0"/><path d="M4106.4,2122.5 L4140.4,2104.5" stroke="#72a6d0" stroke-width="6" stroke-linecap="round"/><text x="3485.5" y="2172.6" font-family="'Liberation Sans',Arial,sans-serif" font-size="11.5" fill="#000" text-anchor="middle" >Input Scan</text><text x="3575" y="2172.6" font-family="'Liberation Sans',Arial,sans-serif" font-size="11.5" fill="#000" text-anchor="middle" >CAD-SIGNET</text><text x="3665" y="2172.6" font-family="'Liberation Sans',Arial,sans-serif" font-size="11.5" fill="#000" text-anchor="middle" >Ours</text><text x="3754" y="2172.6" font-family="'Liberation Sans',Arial,sans-serif" font-size="11.5" fill="#000" text-anchor="middle" >Ground Truth</text><text x="3844" y="2172.6" font-family="'Liberation Sans',Arial,sans-serif" font-size="11.5" fill="#000" text-anchor="middle" >Input Scan</text><text x="3934" y="2172.6" font-family="'Liberation Sans',Arial,sans-serif" font-size="11.5" fill="#000" text-anchor="middle" >CAD-SIGNET</text><text x="4023" y="2172.6" font-family="'Liberation Sans',Arial,sans-serif" font-size="11.5" fill="#000" text-anchor="middle" >Ours</text><text x="4112.4" y="2172.6" font-family="'Liberation Sans',Arial,sans-serif" font-size="11.5" fill="#000" text-anchor="middle" >Ground Truth</text><text x="3485.5" y="2210.7" font-family="'Liberation Serif','Times New Roman',serif" font-size="21" fill="#000" textLength="632">Qualitative comparison of the performance on real-world scans from CC3D.</text><text x="4232.6" y="1902" font-family="'Liberation Serif','Times New Roman',serif" font-size="21" fill="#000" textLength="294">Effect of contextual embeddings on</text><text x="4232.6" y="1930" font-family="'Liberation Serif','Times New Roman',serif" font-size="21" fill="#000" >plane detection performance.</text><rect x="4231" y="1947.5" width="343" height="1.8" fill="#111"/><rect x="4231" y="1977.5" width="343" height="1.2" fill="#111"/><rect x="4231" y="2026.5" width="343" height="1.8" fill="#111"/><text x="4239" y="1968" font-family="'Liberation Serif','Times New Roman',serif" font-size="17.5" fill="#000" >Contextual Emb.</text><text x="4410" y="1968" font-family="'Liberation Serif','Times New Roman',serif" font-size="17.5" fill="#000" text-anchor="middle" >Precision</text><text x="4484" y="1968" font-family="'Liberation Serif','Times New Roman',serif" font-size="17.5" fill="#000" text-anchor="middle" >Recall</text><text x="4544" y="1968" font-family="'Liberation Serif','Times New Roman',serif" font-size="17.5" fill="#000" text-anchor="middle" >F1</text><text x="4299" y="1997" font-family="'Liberation Serif','Times New Roman',serif" font-size="17.5" fill="#000" text-anchor="middle" >✗</text><text x="4299" y="2017" font-family="'Liberation Serif','Times New Roman',serif" font-size="17.5" fill="#000" text-anchor="middle" >✓</text><text x="4410" y="1997" font-family="'Liberation Serif','Times New Roman',serif" font-size="17.5" fill="#000" text-anchor="middle" >0.317</text><text x="4410" y="2017" font-family="'Liberation Serif','Times New Roman',serif" font-size="17.5" fill="#000" font-weight="700" text-anchor="middle" >0.894</text><text x="4484" y="1997" font-family="'Liberation Serif','Times New Roman',serif" font-size="17.5" fill="#000" text-anchor="middle" >0.292</text><text x="4484" y="2017" font-family="'Liberation Serif','Times New Roman',serif" font-size="17.5" fill="#000" font-weight="700" text-anchor="middle" >0.864</text><text x="4544" y="1997" font-family="'Liberation Serif','Times New Roman',serif" font-size="17.5" fill="#000" text-anchor="middle" >0.296</text><text x="4544" y="2017" font-family="'Liberation Serif','Times New Roman',serif" font-size="17.5" fill="#000" font-weight="700" text-anchor="middle" >0.870</text><text x="4239" y="2080.5" font-family="'Liberation Serif','Times New Roman',serif" font-size="21" fill="#000" textLength="293">Plane detection performance across</text><text x="4239" y="2109" font-family="'Liberation Serif','Times New Roman',serif" font-size="21" fill="#000" >datasets.</text><rect x="4239" y="2123" width="300" height="1.8" fill="#111"/><rect x="4239" y="2152" width="300" height="1.2" fill="#111"/><rect x="4239" y="2220" width="300" height="1.8" fill="#111"/><text x="4248" y="2144" font-family="'Liberation Serif','Times New Roman',serif" font-size="17.5" fill="#000" >Dataset</text><text x="4374.8" y="2144" font-family="'Liberation Serif','Times New Roman',serif" font-size="17.5" fill="#000" text-anchor="middle" >Precision</text><text x="4448" y="2144" font-family="'Liberation Serif','Times New Roman',serif" font-size="17.5" fill="#000" text-anchor="middle" >Recall</text><text x="4508" y="2144" font-family="'Liberation Serif','Times New Roman',serif" font-size="17.5" fill="#000" text-anchor="middle" >F1</text><text x="4248" y="2172" font-family="'Liberation Serif','Times New Roman',serif" font-size="17.5" fill="#000" >DeepCAD</text><text x="4374.8" y="2172" font-family="'Liberation Serif','Times New Roman',serif" font-size="17.5" fill="#000" text-anchor="middle" >0.894</text><text x="4448" y="2172" font-family="'Liberation Serif','Times New Roman',serif" font-size="17.5" fill="#000" text-anchor="middle" >0.864</text><text x="4508" y="2172" font-family="'Liberation Serif','Times New Roman',serif" font-size="17.5" fill="#000" text-anchor="middle" >0.870</text><text x="4248" y="2191.3" font-family="'Liberation Serif','Times New Roman',serif" font-size="17.5" fill="#000" >Fusion360</text><text x="4374.8" y="2191.3" font-family="'Liberation Serif','Times New Roman',serif" font-size="17.5" fill="#000" text-anchor="middle" >0.860</text><text x="4448" y="2191.3" font-family="'Liberation Serif','Times New Roman',serif" font-size="17.5" fill="#000" text-anchor="middle" >0.812</text><text x="4508" y="2191.3" font-family="'Liberation Serif','Times New Roman',serif" font-size="17.5" fill="#000" text-anchor="middle" >0.820</text><text x="4248" y="2210.7" font-family="'Liberation Serif','Times New Roman',serif" font-size="17.5" fill="#000" >CC3D</text><text x="4374.8" y="2210.7" font-family="'Liberation Serif','Times New Roman',serif" font-size="17.5" fill="#000" text-anchor="middle" >0.803</text><text x="4448" y="2210.7" font-family="'Liberation Serif','Times New Roman',serif" font-size="17.5" fill="#000" text-anchor="middle" >0.790</text><text x="4508" y="2210.7" font-family="'Liberation Serif','Times New Roman',serif" font-size="17.5" fill="#000" text-anchor="middle" >0.777</text><text x="4604" y="1902" font-family="'Liberation Serif','Times New Roman',serif" font-size="21" fill="#000" textLength="411">CD and ECD performance and inference times as</text><text x="4604" y="1930" font-family="'Liberation Serif','Times New Roman',serif" font-size="21" fill="#000" >a function of the number of extrusion vectors.</text><rect x="4648.6" y="1965.6" width="299.09999999999945" height="226.4000000000001" fill="none" stroke="#222" stroke-width="1"/><line x1="4690.0" y1="1965.6" x2="4690.0" y2="2192" stroke="#ddd" stroke-width="0.8" stroke-dasharray="2,2"/><text x="4690.0" y="2205" font-size="10" text-anchor="middle" font-family="Liberation Sans">2.5</text><line x1="4735.1" y1="1965.6" x2="4735.1" y2="2192" stroke="#ddd" stroke-width="0.8" stroke-dasharray="2,2"/><text x="4735.1" y="2205" font-size="10" text-anchor="middle" font-family="Liberation Sans">5.0</text><line x1="4780.1" y1="1965.6" x2="4780.1" y2="2192" stroke="#ddd" stroke-width="0.8" stroke-dasharray="2,2"/><text x="4780.1" y="2205" font-size="10" text-anchor="middle" font-family="Liberation Sans">7.5</text><line x1="4825.2" y1="1965.6" x2="4825.2" y2="2192" stroke="#ddd" stroke-width="0.8" stroke-dasharray="2,2"/><text x="4825.2" y="2205" font-size="10" text-anchor="middle" font-family="Liberation Sans">10.0</text><line x1="4870.2" y1="1965.6" x2="4870.2" y2="2192" stroke="#ddd" stroke-width="0.8" stroke-dasharray="2,2"/><text x="4870.2" y="2205" font-size="10" text-anchor="middle" font-family="Liberation Sans">12.5</text><line x1="4915.3" y1="1965.6" x2="4915.3" y2="2192" stroke="#ddd" stroke-width="0.8" stroke-dasharray="2,2"/><text x="4915.3" y="2205" font-size="10" text-anchor="middle" font-family="Liberation Sans">15.0</text><line x1="4648.6" y1="2192.0" x2="4947.7" y2="2192.0" stroke="#ddd" stroke-width="0.8" stroke-dasharray="2,2"/><text x="4643.6" y="2195.5" font-size="10" text-anchor="end" font-family="Liberation Sans">0.0</text><line x1="4648.6" y1="2146.7" x2="4947.7" y2="2146.7" stroke="#ddd" stroke-width="0.8" stroke-dasharray="2,2"/><text x="4643.6" y="2150.2" font-size="10" text-anchor="end" font-family="Liberation Sans">0.5</text><line x1="4648.6" y1="2101.4" x2="4947.7" y2="2101.4" stroke="#ddd" stroke-width="0.8" stroke-dasharray="2,2"/><text x="4643.6" y="2104.9" font-size="10" text-anchor="end" font-family="Liberation Sans">1.0</text><line x1="4648.6" y1="2056.2" x2="4947.7" y2="2056.2" stroke="#ddd" stroke-width="0.8" stroke-dasharray="2,2"/><text x="4643.6" y="2059.7" font-size="10" text-anchor="end" font-family="Liberation Sans">1.5</text><line x1="4648.6" y1="2010.9" x2="4947.7" y2="2010.9" stroke="#ddd" stroke-width="0.8" stroke-dasharray="2,2"/><text x="4643.6" y="2014.4" font-size="10" text-anchor="end" font-family="Liberation Sans">2.0</text><line x1="4648.6" y1="1965.6" x2="4947.7" y2="1965.6" stroke="#ddd" stroke-width="0.8" stroke-dasharray="2,2"/><text x="4643.6" y="1969.1" font-size="10" text-anchor="end" font-family="Liberation Sans">2.5</text><text x="4952.7" y="2195.5" font-size="10" font-family="Liberation Sans">10</text><text x="4952.7" y="2165.3" font-size="10" font-family="Liberation Sans">12</text><text x="4952.7" y="2135.1" font-size="10" font-family="Liberation Sans">14</text><text x="4952.7" y="2104.9" font-size="10" font-family="Liberation Sans">16</text><text x="4952.7" y="2074.8" font-size="10" font-family="Liberation Sans">18</text><text x="4952.7" y="2044.6" font-size="10" font-family="Liberation Sans">20</text><text x="4952.7" y="2014.4" font-size="10" font-family="Liberation Sans">22</text><text x="4952.7" y="1984.2" font-size="10" font-family="Liberation Sans">24</text><text x="4798.1" y="2217" font-size="8" text-anchor="middle" font-family="Liberation Sans">Number of Vectors</text><text transform="translate(4621.6,2078.8) rotate(-90)" font-size="7" text-anchor="middle" font-family="Liberation Sans">Distance (CD/ECD)</text><text transform="translate(4974.7,2078.8) rotate(-90)" font-size="7" text-anchor="middle" font-family="Liberation Sans">Time (s)</text><polyline points="4663.0,2140.4 4681.0,2167.5 4717.1,2175.7 4789.1,2173.9 4933.3,2169.4" fill="none" stroke="#5b9bd5" stroke-width="1.5"/><polyline points="4663.0,1985.5 4681.0,2087.9 4717.1,2140.4 4789.1,2150.3 4933.3,2126.8" fill="none" stroke="#2ca02c" stroke-width="1.5"/><polyline points="4663.0,2086.3 4681.0,2065.2 4717.1,2056.2 4789.1,2036.5 4933.3,2010.9" fill="none" stroke="#444" stroke-width="1.5" stroke-dasharray="5,3"/><rect x="4660.0" y="2137.4" width="6" height="6" fill="#5b9bd5"/><rect x="4678.0" y="2164.5" width="6" height="6" fill="#5b9bd5"/><rect x="4714.1" y="2172.7" width="6" height="6" fill="#5b9bd5"/><rect x="4786.1" y="2170.9" width="6" height="6" fill="#5b9bd5"/><rect x="4930.3" y="2166.4" width="6" height="6" fill="#5b9bd5"/><polygon points="4663.0,1981.5 4667.0,1988.5 4659.0,1988.5" fill="#2ca02c"/><polygon points="4681.0,2083.9 4685.0,2090.9 4677.0,2090.9" fill="#2ca02c"/><polygon points="4717.1,2136.4 4721.1,2143.4 4713.1,2143.4" fill="#2ca02c"/><polygon points="4789.1,2146.3 4793.1,2153.3 4785.1,2153.3" fill="#2ca02c"/><polygon points="4933.3,2122.8 4937.3,2129.8 4929.3,2129.8" fill="#2ca02c"/><polygon points="4663.0,2082.3 4667.0,2086.3 4663.0,2090.3 4659.0,2086.3" fill="#444"/><polygon points="4681.0,2061.2 4685.0,2065.2 4681.0,2069.2 4677.0,2065.2" fill="#444"/><polygon points="4717.1,2052.2 4721.1,2056.2 4717.1,2060.2 4713.1,2056.2" fill="#444"/><polygon points="4789.1,2032.5 4793.1,2036.5 4789.1,2040.5 4785.1,2036.5" fill="#444"/><polygon points="4933.3,2006.9 4937.3,2010.9 4933.3,2014.9 4929.3,2010.9" fill="#444"/><rect x="4742" y="1972" width="108" height="50" fill="#fff" stroke="#ccc" stroke-width="0.8" rx="2"/><line x1="4747" y1="1983" x2="4767" y2="1983" stroke="#5b9bd5" stroke-width="1.5"/><rect x="4754" y="1980" width="6" height="6" fill="#5b9bd5"/><text x="4774" y="1987" font-size="11" font-family="Liberation Sans">Median CD</text><line x1="4747" y1="1999" x2="4767" y2="1999" stroke="#2ca02c" stroke-width="1.5"/><rect x="4754" y="1996" width="6" height="6" fill="#2ca02c"/><text x="4774" y="2003" font-size="11" font-family="Liberation Sans">Median ECD</text><line x1="4747" y1="2015" x2="4767" y2="2015" stroke="#444" stroke-width="1.5" stroke-dasharray="4,2"/><rect x="4754" y="2012" width="6" height="6" fill="#444"/><text x="4774" y="2019" font-size="11" font-family="Liberation Sans">Time (s)</text></g></svg>
</body></html>
